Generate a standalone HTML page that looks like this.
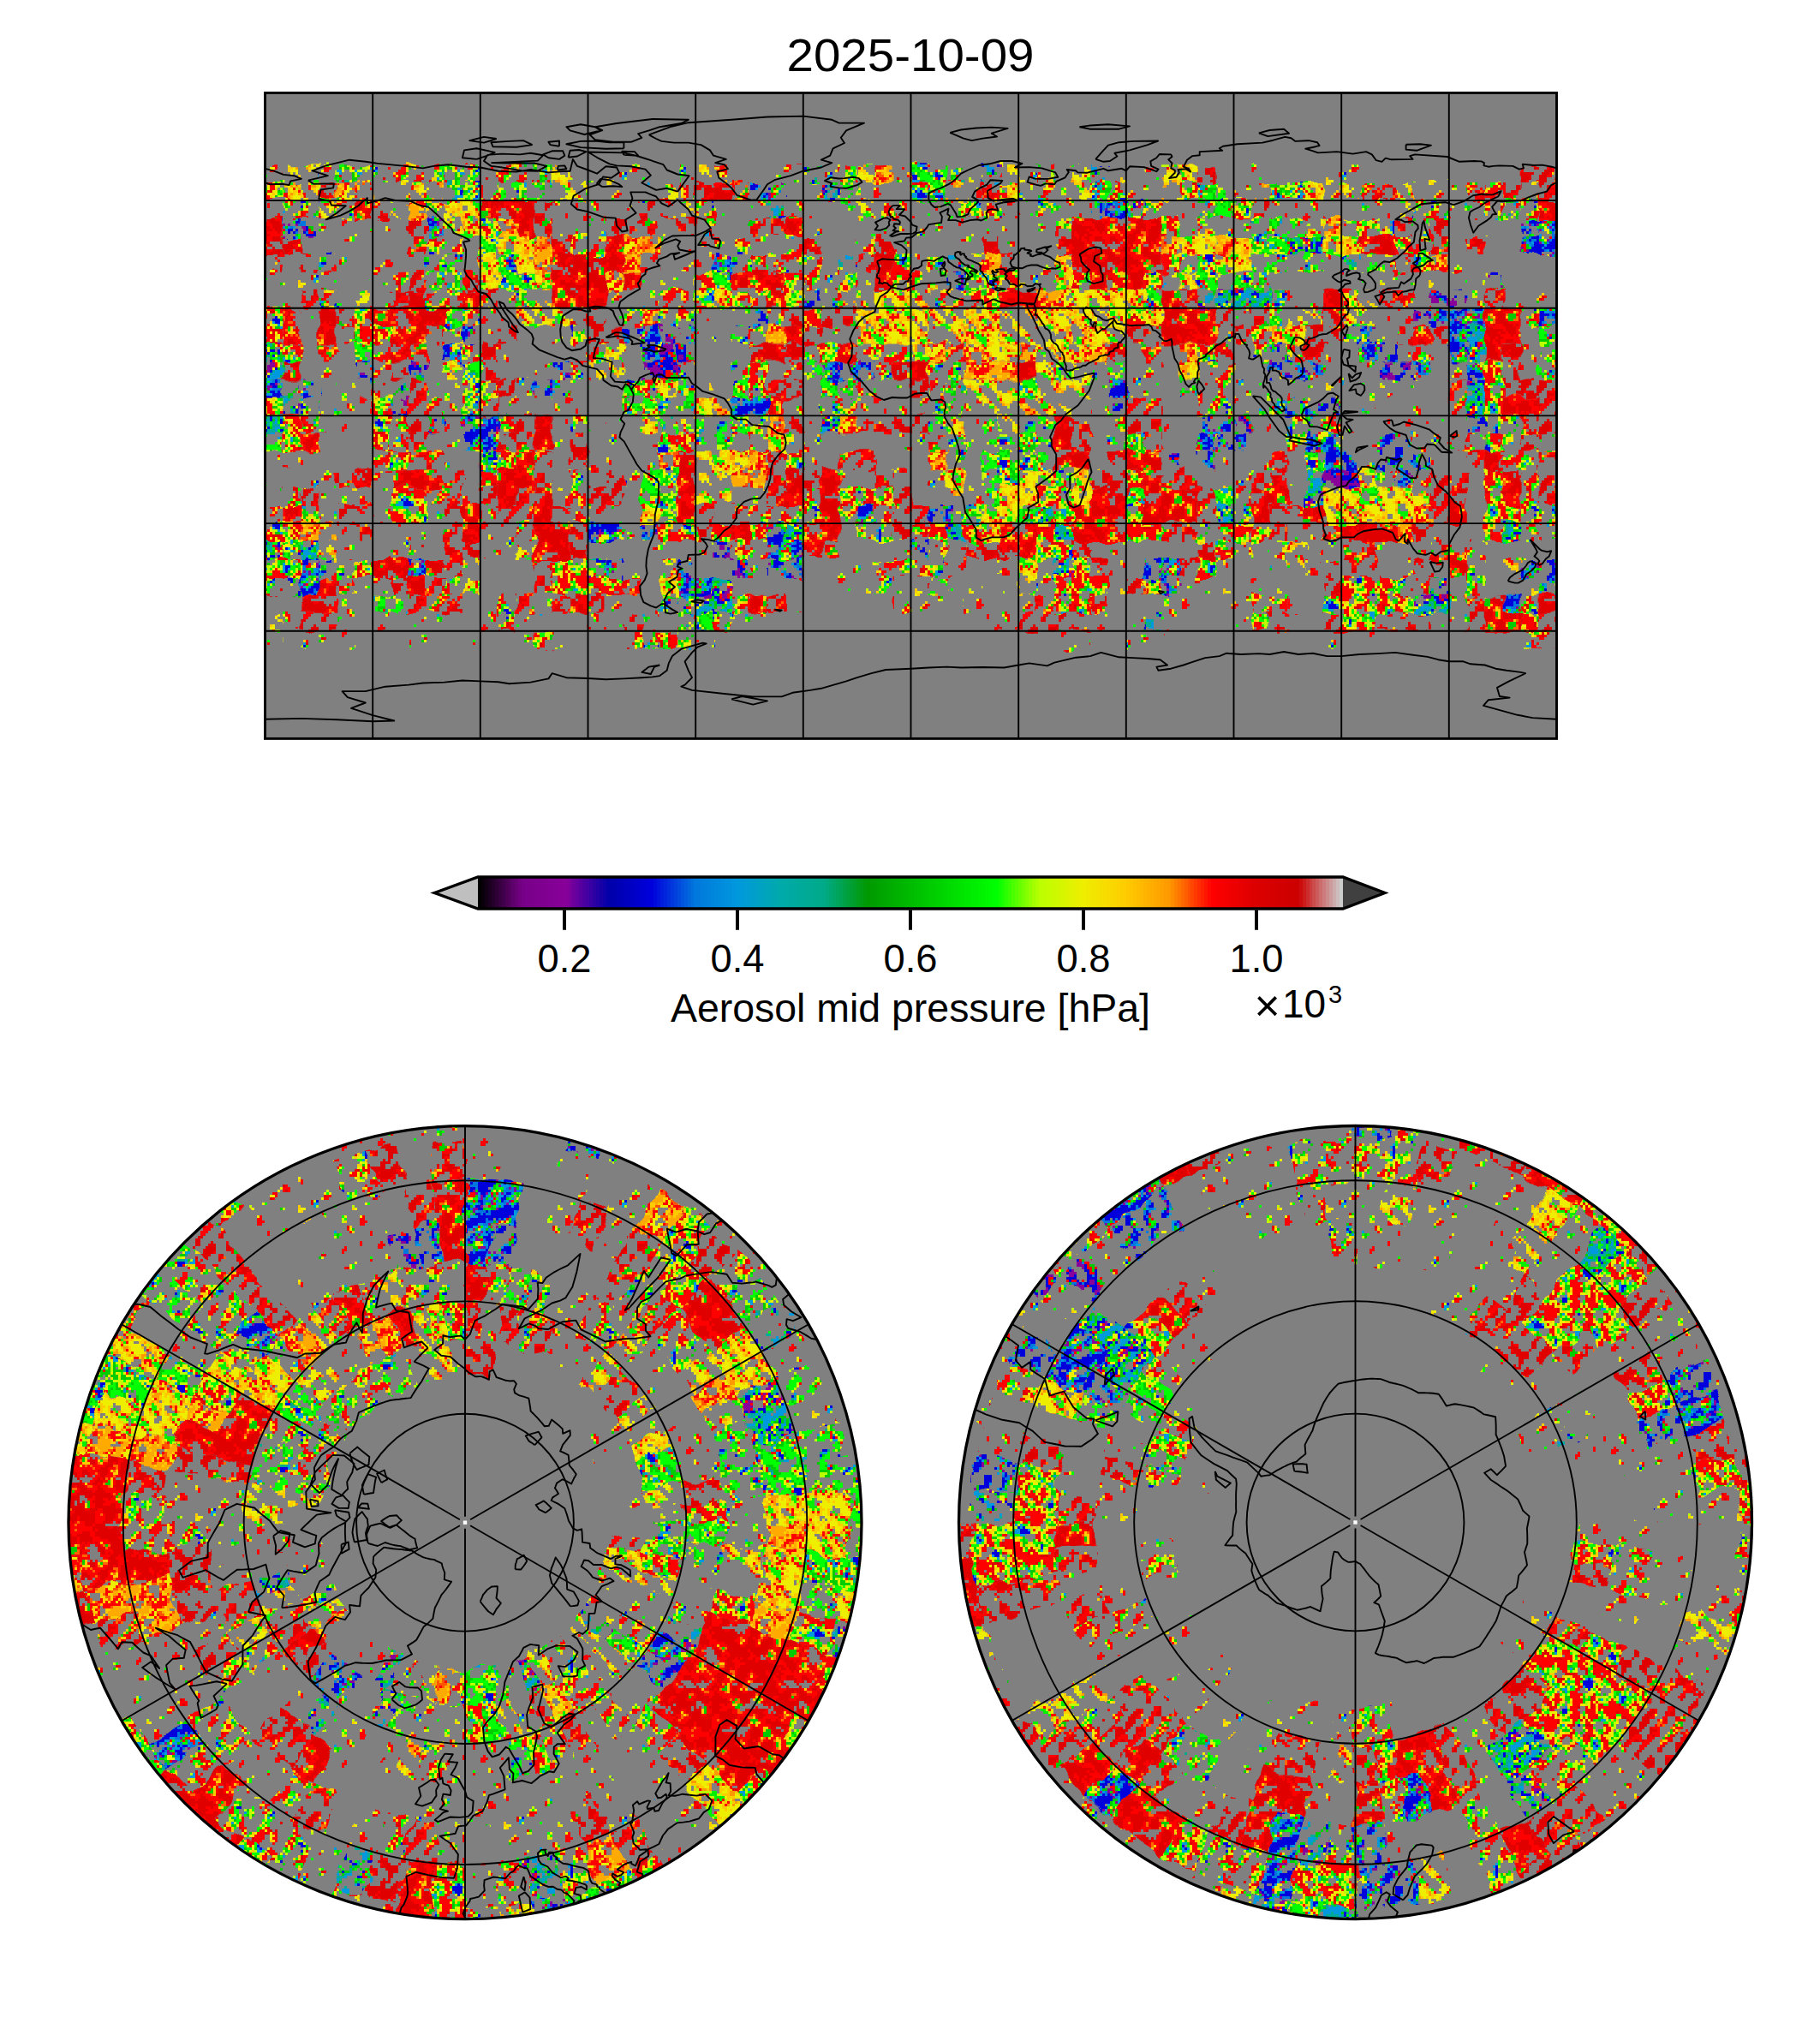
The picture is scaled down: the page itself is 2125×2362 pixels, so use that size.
<!DOCTYPE html><html><head><meta charset="utf-8"><style>html,body{margin:0;padding:0;background:#fff;width:2125px;height:2362px;overflow:hidden}svg{display:block}text{font-family:"Liberation Sans",sans-serif;fill:#000}</style></head><body>
<svg xmlns="http://www.w3.org/2000/svg" width="2125" height="2362" viewBox="0 0 2125 2362">
<defs><linearGradient id="cbg" x1="0" x2="1" y1="0" y2="0"><stop offset="0.0000" stop-color="#000000"/><stop offset="0.0039" stop-color="#000000"/><stop offset="0.0039" stop-color="#09000b"/><stop offset="0.0078" stop-color="#09000b"/><stop offset="0.0078" stop-color="#130015"/><stop offset="0.0117" stop-color="#130015"/><stop offset="0.0117" stop-color="#1c0020"/><stop offset="0.0156" stop-color="#1c0020"/><stop offset="0.0156" stop-color="#25002b"/><stop offset="0.0195" stop-color="#25002b"/><stop offset="0.0195" stop-color="#2f0035"/><stop offset="0.0234" stop-color="#2f0035"/><stop offset="0.0234" stop-color="#380040"/><stop offset="0.0273" stop-color="#380040"/><stop offset="0.0273" stop-color="#41004b"/><stop offset="0.0312" stop-color="#41004b"/><stop offset="0.0312" stop-color="#4b0055"/><stop offset="0.0352" stop-color="#4b0055"/><stop offset="0.0352" stop-color="#540060"/><stop offset="0.0391" stop-color="#540060"/><stop offset="0.0391" stop-color="#5d006b"/><stop offset="0.0430" stop-color="#5d006b"/><stop offset="0.0430" stop-color="#670075"/><stop offset="0.0469" stop-color="#670075"/><stop offset="0.0469" stop-color="#700080"/><stop offset="0.0508" stop-color="#700080"/><stop offset="0.0508" stop-color="#770088"/><stop offset="0.0547" stop-color="#770088"/><stop offset="0.0547" stop-color="#79008a"/><stop offset="0.0586" stop-color="#79008a"/><stop offset="0.0586" stop-color="#7a008b"/><stop offset="0.0625" stop-color="#7a008b"/><stop offset="0.0625" stop-color="#7b008c"/><stop offset="0.0664" stop-color="#7b008c"/><stop offset="0.0664" stop-color="#7d008e"/><stop offset="0.0703" stop-color="#7d008e"/><stop offset="0.0703" stop-color="#7e008f"/><stop offset="0.0742" stop-color="#7e008f"/><stop offset="0.0742" stop-color="#7f0090"/><stop offset="0.0781" stop-color="#7f0090"/><stop offset="0.0781" stop-color="#810092"/><stop offset="0.0820" stop-color="#810092"/><stop offset="0.0820" stop-color="#820093"/><stop offset="0.0859" stop-color="#820093"/><stop offset="0.0859" stop-color="#830094"/><stop offset="0.0898" stop-color="#830094"/><stop offset="0.0898" stop-color="#850096"/><stop offset="0.0938" stop-color="#850096"/><stop offset="0.0938" stop-color="#860097"/><stop offset="0.0977" stop-color="#860097"/><stop offset="0.0977" stop-color="#870098"/><stop offset="0.1016" stop-color="#870098"/><stop offset="0.1016" stop-color="#83009a"/><stop offset="0.1055" stop-color="#83009a"/><stop offset="0.1055" stop-color="#78009b"/><stop offset="0.1094" stop-color="#78009b"/><stop offset="0.1094" stop-color="#6d009c"/><stop offset="0.1133" stop-color="#6d009c"/><stop offset="0.1133" stop-color="#63009e"/><stop offset="0.1172" stop-color="#63009e"/><stop offset="0.1172" stop-color="#58009f"/><stop offset="0.1211" stop-color="#58009f"/><stop offset="0.1211" stop-color="#4d00a0"/><stop offset="0.1250" stop-color="#4d00a0"/><stop offset="0.1250" stop-color="#4300a2"/><stop offset="0.1289" stop-color="#4300a2"/><stop offset="0.1289" stop-color="#3800a3"/><stop offset="0.1328" stop-color="#3800a3"/><stop offset="0.1328" stop-color="#2d00a4"/><stop offset="0.1367" stop-color="#2d00a4"/><stop offset="0.1367" stop-color="#2300a6"/><stop offset="0.1406" stop-color="#2300a6"/><stop offset="0.1406" stop-color="#1800a7"/><stop offset="0.1445" stop-color="#1800a7"/><stop offset="0.1445" stop-color="#0d00a8"/><stop offset="0.1484" stop-color="#0d00a8"/><stop offset="0.1484" stop-color="#0300aa"/><stop offset="0.1523" stop-color="#0300aa"/><stop offset="0.1523" stop-color="#0000ad"/><stop offset="0.1562" stop-color="#0000ad"/><stop offset="0.1562" stop-color="#0000b1"/><stop offset="0.1602" stop-color="#0000b1"/><stop offset="0.1602" stop-color="#0000b5"/><stop offset="0.1641" stop-color="#0000b5"/><stop offset="0.1641" stop-color="#0000b9"/><stop offset="0.1680" stop-color="#0000b9"/><stop offset="0.1680" stop-color="#0000bd"/><stop offset="0.1719" stop-color="#0000bd"/><stop offset="0.1719" stop-color="#0000c1"/><stop offset="0.1758" stop-color="#0000c1"/><stop offset="0.1758" stop-color="#0000c5"/><stop offset="0.1797" stop-color="#0000c5"/><stop offset="0.1797" stop-color="#0000c9"/><stop offset="0.1836" stop-color="#0000c9"/><stop offset="0.1836" stop-color="#0000cd"/><stop offset="0.1875" stop-color="#0000cd"/><stop offset="0.1875" stop-color="#0000d1"/><stop offset="0.1914" stop-color="#0000d1"/><stop offset="0.1914" stop-color="#0000d5"/><stop offset="0.1953" stop-color="#0000d5"/><stop offset="0.1953" stop-color="#0000d9"/><stop offset="0.1992" stop-color="#0000d9"/><stop offset="0.1992" stop-color="#0000dd"/><stop offset="0.2031" stop-color="#0000dd"/><stop offset="0.2031" stop-color="#0009dd"/><stop offset="0.2070" stop-color="#0009dd"/><stop offset="0.2070" stop-color="#0013dd"/><stop offset="0.2109" stop-color="#0013dd"/><stop offset="0.2109" stop-color="#001cdd"/><stop offset="0.2148" stop-color="#001cdd"/><stop offset="0.2148" stop-color="#0025dd"/><stop offset="0.2188" stop-color="#0025dd"/><stop offset="0.2188" stop-color="#002fdd"/><stop offset="0.2227" stop-color="#002fdd"/><stop offset="0.2227" stop-color="#0038dd"/><stop offset="0.2266" stop-color="#0038dd"/><stop offset="0.2266" stop-color="#0041dd"/><stop offset="0.2305" stop-color="#0041dd"/><stop offset="0.2305" stop-color="#004bdd"/><stop offset="0.2344" stop-color="#004bdd"/><stop offset="0.2344" stop-color="#0054dd"/><stop offset="0.2383" stop-color="#0054dd"/><stop offset="0.2383" stop-color="#005ddd"/><stop offset="0.2422" stop-color="#005ddd"/><stop offset="0.2422" stop-color="#0067dd"/><stop offset="0.2461" stop-color="#0067dd"/><stop offset="0.2461" stop-color="#0070dd"/><stop offset="0.2500" stop-color="#0070dd"/><stop offset="0.2500" stop-color="#0078dd"/><stop offset="0.2539" stop-color="#0078dd"/><stop offset="0.2539" stop-color="#007add"/><stop offset="0.2578" stop-color="#007add"/><stop offset="0.2578" stop-color="#007ddd"/><stop offset="0.2617" stop-color="#007ddd"/><stop offset="0.2617" stop-color="#0080dd"/><stop offset="0.2656" stop-color="#0080dd"/><stop offset="0.2656" stop-color="#0082dd"/><stop offset="0.2695" stop-color="#0082dd"/><stop offset="0.2695" stop-color="#0085dd"/><stop offset="0.2734" stop-color="#0085dd"/><stop offset="0.2734" stop-color="#0088dd"/><stop offset="0.2773" stop-color="#0088dd"/><stop offset="0.2773" stop-color="#008add"/><stop offset="0.2812" stop-color="#008add"/><stop offset="0.2812" stop-color="#008ddd"/><stop offset="0.2852" stop-color="#008ddd"/><stop offset="0.2852" stop-color="#0090dd"/><stop offset="0.2891" stop-color="#0090dd"/><stop offset="0.2891" stop-color="#0092dd"/><stop offset="0.2930" stop-color="#0092dd"/><stop offset="0.2930" stop-color="#0095dd"/><stop offset="0.2969" stop-color="#0095dd"/><stop offset="0.2969" stop-color="#0098dd"/><stop offset="0.3008" stop-color="#0098dd"/><stop offset="0.3008" stop-color="#009adb"/><stop offset="0.3047" stop-color="#009adb"/><stop offset="0.3047" stop-color="#009bd7"/><stop offset="0.3086" stop-color="#009bd7"/><stop offset="0.3086" stop-color="#009cd3"/><stop offset="0.3125" stop-color="#009cd3"/><stop offset="0.3125" stop-color="#009ecf"/><stop offset="0.3164" stop-color="#009ecf"/><stop offset="0.3164" stop-color="#009fcb"/><stop offset="0.3203" stop-color="#009fcb"/><stop offset="0.3203" stop-color="#00a0c7"/><stop offset="0.3242" stop-color="#00a0c7"/><stop offset="0.3242" stop-color="#00a2c3"/><stop offset="0.3281" stop-color="#00a2c3"/><stop offset="0.3281" stop-color="#00a3bf"/><stop offset="0.3320" stop-color="#00a3bf"/><stop offset="0.3320" stop-color="#00a4bb"/><stop offset="0.3359" stop-color="#00a4bb"/><stop offset="0.3359" stop-color="#00a6b7"/><stop offset="0.3398" stop-color="#00a6b7"/><stop offset="0.3398" stop-color="#00a7b3"/><stop offset="0.3438" stop-color="#00a7b3"/><stop offset="0.3438" stop-color="#00a8af"/><stop offset="0.3477" stop-color="#00a8af"/><stop offset="0.3477" stop-color="#00aaab"/><stop offset="0.3516" stop-color="#00aaab"/><stop offset="0.3516" stop-color="#00aaa8"/><stop offset="0.3555" stop-color="#00aaa8"/><stop offset="0.3555" stop-color="#00aaa5"/><stop offset="0.3594" stop-color="#00aaa5"/><stop offset="0.3594" stop-color="#00aaa3"/><stop offset="0.3633" stop-color="#00aaa3"/><stop offset="0.3633" stop-color="#00aaa0"/><stop offset="0.3672" stop-color="#00aaa0"/><stop offset="0.3672" stop-color="#00aa9d"/><stop offset="0.3711" stop-color="#00aa9d"/><stop offset="0.3711" stop-color="#00aa9b"/><stop offset="0.3750" stop-color="#00aa9b"/><stop offset="0.3750" stop-color="#00aa98"/><stop offset="0.3789" stop-color="#00aa98"/><stop offset="0.3789" stop-color="#00aa95"/><stop offset="0.3828" stop-color="#00aa95"/><stop offset="0.3828" stop-color="#00aa93"/><stop offset="0.3867" stop-color="#00aa93"/><stop offset="0.3867" stop-color="#00aa90"/><stop offset="0.3906" stop-color="#00aa90"/><stop offset="0.3906" stop-color="#00aa8d"/><stop offset="0.3945" stop-color="#00aa8d"/><stop offset="0.3945" stop-color="#00aa8b"/><stop offset="0.3984" stop-color="#00aa8b"/><stop offset="0.3984" stop-color="#00aa88"/><stop offset="0.4023" stop-color="#00aa88"/><stop offset="0.4023" stop-color="#00a97d"/><stop offset="0.4062" stop-color="#00a97d"/><stop offset="0.4062" stop-color="#00a773"/><stop offset="0.4102" stop-color="#00a773"/><stop offset="0.4102" stop-color="#00a668"/><stop offset="0.4141" stop-color="#00a668"/><stop offset="0.4141" stop-color="#00a55d"/><stop offset="0.4180" stop-color="#00a55d"/><stop offset="0.4180" stop-color="#00a353"/><stop offset="0.4219" stop-color="#00a353"/><stop offset="0.4219" stop-color="#00a248"/><stop offset="0.4258" stop-color="#00a248"/><stop offset="0.4258" stop-color="#00a13d"/><stop offset="0.4297" stop-color="#00a13d"/><stop offset="0.4297" stop-color="#009f33"/><stop offset="0.4336" stop-color="#009f33"/><stop offset="0.4336" stop-color="#009e28"/><stop offset="0.4375" stop-color="#009e28"/><stop offset="0.4375" stop-color="#009d1d"/><stop offset="0.4414" stop-color="#009d1d"/><stop offset="0.4414" stop-color="#009b13"/><stop offset="0.4453" stop-color="#009b13"/><stop offset="0.4453" stop-color="#009a08"/><stop offset="0.4492" stop-color="#009a08"/><stop offset="0.4492" stop-color="#009a00"/><stop offset="0.4531" stop-color="#009a00"/><stop offset="0.4531" stop-color="#009c00"/><stop offset="0.4570" stop-color="#009c00"/><stop offset="0.4570" stop-color="#009f00"/><stop offset="0.4609" stop-color="#009f00"/><stop offset="0.4609" stop-color="#00a200"/><stop offset="0.4648" stop-color="#00a200"/><stop offset="0.4648" stop-color="#00a400"/><stop offset="0.4688" stop-color="#00a400"/><stop offset="0.4688" stop-color="#00a700"/><stop offset="0.4727" stop-color="#00a700"/><stop offset="0.4727" stop-color="#00aa00"/><stop offset="0.4766" stop-color="#00aa00"/><stop offset="0.4766" stop-color="#00ac00"/><stop offset="0.4805" stop-color="#00ac00"/><stop offset="0.4805" stop-color="#00af00"/><stop offset="0.4844" stop-color="#00af00"/><stop offset="0.4844" stop-color="#00b200"/><stop offset="0.4883" stop-color="#00b200"/><stop offset="0.4883" stop-color="#00b400"/><stop offset="0.4922" stop-color="#00b400"/><stop offset="0.4922" stop-color="#00b700"/><stop offset="0.4961" stop-color="#00b700"/><stop offset="0.4961" stop-color="#00ba00"/><stop offset="0.5000" stop-color="#00ba00"/><stop offset="0.5000" stop-color="#00bc00"/><stop offset="0.5039" stop-color="#00bc00"/><stop offset="0.5039" stop-color="#00bf00"/><stop offset="0.5078" stop-color="#00bf00"/><stop offset="0.5078" stop-color="#00c200"/><stop offset="0.5117" stop-color="#00c200"/><stop offset="0.5117" stop-color="#00c400"/><stop offset="0.5156" stop-color="#00c400"/><stop offset="0.5156" stop-color="#00c700"/><stop offset="0.5195" stop-color="#00c700"/><stop offset="0.5195" stop-color="#00ca00"/><stop offset="0.5234" stop-color="#00ca00"/><stop offset="0.5234" stop-color="#00cc00"/><stop offset="0.5273" stop-color="#00cc00"/><stop offset="0.5273" stop-color="#00cf00"/><stop offset="0.5312" stop-color="#00cf00"/><stop offset="0.5312" stop-color="#00d200"/><stop offset="0.5352" stop-color="#00d200"/><stop offset="0.5352" stop-color="#00d400"/><stop offset="0.5391" stop-color="#00d400"/><stop offset="0.5391" stop-color="#00d700"/><stop offset="0.5430" stop-color="#00d700"/><stop offset="0.5430" stop-color="#00da00"/><stop offset="0.5469" stop-color="#00da00"/><stop offset="0.5469" stop-color="#00dc00"/><stop offset="0.5508" stop-color="#00dc00"/><stop offset="0.5508" stop-color="#00df00"/><stop offset="0.5547" stop-color="#00df00"/><stop offset="0.5547" stop-color="#00e200"/><stop offset="0.5586" stop-color="#00e200"/><stop offset="0.5586" stop-color="#00e400"/><stop offset="0.5625" stop-color="#00e400"/><stop offset="0.5625" stop-color="#00e700"/><stop offset="0.5664" stop-color="#00e700"/><stop offset="0.5664" stop-color="#00ea00"/><stop offset="0.5703" stop-color="#00ea00"/><stop offset="0.5703" stop-color="#00ec00"/><stop offset="0.5742" stop-color="#00ec00"/><stop offset="0.5742" stop-color="#00ef00"/><stop offset="0.5781" stop-color="#00ef00"/><stop offset="0.5781" stop-color="#00f200"/><stop offset="0.5820" stop-color="#00f200"/><stop offset="0.5820" stop-color="#00f400"/><stop offset="0.5859" stop-color="#00f400"/><stop offset="0.5859" stop-color="#00f700"/><stop offset="0.5898" stop-color="#00f700"/><stop offset="0.5898" stop-color="#00fa00"/><stop offset="0.5938" stop-color="#00fa00"/><stop offset="0.5938" stop-color="#00fc00"/><stop offset="0.5977" stop-color="#00fc00"/><stop offset="0.5977" stop-color="#00ff00"/><stop offset="0.6016" stop-color="#00ff00"/><stop offset="0.6016" stop-color="#0fff00"/><stop offset="0.6055" stop-color="#0fff00"/><stop offset="0.6055" stop-color="#1dff00"/><stop offset="0.6094" stop-color="#1dff00"/><stop offset="0.6094" stop-color="#2cff00"/><stop offset="0.6133" stop-color="#2cff00"/><stop offset="0.6133" stop-color="#3bff00"/><stop offset="0.6172" stop-color="#3bff00"/><stop offset="0.6172" stop-color="#49ff00"/><stop offset="0.6211" stop-color="#49ff00"/><stop offset="0.6211" stop-color="#58ff00"/><stop offset="0.6250" stop-color="#58ff00"/><stop offset="0.6250" stop-color="#67ff00"/><stop offset="0.6289" stop-color="#67ff00"/><stop offset="0.6289" stop-color="#75ff00"/><stop offset="0.6328" stop-color="#75ff00"/><stop offset="0.6328" stop-color="#84ff00"/><stop offset="0.6367" stop-color="#84ff00"/><stop offset="0.6367" stop-color="#93ff00"/><stop offset="0.6406" stop-color="#93ff00"/><stop offset="0.6406" stop-color="#a1ff00"/><stop offset="0.6445" stop-color="#a1ff00"/><stop offset="0.6445" stop-color="#b0ff00"/><stop offset="0.6484" stop-color="#b0ff00"/><stop offset="0.6484" stop-color="#bcff00"/><stop offset="0.6523" stop-color="#bcff00"/><stop offset="0.6523" stop-color="#c0fd00"/><stop offset="0.6562" stop-color="#c0fd00"/><stop offset="0.6562" stop-color="#c4fc00"/><stop offset="0.6602" stop-color="#c4fc00"/><stop offset="0.6602" stop-color="#c8fb00"/><stop offset="0.6641" stop-color="#c8fb00"/><stop offset="0.6641" stop-color="#ccf900"/><stop offset="0.6680" stop-color="#ccf900"/><stop offset="0.6680" stop-color="#d0f800"/><stop offset="0.6719" stop-color="#d0f800"/><stop offset="0.6719" stop-color="#d4f700"/><stop offset="0.6758" stop-color="#d4f700"/><stop offset="0.6758" stop-color="#d8f500"/><stop offset="0.6797" stop-color="#d8f500"/><stop offset="0.6797" stop-color="#dcf400"/><stop offset="0.6836" stop-color="#dcf400"/><stop offset="0.6836" stop-color="#e0f300"/><stop offset="0.6875" stop-color="#e0f300"/><stop offset="0.6875" stop-color="#e4f100"/><stop offset="0.6914" stop-color="#e4f100"/><stop offset="0.6914" stop-color="#e8f000"/><stop offset="0.6953" stop-color="#e8f000"/><stop offset="0.6953" stop-color="#ecef00"/><stop offset="0.6992" stop-color="#ecef00"/><stop offset="0.6992" stop-color="#efed00"/><stop offset="0.7031" stop-color="#efed00"/><stop offset="0.7031" stop-color="#f0ea00"/><stop offset="0.7070" stop-color="#f0ea00"/><stop offset="0.7070" stop-color="#f1e700"/><stop offset="0.7109" stop-color="#f1e700"/><stop offset="0.7109" stop-color="#f3e500"/><stop offset="0.7148" stop-color="#f3e500"/><stop offset="0.7148" stop-color="#f4e200"/><stop offset="0.7188" stop-color="#f4e200"/><stop offset="0.7188" stop-color="#f5df00"/><stop offset="0.7227" stop-color="#f5df00"/><stop offset="0.7227" stop-color="#f7dd00"/><stop offset="0.7266" stop-color="#f7dd00"/><stop offset="0.7266" stop-color="#f8da00"/><stop offset="0.7305" stop-color="#f8da00"/><stop offset="0.7305" stop-color="#f9d700"/><stop offset="0.7344" stop-color="#f9d700"/><stop offset="0.7344" stop-color="#fbd500"/><stop offset="0.7383" stop-color="#fbd500"/><stop offset="0.7383" stop-color="#fcd200"/><stop offset="0.7422" stop-color="#fcd200"/><stop offset="0.7422" stop-color="#fdcf00"/><stop offset="0.7461" stop-color="#fdcf00"/><stop offset="0.7461" stop-color="#ffcd00"/><stop offset="0.7500" stop-color="#ffcd00"/><stop offset="0.7500" stop-color="#ffc900"/><stop offset="0.7539" stop-color="#ffc900"/><stop offset="0.7539" stop-color="#ffc500"/><stop offset="0.7578" stop-color="#ffc500"/><stop offset="0.7578" stop-color="#ffc100"/><stop offset="0.7617" stop-color="#ffc100"/><stop offset="0.7617" stop-color="#ffbd00"/><stop offset="0.7656" stop-color="#ffbd00"/><stop offset="0.7656" stop-color="#ffb900"/><stop offset="0.7695" stop-color="#ffb900"/><stop offset="0.7695" stop-color="#ffb500"/><stop offset="0.7734" stop-color="#ffb500"/><stop offset="0.7734" stop-color="#ffb100"/><stop offset="0.7773" stop-color="#ffb100"/><stop offset="0.7773" stop-color="#ffad00"/><stop offset="0.7812" stop-color="#ffad00"/><stop offset="0.7812" stop-color="#ffa900"/><stop offset="0.7852" stop-color="#ffa900"/><stop offset="0.7852" stop-color="#ffa500"/><stop offset="0.7891" stop-color="#ffa500"/><stop offset="0.7891" stop-color="#ffa100"/><stop offset="0.7930" stop-color="#ffa100"/><stop offset="0.7930" stop-color="#ff9d00"/><stop offset="0.7969" stop-color="#ff9d00"/><stop offset="0.7969" stop-color="#ff9900"/><stop offset="0.8008" stop-color="#ff9900"/><stop offset="0.8008" stop-color="#ff8d00"/><stop offset="0.8047" stop-color="#ff8d00"/><stop offset="0.8047" stop-color="#ff8100"/><stop offset="0.8086" stop-color="#ff8100"/><stop offset="0.8086" stop-color="#ff7500"/><stop offset="0.8125" stop-color="#ff7500"/><stop offset="0.8125" stop-color="#ff6900"/><stop offset="0.8164" stop-color="#ff6900"/><stop offset="0.8164" stop-color="#ff5d00"/><stop offset="0.8203" stop-color="#ff5d00"/><stop offset="0.8203" stop-color="#ff5100"/><stop offset="0.8242" stop-color="#ff5100"/><stop offset="0.8242" stop-color="#ff4500"/><stop offset="0.8281" stop-color="#ff4500"/><stop offset="0.8281" stop-color="#ff3900"/><stop offset="0.8320" stop-color="#ff3900"/><stop offset="0.8320" stop-color="#ff2d00"/><stop offset="0.8359" stop-color="#ff2d00"/><stop offset="0.8359" stop-color="#ff2100"/><stop offset="0.8398" stop-color="#ff2100"/><stop offset="0.8398" stop-color="#ff1500"/><stop offset="0.8438" stop-color="#ff1500"/><stop offset="0.8438" stop-color="#ff0900"/><stop offset="0.8477" stop-color="#ff0900"/><stop offset="0.8477" stop-color="#fe0000"/><stop offset="0.8516" stop-color="#fe0000"/><stop offset="0.8516" stop-color="#fc0000"/><stop offset="0.8555" stop-color="#fc0000"/><stop offset="0.8555" stop-color="#f90000"/><stop offset="0.8594" stop-color="#f90000"/><stop offset="0.8594" stop-color="#f60000"/><stop offset="0.8633" stop-color="#f60000"/><stop offset="0.8633" stop-color="#f40000"/><stop offset="0.8672" stop-color="#f40000"/><stop offset="0.8672" stop-color="#f10000"/><stop offset="0.8711" stop-color="#f10000"/><stop offset="0.8711" stop-color="#ee0000"/><stop offset="0.8750" stop-color="#ee0000"/><stop offset="0.8750" stop-color="#ec0000"/><stop offset="0.8789" stop-color="#ec0000"/><stop offset="0.8789" stop-color="#e90000"/><stop offset="0.8828" stop-color="#e90000"/><stop offset="0.8828" stop-color="#e60000"/><stop offset="0.8867" stop-color="#e60000"/><stop offset="0.8867" stop-color="#e40000"/><stop offset="0.8906" stop-color="#e40000"/><stop offset="0.8906" stop-color="#e10000"/><stop offset="0.8945" stop-color="#e10000"/><stop offset="0.8945" stop-color="#de0000"/><stop offset="0.8984" stop-color="#de0000"/><stop offset="0.8984" stop-color="#dc0000"/><stop offset="0.9023" stop-color="#dc0000"/><stop offset="0.9023" stop-color="#db0000"/><stop offset="0.9062" stop-color="#db0000"/><stop offset="0.9062" stop-color="#da0000"/><stop offset="0.9102" stop-color="#da0000"/><stop offset="0.9102" stop-color="#d80000"/><stop offset="0.9141" stop-color="#d80000"/><stop offset="0.9141" stop-color="#d70000"/><stop offset="0.9180" stop-color="#d70000"/><stop offset="0.9180" stop-color="#d60000"/><stop offset="0.9219" stop-color="#d60000"/><stop offset="0.9219" stop-color="#d40000"/><stop offset="0.9258" stop-color="#d40000"/><stop offset="0.9258" stop-color="#d30000"/><stop offset="0.9297" stop-color="#d30000"/><stop offset="0.9297" stop-color="#d20000"/><stop offset="0.9336" stop-color="#d20000"/><stop offset="0.9336" stop-color="#d00000"/><stop offset="0.9375" stop-color="#d00000"/><stop offset="0.9375" stop-color="#cf0000"/><stop offset="0.9414" stop-color="#cf0000"/><stop offset="0.9414" stop-color="#ce0000"/><stop offset="0.9453" stop-color="#ce0000"/><stop offset="0.9453" stop-color="#cc0000"/><stop offset="0.9492" stop-color="#cc0000"/><stop offset="0.9492" stop-color="#cc0c0c"/><stop offset="0.9531" stop-color="#cc0c0c"/><stop offset="0.9531" stop-color="#cc1c1c"/><stop offset="0.9570" stop-color="#cc1c1c"/><stop offset="0.9570" stop-color="#cc2c2c"/><stop offset="0.9609" stop-color="#cc2c2c"/><stop offset="0.9609" stop-color="#cc3c3c"/><stop offset="0.9648" stop-color="#cc3c3c"/><stop offset="0.9648" stop-color="#cc4c4c"/><stop offset="0.9688" stop-color="#cc4c4c"/><stop offset="0.9688" stop-color="#cc5c5c"/><stop offset="0.9727" stop-color="#cc5c5c"/><stop offset="0.9727" stop-color="#cc6c6c"/><stop offset="0.9766" stop-color="#cc6c6c"/><stop offset="0.9766" stop-color="#cc7c7c"/><stop offset="0.9805" stop-color="#cc7c7c"/><stop offset="0.9805" stop-color="#cc8c8c"/><stop offset="0.9844" stop-color="#cc8c8c"/><stop offset="0.9844" stop-color="#cc9c9c"/><stop offset="0.9883" stop-color="#cc9c9c"/><stop offset="0.9883" stop-color="#ccacac"/><stop offset="0.9922" stop-color="#ccacac"/><stop offset="0.9922" stop-color="#ccbcbc"/><stop offset="0.9961" stop-color="#ccbcbc"/><stop offset="0.9961" stop-color="#cccccc"/><stop offset="1.0000" stop-color="#cccccc"/></linearGradient><filter id="wm" filterUnits="userSpaceOnUse" x="300" y="100" width="1530" height="775"><feTurbulence type="fractalNoise" baseFrequency="0.045" numOctaves="2" seed="7" result="t"/><feDisplacementMap in="SourceGraphic" in2="t" scale="14" xChannelSelector="R" yChannelSelector="G"/></filter><filter id="wn" filterUnits="userSpaceOnUse" x="70" y="1305" width="950" height="950"><feTurbulence type="fractalNoise" baseFrequency="0.035" numOctaves="2" seed="11" result="t"/><feDisplacementMap in="SourceGraphic" in2="t" scale="20" xChannelSelector="R" yChannelSelector="G"/></filter><filter id="ws" filterUnits="userSpaceOnUse" x="1110" y="1305" width="950" height="950"><feTurbulence type="fractalNoise" baseFrequency="0.035" numOctaves="2" seed="13" result="t"/><feDisplacementMap in="SourceGraphic" in2="t" scale="20" xChannelSelector="R" yChannelSelector="G"/></filter><clipPath id="cm"><rect x="309.5" y="108.4" width="1508" height="754"/></clipPath><clipPath id="cn"><circle cx="543" cy="1777.7" r="463"/></clipPath><clipPath id="cs"><circle cx="1582.5" cy="1777.5" r="463"/></clipPath><pattern id="p0" patternUnits="userSpaceOnUse" width="120" height="120"><path fill="#ff0000" d="M0 0h9v3h-9zM24 0h6v3h-6zM42 0h6v3h-6zM63 0h3v3h-3zM72 0h3v3h-3zM90 0h3v3h-3zM96 0h3v3h-3zM102 0h3v3h-3zM108 0h3v3h-3zM114 0h3v3h-3zM63 3h6v3h-6zM75 3h12v3h-12zM93 3h3v3h-3zM99 3h6v3h-6zM111 3h3v3h-3zM117 3h3v3h-3zM6 6h3v3h-3zM33 6h3v3h-3zM63 6h3v3h-3zM90 6h6v3h-6zM3 9h9v3h-9zM36 9h3v3h-3zM54 9h3v3h-3zM66 9h3v3h-3zM96 9h9v3h-9zM3 12h3v3h-3zM9 12h3v3h-3zM36 12h6v3h-6zM51 12h3v3h-3zM78 12h3v3h-3zM96 12h3v3h-3zM0 15h9v3h-9zM18 15h3v3h-3zM24 15h3v3h-3zM33 15h6v3h-6zM42 15h6v3h-6zM54 15h6v3h-6zM81 15h15v3h-15zM102 15h3v3h-3zM117 15h3v3h-3zM0 18h6v3h-6zM15 18h9v3h-9zM42 18h3v3h-3zM57 18h6v3h-6zM66 18h9v3h-9zM87 18h3v3h-3zM93 18h12v3h-12zM6 21h3v3h-3zM18 21h12v3h-12zM63 21h15v3h-15zM90 21h6v3h-6zM111 21h3v3h-3zM18 24h6v3h-6zM75 24h3v3h-3zM90 24h3v3h-3zM102 24h3v3h-3zM111 24h3v3h-3zM0 27h6v3h-6zM12 27h3v3h-3zM18 27h3v3h-3zM69 27h3v3h-3zM78 27h3v3h-3zM90 27h6v3h-6zM111 27h3v3h-3zM0 30h3v3h-3zM18 30h3v3h-3zM36 30h3v3h-3zM54 30h3v3h-3zM72 30h12v3h-12zM87 30h3v3h-3zM96 30h3v3h-3zM102 30h3v3h-3zM108 30h12v3h-12zM6 33h9v3h-9zM18 33h3v3h-3zM33 33h3v3h-3zM39 33h3v3h-3zM54 33h6v3h-6zM66 33h3v3h-3zM75 33h33v3h-33zM111 33h6v3h-6zM6 36h3v3h-3zM33 36h3v3h-3zM39 36h6v3h-6zM57 36h3v3h-3zM63 36h3v3h-3zM72 36h6v3h-6zM87 36h9v3h-9zM102 36h12v3h-12zM6 39h6v3h-6zM30 39h12v3h-12zM63 39h6v3h-6zM72 39h6v3h-6zM90 39h6v3h-6zM105 39h6v3h-6zM114 39h3v3h-3zM3 42h9v3h-9zM15 42h6v3h-6zM24 42h3v3h-3zM30 42h3v3h-3zM48 42h3v3h-3zM66 42h6v3h-6zM90 42h6v3h-6zM105 42h3v3h-3zM111 42h6v3h-6zM6 45h3v3h-3zM12 45h3v3h-3zM24 45h3v3h-3zM30 45h6v3h-6zM66 45h3v3h-3zM72 45h3v3h-3zM108 45h6v3h-6zM117 45h3v3h-3zM0 48h6v3h-6zM12 48h3v3h-3zM21 48h6v3h-6zM51 48h3v3h-3zM66 48h6v3h-6zM105 48h6v3h-6zM12 51h3v3h-3zM21 51h3v3h-3zM27 51h3v3h-3zM69 51h9v3h-9zM96 51h3v3h-3zM102 51h6v3h-6zM114 51h3v3h-3zM0 54h6v3h-6zM27 54h6v3h-6zM45 54h6v3h-6zM69 54h6v3h-6zM87 54h3v3h-3zM99 54h3v3h-3zM108 54h6v3h-6zM117 54h3v3h-3zM0 57h15v3h-15zM45 57h3v3h-3zM90 57h3v3h-3zM102 57h12v3h-12zM3 60h18v3h-18zM39 60h3v3h-3zM48 60h6v3h-6zM63 60h6v3h-6zM87 60h6v3h-6zM108 60h3v3h-3zM9 63h3v3h-3zM15 63h3v3h-3zM51 63h3v3h-3zM60 63h6v3h-6zM81 63h9v3h-9zM12 66h3v3h-3zM24 66h3v3h-3zM48 66h3v3h-3zM60 66h3v3h-3zM108 66h3v3h-3zM0 69h6v3h-6zM9 69h6v3h-6zM27 69h3v3h-3zM54 69h3v3h-3zM102 69h9v3h-9zM3 72h15v3h-15zM42 72h3v3h-3zM57 72h3v3h-3zM96 72h3v3h-3zM105 72h3v3h-3zM0 75h9v3h-9zM15 75h6v3h-6zM54 75h3v3h-3zM75 75h6v3h-6zM105 75h6v3h-6zM15 78h6v3h-6zM27 78h12v3h-12zM51 78h6v3h-6zM60 78h3v3h-3zM78 78h3v3h-3zM105 78h6v3h-6zM21 81h9v3h-9zM33 81h6v3h-6zM42 81h3v3h-3zM54 81h9v3h-9zM69 81h6v3h-6zM99 81h6v3h-6zM114 81h6v3h-6zM21 84h3v3h-3zM42 84h3v3h-3zM51 84h18v3h-18zM72 84h3v3h-3zM78 84h9v3h-9zM111 84h9v3h-9zM0 87h3v3h-3zM15 87h3v3h-3zM21 87h3v3h-3zM33 87h3v3h-3zM45 87h9v3h-9zM60 87h6v3h-6zM69 87h3v3h-3zM75 87h9v3h-9zM111 87h6v3h-6zM0 90h3v3h-3zM15 90h3v3h-3zM33 90h3v3h-3zM48 90h6v3h-6zM72 90h9v3h-9zM90 90h3v3h-3zM111 90h9v3h-9zM0 93h3v3h-3zM12 93h12v3h-12zM36 93h6v3h-6zM45 93h15v3h-15zM90 93h3v3h-3zM111 93h9v3h-9zM9 96h3v3h-3zM15 96h3v3h-3zM36 96h3v3h-3zM45 96h6v3h-6zM57 96h3v3h-3zM78 96h6v3h-6zM87 96h3v3h-3zM93 96h6v3h-6zM111 96h9v3h-9zM33 99h3v3h-3zM48 99h3v3h-3zM75 99h12v3h-12zM90 99h9v3h-9zM108 99h3v3h-3zM6 102h6v3h-6zM30 102h6v3h-6zM48 102h3v3h-3zM60 102h3v3h-3zM75 102h33v3h-33zM30 105h6v3h-6zM48 105h3v3h-3zM63 105h6v3h-6zM72 105h3v3h-3zM81 105h6v3h-6zM90 105h18v3h-18zM111 105h3v3h-3zM24 108h12v3h-12zM45 108h3v3h-3zM54 108h3v3h-3zM60 108h6v3h-6zM72 108h3v3h-3zM81 108h15v3h-15zM105 108h6v3h-6zM21 111h3v3h-3zM27 111h6v3h-6zM39 111h3v3h-3zM45 111h3v3h-3zM51 111h6v3h-6zM72 111h3v3h-3zM84 111h6v3h-6zM105 111h6v3h-6zM18 114h6v3h-6zM30 114h3v3h-3zM42 114h3v3h-3zM48 114h3v3h-3zM63 114h3v3h-3zM72 114h3v3h-3zM90 114h3v3h-3zM108 114h9v3h-9zM0 117h6v3h-6zM21 117h3v3h-3zM27 117h6v3h-6zM42 117h3v3h-3zM63 117h3v3h-3zM72 117h3v3h-3zM90 117h3v3h-3zM108 117h12v3h-12z"/><path fill="#e00000" d="M9 0h15v3h-15zM30 0h12v3h-12zM48 0h15v3h-15zM75 0h15v3h-15zM93 0h3v3h-3zM99 0h3v3h-3zM105 0h3v3h-3zM111 0h3v3h-3zM9 3h54v3h-54zM69 3h6v3h-6zM96 3h3v3h-3zM114 3h3v3h-3zM0 6h3v3h-3zM9 6h24v3h-24zM36 6h21v3h-21zM66 6h12v3h-12zM96 6h3v3h-3zM114 6h6v3h-6zM0 9h3v3h-3zM12 9h24v3h-24zM39 9h15v3h-15zM69 9h9v3h-9zM93 9h3v3h-3zM114 9h6v3h-6zM0 12h3v3h-3zM6 12h3v3h-3zM12 12h24v3h-24zM42 12h6v3h-6zM66 12h12v3h-12zM93 12h3v3h-3zM99 12h3v3h-3zM117 12h3v3h-3zM9 15h9v3h-9zM21 15h3v3h-3zM27 15h6v3h-6zM39 15h3v3h-3zM66 15h15v3h-15zM6 18h9v3h-9zM24 18h18v3h-18zM45 18h12v3h-12zM63 18h3v3h-3zM75 18h12v3h-12zM90 18h3v3h-3zM9 21h9v3h-9zM30 21h33v3h-33zM78 21h12v3h-12zM105 21h3v3h-3zM6 24h12v3h-12zM24 24h51v3h-51zM78 24h12v3h-12zM105 24h6v3h-6zM6 27h6v3h-6zM15 27h3v3h-3zM21 27h48v3h-48zM72 27h6v3h-6zM81 27h9v3h-9zM105 27h6v3h-6zM3 30h9v3h-9zM21 30h15v3h-15zM39 30h15v3h-15zM57 30h15v3h-15zM84 30h3v3h-3zM90 30h3v3h-3zM0 33h6v3h-6zM21 33h12v3h-12zM42 33h12v3h-12zM60 33h6v3h-6zM69 33h6v3h-6zM117 33h3v3h-3zM0 36h6v3h-6zM18 36h15v3h-15zM45 36h12v3h-12zM60 36h3v3h-3zM66 36h6v3h-6zM78 36h9v3h-9zM96 36h6v3h-6zM114 36h6v3h-6zM0 39h6v3h-6zM18 39h12v3h-12zM42 39h21v3h-21zM69 39h3v3h-3zM78 39h12v3h-12zM96 39h9v3h-9zM117 39h3v3h-3zM0 42h3v3h-3zM21 42h3v3h-3zM27 42h3v3h-3zM39 42h9v3h-9zM51 42h15v3h-15zM72 42h3v3h-3zM87 42h3v3h-3zM96 42h3v3h-3zM102 42h3v3h-3zM117 42h3v3h-3zM0 45h3v3h-3zM21 45h3v3h-3zM51 45h15v3h-15zM75 45h3v3h-3zM90 45h3v3h-3zM114 45h3v3h-3zM15 48h6v3h-6zM45 48h6v3h-6zM54 48h12v3h-12zM78 48h3v3h-3zM93 48h3v3h-3zM111 48h9v3h-9zM15 51h6v3h-6zM39 51h30v3h-30zM78 51h18v3h-18zM108 51h6v3h-6zM117 51h3v3h-3zM12 54h15v3h-15zM33 54h12v3h-12zM51 54h18v3h-18zM75 54h12v3h-12zM90 54h9v3h-9zM114 54h3v3h-3zM15 57h27v3h-27zM51 57h33v3h-33zM93 57h9v3h-9zM114 57h6v3h-6zM0 60h3v3h-3zM21 60h18v3h-18zM54 60h9v3h-9zM69 60h15v3h-15zM93 60h15v3h-15zM111 60h9v3h-9zM0 63h9v3h-9zM24 63h12v3h-12zM54 63h6v3h-6zM66 63h15v3h-15zM90 63h30v3h-30zM0 66h12v3h-12zM27 66h9v3h-9zM51 66h9v3h-9zM63 66h30v3h-30zM99 66h9v3h-9zM111 66h9v3h-9zM6 69h3v3h-3zM51 69h3v3h-3zM57 69h9v3h-9zM69 69h24v3h-24zM111 69h9v3h-9zM0 72h3v3h-3zM63 72h24v3h-24zM90 72h3v3h-3zM108 72h12v3h-12zM9 75h6v3h-6zM30 75h24v3h-24zM63 75h12v3h-12zM81 75h6v3h-6zM90 75h9v3h-9zM111 75h9v3h-9zM0 78h15v3h-15zM39 78h12v3h-12zM66 78h9v3h-9zM81 78h18v3h-18zM111 78h9v3h-9zM0 81h21v3h-21zM30 81h3v3h-3zM45 81h9v3h-9zM63 81h6v3h-6zM84 81h15v3h-15zM105 81h9v3h-9zM0 84h21v3h-21zM24 84h9v3h-9zM45 84h6v3h-6zM69 84h3v3h-3zM87 84h24v3h-24zM3 87h12v3h-12zM24 87h9v3h-9zM54 87h6v3h-6zM66 87h3v3h-3zM84 87h27v3h-27zM3 90h12v3h-12zM21 90h12v3h-12zM54 90h18v3h-18zM81 90h9v3h-9zM93 90h18v3h-18zM3 93h9v3h-9zM24 93h9v3h-9zM60 93h30v3h-30zM93 93h18v3h-18zM0 96h9v3h-9zM18 96h3v3h-3zM39 96h6v3h-6zM60 96h6v3h-6zM72 96h6v3h-6zM84 96h3v3h-3zM99 96h12v3h-12zM0 99h3v3h-3zM36 99h12v3h-12zM60 99h12v3h-12zM99 99h9v3h-9zM111 99h9v3h-9zM0 102h6v3h-6zM12 102h6v3h-6zM36 102h12v3h-12zM63 102h12v3h-12zM108 102h12v3h-12zM0 105h21v3h-21zM24 105h3v3h-3zM36 105h12v3h-12zM69 105h3v3h-3zM75 105h6v3h-6zM108 105h3v3h-3zM114 105h6v3h-6zM0 108h24v3h-24zM36 108h9v3h-9zM75 108h6v3h-6zM96 108h9v3h-9zM111 108h9v3h-9zM0 111h21v3h-21zM33 111h6v3h-6zM42 111h3v3h-3zM57 111h6v3h-6zM75 111h9v3h-9zM90 111h15v3h-15zM111 111h9v3h-9zM0 114h18v3h-18zM33 114h9v3h-9zM51 114h12v3h-12zM75 114h15v3h-15zM93 114h15v3h-15zM117 114h3v3h-3zM6 117h15v3h-15zM33 117h9v3h-9zM48 117h15v3h-15zM75 117h15v3h-15zM93 117h15v3h-15z"/><path fill="#ff6600" d="M66 0h3v3h-3zM0 3h3v3h-3zM6 3h3v3h-3zM90 3h3v3h-3zM3 6h3v3h-3zM57 6h3v3h-3zM78 6h3v3h-3zM99 6h3v3h-3zM60 9h3v3h-3zM90 9h3v3h-3zM54 12h3v3h-3zM63 12h3v3h-3zM87 12h6v3h-6zM63 15h3v3h-3zM96 15h6v3h-6zM117 21h3v3h-3zM0 24h6v3h-6zM93 24h3v3h-3zM114 27h3v3h-3zM12 30h6v3h-6zM99 30h3v3h-3zM105 30h3v3h-3zM15 33h3v3h-3zM36 33h3v3h-3zM108 33h3v3h-3zM12 36h3v3h-3zM111 39h3v3h-3zM12 42h3v3h-3zM36 42h3v3h-3zM3 45h3v3h-3zM27 45h3v3h-3zM69 45h3v3h-3zM27 48h6v3h-6zM0 51h3v3h-3zM6 54h3v3h-3zM102 54h6v3h-6zM42 57h3v3h-3zM48 57h3v3h-3zM84 57h6v3h-6zM12 63h3v3h-3zM21 63h3v3h-3zM18 66h6v3h-6zM21 75h3v3h-3zM21 78h6v3h-6zM39 81h3v3h-3zM75 81h3v3h-3zM81 81h3v3h-3zM33 84h6v3h-6zM75 84h3v3h-3zM18 87h3v3h-3zM72 87h3v3h-3zM117 87h3v3h-3zM18 90h3v3h-3zM33 93h3v3h-3zM90 96h3v3h-3zM87 99h3v3h-3zM87 105h3v3h-3zM51 108h3v3h-3zM69 108h3v3h-3zM24 111h3v3h-3zM48 111h3v3h-3zM63 111h3v3h-3zM24 114h3v3h-3zM45 114h3v3h-3z"/><path fill="#ffcc00" d="M69 0h3v3h-3zM117 0h3v3h-3zM87 3h3v3h-3zM60 6h3v3h-3zM63 9h3v3h-3zM78 9h3v3h-3zM60 15h3v3h-3zM0 21h6v3h-6zM99 21h3v3h-3zM99 24h3v3h-3zM114 24h3v3h-3zM96 27h9v3h-9zM117 27h3v3h-3zM93 30h3v3h-3zM9 36h3v3h-3zM15 36h3v3h-3zM36 36h3v3h-3zM12 39h6v3h-6zM33 42h3v3h-3zM9 45h3v3h-3zM9 48h3v3h-3zM9 51h3v3h-3zM24 51h3v3h-3zM30 51h3v3h-3zM99 51h3v3h-3zM9 54h3v3h-3zM42 60h3v3h-3zM39 63h3v3h-3zM48 63h3v3h-3zM45 66h3v3h-3zM15 69h6v3h-6zM99 75h3v3h-3zM75 78h3v3h-3zM99 78h3v3h-3zM78 81h3v3h-3zM39 84h3v3h-3zM36 90h3v3h-3zM42 90h6v3h-6zM42 93h3v3h-3zM51 96h6v3h-6zM51 99h3v3h-3zM60 105h3v3h-3zM48 108h3v3h-3zM57 108h3v3h-3zM66 108h3v3h-3zM66 111h6v3h-6zM27 114h3v3h-3zM69 114h3v3h-3zM24 117h3v3h-3zM45 117h3v3h-3zM69 117h3v3h-3z"/><path fill="#00cc00" d="M3 3h3v3h-3zM81 6h9v3h-9zM57 9h3v3h-3zM81 9h9v3h-9zM57 12h6v3h-6zM81 12h6v3h-6zM96 21h3v3h-3zM96 24h3v3h-3zM117 24h3v3h-3zM6 48h3v3h-3zM3 51h6v3h-6zM45 60h3v3h-3zM84 60h3v3h-3zM18 63h3v3h-3zM42 63h6v3h-6zM15 66h3v3h-3zM42 66h3v3h-3zM21 69h6v3h-6zM18 72h6v3h-6zM102 72h3v3h-3zM102 75h3v3h-3zM102 78h3v3h-3zM36 87h9v3h-9zM39 90h3v3h-3zM54 99h6v3h-6zM51 102h9v3h-9zM51 105h9v3h-9zM66 114h3v3h-3zM66 117h3v3h-3z"/></pattern><pattern id="p1" patternUnits="userSpaceOnUse" width="120" height="120"><path fill="#ff0000" d="M15 0h3v3h-3zM75 0h6v3h-6zM114 0h6v3h-6zM24 9h9v3h-9zM51 9h3v3h-3zM87 9h6v3h-6zM48 12h3v3h-3zM33 15h3v3h-3zM51 15h3v3h-3zM63 15h3v3h-3zM84 15h3v3h-3zM30 18h3v3h-3zM45 18h3v3h-3zM63 18h3v3h-3zM9 21h3v3h-3zM30 21h3v3h-3zM39 21h6v3h-6zM51 21h3v3h-3zM69 21h3v3h-3zM78 21h3v3h-3zM15 24h3v3h-3zM36 24h12v3h-12zM72 24h6v3h-6zM18 27h3v3h-3zM75 27h3v3h-3zM39 30h6v3h-6zM0 33h3v3h-3zM63 33h3v3h-3zM9 36h6v3h-6zM39 36h6v3h-6zM6 39h3v3h-3zM36 39h3v3h-3zM60 39h6v3h-6zM3 42h6v3h-6zM30 42h3v3h-3zM36 42h6v3h-6zM54 42h3v3h-3zM108 42h3v3h-3zM18 45h6v3h-6zM48 45h6v3h-6zM102 45h6v3h-6zM111 45h3v3h-3zM9 48h9v3h-9zM30 48h6v3h-6zM45 48h12v3h-12zM81 48h3v3h-3zM105 48h3v3h-3zM111 48h3v3h-3zM6 51h3v3h-3zM18 51h3v3h-3zM30 51h3v3h-3zM48 51h9v3h-9zM78 51h3v3h-3zM99 51h3v3h-3zM117 51h3v3h-3zM15 54h9v3h-9zM27 54h3v3h-3zM45 54h9v3h-9zM57 54h3v3h-3zM75 54h3v3h-3zM81 54h3v3h-3zM96 54h3v3h-3zM117 54h3v3h-3zM0 57h3v3h-3zM18 57h3v3h-3zM24 57h3v3h-3zM42 57h6v3h-6zM60 57h3v3h-3zM87 57h6v3h-6zM96 57h3v3h-3zM117 57h3v3h-3zM18 60h6v3h-6zM39 60h6v3h-6zM63 60h3v3h-3zM81 60h3v3h-3zM60 63h3v3h-3zM84 63h3v3h-3zM87 69h3v3h-3zM27 72h6v3h-6zM57 72h6v3h-6zM6 75h3v3h-3zM12 75h3v3h-3zM27 75h6v3h-6zM51 75h6v3h-6zM63 75h3v3h-3zM69 75h3v3h-3zM96 75h3v3h-3zM12 78h3v3h-3zM27 78h3v3h-3zM51 78h3v3h-3zM66 78h6v3h-6zM93 78h6v3h-6zM9 81h3v3h-3zM24 81h6v3h-6zM45 81h3v3h-3zM51 81h3v3h-3zM66 81h6v3h-6zM93 81h3v3h-3zM6 84h6v3h-6zM21 84h6v3h-6zM39 84h3v3h-3zM63 84h9v3h-9zM15 87h3v3h-3zM21 87h3v3h-3zM36 87h12v3h-12zM60 87h9v3h-9zM21 90h6v3h-6zM57 90h9v3h-9zM102 90h3v3h-3zM12 93h3v3h-3zM18 93h3v3h-3zM33 93h3v3h-3zM60 93h3v3h-3zM9 96h9v3h-9zM36 96h9v3h-9zM54 96h6v3h-6zM75 96h3v3h-3zM99 96h6v3h-6zM15 99h3v3h-3zM33 99h3v3h-3zM48 99h3v3h-3zM54 99h3v3h-3zM72 99h6v3h-6zM9 102h9v3h-9zM45 102h3v3h-3zM51 102h3v3h-3zM69 102h3v3h-3zM75 102h3v3h-3zM90 102h3v3h-3zM6 105h3v3h-3zM12 105h6v3h-6zM30 105h3v3h-3zM45 105h6v3h-6zM72 105h6v3h-6zM84 105h9v3h-9zM108 105h9v3h-9zM6 108h6v3h-6zM24 108h9v3h-9zM45 108h3v3h-3zM69 108h3v3h-3zM81 108h6v3h-6zM105 108h12v3h-12zM0 111h9v3h-9zM27 111h3v3h-3zM42 111h3v3h-3zM63 111h6v3h-6zM78 111h3v3h-3zM84 111h3v3h-3zM102 111h6v3h-6zM114 111h3v3h-3zM0 114h6v3h-6zM21 114h6v3h-6zM57 114h6v3h-6zM78 114h3v3h-3zM99 114h6v3h-6zM117 114h3v3h-3zM0 117h3v3h-3zM18 117h3v3h-3zM60 117h6v3h-6zM81 117h3v3h-3zM99 117h3v3h-3zM114 117h6v3h-6z"/><path fill="#e00000" d="M18 0h3v3h-3zM36 0h6v3h-6zM15 3h6v3h-6zM36 3h3v3h-3zM111 3h6v3h-6zM84 6h3v3h-3zM108 6h6v3h-6zM6 9h3v3h-3zM33 9h3v3h-3zM84 9h3v3h-3zM108 9h6v3h-6zM3 12h9v3h-9zM24 12h12v3h-12zM51 12h9v3h-9zM81 12h12v3h-12zM108 12h6v3h-6zM0 15h12v3h-12zM24 15h9v3h-9zM66 15h6v3h-6zM87 15h9v3h-9zM105 15h3v3h-3zM0 18h12v3h-12zM24 18h6v3h-6zM51 18h3v3h-3zM66 18h9v3h-9zM84 18h21v3h-21zM117 18h3v3h-3zM0 21h9v3h-9zM45 21h6v3h-6zM60 21h9v3h-9zM72 21h6v3h-6zM90 21h15v3h-15zM117 21h3v3h-3zM0 24h6v3h-6zM18 24h3v3h-3zM60 24h3v3h-3zM78 24h3v3h-3zM93 24h12v3h-12zM114 24h6v3h-6zM0 27h3v3h-3zM15 27h3v3h-3zM36 27h9v3h-9zM60 27h3v3h-3zM78 27h3v3h-3zM93 27h6v3h-6zM114 27h6v3h-6zM0 30h3v3h-3zM15 30h3v3h-3zM36 30h3v3h-3zM60 30h3v3h-3zM93 30h6v3h-6zM117 30h3v3h-3zM39 33h3v3h-3zM66 33h3v3h-3zM87 33h3v3h-3zM93 33h3v3h-3zM3 36h6v3h-6zM63 36h6v3h-6zM84 36h12v3h-12zM102 36h3v3h-3zM3 39h3v3h-3zM30 39h3v3h-3zM39 39h12v3h-12zM66 39h6v3h-6zM84 39h6v3h-6zM99 39h12v3h-12zM42 42h12v3h-12zM66 42h24v3h-24zM96 42h12v3h-12zM36 45h12v3h-12zM57 45h3v3h-3zM66 45h36v3h-36zM18 48h3v3h-3zM36 48h3v3h-3zM57 48h3v3h-3zM69 48h12v3h-12zM84 48h21v3h-21zM108 48h3v3h-3zM114 48h6v3h-6zM9 51h9v3h-9zM57 51h6v3h-6zM69 51h9v3h-9zM81 51h18v3h-18zM105 51h12v3h-12zM54 54h3v3h-3zM63 54h3v3h-3zM69 54h3v3h-3zM78 54h3v3h-3zM84 54h12v3h-12zM99 54h3v3h-3zM111 54h6v3h-6zM57 57h3v3h-3zM63 57h6v3h-6zM84 57h3v3h-3zM45 60h3v3h-3zM99 60h3v3h-3zM18 63h6v3h-6zM42 63h3v3h-3zM18 66h6v3h-6zM57 66h6v3h-6zM54 69h9v3h-9zM111 69h3v3h-3zM33 72h3v3h-3zM51 72h6v3h-6zM87 72h9v3h-9zM108 72h6v3h-6zM9 75h3v3h-3zM33 75h3v3h-3zM66 75h3v3h-3zM87 75h9v3h-9zM111 75h6v3h-6zM3 78h9v3h-9zM24 78h3v3h-3zM30 78h6v3h-6zM54 78h3v3h-3zM63 78h3v3h-3zM87 78h6v3h-6zM0 81h9v3h-9zM30 81h6v3h-6zM63 81h3v3h-3zM75 81h3v3h-3zM87 81h6v3h-6zM96 81h15v3h-15zM0 84h6v3h-6zM36 84h3v3h-3zM60 84h3v3h-3zM72 84h6v3h-6zM93 84h15v3h-15zM117 84h3v3h-3zM0 87h6v3h-6zM24 87h3v3h-3zM57 87h3v3h-3zM75 87h9v3h-9zM96 87h12v3h-12zM117 87h3v3h-3zM0 90h6v3h-6zM66 90h3v3h-3zM78 90h6v3h-6zM93 90h9v3h-9zM114 90h6v3h-6zM0 93h3v3h-3zM63 93h6v3h-6zM75 93h3v3h-3zM96 93h6v3h-6zM114 93h6v3h-6zM6 96h3v3h-3zM60 96h6v3h-6zM72 96h3v3h-3zM90 96h9v3h-9zM105 96h6v3h-6zM114 96h6v3h-6zM6 99h9v3h-9zM66 99h6v3h-6zM90 99h9v3h-9zM102 99h15v3h-15zM6 102h3v3h-3zM36 102h3v3h-3zM42 102h3v3h-3zM66 102h3v3h-3zM84 102h6v3h-6zM102 102h12v3h-12zM3 105h3v3h-3zM9 105h3v3h-3zM33 105h3v3h-3zM51 105h6v3h-6zM66 105h3v3h-3zM78 105h6v3h-6zM102 105h6v3h-6zM3 108h3v3h-3zM42 108h3v3h-3zM48 108h6v3h-6zM72 108h9v3h-9zM102 108h3v3h-3zM30 111h3v3h-3zM45 111h15v3h-15zM75 111h3v3h-3zM99 111h3v3h-3zM108 111h6v3h-6zM117 111h3v3h-3zM36 114h9v3h-9zM96 114h3v3h-3zM21 117h3v3h-3zM36 117h9v3h-9zM96 117h3v3h-3z"/><path fill="#ffcc00" d="M66 12h3v3h-3zM42 18h3v3h-3zM9 39h3v3h-3zM12 45h6v3h-6zM30 45h6v3h-6zM108 45h3v3h-3zM24 48h6v3h-6zM0 51h3v3h-3zM27 51h3v3h-3zM81 66h3v3h-3zM12 81h3v3h-3zM42 84h3v3h-3zM18 87h3v3h-3zM36 90h3v3h-3zM39 93h3v3h-3zM33 96h3v3h-3zM36 99h3v3h-3zM27 102h3v3h-3zM33 102h3v3h-3zM24 105h3v3h-3zM21 111h6v3h-6zM81 111h3v3h-3zM87 111h3v3h-3zM18 114h3v3h-3zM81 114h3v3h-3zM78 117h3v3h-3z"/><path fill="#00cc00" d="M36 15h3v3h-3zM33 18h9v3h-9zM33 21h6v3h-6zM12 39h3v3h-3zM9 42h9v3h-9zM111 42h3v3h-3zM6 45h6v3h-6zM21 51h6v3h-6zM0 54h3v3h-3zM24 54h3v3h-3zM72 78h3v3h-3zM45 84h3v3h-3zM39 90h6v3h-6zM36 93h3v3h-3zM42 93h3v3h-3zM30 99h3v3h-3zM30 102h3v3h-3zM27 105h3v3h-3zM21 108h3v3h-3zM87 108h3v3h-3z"/><path fill="#ff6600" d="M60 15h3v3h-3zM60 18h3v3h-3zM21 27h3v3h-3zM72 27h3v3h-3zM42 33h3v3h-3zM3 45h3v3h-3zM27 45h3v3h-3zM54 45h3v3h-3zM6 48h3v3h-3zM21 48h3v3h-3zM3 51h3v3h-3zM45 51h3v3h-3zM21 57h3v3h-3zM48 81h3v3h-3zM72 81h3v3h-3zM15 90h6v3h-6zM15 93h3v3h-3zM21 93h3v3h-3zM57 93h3v3h-3zM30 96h3v3h-3zM39 99h3v3h-3zM48 102h3v3h-3zM72 102h3v3h-3zM69 105h3v3h-3zM66 108h3v3h-3zM18 111h3v3h-3z"/></pattern><pattern id="p2" patternUnits="userSpaceOnUse" width="120" height="120"><path fill="#bbff00" d="M0 0h3v3h-3zM6 0h3v3h-3zM96 0h9v3h-9zM117 0h3v3h-3zM3 3h3v3h-3zM81 3h6v3h-6zM93 3h3v3h-3zM102 3h3v3h-3zM57 6h3v3h-3zM102 6h3v3h-3zM24 9h3v3h-3zM51 9h3v3h-3zM6 15h6v3h-6zM66 15h3v3h-3zM84 15h6v3h-6zM69 18h3v3h-3zM78 18h3v3h-3zM90 18h3v3h-3zM9 21h3v3h-3zM66 21h3v3h-3zM87 21h9v3h-9zM18 24h3v3h-3zM48 24h3v3h-3zM54 24h3v3h-3zM72 24h3v3h-3zM12 27h3v3h-3zM57 27h3v3h-3zM63 27h3v3h-3zM15 30h6v3h-6zM69 30h3v3h-3zM0 33h3v3h-3zM114 33h6v3h-6zM39 36h3v3h-3zM60 36h3v3h-3zM0 39h6v3h-6zM18 39h6v3h-6zM42 39h3v3h-3zM63 39h3v3h-3zM18 42h3v3h-3zM27 42h3v3h-3zM45 42h3v3h-3zM24 45h3v3h-3zM90 45h3v3h-3zM21 48h3v3h-3zM27 48h3v3h-3zM42 48h6v3h-6zM69 48h3v3h-3zM93 48h3v3h-3zM48 51h3v3h-3zM93 51h18v3h-18zM0 54h3v3h-3zM54 54h3v3h-3zM117 54h3v3h-3zM57 57h6v3h-6zM108 57h6v3h-6zM6 60h3v3h-3zM63 60h3v3h-3zM12 63h3v3h-3zM63 63h3v3h-3zM99 63h3v3h-3zM81 66h3v3h-3zM105 66h6v3h-6zM39 69h3v3h-3zM99 69h9v3h-9zM27 72h3v3h-3zM84 72h3v3h-3zM90 72h3v3h-3zM99 72h3v3h-3zM30 75h3v3h-3zM81 75h9v3h-9zM42 78h3v3h-3zM87 78h3v3h-3zM114 78h3v3h-3zM9 81h3v3h-3zM51 81h6v3h-6zM105 81h3v3h-3zM111 81h3v3h-3zM63 84h3v3h-3zM36 87h3v3h-3zM57 87h3v3h-3zM18 90h3v3h-3zM36 90h6v3h-6zM78 90h3v3h-3zM87 90h3v3h-3zM33 93h6v3h-6zM81 93h9v3h-9zM21 96h6v3h-6zM84 96h3v3h-3zM24 99h6v3h-6zM36 99h3v3h-3zM42 99h3v3h-3zM84 99h6v3h-6zM105 99h3v3h-3zM87 102h3v3h-3zM6 105h3v3h-3zM27 105h3v3h-3zM48 105h6v3h-6zM33 108h3v3h-3zM6 111h3v3h-3zM21 111h6v3h-6zM54 111h3v3h-3zM93 111h3v3h-3zM33 114h3v3h-3zM27 117h3v3h-3zM96 117h3v3h-3z"/><path fill="#00ee00" d="M3 0h3v3h-3zM75 0h9v3h-9zM0 3h3v3h-3zM21 3h3v3h-3zM78 3h3v3h-3zM96 3h6v3h-6zM3 6h6v3h-6zM24 6h3v3h-3zM96 6h6v3h-6zM3 9h6v3h-6zM105 9h3v3h-3zM3 12h9v3h-9zM66 12h6v3h-6zM69 15h3v3h-3zM9 18h3v3h-3zM87 18h3v3h-3zM12 24h6v3h-6zM51 24h3v3h-3zM57 24h3v3h-3zM93 24h3v3h-3zM21 30h3v3h-3zM57 30h9v3h-9zM15 33h9v3h-9zM60 33h12v3h-12zM0 36h3v3h-3zM18 36h9v3h-9zM42 36h3v3h-3zM63 36h9v3h-9zM114 36h6v3h-6zM45 39h3v3h-3zM66 39h6v3h-6zM117 39h3v3h-3zM21 42h3v3h-3zM42 42h3v3h-3zM69 42h3v3h-3zM45 45h3v3h-3zM111 51h6v3h-6zM108 54h9v3h-9zM0 57h6v3h-6zM114 57h6v3h-6zM0 60h3v3h-3zM114 60h3v3h-3zM84 66h6v3h-6zM33 69h3v3h-3zM84 69h6v3h-6zM108 69h3v3h-3zM30 72h9v3h-9zM87 72h3v3h-3zM102 72h9v3h-9zM39 75h3v3h-3zM102 75h9v3h-9zM36 78h6v3h-6zM57 78h3v3h-3zM105 78h9v3h-9zM36 81h6v3h-6zM57 81h6v3h-6zM108 81h3v3h-3zM114 81h3v3h-3zM12 84h3v3h-3zM57 84h6v3h-6zM15 87h3v3h-3zM39 87h3v3h-3zM33 90h3v3h-3zM60 90h3v3h-3zM81 90h6v3h-6zM18 93h9v3h-9zM30 93h3v3h-3zM39 93h6v3h-6zM27 96h3v3h-3zM33 96h12v3h-12zM81 96h3v3h-3zM33 99h3v3h-3zM39 99h3v3h-3zM45 99h6v3h-6zM42 102h12v3h-12zM90 102h3v3h-3zM9 108h3v3h-3zM51 108h3v3h-3zM72 108h3v3h-3zM9 111h3v3h-3zM27 111h3v3h-3zM15 114h3v3h-3zM30 114h3v3h-3zM72 114h3v3h-3zM96 114h3v3h-3zM0 117h6v3h-6zM72 117h12v3h-12zM99 117h3v3h-3z"/><path fill="#eeee00" d="M9 0h3v3h-3zM36 0h3v3h-3zM45 0h3v3h-3zM51 0h3v3h-3zM66 0h9v3h-9zM87 0h3v3h-3zM105 0h12v3h-12zM15 3h3v3h-3zM36 3h9v3h-9zM66 3h6v3h-6zM108 3h9v3h-9zM18 6h3v3h-3zM30 6h6v3h-6zM63 6h3v3h-3zM72 6h3v3h-3zM90 6h6v3h-6zM108 6h12v3h-12zM15 9h6v3h-6zM30 9h15v3h-15zM72 9h3v3h-3zM111 9h9v3h-9zM15 12h6v3h-6zM33 12h12v3h-12zM111 12h9v3h-9zM18 15h6v3h-6zM33 15h15v3h-15zM93 15h9v3h-9zM105 15h3v3h-3zM117 15h3v3h-3zM24 18h3v3h-3zM36 18h12v3h-12zM63 18h3v3h-3zM81 18h3v3h-3zM96 18h15v3h-15zM117 18h3v3h-3zM3 21h3v3h-3zM21 21h6v3h-6zM39 21h3v3h-3zM63 21h3v3h-3zM99 21h12v3h-12zM3 24h3v3h-3zM9 24h3v3h-3zM24 24h12v3h-12zM102 24h9v3h-9zM0 27h3v3h-3zM6 27h3v3h-3zM27 27h6v3h-6zM75 27h15v3h-15zM102 27h6v3h-6zM111 27h3v3h-3zM6 30h6v3h-6zM27 30h6v3h-6zM78 30h15v3h-15zM102 30h6v3h-6zM3 33h9v3h-9zM27 33h3v3h-3zM75 33h3v3h-3zM81 33h12v3h-12zM96 33h3v3h-3zM105 33h6v3h-6zM6 36h9v3h-9zM33 36h6v3h-6zM51 36h6v3h-6zM75 36h12v3h-12zM90 36h9v3h-9zM30 39h9v3h-9zM54 39h3v3h-3zM81 39h6v3h-6zM93 39h18v3h-18zM30 42h9v3h-9zM57 42h6v3h-6zM78 42h9v3h-9zM99 42h6v3h-6zM3 45h3v3h-3zM9 45h3v3h-3zM33 45h6v3h-6zM60 45h3v3h-3zM72 45h15v3h-15zM102 45h6v3h-6zM6 48h3v3h-3zM33 48h3v3h-3zM72 48h15v3h-15zM3 51h6v3h-6zM78 51h15v3h-15zM18 54h9v3h-9zM30 54h3v3h-3zM78 54h15v3h-15zM6 57h3v3h-3zM18 57h15v3h-15zM69 57h3v3h-3zM84 57h9v3h-9zM12 60h3v3h-3zM24 60h9v3h-9zM48 60h6v3h-6zM84 60h3v3h-3zM93 60h3v3h-3zM27 63h3v3h-3zM42 63h3v3h-3zM51 63h3v3h-3zM72 63h3v3h-3zM96 63h3v3h-3zM0 66h3v3h-3zM12 66h3v3h-3zM18 66h6v3h-6zM27 66h3v3h-3zM69 66h3v3h-3zM93 66h6v3h-6zM117 66h3v3h-3zM0 69h3v3h-3zM9 69h15v3h-15zM45 69h3v3h-3zM54 69h3v3h-3zM69 69h3v3h-3zM75 69h3v3h-3zM114 69h6v3h-6zM0 72h6v3h-6zM9 72h3v3h-3zM15 72h12v3h-12zM48 72h3v3h-3zM57 72h3v3h-3zM69 72h9v3h-9zM96 72h3v3h-3zM0 75h27v3h-27zM51 75h3v3h-3zM72 75h6v3h-6zM96 75h3v3h-3zM117 75h3v3h-3zM0 78h12v3h-12zM15 78h15v3h-15zM69 78h9v3h-9zM3 81h3v3h-3zM21 81h9v3h-9zM69 81h3v3h-3zM93 81h3v3h-3zM99 81h6v3h-6zM0 84h6v3h-6zM21 84h12v3h-12zM48 84h3v3h-3zM69 84h3v3h-3zM87 84h6v3h-6zM102 84h3v3h-3zM0 87h6v3h-6zM24 87h9v3h-9zM48 87h6v3h-6zM69 87h3v3h-3zM96 87h3v3h-3zM102 87h3v3h-3zM3 90h6v3h-6zM48 90h6v3h-6zM69 90h3v3h-3zM90 90h12v3h-12zM111 90h3v3h-3zM0 93h3v3h-3zM6 93h3v3h-3zM12 93h3v3h-3zM51 93h9v3h-9zM69 93h9v3h-9zM93 93h6v3h-6zM108 93h9v3h-9zM3 96h3v3h-3zM9 96h9v3h-9zM51 96h9v3h-9zM69 96h6v3h-6zM96 96h3v3h-3zM111 96h3v3h-3zM117 96h3v3h-3zM0 99h3v3h-3zM9 99h9v3h-9zM54 99h6v3h-6zM69 99h9v3h-9zM99 99h3v3h-3zM111 99h6v3h-6zM0 102h3v3h-3zM15 102h9v3h-9zM54 102h15v3h-15zM75 102h9v3h-9zM99 102h3v3h-3zM117 102h3v3h-3zM15 105h6v3h-6zM36 105h9v3h-9zM57 105h9v3h-9zM75 105h3v3h-3zM84 105h3v3h-3zM105 105h3v3h-3zM117 105h3v3h-3zM18 108h3v3h-3zM36 108h9v3h-9zM60 108h9v3h-9zM84 108h3v3h-3zM102 108h9v3h-9zM114 108h3v3h-3zM36 111h15v3h-15zM57 111h12v3h-12zM81 111h12v3h-12zM102 111h9v3h-9zM39 114h12v3h-12zM60 114h9v3h-9zM84 114h6v3h-6zM102 114h12v3h-12zM42 117h12v3h-12zM60 117h9v3h-9zM87 117h3v3h-3zM105 117h9v3h-9z"/><path fill="#ffcc00" d="M12 0h3v3h-3zM18 0h3v3h-3zM30 0h3v3h-3zM48 0h3v3h-3zM54 0h6v3h-6zM90 0h3v3h-3zM12 3h3v3h-3zM30 3h6v3h-6zM45 3h9v3h-9zM57 3h3v3h-3zM72 3h3v3h-3zM105 3h3v3h-3zM12 6h6v3h-6zM42 6h6v3h-6zM51 6h6v3h-6zM60 6h3v3h-3zM66 6h6v3h-6zM27 9h3v3h-3zM48 9h3v3h-3zM54 9h9v3h-9zM69 9h3v3h-3zM75 9h3v3h-3zM90 9h9v3h-9zM12 12h3v3h-3zM21 12h3v3h-3zM30 12h3v3h-3zM45 12h3v3h-3zM51 12h3v3h-3zM57 12h3v3h-3zM78 12h3v3h-3zM84 12h15v3h-15zM102 12h3v3h-3zM0 15h3v3h-3zM12 15h3v3h-3zM30 15h3v3h-3zM57 15h9v3h-9zM81 15h3v3h-3zM102 15h3v3h-3zM111 15h3v3h-3zM0 18h6v3h-6zM18 18h6v3h-6zM27 18h6v3h-6zM48 18h3v3h-3zM57 18h3v3h-3zM6 21h3v3h-3zM27 21h3v3h-3zM33 21h6v3h-6zM42 21h3v3h-3zM54 21h3v3h-3zM81 21h3v3h-3zM96 21h3v3h-3zM111 21h3v3h-3zM6 24h3v3h-3zM21 24h3v3h-3zM42 24h3v3h-3zM60 24h3v3h-3zM81 24h6v3h-6zM99 24h3v3h-3zM9 27h3v3h-3zM24 27h3v3h-3zM33 27h3v3h-3zM69 27h3v3h-3zM99 27h3v3h-3zM108 27h3v3h-3zM3 30h3v3h-3zM12 30h3v3h-3zM24 30h3v3h-3zM45 30h3v3h-3zM51 30h3v3h-3zM99 30h3v3h-3zM108 30h6v3h-6zM12 33h3v3h-3zM45 33h9v3h-9zM72 33h3v3h-3zM78 33h3v3h-3zM93 33h3v3h-3zM99 33h3v3h-3zM3 36h3v3h-3zM27 36h3v3h-3zM57 36h3v3h-3zM87 36h3v3h-3zM99 36h3v3h-3zM108 36h6v3h-6zM6 39h6v3h-6zM39 39h3v3h-3zM51 39h3v3h-3zM57 39h6v3h-6zM72 39h9v3h-9zM111 39h3v3h-3zM9 42h9v3h-9zM63 42h3v3h-3zM75 42h3v3h-3zM87 42h12v3h-12zM105 42h3v3h-3zM0 45h3v3h-3zM6 45h3v3h-3zM15 45h6v3h-6zM30 45h3v3h-3zM63 45h3v3h-3zM96 45h6v3h-6zM0 48h6v3h-6zM9 48h6v3h-6zM18 48h3v3h-3zM60 48h3v3h-3zM66 48h3v3h-3zM90 48h3v3h-3zM105 48h3v3h-3zM0 51h3v3h-3zM9 51h3v3h-3zM18 51h6v3h-6zM39 51h6v3h-6zM51 51h3v3h-3zM60 51h6v3h-6zM75 51h3v3h-3zM3 54h9v3h-9zM27 54h3v3h-3zM39 54h12v3h-12zM60 54h6v3h-6zM69 54h3v3h-3zM93 54h3v3h-3zM9 57h9v3h-9zM33 57h3v3h-3zM42 57h6v3h-6zM54 57h3v3h-3zM93 57h6v3h-6zM9 60h3v3h-3zM33 60h15v3h-15zM72 60h3v3h-3zM81 60h3v3h-3zM87 60h6v3h-6zM108 60h3v3h-3zM3 63h6v3h-6zM15 63h3v3h-3zM21 63h3v3h-3zM30 63h6v3h-6zM39 63h3v3h-3zM54 63h3v3h-3zM66 63h6v3h-6zM84 63h12v3h-12zM105 63h6v3h-6zM114 63h6v3h-6zM3 66h3v3h-3zM30 66h3v3h-3zM54 66h6v3h-6zM72 66h9v3h-9zM114 66h3v3h-3zM3 69h6v3h-6zM36 69h3v3h-3zM51 69h3v3h-3zM66 69h3v3h-3zM72 69h3v3h-3zM78 69h3v3h-3zM93 69h3v3h-3zM6 72h3v3h-3zM12 72h3v3h-3zM39 72h3v3h-3zM51 72h6v3h-6zM66 72h3v3h-3zM78 72h6v3h-6zM45 75h6v3h-6zM54 75h3v3h-3zM60 75h3v3h-3zM69 75h3v3h-3zM99 75h3v3h-3zM45 78h6v3h-6zM60 78h9v3h-9zM78 78h9v3h-9zM93 78h9v3h-9zM117 78h3v3h-3zM0 81h3v3h-3zM6 81h3v3h-3zM30 81h3v3h-3zM45 81h6v3h-6zM63 81h6v3h-6zM87 81h6v3h-6zM117 81h3v3h-3zM6 84h3v3h-3zM45 84h3v3h-3zM51 84h3v3h-3zM81 84h3v3h-3zM93 84h6v3h-6zM105 84h3v3h-3zM111 84h3v3h-3zM117 84h3v3h-3zM6 87h3v3h-3zM21 87h3v3h-3zM66 87h3v3h-3zM72 87h3v3h-3zM90 87h6v3h-6zM99 87h3v3h-3zM105 87h9v3h-9zM117 87h3v3h-3zM9 90h6v3h-6zM54 90h6v3h-6zM66 90h3v3h-3zM72 90h3v3h-3zM102 90h9v3h-9zM114 90h3v3h-3zM9 93h3v3h-3zM15 93h3v3h-3zM48 93h3v3h-3zM60 93h3v3h-3zM90 93h3v3h-3zM99 93h6v3h-6zM0 96h3v3h-3zM6 96h3v3h-3zM18 96h3v3h-3zM75 96h3v3h-3zM90 96h6v3h-6zM102 96h3v3h-3zM108 96h3v3h-3zM114 96h3v3h-3zM3 99h3v3h-3zM18 99h6v3h-6zM66 99h3v3h-3zM78 99h3v3h-3zM96 99h3v3h-3zM117 99h3v3h-3zM9 102h3v3h-3zM69 102h6v3h-6zM96 102h3v3h-3zM102 102h6v3h-6zM111 102h6v3h-6zM0 105h6v3h-6zM21 105h3v3h-3zM33 105h3v3h-3zM54 105h3v3h-3zM66 105h3v3h-3zM78 105h6v3h-6zM96 105h3v3h-3zM102 105h3v3h-3zM111 105h6v3h-6zM15 108h3v3h-3zM24 108h3v3h-3zM45 108h3v3h-3zM57 108h3v3h-3zM69 108h3v3h-3zM81 108h3v3h-3zM87 108h3v3h-3zM99 108h3v3h-3zM111 108h3v3h-3zM117 108h3v3h-3zM33 111h3v3h-3zM69 111h3v3h-3zM99 111h3v3h-3zM6 114h3v3h-3zM24 114h3v3h-3zM36 114h3v3h-3zM57 114h3v3h-3zM90 114h6v3h-6zM9 117h6v3h-6zM39 117h3v3h-3zM54 117h6v3h-6zM69 117h3v3h-3zM90 117h6v3h-6zM102 117h3v3h-3zM114 117h3v3h-3z"/><path fill="#ff0000" d="M15 0h3v3h-3zM27 0h3v3h-3zM33 0h3v3h-3zM84 0h3v3h-3zM93 0h3v3h-3zM6 3h3v3h-3zM18 3h3v3h-3zM75 3h3v3h-3zM0 6h3v3h-3zM9 6h3v3h-3zM27 6h3v3h-3zM81 6h3v3h-3zM87 6h3v3h-3zM0 9h3v3h-3zM21 9h3v3h-3zM63 9h6v3h-6zM78 9h12v3h-12zM99 9h3v3h-3zM108 9h3v3h-3zM63 12h3v3h-3zM81 12h3v3h-3zM108 12h3v3h-3zM3 15h3v3h-3zM27 15h3v3h-3zM51 15h3v3h-3zM6 18h3v3h-3zM33 18h3v3h-3zM66 18h3v3h-3zM75 18h3v3h-3zM84 18h3v3h-3zM93 18h3v3h-3zM12 21h3v3h-3zM69 21h9v3h-9zM84 21h3v3h-3zM36 24h6v3h-6zM66 24h6v3h-6zM78 24h3v3h-3zM87 24h6v3h-6zM114 24h3v3h-3zM15 27h6v3h-6zM48 27h9v3h-9zM60 27h3v3h-3zM90 27h9v3h-9zM0 30h3v3h-3zM48 30h3v3h-3zM54 30h3v3h-3zM66 30h3v3h-3zM72 30h3v3h-3zM42 33h3v3h-3zM54 33h3v3h-3zM111 33h3v3h-3zM45 36h3v3h-3zM72 36h3v3h-3zM114 39h3v3h-3zM3 42h3v3h-3zM24 42h3v3h-3zM66 42h3v3h-3zM117 42h3v3h-3zM12 45h3v3h-3zM21 45h3v3h-3zM27 45h3v3h-3zM42 45h3v3h-3zM69 45h3v3h-3zM15 48h3v3h-3zM30 48h3v3h-3zM48 48h3v3h-3zM63 48h3v3h-3zM96 48h3v3h-3zM24 51h3v3h-3zM45 51h3v3h-3zM54 51h6v3h-6zM66 51h9v3h-9zM51 54h3v3h-3zM57 54h3v3h-3zM66 54h3v3h-3zM72 54h3v3h-3zM96 54h6v3h-6zM105 54h3v3h-3zM36 57h3v3h-3zM51 57h3v3h-3zM78 57h3v3h-3zM3 60h3v3h-3zM54 60h6v3h-6zM66 60h6v3h-6zM75 60h3v3h-3zM111 60h3v3h-3zM117 60h3v3h-3zM0 63h3v3h-3zM9 63h3v3h-3zM57 63h6v3h-6zM78 63h3v3h-3zM111 63h3v3h-3zM6 66h3v3h-3zM24 66h3v3h-3zM39 66h3v3h-3zM99 66h6v3h-6zM27 69h6v3h-6zM90 69h3v3h-3zM96 69h3v3h-3zM42 72h3v3h-3zM60 72h3v3h-3zM42 75h3v3h-3zM90 75h3v3h-3zM114 75h3v3h-3zM30 78h3v3h-3zM90 78h3v3h-3zM33 81h3v3h-3zM78 81h3v3h-3zM84 81h3v3h-3zM36 84h6v3h-6zM54 84h3v3h-3zM84 84h3v3h-3zM108 84h3v3h-3zM114 84h3v3h-3zM9 87h3v3h-3zM60 87h6v3h-6zM84 87h3v3h-3zM15 90h3v3h-3zM21 90h6v3h-6zM63 90h3v3h-3zM27 93h3v3h-3zM105 93h3v3h-3zM45 96h3v3h-3zM87 96h3v3h-3zM6 99h3v3h-3zM51 99h3v3h-3zM81 99h3v3h-3zM102 99h3v3h-3zM6 102h3v3h-3zM27 102h3v3h-3zM33 102h6v3h-6zM84 102h3v3h-3zM108 102h3v3h-3zM9 105h3v3h-3zM24 105h3v3h-3zM45 105h3v3h-3zM72 105h3v3h-3zM87 105h9v3h-9zM0 108h3v3h-3zM6 108h3v3h-3zM27 108h6v3h-6zM48 108h3v3h-3zM54 108h3v3h-3zM90 108h6v3h-6zM0 111h3v3h-3zM12 111h9v3h-9zM30 111h3v3h-3zM3 114h3v3h-3zM9 114h3v3h-3zM27 114h3v3h-3zM51 114h3v3h-3zM15 117h3v3h-3zM24 117h3v3h-3z"/><path fill="#ff9900" d="M21 0h3v3h-3zM39 0h6v3h-6zM9 3h3v3h-3zM24 3h6v3h-6zM54 3h3v3h-3zM117 3h3v3h-3zM21 6h3v3h-3zM48 6h3v3h-3zM75 6h6v3h-6zM84 6h3v3h-3zM105 6h3v3h-3zM12 9h3v3h-3zM0 12h3v3h-3zM24 12h6v3h-6zM54 12h3v3h-3zM60 12h3v3h-3zM75 12h3v3h-3zM99 12h3v3h-3zM15 15h3v3h-3zM24 15h3v3h-3zM54 15h3v3h-3zM78 15h3v3h-3zM90 15h3v3h-3zM12 18h6v3h-6zM60 18h3v3h-3zM30 21h3v3h-3zM45 21h6v3h-6zM60 21h3v3h-3zM78 21h3v3h-3zM45 24h3v3h-3zM63 24h3v3h-3zM75 24h3v3h-3zM96 24h3v3h-3zM111 24h3v3h-3zM21 27h3v3h-3zM45 27h3v3h-3zM66 27h3v3h-3zM72 27h3v3h-3zM114 27h6v3h-6zM75 30h3v3h-3zM93 30h6v3h-6zM114 30h6v3h-6zM24 33h3v3h-3zM57 33h3v3h-3zM15 36h3v3h-3zM48 36h3v3h-3zM12 39h6v3h-6zM48 39h3v3h-3zM87 39h6v3h-6zM0 42h3v3h-3zM6 42h3v3h-3zM39 42h3v3h-3zM72 42h3v3h-3zM108 42h3v3h-3zM39 45h3v3h-3zM66 45h3v3h-3zM93 45h3v3h-3zM108 45h3v3h-3zM24 48h3v3h-3zM36 48h6v3h-6zM51 48h3v3h-3zM99 48h6v3h-6zM108 48h3v3h-3zM12 51h6v3h-6zM27 51h6v3h-6zM12 54h6v3h-6zM33 54h3v3h-3zM75 54h3v3h-3zM102 54h3v3h-3zM39 57h3v3h-3zM48 57h3v3h-3zM63 57h6v3h-6zM72 57h3v3h-3zM15 60h3v3h-3zM60 60h3v3h-3zM96 60h3v3h-3zM18 63h3v3h-3zM36 63h3v3h-3zM75 63h3v3h-3zM102 63h3v3h-3zM9 66h3v3h-3zM15 66h3v3h-3zM33 66h6v3h-6zM42 66h3v3h-3zM60 66h9v3h-9zM90 66h3v3h-3zM111 66h3v3h-3zM24 69h3v3h-3zM42 69h3v3h-3zM57 69h9v3h-9zM81 69h3v3h-3zM45 72h3v3h-3zM63 72h3v3h-3zM93 72h3v3h-3zM27 75h3v3h-3zM57 75h3v3h-3zM63 75h3v3h-3zM78 75h3v3h-3zM93 75h3v3h-3zM51 78h6v3h-6zM102 78h3v3h-3zM42 81h3v3h-3zM81 81h3v3h-3zM33 84h3v3h-3zM42 84h3v3h-3zM66 84h3v3h-3zM12 87h3v3h-3zM18 87h3v3h-3zM33 87h3v3h-3zM42 87h3v3h-3zM54 87h3v3h-3zM87 87h3v3h-3zM114 87h3v3h-3zM27 90h6v3h-6zM42 90h3v3h-3zM75 90h3v3h-3zM45 93h3v3h-3zM78 93h3v3h-3zM48 96h3v3h-3zM78 96h3v3h-3zM99 96h3v3h-3zM105 96h3v3h-3zM108 99h3v3h-3zM3 102h3v3h-3zM12 102h3v3h-3zM24 102h3v3h-3zM39 102h3v3h-3zM30 105h3v3h-3zM69 105h3v3h-3zM99 105h3v3h-3zM108 105h3v3h-3zM3 108h3v3h-3zM21 108h3v3h-3zM96 108h3v3h-3zM3 111h3v3h-3zM96 111h3v3h-3zM117 111h3v3h-3zM0 114h3v3h-3zM12 114h3v3h-3zM69 114h3v3h-3zM99 114h3v3h-3zM6 117h3v3h-3zM30 117h9v3h-9zM84 117h3v3h-3z"/></pattern><pattern id="p3" patternUnits="userSpaceOnUse" width="120" height="120"><path fill="#ff9900" d="M0 0h6v3h-6zM117 0h3v3h-3zM0 3h3v3h-3zM6 3h3v3h-3zM0 6h3v3h-3zM3 9h3v3h-3zM30 9h3v3h-3zM18 15h3v3h-3zM42 18h3v3h-3zM45 21h3v3h-3zM108 21h3v3h-3zM30 24h3v3h-3zM66 24h3v3h-3zM72 24h3v3h-3zM33 27h3v3h-3zM39 27h3v3h-3zM66 27h9v3h-9zM87 27h6v3h-6zM36 30h3v3h-3zM66 30h3v3h-3zM63 33h3v3h-3zM69 33h3v3h-3zM72 36h3v3h-3zM42 39h6v3h-6zM27 42h3v3h-3zM102 42h6v3h-6zM15 45h3v3h-3zM24 45h9v3h-9zM33 48h3v3h-3zM108 48h3v3h-3zM108 51h3v3h-3zM96 54h3v3h-3zM63 57h3v3h-3zM87 57h6v3h-6zM24 63h3v3h-3zM45 66h6v3h-6zM45 69h3v3h-3zM117 69h3v3h-3zM0 72h3v3h-3zM48 72h3v3h-3zM105 75h3v3h-3zM117 75h3v3h-3zM72 78h3v3h-3zM81 81h3v3h-3zM27 84h3v3h-3zM33 84h3v3h-3zM36 87h3v3h-3zM48 90h6v3h-6zM75 90h3v3h-3zM12 93h3v3h-3zM33 93h6v3h-6zM102 93h3v3h-3zM3 96h6v3h-6zM33 96h3v3h-3zM39 96h3v3h-3zM96 96h6v3h-6zM87 102h3v3h-3zM87 108h3v3h-3zM24 111h3v3h-3zM36 111h3v3h-3zM90 111h3v3h-3zM111 111h3v3h-3zM0 114h3v3h-3zM81 114h3v3h-3zM3 117h6v3h-6zM114 117h3v3h-3z"/><path fill="#ff0000" d="M6 0h3v3h-3zM30 0h3v3h-3zM3 3h3v3h-3zM51 3h6v3h-6zM6 6h6v3h-6zM93 6h3v3h-3zM9 9h3v3h-3zM33 9h3v3h-3zM12 12h3v3h-3zM33 12h3v3h-3zM57 12h3v3h-3zM15 15h3v3h-3zM54 15h3v3h-3zM78 15h3v3h-3zM45 18h3v3h-3zM108 18h3v3h-3zM9 21h3v3h-3zM66 21h3v3h-3zM78 21h3v3h-3zM39 24h3v3h-3zM63 24h3v3h-3zM81 24h3v3h-3zM78 27h3v3h-3zM0 30h3v3h-3zM42 30h3v3h-3zM90 30h6v3h-6zM99 30h3v3h-3zM117 30h3v3h-3zM36 33h3v3h-3zM66 33h3v3h-3zM3 36h3v3h-3zM39 36h3v3h-3zM63 36h3v3h-3zM63 39h3v3h-3zM96 39h3v3h-3zM105 39h3v3h-3zM30 42h3v3h-3zM12 45h3v3h-3zM33 45h3v3h-3zM51 45h3v3h-3zM9 48h3v3h-3zM72 48h3v3h-3zM78 48h3v3h-3zM114 48h3v3h-3zM78 51h6v3h-6zM81 54h6v3h-6zM84 57h3v3h-3zM6 63h3v3h-3zM27 63h3v3h-3zM36 63h6v3h-6zM6 66h3v3h-3zM111 69h3v3h-3zM18 72h3v3h-3zM24 75h3v3h-3zM42 75h3v3h-3zM75 78h3v3h-3zM27 81h6v3h-6zM75 81h3v3h-3zM87 81h3v3h-3zM66 84h3v3h-3zM75 84h3v3h-3zM81 84h3v3h-3zM87 84h3v3h-3zM33 87h3v3h-3zM33 90h3v3h-3zM30 93h3v3h-3zM63 93h3v3h-3zM0 96h3v3h-3zM63 96h3v3h-3zM105 96h3v3h-3zM0 99h3v3h-3zM15 105h3v3h-3zM87 105h3v3h-3zM111 105h6v3h-6zM15 108h3v3h-3zM75 108h3v3h-3zM108 108h9v3h-9zM24 114h3v3h-3zM0 117h3v3h-3zM18 117h6v3h-6zM117 117h3v3h-3z"/><path fill="#ffcc00" d="M9 0h3v3h-3zM21 0h3v3h-3zM51 0h3v3h-3zM9 3h3v3h-3zM27 3h3v3h-3zM87 3h3v3h-3zM117 3h3v3h-3zM3 6h3v3h-3zM12 6h3v3h-3zM90 6h3v3h-3zM96 6h3v3h-3zM12 9h3v3h-3zM36 9h3v3h-3zM75 9h3v3h-3zM93 9h3v3h-3zM99 9h3v3h-3zM15 12h3v3h-3zM36 12h9v3h-9zM60 12h3v3h-3zM9 15h3v3h-3zM42 15h3v3h-3zM57 15h6v3h-6zM105 15h3v3h-3zM39 18h3v3h-3zM63 18h6v3h-6zM78 18h3v3h-3zM30 21h3v3h-3zM42 21h3v3h-3zM63 21h3v3h-3zM69 21h3v3h-3zM102 21h6v3h-6zM111 21h3v3h-3zM42 24h6v3h-6zM69 24h3v3h-3zM105 24h6v3h-6zM63 27h3v3h-3zM75 27h3v3h-3zM114 27h6v3h-6zM45 30h3v3h-3zM69 30h9v3h-9zM87 30h3v3h-3zM114 30h3v3h-3zM39 33h6v3h-6zM72 33h9v3h-9zM87 33h6v3h-6zM42 36h3v3h-3zM66 36h6v3h-6zM48 39h3v3h-3zM66 39h3v3h-3zM90 39h3v3h-3zM102 39h3v3h-3zM9 42h3v3h-3zM60 42h6v3h-6zM93 42h3v3h-3zM105 45h3v3h-3zM30 48h3v3h-3zM54 48h3v3h-3zM105 48h3v3h-3zM30 51h3v3h-3zM54 51h3v3h-3zM93 51h6v3h-6zM111 51h6v3h-6zM0 54h3v3h-3zM75 54h6v3h-6zM99 54h3v3h-3zM105 54h3v3h-3zM111 54h3v3h-3zM0 57h3v3h-3zM42 57h3v3h-3zM60 57h3v3h-3zM78 57h6v3h-6zM42 60h6v3h-6zM84 60h3v3h-3zM90 60h3v3h-3zM9 63h3v3h-3zM33 63h3v3h-3zM45 63h3v3h-3zM84 63h9v3h-9zM111 63h3v3h-3zM30 66h6v3h-6zM51 66h6v3h-6zM90 66h3v3h-3zM111 66h6v3h-6zM6 69h6v3h-6zM30 69h3v3h-3zM15 72h3v3h-3zM21 72h6v3h-6zM33 72h3v3h-3zM99 72h6v3h-6zM0 75h3v3h-3zM45 75h3v3h-3zM96 75h6v3h-6zM0 78h3v3h-3zM42 78h9v3h-9zM96 78h3v3h-3zM48 81h3v3h-3zM69 81h3v3h-3zM84 81h3v3h-3zM108 84h3v3h-3zM27 87h3v3h-3zM51 87h3v3h-3zM63 87h3v3h-3zM78 87h6v3h-6zM30 90h3v3h-3zM36 90h3v3h-3zM54 90h3v3h-3zM60 90h3v3h-3zM0 93h3v3h-3zM39 93h6v3h-6zM54 93h9v3h-9zM9 96h3v3h-3zM36 96h3v3h-3zM84 96h3v3h-3zM3 99h6v3h-6zM66 99h3v3h-3zM84 99h6v3h-6zM99 99h3v3h-3zM6 102h3v3h-3zM66 102h6v3h-6zM9 105h3v3h-3zM72 105h3v3h-3zM102 105h3v3h-3zM12 108h3v3h-3zM72 108h3v3h-3zM90 108h3v3h-3zM99 108h3v3h-3zM93 111h6v3h-6zM117 111h3v3h-3zM27 114h3v3h-3zM42 114h3v3h-3zM57 114h3v3h-3zM111 114h9v3h-9zM24 117h9v3h-9zM81 117h3v3h-3z"/><path fill="#eeee00" d="M24 0h6v3h-6zM45 0h6v3h-6zM81 0h3v3h-3zM12 3h3v3h-3zM24 3h3v3h-3zM45 3h6v3h-6zM84 3h3v3h-3zM15 6h3v3h-3zM24 6h3v3h-3zM45 6h3v3h-3zM15 9h6v3h-6zM78 9h3v3h-3zM18 12h6v3h-6zM63 12h3v3h-3zM75 12h6v3h-6zM102 12h3v3h-3zM33 15h9v3h-9zM63 15h6v3h-6zM102 15h3v3h-3zM30 18h9v3h-9zM57 18h6v3h-6zM102 18h3v3h-3zM33 21h9v3h-9zM60 21h3v3h-3zM33 24h6v3h-6zM111 24h6v3h-6zM36 27h3v3h-3zM45 27h3v3h-3zM108 27h6v3h-6zM78 30h3v3h-3zM111 30h3v3h-3zM45 33h6v3h-6zM81 33h6v3h-6zM24 36h3v3h-3zM45 36h6v3h-6zM81 36h3v3h-3zM87 36h6v3h-6zM3 39h6v3h-6zM21 39h9v3h-9zM69 39h3v3h-3zM87 39h3v3h-3zM93 39h3v3h-3zM3 42h6v3h-6zM12 42h3v3h-3zM21 42h6v3h-6zM66 42h3v3h-3zM90 42h3v3h-3zM96 42h6v3h-6zM0 45h12v3h-12zM93 45h12v3h-12zM3 48h6v3h-6zM57 48h3v3h-3zM93 48h12v3h-12zM0 51h6v3h-6zM57 51h3v3h-3zM99 51h9v3h-9zM117 51h3v3h-3zM54 54h9v3h-9zM102 54h3v3h-3zM108 54h3v3h-3zM114 54h6v3h-6zM39 57h3v3h-3zM57 57h3v3h-3zM108 57h3v3h-3zM117 57h3v3h-3zM18 60h3v3h-3zM36 60h6v3h-6zM48 60h3v3h-3zM81 60h3v3h-3zM87 60h3v3h-3zM108 60h6v3h-6zM12 63h12v3h-12zM48 63h6v3h-6zM9 66h12v3h-12zM24 66h3v3h-3zM12 69h12v3h-12zM27 69h3v3h-3zM3 72h3v3h-3zM9 72h6v3h-6zM96 72h3v3h-3zM3 75h6v3h-6zM27 75h3v3h-3zM66 75h3v3h-3zM102 75h3v3h-3zM27 78h3v3h-3zM66 78h6v3h-6zM99 78h9v3h-9zM42 81h6v3h-6zM51 81h3v3h-3zM63 81h6v3h-6zM99 81h3v3h-3zM105 81h3v3h-3zM39 84h21v3h-21zM63 84h3v3h-3zM39 87h12v3h-12zM54 87h9v3h-9zM39 90h6v3h-6zM57 90h3v3h-3zM78 90h6v3h-6zM78 93h6v3h-6zM12 96h3v3h-3zM81 96h3v3h-3zM87 96h3v3h-3zM9 99h6v3h-6zM18 99h3v3h-3zM90 99h9v3h-9zM9 102h9v3h-9zM90 102h12v3h-12zM63 105h9v3h-9zM90 105h12v3h-12zM60 108h12v3h-12zM93 108h6v3h-6zM54 111h15v3h-15zM108 111h3v3h-3zM114 111h3v3h-3zM39 114h3v3h-3zM42 117h9v3h-9zM84 117h3v3h-3z"/><path fill="#00ee00" d="M30 3h3v3h-3zM99 3h3v3h-3zM30 6h3v3h-3zM51 6h3v3h-3zM48 9h9v3h-9zM51 12h6v3h-6zM45 15h3v3h-3zM51 15h3v3h-3zM18 18h9v3h-9zM81 18h6v3h-6zM24 21h6v3h-6zM0 33h3v3h-3zM57 33h3v3h-3zM93 33h9v3h-9zM57 36h6v3h-6zM96 36h9v3h-9zM57 39h6v3h-6zM111 45h3v3h-3zM12 48h3v3h-3zM75 48h3v3h-3zM15 51h6v3h-6zM90 51h3v3h-3zM3 57h3v3h-3zM6 60h3v3h-3zM63 60h3v3h-3zM39 66h3v3h-3zM39 69h6v3h-6zM51 72h3v3h-3zM114 72h3v3h-3zM15 75h6v3h-6zM18 78h6v3h-6zM24 81h3v3h-3zM78 81h3v3h-3zM69 87h6v3h-6zM6 90h6v3h-6zM72 90h3v3h-3zM3 93h3v3h-3zM99 93h3v3h-3zM57 96h3v3h-3zM60 99h6v3h-6zM102 99h6v3h-6zM108 102h3v3h-3zM84 105h3v3h-3zM108 105h3v3h-3zM18 108h3v3h-3zM15 111h9v3h-9zM15 114h9v3h-9zM75 114h6v3h-6z"/><path fill="#bbff00" d="M93 3h3v3h-3zM33 6h3v3h-3zM48 6h3v3h-3zM54 6h3v3h-3zM57 9h3v3h-3zM45 12h3v3h-3zM12 15h3v3h-3zM21 15h3v3h-3zM81 15h6v3h-6zM12 18h6v3h-6zM27 18h3v3h-3zM105 18h3v3h-3zM84 21h6v3h-6zM27 24h3v3h-3zM75 24h3v3h-3zM93 27h3v3h-3zM39 30h3v3h-3zM96 30h3v3h-3zM60 33h3v3h-3zM117 33h3v3h-3zM0 36h3v3h-3zM93 36h3v3h-3zM54 39h3v3h-3zM99 39h3v3h-3zM51 42h3v3h-3zM54 45h3v3h-3zM108 45h3v3h-3zM27 48h3v3h-3zM51 48h3v3h-3zM111 48h3v3h-3zM75 51h3v3h-3zM18 54h3v3h-3zM60 60h3v3h-3zM42 63h3v3h-3zM36 66h3v3h-3zM42 66h3v3h-3zM3 69h3v3h-3zM33 69h6v3h-6zM48 69h12v3h-12zM114 69h3v3h-3zM36 72h9v3h-9zM117 72h3v3h-3zM21 75h3v3h-3zM24 78h3v3h-3zM78 78h6v3h-6zM72 81h3v3h-3zM30 84h3v3h-3zM69 84h6v3h-6zM78 84h3v3h-3zM30 87h3v3h-3zM66 87h3v3h-3zM75 87h3v3h-3zM6 93h6v3h-6zM60 96h3v3h-3zM102 96h3v3h-3zM108 99h3v3h-3zM60 102h6v3h-6zM84 102h3v3h-3zM102 102h6v3h-6zM111 102h3v3h-3zM105 105h3v3h-3zM75 111h6v3h-6zM96 114h3v3h-3z"/></pattern><pattern id="p4" patternUnits="userSpaceOnUse" width="120" height="120"><path fill="#ffaa00" d="M0 0h9v3h-9zM66 0h3v3h-3zM87 0h3v3h-3zM114 0h6v3h-6zM0 3h9v3h-9zM24 3h6v3h-6zM45 3h3v3h-3zM66 3h3v3h-3zM87 3h3v3h-3zM114 3h6v3h-6zM0 6h9v3h-9zM21 6h9v3h-9zM48 6h6v3h-6zM57 6h6v3h-6zM66 6h3v3h-3zM81 6h9v3h-9zM108 6h12v3h-12zM0 9h9v3h-9zM15 9h9v3h-9zM39 9h3v3h-3zM54 9h15v3h-15zM78 9h12v3h-12zM114 9h6v3h-6zM0 12h6v3h-6zM15 12h9v3h-9zM39 12h3v3h-3zM51 12h3v3h-3zM57 12h6v3h-6zM75 12h12v3h-12zM111 12h3v3h-3zM117 12h3v3h-3zM15 15h6v3h-6zM51 15h9v3h-9zM75 15h6v3h-6zM114 15h6v3h-6zM9 18h12v3h-12zM51 18h9v3h-9zM75 18h3v3h-3zM9 21h6v3h-6zM48 21h9v3h-9zM111 21h3v3h-3zM6 24h12v3h-12zM48 24h9v3h-9zM3 27h15v3h-15zM45 27h12v3h-12zM63 27h9v3h-9zM99 27h6v3h-6zM0 30h15v3h-15zM48 30h12v3h-12zM63 30h6v3h-6zM72 30h9v3h-9zM96 30h15v3h-15zM9 33h6v3h-6zM48 33h27v3h-27zM93 33h15v3h-15zM9 36h3v3h-3zM33 36h6v3h-6zM48 36h9v3h-9zM66 36h3v3h-3zM72 36h3v3h-3zM96 36h15v3h-15zM27 39h9v3h-9zM51 39h3v3h-3zM63 39h9v3h-9zM93 39h12v3h-12zM111 39h3v3h-3zM27 42h3v3h-3zM33 42h3v3h-3zM102 42h6v3h-6zM27 45h3v3h-3zM42 45h3v3h-3zM105 45h3v3h-3zM21 48h3v3h-3zM39 48h6v3h-6zM63 48h3v3h-3zM99 48h6v3h-6zM117 48h3v3h-3zM0 51h3v3h-3zM33 51h9v3h-9zM78 51h6v3h-6zM96 51h12v3h-12zM114 51h6v3h-6zM0 54h3v3h-3zM18 54h3v3h-3zM27 54h18v3h-18zM72 54h12v3h-12zM90 54h6v3h-6zM99 54h3v3h-3zM114 54h6v3h-6zM0 57h3v3h-3zM12 57h6v3h-6zM27 57h15v3h-15zM72 57h9v3h-9zM87 57h6v3h-6zM111 57h9v3h-9zM12 60h6v3h-6zM24 60h15v3h-15zM81 60h3v3h-3zM87 60h9v3h-9zM27 63h9v3h-9zM87 63h6v3h-6zM24 66h6v3h-6zM81 66h9v3h-9zM78 69h12v3h-12zM75 72h12v3h-12zM12 75h9v3h-9zM27 75h3v3h-3zM48 75h9v3h-9zM75 75h24v3h-24zM9 78h21v3h-21zM42 78h12v3h-12zM75 78h3v3h-3zM90 78h6v3h-6zM6 81h24v3h-24zM39 81h15v3h-15zM69 81h3v3h-3zM84 81h12v3h-12zM99 81h3v3h-3zM105 81h3v3h-3zM6 84h24v3h-24zM45 84h3v3h-3zM81 84h9v3h-9zM99 84h9v3h-9zM18 87h9v3h-9zM63 87h3v3h-3zM81 87h9v3h-9zM99 87h6v3h-6zM15 90h9v3h-9zM39 90h3v3h-3zM60 90h3v3h-3zM75 90h12v3h-12zM99 90h3v3h-3zM15 93h9v3h-9zM36 93h6v3h-6zM78 93h6v3h-6zM99 93h3v3h-3zM12 96h9v3h-9zM39 96h3v3h-3zM60 96h3v3h-3zM72 96h6v3h-6zM99 96h3v3h-3zM6 99h12v3h-12zM21 99h3v3h-3zM27 99h12v3h-12zM63 99h3v3h-3zM69 99h12v3h-12zM93 99h3v3h-3zM6 102h15v3h-15zM24 102h15v3h-15zM60 102h18v3h-18zM90 102h6v3h-6zM3 105h15v3h-15zM24 105h12v3h-12zM60 105h18v3h-18zM87 105h3v3h-3zM3 108h9v3h-9zM24 108h9v3h-9zM60 108h15v3h-15zM78 108h3v3h-3zM84 108h6v3h-6zM117 108h3v3h-3zM3 111h6v3h-6zM63 111h15v3h-15zM81 111h3v3h-3zM0 114h6v3h-6zM60 114h3v3h-3zM78 114h3v3h-3zM0 117h3v3h-3zM27 117h6v3h-6zM66 117h3v3h-3zM72 117h6v3h-6zM117 117h3v3h-3z"/><path fill="#ffcc00" d="M9 0h3v3h-3zM21 0h9v3h-9zM33 0h3v3h-3zM54 0h3v3h-3zM69 0h6v3h-6zM90 0h3v3h-3zM9 3h6v3h-6zM30 3h3v3h-3zM42 3h3v3h-3zM48 3h6v3h-6zM60 3h3v3h-3zM69 3h3v3h-3zM78 3h3v3h-3zM84 3h3v3h-3zM90 3h3v3h-3zM42 6h3v3h-3zM54 6h3v3h-3zM63 6h3v3h-3zM78 6h3v3h-3zM90 6h3v3h-3zM105 6h3v3h-3zM9 9h3v3h-3zM24 9h3v3h-3zM51 9h3v3h-3zM90 9h3v3h-3zM102 9h3v3h-3zM111 9h3v3h-3zM54 12h3v3h-3zM72 12h3v3h-3zM99 12h3v3h-3zM114 12h3v3h-3zM12 15h3v3h-3zM21 15h3v3h-3zM36 15h6v3h-6zM60 15h3v3h-3zM81 15h3v3h-3zM48 18h3v3h-3zM60 18h3v3h-3zM78 18h3v3h-3zM114 18h6v3h-6zM15 21h6v3h-6zM57 21h3v3h-3zM114 21h3v3h-3zM3 24h3v3h-3zM57 24h3v3h-3zM69 24h3v3h-3zM0 27h3v3h-3zM18 27h9v3h-9zM42 27h3v3h-3zM72 27h3v3h-3zM81 27h3v3h-3zM15 30h12v3h-12zM60 30h3v3h-3zM69 30h3v3h-3zM87 30h3v3h-3zM111 30h3v3h-3zM0 33h9v3h-9zM18 33h3v3h-3zM24 33h6v3h-6zM33 33h3v3h-3zM75 33h6v3h-6zM108 33h12v3h-12zM3 36h6v3h-6zM18 36h3v3h-3zM27 36h3v3h-3zM57 36h9v3h-9zM69 36h3v3h-3zM75 36h3v3h-3zM111 36h9v3h-9zM9 39h3v3h-3zM24 39h3v3h-3zM48 39h3v3h-3zM54 39h6v3h-6zM105 39h6v3h-6zM114 39h3v3h-3zM24 42h3v3h-3zM48 42h3v3h-3zM63 42h3v3h-3zM108 42h3v3h-3zM21 45h3v3h-3zM45 45h3v3h-3zM63 45h6v3h-6zM87 45h3v3h-3zM99 45h6v3h-6zM84 48h15v3h-15zM105 48h3v3h-3zM3 51h3v3h-3zM21 51h3v3h-3zM27 51h3v3h-3zM42 51h3v3h-3zM75 51h3v3h-3zM87 51h3v3h-3zM93 51h3v3h-3zM24 54h3v3h-3zM66 54h3v3h-3zM84 54h6v3h-6zM18 57h6v3h-6zM42 57h3v3h-3zM69 57h3v3h-3zM81 57h6v3h-6zM96 57h3v3h-3zM6 60h6v3h-6zM21 60h3v3h-3zM39 60h3v3h-3zM51 60h6v3h-6zM69 60h6v3h-6zM78 60h3v3h-3zM84 60h3v3h-3zM117 60h3v3h-3zM0 63h3v3h-3zM9 63h3v3h-3zM24 63h3v3h-3zM75 63h12v3h-12zM93 63h3v3h-3zM117 63h3v3h-3zM0 66h6v3h-6zM9 66h3v3h-3zM48 66h6v3h-6zM90 66h3v3h-3zM0 69h3v3h-3zM6 69h3v3h-3zM21 69h3v3h-3zM48 69h3v3h-3zM102 69h3v3h-3zM108 69h3v3h-3zM21 72h3v3h-3zM48 72h3v3h-3zM87 72h3v3h-3zM117 72h3v3h-3zM21 75h6v3h-6zM30 75h3v3h-3zM45 75h3v3h-3zM72 75h3v3h-3zM108 75h6v3h-6zM3 78h6v3h-6zM30 78h3v3h-3zM36 78h6v3h-6zM54 78h6v3h-6zM66 78h9v3h-9zM84 78h6v3h-6zM96 78h3v3h-3zM105 78h6v3h-6zM3 81h3v3h-3zM30 81h3v3h-3zM54 81h3v3h-3zM72 81h9v3h-9zM102 81h3v3h-3zM108 81h6v3h-6zM0 84h3v3h-3zM39 84h6v3h-6zM48 84h6v3h-6zM72 84h6v3h-6zM90 84h3v3h-3zM96 84h3v3h-3zM108 84h3v3h-3zM9 87h9v3h-9zM39 87h6v3h-6zM78 87h3v3h-3zM105 87h3v3h-3zM24 90h3v3h-3zM66 90h3v3h-3zM96 90h3v3h-3zM102 90h3v3h-3zM12 93h3v3h-3zM57 93h6v3h-6zM66 93h12v3h-12zM93 93h6v3h-6zM102 93h3v3h-3zM30 96h9v3h-9zM57 96h3v3h-3zM66 96h6v3h-6zM78 96h3v3h-3zM93 96h6v3h-6zM18 99h3v3h-3zM24 99h3v3h-3zM39 99h3v3h-3zM60 99h3v3h-3zM66 99h3v3h-3zM90 99h3v3h-3zM96 99h3v3h-3zM111 99h3v3h-3zM0 102h3v3h-3zM54 102h3v3h-3zM87 102h3v3h-3zM111 102h3v3h-3zM36 105h3v3h-3zM57 105h3v3h-3zM78 105h9v3h-9zM90 105h6v3h-6zM108 105h6v3h-6zM0 108h3v3h-3zM12 108h3v3h-3zM33 108h3v3h-3zM75 108h3v3h-3zM81 108h3v3h-3zM90 108h3v3h-3zM96 108h3v3h-3zM105 108h6v3h-6zM114 108h3v3h-3zM0 111h3v3h-3zM21 111h3v3h-3zM33 111h3v3h-3zM60 111h3v3h-3zM27 114h3v3h-3zM57 114h3v3h-3zM66 114h3v3h-3zM75 114h3v3h-3zM81 114h3v3h-3zM114 114h3v3h-3zM3 117h3v3h-3zM33 117h3v3h-3zM54 117h6v3h-6zM69 117h3v3h-3z"/><path fill="#ff0000" d="M12 0h3v3h-3zM36 0h12v3h-12zM51 0h3v3h-3zM57 0h6v3h-6zM75 0h6v3h-6zM93 0h3v3h-3zM105 0h3v3h-3zM18 3h3v3h-3zM39 3h3v3h-3zM57 3h3v3h-3zM75 3h3v3h-3zM93 3h3v3h-3zM99 3h3v3h-3zM105 3h3v3h-3zM30 6h9v3h-9zM93 6h12v3h-12zM27 9h6v3h-6zM69 9h3v3h-3zM93 9h3v3h-3zM105 9h3v3h-3zM12 12h3v3h-3zM33 12h3v3h-3zM90 12h9v3h-9zM102 12h6v3h-6zM3 15h3v3h-3zM9 15h3v3h-3zM45 15h3v3h-3zM63 15h3v3h-3zM69 15h3v3h-3zM84 15h18v3h-18zM111 15h3v3h-3zM6 18h3v3h-3zM21 18h3v3h-3zM30 18h9v3h-9zM42 18h6v3h-6zM63 18h3v3h-3zM81 18h3v3h-3zM96 18h3v3h-3zM108 18h3v3h-3zM24 21h3v3h-3zM33 21h6v3h-6zM42 21h3v3h-3zM60 21h3v3h-3zM66 21h6v3h-6zM81 21h9v3h-9zM93 21h6v3h-6zM0 24h3v3h-3zM24 24h12v3h-12zM39 24h6v3h-6zM60 24h3v3h-3zM66 24h3v3h-3zM75 24h3v3h-3zM84 24h9v3h-9zM96 24h6v3h-6zM117 24h3v3h-3zM27 27h6v3h-6zM84 27h3v3h-3zM90 27h6v3h-6zM27 30h3v3h-3zM81 30h6v3h-6zM90 30h3v3h-3zM117 30h3v3h-3zM21 33h3v3h-3zM30 33h3v3h-3zM81 33h12v3h-12zM0 36h3v3h-3zM21 36h3v3h-3zM84 36h6v3h-6zM0 39h9v3h-9zM12 39h3v3h-3zM18 39h6v3h-6zM117 39h3v3h-3zM0 42h3v3h-3zM9 42h6v3h-6zM21 42h3v3h-3zM39 42h3v3h-3zM51 42h3v3h-3zM57 42h6v3h-6zM69 42h6v3h-6zM87 42h3v3h-3zM117 42h3v3h-3zM48 45h3v3h-3zM57 45h6v3h-6zM81 45h6v3h-6zM90 45h9v3h-9zM111 45h9v3h-9zM6 48h3v3h-3zM18 48h3v3h-3zM27 48h3v3h-3zM33 48h3v3h-3zM45 48h6v3h-6zM72 48h3v3h-3zM78 48h6v3h-6zM108 48h6v3h-6zM15 51h3v3h-3zM51 51h3v3h-3zM69 51h6v3h-6zM108 51h6v3h-6zM3 54h3v3h-3zM45 54h3v3h-3zM69 54h3v3h-3zM108 54h3v3h-3zM3 57h6v3h-6zM45 57h6v3h-6zM102 57h9v3h-9zM3 60h3v3h-3zM18 60h3v3h-3zM45 60h3v3h-3zM66 60h3v3h-3zM96 60h6v3h-6zM15 63h6v3h-6zM36 63h3v3h-3zM42 63h9v3h-9zM54 63h6v3h-6zM66 63h9v3h-9zM96 63h3v3h-3zM102 63h3v3h-3zM12 66h6v3h-6zM21 66h3v3h-3zM36 66h3v3h-3zM45 66h3v3h-3zM54 66h3v3h-3zM60 66h3v3h-3zM66 66h3v3h-3zM72 66h3v3h-3zM78 66h3v3h-3zM93 66h3v3h-3zM102 66h3v3h-3zM117 66h3v3h-3zM3 69h3v3h-3zM9 69h6v3h-6zM18 69h3v3h-3zM24 69h3v3h-3zM51 69h3v3h-3zM57 69h3v3h-3zM63 69h12v3h-12zM90 69h6v3h-6zM114 69h6v3h-6zM0 72h21v3h-21zM30 72h3v3h-3zM57 72h18v3h-18zM99 72h3v3h-3zM105 72h9v3h-9zM0 75h9v3h-9zM57 75h12v3h-12zM102 75h6v3h-6zM114 75h3v3h-3zM60 78h3v3h-3zM111 78h3v3h-3zM36 81h3v3h-3zM57 81h3v3h-3zM114 81h3v3h-3zM36 84h3v3h-3zM54 84h6v3h-6zM63 84h3v3h-3zM78 84h3v3h-3zM93 84h3v3h-3zM114 84h3v3h-3zM3 87h3v3h-3zM27 87h6v3h-6zM36 87h3v3h-3zM60 87h3v3h-3zM66 87h9v3h-9zM90 87h3v3h-3zM108 87h6v3h-6zM0 90h6v3h-6zM12 90h3v3h-3zM27 90h3v3h-3zM36 90h3v3h-3zM69 90h3v3h-3zM90 90h6v3h-6zM117 90h3v3h-3zM0 93h3v3h-3zM9 93h3v3h-3zM24 93h3v3h-3zM33 93h3v3h-3zM42 93h6v3h-6zM63 93h3v3h-3zM90 93h3v3h-3zM105 93h3v3h-3zM117 93h3v3h-3zM24 96h3v3h-3zM42 96h3v3h-3zM54 96h3v3h-3zM81 96h3v3h-3zM90 96h3v3h-3zM102 96h3v3h-3zM111 96h6v3h-6zM0 99h3v3h-3zM42 99h3v3h-3zM81 99h6v3h-6zM99 99h9v3h-9zM117 99h3v3h-3zM57 102h3v3h-3zM81 102h6v3h-6zM99 102h3v3h-3zM114 102h6v3h-6zM39 105h3v3h-3zM15 108h6v3h-6zM36 108h3v3h-3zM54 108h3v3h-3zM99 108h3v3h-3zM9 111h9v3h-9zM30 111h3v3h-3zM39 111h3v3h-3zM84 111h6v3h-6zM93 111h3v3h-3zM102 111h3v3h-3zM108 111h6v3h-6zM6 114h9v3h-9zM21 114h6v3h-6zM30 114h12v3h-12zM48 114h6v3h-6zM84 114h15v3h-15zM108 114h6v3h-6zM9 117h12v3h-12zM24 117h3v3h-3zM39 117h3v3h-3zM45 117h3v3h-3zM78 117h9v3h-9zM96 117h3v3h-3z"/><path fill="#eeee00" d="M15 0h6v3h-6zM96 0h9v3h-9zM36 3h3v3h-3zM96 3h3v3h-3zM102 3h3v3h-3zM33 9h3v3h-3zM27 12h6v3h-6zM6 15h3v3h-3zM24 15h9v3h-9zM102 15h9v3h-9zM0 18h6v3h-6zM24 18h6v3h-6zM66 18h3v3h-3zM84 18h9v3h-9zM21 21h3v3h-3zM27 21h3v3h-3zM39 21h3v3h-3zM63 21h3v3h-3zM78 21h3v3h-3zM21 24h3v3h-3zM78 24h6v3h-6zM30 30h3v3h-3zM81 36h3v3h-3zM75 39h12v3h-12zM15 42h6v3h-6zM54 42h3v3h-3zM75 42h12v3h-12zM9 45h12v3h-12zM51 45h6v3h-6zM72 45h9v3h-9zM9 48h9v3h-9zM51 48h6v3h-6zM75 48h3v3h-3zM6 51h9v3h-9zM48 51h3v3h-3zM6 54h6v3h-6zM48 54h3v3h-3zM102 60h3v3h-3zM39 63h3v3h-3zM99 63h3v3h-3zM18 66h3v3h-3zM39 66h3v3h-3zM57 66h3v3h-3zM63 66h3v3h-3zM69 66h3v3h-3zM96 66h6v3h-6zM15 69h3v3h-3zM33 69h6v3h-6zM60 69h3v3h-3zM96 69h6v3h-6zM63 78h3v3h-3zM60 81h3v3h-3zM60 84h3v3h-3zM51 87h9v3h-9zM114 87h6v3h-6zM6 90h3v3h-3zM30 90h6v3h-6zM45 90h3v3h-3zM108 90h9v3h-9zM3 93h6v3h-6zM27 93h6v3h-6zM87 93h3v3h-3zM108 93h9v3h-9zM0 96h9v3h-9zM27 96h3v3h-3zM45 96h3v3h-3zM84 96h6v3h-6zM105 96h6v3h-6zM117 96h3v3h-3zM3 99h3v3h-3zM45 99h6v3h-6zM42 102h6v3h-6zM42 105h3v3h-3zM39 108h6v3h-6zM48 108h6v3h-6zM42 111h9v3h-9zM15 114h6v3h-6zM42 114h6v3h-6zM99 114h6v3h-6zM42 117h3v3h-3zM93 117h3v3h-3zM99 117h3v3h-3z"/><path fill="#ff5500" d="M30 0h3v3h-3zM48 0h3v3h-3zM63 0h3v3h-3zM81 0h6v3h-6zM21 3h3v3h-3zM33 3h3v3h-3zM54 3h3v3h-3zM63 3h3v3h-3zM72 3h3v3h-3zM81 3h3v3h-3zM39 6h3v3h-3zM69 6h9v3h-9zM12 9h3v3h-3zM36 9h3v3h-3zM72 9h6v3h-6zM96 9h6v3h-6zM108 9h3v3h-3zM6 12h6v3h-6zM24 12h3v3h-3zM36 12h3v3h-3zM87 12h3v3h-3zM108 12h3v3h-3zM0 15h3v3h-3zM33 15h3v3h-3zM42 15h3v3h-3zM48 15h3v3h-3zM72 15h3v3h-3zM39 18h3v3h-3zM69 18h6v3h-6zM93 18h3v3h-3zM111 18h3v3h-3zM3 21h6v3h-6zM30 21h3v3h-3zM45 21h3v3h-3zM72 21h6v3h-6zM90 21h3v3h-3zM117 21h3v3h-3zM18 24h3v3h-3zM45 24h3v3h-3zM63 24h3v3h-3zM72 24h3v3h-3zM93 24h3v3h-3zM57 27h6v3h-6zM75 27h6v3h-6zM87 27h3v3h-3zM96 27h3v3h-3zM111 27h9v3h-9zM93 30h3v3h-3zM114 30h3v3h-3zM15 33h3v3h-3zM12 36h6v3h-6zM24 36h3v3h-3zM30 36h3v3h-3zM39 36h3v3h-3zM78 36h3v3h-3zM15 39h3v3h-3zM36 39h3v3h-3zM60 39h3v3h-3zM72 39h3v3h-3zM30 42h3v3h-3zM36 42h3v3h-3zM66 42h3v3h-3zM111 42h6v3h-6zM24 45h3v3h-3zM30 45h12v3h-12zM69 45h3v3h-3zM108 45h3v3h-3zM24 48h3v3h-3zM30 48h3v3h-3zM36 48h3v3h-3zM57 48h6v3h-6zM66 48h6v3h-6zM114 48h3v3h-3zM18 51h3v3h-3zM24 51h3v3h-3zM30 51h3v3h-3zM45 51h3v3h-3zM66 51h3v3h-3zM84 51h3v3h-3zM90 51h3v3h-3zM12 54h6v3h-6zM21 54h3v3h-3zM51 54h3v3h-3zM102 54h6v3h-6zM111 54h3v3h-3zM9 57h3v3h-3zM24 57h3v3h-3zM51 57h3v3h-3zM66 57h3v3h-3zM0 60h3v3h-3zM42 60h3v3h-3zM48 60h3v3h-3zM57 60h3v3h-3zM75 60h3v3h-3zM3 63h6v3h-6zM12 63h3v3h-3zM21 63h3v3h-3zM51 63h3v3h-3zM6 66h3v3h-3zM33 66h3v3h-3zM42 66h3v3h-3zM75 66h3v3h-3zM105 66h3v3h-3zM54 69h3v3h-3zM75 69h3v3h-3zM105 69h3v3h-3zM111 69h3v3h-3zM24 72h6v3h-6zM33 72h3v3h-3zM39 72h3v3h-3zM45 72h3v3h-3zM51 72h6v3h-6zM90 72h9v3h-9zM102 72h3v3h-3zM114 72h3v3h-3zM9 75h3v3h-3zM33 75h6v3h-6zM69 75h3v3h-3zM99 75h3v3h-3zM33 78h3v3h-3zM99 78h6v3h-6zM114 78h3v3h-3zM33 81h3v3h-3zM63 81h6v3h-6zM81 81h3v3h-3zM96 81h3v3h-3zM30 84h3v3h-3zM66 84h6v3h-6zM111 84h3v3h-3zM0 87h3v3h-3zM6 87h3v3h-3zM45 87h6v3h-6zM75 87h3v3h-3zM93 87h6v3h-6zM9 90h3v3h-3zM42 90h3v3h-3zM63 90h3v3h-3zM72 90h3v3h-3zM87 90h3v3h-3zM105 90h3v3h-3zM84 93h3v3h-3zM9 96h3v3h-3zM21 96h3v3h-3zM63 96h3v3h-3zM51 99h9v3h-9zM87 99h3v3h-3zM108 99h3v3h-3zM21 102h3v3h-3zM39 102h3v3h-3zM78 102h3v3h-3zM96 102h3v3h-3zM18 105h3v3h-3zM96 105h3v3h-3zM21 108h3v3h-3zM57 108h3v3h-3zM93 108h3v3h-3zM111 108h3v3h-3zM18 111h3v3h-3zM24 111h6v3h-6zM78 111h3v3h-3zM90 111h3v3h-3zM96 111h6v3h-6zM105 111h3v3h-3zM114 111h6v3h-6zM63 114h3v3h-3zM69 114h6v3h-6zM117 114h3v3h-3zM6 117h3v3h-3zM21 117h3v3h-3zM36 117h3v3h-3zM48 117h6v3h-6zM60 117h6v3h-6zM87 117h6v3h-6zM114 117h3v3h-3z"/></pattern><pattern id="p5" patternUnits="userSpaceOnUse" width="120" height="120"><path fill="#ffcc00" d="M0 0h3v3h-3zM30 0h3v3h-3zM36 0h6v3h-6zM45 0h3v3h-3zM84 0h3v3h-3zM0 3h3v3h-3zM24 3h3v3h-3zM30 3h6v3h-6zM81 3h3v3h-3zM93 3h3v3h-3zM108 3h3v3h-3zM18 6h3v3h-3zM48 6h3v3h-3zM63 6h3v3h-3zM90 6h3v3h-3zM114 6h3v3h-3zM27 9h6v3h-6zM78 9h3v3h-3zM87 9h3v3h-3zM114 9h3v3h-3zM69 12h3v3h-3zM9 15h3v3h-3zM66 15h6v3h-6zM69 18h3v3h-3zM0 21h3v3h-3zM51 24h3v3h-3zM99 24h3v3h-3zM0 27h9v3h-9zM30 27h3v3h-3zM93 27h3v3h-3zM99 27h3v3h-3zM117 27h3v3h-3zM6 30h3v3h-3zM75 30h3v3h-3zM78 33h3v3h-3zM36 36h3v3h-3zM105 36h6v3h-6zM36 39h3v3h-3zM45 39h9v3h-9zM78 39h6v3h-6zM33 42h3v3h-3zM12 45h6v3h-6zM36 45h3v3h-3zM99 48h3v3h-3zM111 51h3v3h-3zM3 54h3v3h-3zM12 54h3v3h-3zM63 54h3v3h-3zM102 54h9v3h-9zM6 57h3v3h-3zM63 57h3v3h-3zM87 57h6v3h-6zM108 57h3v3h-3zM36 60h3v3h-3zM63 60h3v3h-3zM87 60h3v3h-3zM111 60h3v3h-3zM0 63h3v3h-3zM42 63h3v3h-3zM114 63h6v3h-6zM0 66h3v3h-3zM24 66h3v3h-3zM81 66h6v3h-6zM39 69h3v3h-3zM48 69h3v3h-3zM84 69h3v3h-3zM114 69h3v3h-3zM42 72h3v3h-3zM87 72h3v3h-3zM114 75h6v3h-6zM36 84h6v3h-6zM66 84h3v3h-3zM93 84h3v3h-3zM99 84h3v3h-3zM30 87h6v3h-6zM63 90h3v3h-3zM51 93h3v3h-3zM18 96h3v3h-3zM51 96h3v3h-3zM57 96h3v3h-3zM57 99h3v3h-3zM105 99h3v3h-3zM12 102h6v3h-6zM75 102h3v3h-3zM84 102h3v3h-3zM102 102h3v3h-3zM81 105h3v3h-3zM102 105h3v3h-3zM33 108h3v3h-3zM39 108h3v3h-3zM84 108h3v3h-3zM102 108h3v3h-3zM6 111h3v3h-3zM36 111h3v3h-3zM66 111h3v3h-3zM75 111h3v3h-3zM105 111h6v3h-6zM6 114h3v3h-3zM15 114h3v3h-3zM30 114h3v3h-3zM42 114h3v3h-3zM60 114h3v3h-3zM81 114h3v3h-3zM87 114h3v3h-3zM30 117h3v3h-3zM36 117h3v3h-3zM42 117h6v3h-6zM60 117h3v3h-3zM87 117h3v3h-3z"/><path fill="#ffaa00" d="M18 0h3v3h-3zM33 0h3v3h-3zM48 0h3v3h-3zM87 0h3v3h-3zM18 3h6v3h-6zM48 3h6v3h-6zM57 3h3v3h-3zM87 3h6v3h-6zM105 3h3v3h-3zM24 6h3v3h-3zM57 6h3v3h-3zM96 6h3v3h-3zM105 6h9v3h-9zM54 9h3v3h-3zM81 9h3v3h-3zM102 9h3v3h-3zM108 9h3v3h-3zM117 9h3v3h-3zM72 12h12v3h-12zM99 12h6v3h-6zM108 12h3v3h-3zM72 15h6v3h-6zM0 18h12v3h-12zM45 18h3v3h-3zM3 21h6v3h-6zM42 21h9v3h-9zM0 24h12v3h-12zM27 24h6v3h-6zM48 24h3v3h-3zM9 27h3v3h-3zM27 27h3v3h-3zM96 27h3v3h-3zM24 30h9v3h-9zM72 30h3v3h-3zM0 33h3v3h-3zM27 33h3v3h-3zM75 33h3v3h-3zM72 36h9v3h-9zM39 39h6v3h-6zM72 39h6v3h-6zM111 39h6v3h-6zM36 42h12v3h-12zM69 42h6v3h-6zM18 45h3v3h-3zM39 45h6v3h-6zM12 48h9v3h-9zM39 48h6v3h-6zM6 51h18v3h-18zM96 51h9v3h-9zM0 54h3v3h-3zM6 54h3v3h-3zM15 54h9v3h-9zM93 54h9v3h-9zM111 54h6v3h-6zM0 57h3v3h-3zM66 57h3v3h-3zM111 57h9v3h-9zM42 60h3v3h-3zM66 60h3v3h-3zM84 60h3v3h-3zM114 60h6v3h-6zM36 63h6v3h-6zM45 63h3v3h-3zM63 63h3v3h-3zM87 63h3v3h-3zM21 66h3v3h-3zM36 66h15v3h-15zM15 69h9v3h-9zM42 69h6v3h-6zM117 69h3v3h-3zM15 72h9v3h-9zM90 72h3v3h-3zM93 75h9v3h-9zM66 78h3v3h-3zM96 78h9v3h-9zM66 81h3v3h-3zM93 81h15v3h-15zM30 84h3v3h-3zM63 84h3v3h-3zM69 84h3v3h-3zM96 84h3v3h-3zM102 84h3v3h-3zM36 87h3v3h-3zM6 90h3v3h-3zM33 90h3v3h-3zM57 90h3v3h-3zM6 93h3v3h-3zM12 93h3v3h-3zM18 93h3v3h-3zM54 93h3v3h-3zM6 96h12v3h-12zM9 99h3v3h-3zM102 99h3v3h-3zM108 99h3v3h-3zM105 102h6v3h-6zM75 105h6v3h-6zM105 105h6v3h-6zM36 108h3v3h-3zM75 108h9v3h-9zM105 108h6v3h-6zM33 111h3v3h-3zM39 111h3v3h-3zM60 111h3v3h-3zM78 111h9v3h-9zM33 114h9v3h-9zM3 117h3v3h-3zM9 117h9v3h-9zM33 117h3v3h-3zM39 117h3v3h-3zM57 117h3v3h-3zM84 117h3v3h-3z"/><path fill="#ff5500" d="M21 0h3v3h-3zM27 0h3v3h-3zM42 0h3v3h-3zM57 0h6v3h-6zM27 3h3v3h-3zM36 3h3v3h-3zM45 3h3v3h-3zM84 3h3v3h-3zM111 3h3v3h-3zM21 6h3v3h-3zM27 6h9v3h-9zM54 6h3v3h-3zM81 6h6v3h-6zM60 9h3v3h-3zM72 9h6v3h-6zM93 9h3v3h-3zM111 9h3v3h-3zM24 12h3v3h-3zM63 12h6v3h-6zM93 12h6v3h-6zM6 15h3v3h-3zM63 15h3v3h-3zM99 15h3v3h-3zM42 18h3v3h-3zM66 18h3v3h-3zM12 21h3v3h-3zM96 21h3v3h-3zM33 24h3v3h-3zM45 24h3v3h-3zM0 30h3v3h-3zM9 30h3v3h-3zM33 30h3v3h-3zM30 33h9v3h-9zM81 33h3v3h-3zM51 36h3v3h-3zM57 39h3v3h-3zM105 39h3v3h-3zM15 42h3v3h-3zM75 42h3v3h-3zM69 45h3v3h-3zM96 45h6v3h-6zM36 48h3v3h-3zM102 48h3v3h-3zM105 51h3v3h-3zM9 54h3v3h-3zM66 54h3v3h-3zM84 54h6v3h-6zM9 57h6v3h-6zM18 57h3v3h-3zM60 57h3v3h-3zM84 57h3v3h-3zM105 57h3v3h-3zM39 60h3v3h-3zM60 60h3v3h-3zM90 60h3v3h-3zM108 60h3v3h-3zM21 63h3v3h-3zM27 63h3v3h-3zM48 63h3v3h-3zM81 63h6v3h-6zM90 63h3v3h-3zM108 63h6v3h-6zM18 66h3v3h-3zM114 66h6v3h-6zM0 69h3v3h-3zM51 69h3v3h-3zM66 69h3v3h-3zM87 69h3v3h-3zM93 72h6v3h-6zM6 75h3v3h-3zM42 75h3v3h-3zM63 75h6v3h-6zM69 78h3v3h-3zM30 81h3v3h-3zM69 81h3v3h-3zM117 81h3v3h-3zM33 84h3v3h-3zM72 84h3v3h-3zM24 87h3v3h-3zM93 87h3v3h-3zM102 87h3v3h-3zM66 90h3v3h-3zM21 93h3v3h-3zM63 93h3v3h-3zM45 96h3v3h-3zM54 96h3v3h-3zM6 102h6v3h-6zM81 102h3v3h-3zM9 105h3v3h-3zM84 105h6v3h-6zM12 111h3v3h-3zM18 111h3v3h-3zM0 114h6v3h-6zM9 114h6v3h-6zM84 114h3v3h-3zM90 114h3v3h-3zM108 114h3v3h-3zM0 117h3v3h-3z"/><path fill="#ff0000" d="M24 0h3v3h-3zM63 0h3v3h-3zM108 0h6v3h-6zM117 0h3v3h-3zM42 3h3v3h-3zM60 3h3v3h-3zM114 3h6v3h-6zM39 6h9v3h-9zM78 6h3v3h-3zM87 6h3v3h-3zM15 9h12v3h-12zM63 9h9v3h-9zM84 9h3v3h-3zM90 9h3v3h-3zM9 12h3v3h-3zM60 12h3v3h-3zM90 12h3v3h-3zM12 15h6v3h-6zM60 15h3v3h-3zM96 15h3v3h-3zM102 15h3v3h-3zM63 18h3v3h-3zM90 18h9v3h-9zM102 18h3v3h-3zM39 21h3v3h-3zM69 21h3v3h-3zM90 21h6v3h-6zM99 21h6v3h-6zM42 24h3v3h-3zM90 24h9v3h-9zM117 24h3v3h-3zM33 27h3v3h-3zM90 27h3v3h-3zM3 30h3v3h-3zM51 30h3v3h-3zM78 30h3v3h-3zM3 33h9v3h-9zM51 33h3v3h-3zM57 33h3v3h-3zM48 36h3v3h-3zM54 36h3v3h-3zM81 36h3v3h-3zM54 39h3v3h-3zM102 39h3v3h-3zM108 39h3v3h-3zM78 42h6v3h-6zM102 42h3v3h-3zM108 42h6v3h-6zM72 45h3v3h-3zM102 45h6v3h-6zM111 45h3v3h-3zM81 48h3v3h-3zM105 48h6v3h-6zM27 51h3v3h-3zM33 51h6v3h-6zM60 51h12v3h-12zM75 51h3v3h-3zM81 51h3v3h-3zM108 51h3v3h-3zM24 54h3v3h-3zM57 54h6v3h-6zM69 54h3v3h-3zM15 57h3v3h-3zM27 57h3v3h-3zM33 57h3v3h-3zM51 57h9v3h-9zM9 60h3v3h-3zM18 60h6v3h-6zM30 60h3v3h-3zM51 60h9v3h-9zM93 60h3v3h-3zM12 63h6v3h-6zM24 63h3v3h-3zM51 63h6v3h-6zM60 63h3v3h-3zM15 66h3v3h-3zM51 66h3v3h-3zM87 66h9v3h-9zM111 66h3v3h-3zM69 69h3v3h-3zM81 69h3v3h-3zM90 69h6v3h-6zM0 72h9v3h-9zM45 72h6v3h-6zM66 72h3v3h-3zM114 72h6v3h-6zM0 75h6v3h-6zM45 75h6v3h-6zM69 75h3v3h-3zM0 78h9v3h-9zM42 78h3v3h-3zM72 78h3v3h-3zM117 78h3v3h-3zM6 81h3v3h-3zM33 81h9v3h-9zM72 81h3v3h-3zM3 84h3v3h-3zM27 84h3v3h-3zM21 87h3v3h-3zM27 87h3v3h-3zM99 87h3v3h-3zM15 90h3v3h-3zM21 90h12v3h-12zM24 93h6v3h-6zM72 93h3v3h-3zM48 96h3v3h-3zM75 96h6v3h-6zM42 99h3v3h-3zM51 99h6v3h-6zM72 99h9v3h-9zM99 99h3v3h-3zM54 102h3v3h-3zM78 102h3v3h-3zM99 102h3v3h-3zM6 105h3v3h-3zM15 105h3v3h-3zM36 105h3v3h-3zM99 105h3v3h-3zM6 108h9v3h-9zM18 108h3v3h-3zM42 108h3v3h-3zM87 108h3v3h-3zM3 111h3v3h-3zM9 111h3v3h-3zM15 111h3v3h-3zM42 111h3v3h-3zM63 111h3v3h-3zM87 111h6v3h-6zM63 114h6v3h-6zM114 114h6v3h-6zM21 117h3v3h-3zM90 117h3v3h-3zM108 117h3v3h-3zM117 117h3v3h-3z"/><path fill="#eeee00" d="M66 0h3v3h-3zM114 0h3v3h-3zM63 3h6v3h-6zM66 6h9v3h-9zM12 12h12v3h-12zM18 15h3v3h-3zM93 15h3v3h-3zM99 18h3v3h-3zM66 21h3v3h-3zM39 24h3v3h-3zM12 33h3v3h-3zM54 33h3v3h-3zM6 36h6v3h-6zM9 39h6v3h-6zM105 42h3v3h-3zM75 45h6v3h-6zM108 45h3v3h-3zM66 48h15v3h-15zM30 51h3v3h-3zM72 51h3v3h-3zM27 54h6v3h-6zM12 60h6v3h-6zM18 63h3v3h-3zM57 63h3v3h-3zM93 63h3v3h-3zM72 69h3v3h-3zM78 69h3v3h-3zM69 72h15v3h-15zM72 75h9v3h-9zM36 78h6v3h-6zM45 78h3v3h-3zM75 78h3v3h-3zM0 81h6v3h-6zM0 84h3v3h-3zM6 84h3v3h-3zM96 87h3v3h-3zM69 90h3v3h-3zM96 90h3v3h-3zM99 93h3v3h-3zM99 96h3v3h-3zM45 99h6v3h-6zM42 102h12v3h-12zM96 102h3v3h-3zM12 105h3v3h-3zM39 105h9v3h-9zM51 105h3v3h-3zM15 108h3v3h-3zM111 114h3v3h-3zM63 117h9v3h-9zM111 117h6v3h-6z"/></pattern><pattern id="p6" patternUnits="userSpaceOnUse" width="120" height="120"><path fill="#ffcc00" d="M0 0h6v3h-6zM54 0h3v3h-3zM69 0h3v3h-3zM111 0h3v3h-3zM24 3h3v3h-3zM81 3h3v3h-3zM117 3h3v3h-3zM9 6h3v3h-3zM33 6h3v3h-3zM63 6h3v3h-3zM81 6h6v3h-6zM114 6h3v3h-3zM21 9h3v3h-3zM42 9h3v3h-3zM90 9h6v3h-6zM57 12h3v3h-3zM63 12h3v3h-3zM96 12h6v3h-6zM42 15h3v3h-3zM60 15h6v3h-6zM75 15h3v3h-3zM102 15h3v3h-3zM30 18h3v3h-3zM36 18h6v3h-6zM51 18h3v3h-3zM96 18h6v3h-6zM48 21h3v3h-3zM54 21h3v3h-3zM78 21h3v3h-3zM99 21h3v3h-3zM15 24h3v3h-3zM51 24h3v3h-3zM90 24h3v3h-3zM105 27h3v3h-3zM111 27h3v3h-3zM15 30h3v3h-3zM30 30h3v3h-3zM57 30h3v3h-3zM81 30h3v3h-3zM9 33h6v3h-6zM96 33h3v3h-3zM12 36h3v3h-3zM24 36h3v3h-3zM33 36h3v3h-3zM96 36h3v3h-3zM108 36h3v3h-3zM33 39h3v3h-3zM66 39h3v3h-3zM105 39h3v3h-3zM63 42h9v3h-9zM27 45h3v3h-3zM45 45h3v3h-3zM96 45h3v3h-3zM114 45h3v3h-3zM96 48h3v3h-3zM15 51h6v3h-6zM117 51h3v3h-3zM21 54h3v3h-3zM54 54h3v3h-3zM81 54h3v3h-3zM93 54h3v3h-3zM99 54h3v3h-3zM111 54h3v3h-3zM54 57h6v3h-6zM9 60h3v3h-3zM51 60h3v3h-3zM63 60h6v3h-6zM24 63h3v3h-3zM84 63h3v3h-3zM111 63h3v3h-3zM21 66h3v3h-3zM33 66h3v3h-3zM66 66h3v3h-3zM75 66h3v3h-3zM105 66h3v3h-3zM111 66h3v3h-3zM0 69h3v3h-3zM30 69h3v3h-3zM102 69h3v3h-3zM0 72h3v3h-3zM6 72h3v3h-3zM30 72h3v3h-3zM63 72h3v3h-3zM108 75h3v3h-3zM63 78h3v3h-3zM108 78h6v3h-6zM3 81h3v3h-3zM30 81h3v3h-3zM45 81h3v3h-3zM108 81h3v3h-3zM18 84h3v3h-3zM27 84h3v3h-3zM75 84h3v3h-3zM21 87h3v3h-3zM81 87h3v3h-3zM87 87h3v3h-3zM114 87h3v3h-3zM24 90h3v3h-3zM45 90h3v3h-3zM78 90h3v3h-3zM18 93h3v3h-3zM78 93h3v3h-3zM102 93h3v3h-3zM0 99h3v3h-3zM21 99h3v3h-3zM60 99h3v3h-3zM81 99h3v3h-3zM93 99h3v3h-3zM102 99h3v3h-3zM3 102h3v3h-3zM9 102h3v3h-3zM27 102h6v3h-6zM93 102h3v3h-3zM21 105h3v3h-3zM42 105h3v3h-3zM66 105h3v3h-3zM78 105h3v3h-3zM99 105h3v3h-3zM18 108h3v3h-3zM36 108h3v3h-3zM45 108h3v3h-3zM66 108h3v3h-3zM75 108h3v3h-3zM36 111h3v3h-3zM21 114h3v3h-3zM105 114h3v3h-3zM111 114h3v3h-3zM15 117h3v3h-3zM78 117h3v3h-3zM87 117h3v3h-3zM108 117h3v3h-3z"/><path fill="#00ff00" d="M6 0h6v3h-6zM30 0h3v3h-3zM36 0h3v3h-3zM66 0h3v3h-3zM81 0h6v3h-6zM21 3h3v3h-3zM30 3h6v3h-6zM39 3h6v3h-6zM54 3h9v3h-9zM84 3h3v3h-3zM78 6h3v3h-3zM33 9h3v3h-3zM57 9h3v3h-3zM87 9h3v3h-3zM117 9h3v3h-3zM39 15h3v3h-3zM96 15h3v3h-3zM36 21h6v3h-6zM90 21h6v3h-6zM36 24h6v3h-6zM114 24h3v3h-3zM6 27h3v3h-3zM12 27h3v3h-3zM18 27h3v3h-3zM30 27h3v3h-3zM54 27h6v3h-6zM96 27h3v3h-3zM114 27h3v3h-3zM6 30h3v3h-3zM33 30h3v3h-3zM105 30h3v3h-3zM111 30h3v3h-3zM54 33h6v3h-6zM93 33h3v3h-3zM9 36h3v3h-3zM51 36h3v3h-3zM57 36h6v3h-6zM93 36h3v3h-3zM99 36h3v3h-3zM105 36h3v3h-3zM3 39h3v3h-3zM12 39h3v3h-3zM72 39h3v3h-3zM108 39h3v3h-3zM33 42h6v3h-6zM45 42h3v3h-3zM72 42h3v3h-3zM96 42h3v3h-3zM15 45h3v3h-3zM63 45h3v3h-3zM69 45h3v3h-3zM75 45h6v3h-6zM93 45h3v3h-3zM18 48h3v3h-3zM36 48h3v3h-3zM3 51h3v3h-3zM33 51h6v3h-6zM60 51h3v3h-3zM6 54h9v3h-9zM30 54h3v3h-3zM63 54h3v3h-3zM84 54h3v3h-3zM96 54h3v3h-3zM0 57h3v3h-3zM9 57h3v3h-3zM21 57h3v3h-3zM27 57h3v3h-3zM48 57h3v3h-3zM63 57h3v3h-3zM84 57h3v3h-3zM96 57h3v3h-3zM108 57h3v3h-3zM54 60h3v3h-3zM78 60h3v3h-3zM99 60h6v3h-6zM108 60h3v3h-3zM114 60h3v3h-3zM51 63h3v3h-3zM75 63h3v3h-3zM99 63h6v3h-6zM114 63h3v3h-3zM30 66h3v3h-3zM87 66h3v3h-3zM102 66h3v3h-3zM18 69h3v3h-3zM24 69h3v3h-3zM72 69h6v3h-6zM93 69h3v3h-3zM0 75h3v3h-3zM30 75h3v3h-3zM105 75h3v3h-3zM3 78h6v3h-6zM48 78h3v3h-3zM69 78h3v3h-3zM48 81h3v3h-3zM69 81h3v3h-3zM87 81h6v3h-6zM105 81h3v3h-3zM114 81h3v3h-3zM114 84h3v3h-3zM24 87h3v3h-3zM30 87h3v3h-3zM42 87h3v3h-3zM63 87h3v3h-3zM78 87h3v3h-3zM84 87h3v3h-3zM39 90h6v3h-6zM72 90h6v3h-6zM81 90h3v3h-3zM0 96h3v3h-3zM21 96h3v3h-3zM27 96h3v3h-3zM60 96h3v3h-3zM108 96h3v3h-3zM90 99h3v3h-3zM114 99h6v3h-6zM39 102h3v3h-3zM66 102h3v3h-3zM87 102h3v3h-3zM15 105h3v3h-3zM39 105h3v3h-3zM84 105h3v3h-3zM102 105h3v3h-3zM57 108h3v3h-3zM96 108h3v3h-3zM18 111h3v3h-3zM45 111h3v3h-3zM57 111h3v3h-3zM84 111h3v3h-3zM99 111h12v3h-12zM18 114h3v3h-3zM24 114h3v3h-3zM45 114h3v3h-3zM57 114h3v3h-3zM66 114h3v3h-3zM102 114h3v3h-3zM27 117h3v3h-3zM33 117h3v3h-3zM48 117h6v3h-6zM84 117h3v3h-3zM111 117h3v3h-3zM117 117h3v3h-3z"/><path fill="#00cc00" d="M12 0h6v3h-6zM24 0h3v3h-3zM33 0h3v3h-3zM39 0h3v3h-3zM48 0h3v3h-3zM114 0h6v3h-6zM9 3h3v3h-3zM18 3h3v3h-3zM114 3h3v3h-3zM57 6h3v3h-3zM117 6h3v3h-3zM12 9h3v3h-3zM60 9h3v3h-3zM39 12h3v3h-3zM60 12h3v3h-3zM87 12h3v3h-3zM57 18h3v3h-3zM81 21h6v3h-6zM12 24h3v3h-3zM30 24h6v3h-6zM57 24h3v3h-3zM93 24h3v3h-3zM36 27h3v3h-3zM117 27h3v3h-3zM0 30h3v3h-3zM54 30h3v3h-3zM102 30h3v3h-3zM3 33h6v3h-6zM102 33h9v3h-9zM3 36h3v3h-3zM48 36h3v3h-3zM54 36h3v3h-3zM30 39h3v3h-3zM111 39h3v3h-3zM6 42h3v3h-3zM27 42h3v3h-3zM75 42h3v3h-3zM12 45h3v3h-3zM18 45h3v3h-3zM30 45h3v3h-3zM27 48h3v3h-3zM12 51h3v3h-3zM21 51h3v3h-3zM99 51h3v3h-3zM0 54h3v3h-3zM24 54h3v3h-3zM87 54h6v3h-6zM66 57h3v3h-3zM72 57h3v3h-3zM87 57h3v3h-3zM6 60h3v3h-3zM27 60h6v3h-6zM48 60h3v3h-3zM84 60h3v3h-3zM105 60h3v3h-3zM27 63h6v3h-6zM48 63h3v3h-3zM54 63h3v3h-3zM66 63h3v3h-3zM108 63h3v3h-3zM48 66h3v3h-3zM96 66h3v3h-3zM96 69h6v3h-6zM117 69h3v3h-3zM6 75h3v3h-3zM21 78h3v3h-3zM66 78h3v3h-3zM24 81h3v3h-3zM30 84h3v3h-3zM66 84h6v3h-6zM27 87h3v3h-3zM60 87h3v3h-3zM66 87h3v3h-3zM21 93h3v3h-3zM48 93h3v3h-3zM81 93h3v3h-3zM105 96h3v3h-3zM24 99h9v3h-9zM48 99h3v3h-3zM66 99h6v3h-6zM45 102h3v3h-3zM69 102h3v3h-3zM84 102h3v3h-3zM87 105h3v3h-3zM42 108h3v3h-3zM63 108h3v3h-3zM81 108h3v3h-3zM99 108h3v3h-3zM66 111h3v3h-3zM87 111h3v3h-3zM78 114h6v3h-6zM114 114h3v3h-3zM6 117h3v3h-3zM21 117h3v3h-3zM45 117h3v3h-3zM57 117h3v3h-3zM114 117h3v3h-3z"/><path fill="#bbff00" d="M18 0h6v3h-6zM45 0h3v3h-3zM57 0h3v3h-3zM0 3h3v3h-3zM6 3h3v3h-3zM12 3h3v3h-3zM36 3h3v3h-3zM12 6h3v3h-3zM18 6h6v3h-6zM36 6h6v3h-6zM18 9h3v3h-3zM36 9h6v3h-6zM84 9h3v3h-3zM87 15h3v3h-3zM78 18h6v3h-6zM87 18h6v3h-6zM33 21h3v3h-3zM54 24h3v3h-3zM15 27h3v3h-3zM93 27h3v3h-3zM3 30h3v3h-3zM9 30h6v3h-6zM36 30h3v3h-3zM96 30h3v3h-3zM114 30h3v3h-3zM0 36h3v3h-3zM6 36h3v3h-3zM102 36h3v3h-3zM6 39h6v3h-6zM48 39h3v3h-3zM9 42h3v3h-3zM9 45h3v3h-3zM33 45h6v3h-6zM60 45h3v3h-3zM72 45h3v3h-3zM9 48h6v3h-6zM30 48h3v3h-3zM60 48h3v3h-3zM75 48h3v3h-3zM30 51h3v3h-3zM51 51h3v3h-3zM57 51h3v3h-3zM3 54h3v3h-3zM3 57h6v3h-6zM24 57h3v3h-3zM30 57h3v3h-3zM51 57h3v3h-3zM93 57h3v3h-3zM99 57h3v3h-3zM105 57h3v3h-3zM69 60h9v3h-9zM87 60h3v3h-3zM111 60h3v3h-3zM72 63h3v3h-3zM87 63h3v3h-3zM105 63h3v3h-3zM51 66h3v3h-3zM69 66h6v3h-6zM21 69h3v3h-3zM51 69h3v3h-3zM3 75h3v3h-3zM30 78h3v3h-3zM21 81h3v3h-3zM27 81h3v3h-3zM111 81h3v3h-3zM24 84h3v3h-3zM72 84h3v3h-3zM75 87h3v3h-3zM60 90h3v3h-3zM84 90h3v3h-3zM84 93h3v3h-3zM24 96h3v3h-3zM48 96h3v3h-3zM84 96h3v3h-3zM87 99h3v3h-3zM108 99h3v3h-3zM0 102h3v3h-3zM90 102h3v3h-3zM102 102h6v3h-6zM117 102h3v3h-3zM3 105h3v3h-3zM90 105h3v3h-3zM96 105h3v3h-3zM3 108h3v3h-3zM39 108h3v3h-3zM84 108h12v3h-12zM39 111h6v3h-6zM78 111h6v3h-6zM84 114h3v3h-3zM9 117h3v3h-3zM24 117h3v3h-3zM36 117h3v3h-3zM81 117h3v3h-3z"/><path fill="#eeee00" d="M27 0h3v3h-3zM51 0h3v3h-3zM3 3h3v3h-3zM27 3h3v3h-3zM63 3h6v3h-6zM72 3h3v3h-3zM111 3h3v3h-3zM0 6h3v3h-3zM6 6h3v3h-3zM51 6h6v3h-6zM60 6h3v3h-3zM87 6h6v3h-6zM9 9h3v3h-3zM54 9h3v3h-3zM63 9h3v3h-3zM96 9h6v3h-6zM114 9h3v3h-3zM3 12h3v3h-3zM12 12h12v3h-12zM36 12h3v3h-3zM36 15h3v3h-3zM57 15h3v3h-3zM54 18h3v3h-3zM75 18h3v3h-3zM105 18h3v3h-3zM15 21h3v3h-3zM30 21h3v3h-3zM57 21h3v3h-3zM72 21h3v3h-3zM96 21h3v3h-3zM108 21h6v3h-6zM96 24h3v3h-3zM102 24h3v3h-3zM3 27h3v3h-3zM9 27h3v3h-3zM39 27h3v3h-3zM75 27h3v3h-3zM81 27h3v3h-3zM99 27h3v3h-3zM39 30h3v3h-3zM84 30h3v3h-3zM93 30h3v3h-3zM108 30h3v3h-3zM81 33h6v3h-6zM90 33h3v3h-3zM27 36h6v3h-6zM45 36h3v3h-3zM75 36h3v3h-3zM81 36h3v3h-3zM15 39h3v3h-3zM27 39h3v3h-3zM36 39h3v3h-3zM60 39h6v3h-6zM84 39h3v3h-3zM96 39h3v3h-3zM15 42h3v3h-3zM24 42h3v3h-3zM93 42h3v3h-3zM99 42h3v3h-3zM3 45h3v3h-3zM21 45h3v3h-3zM66 45h3v3h-3zM90 45h3v3h-3zM111 45h3v3h-3zM0 48h9v3h-9zM21 48h6v3h-6zM39 48h3v3h-3zM66 48h6v3h-6zM78 48h3v3h-3zM90 48h3v3h-3zM117 48h3v3h-3zM6 51h6v3h-6zM63 51h3v3h-3zM81 51h3v3h-3zM102 51h3v3h-3zM114 51h3v3h-3zM15 54h3v3h-3zM57 54h6v3h-6zM66 54h3v3h-3zM114 54h3v3h-3zM12 57h3v3h-3zM78 57h6v3h-6zM114 57h3v3h-3zM0 60h3v3h-3zM12 60h3v3h-3zM21 60h6v3h-6zM45 60h3v3h-3zM81 60h3v3h-3zM9 63h3v3h-3zM33 63h3v3h-3zM63 63h3v3h-3zM78 63h3v3h-3zM12 66h3v3h-3zM24 66h3v3h-3zM54 66h3v3h-3zM60 66h3v3h-3zM99 66h3v3h-3zM114 66h6v3h-6zM12 69h3v3h-3zM33 69h3v3h-3zM45 69h6v3h-6zM54 69h3v3h-3zM63 69h3v3h-3zM114 69h3v3h-3zM3 72h3v3h-3zM18 72h3v3h-3zM54 72h3v3h-3zM99 72h3v3h-3zM105 72h6v3h-6zM63 75h3v3h-3zM69 75h3v3h-3zM102 75h3v3h-3zM0 78h3v3h-3zM9 78h9v3h-9zM33 78h3v3h-3zM102 78h6v3h-6zM9 81h3v3h-3zM15 81h3v3h-3zM51 81h3v3h-3zM66 81h3v3h-3zM72 81h3v3h-3zM117 81h3v3h-3zM15 84h3v3h-3zM21 84h3v3h-3zM45 84h3v3h-3zM51 84h3v3h-3zM87 84h6v3h-6zM33 87h3v3h-3zM48 87h3v3h-3zM54 87h3v3h-3zM111 87h3v3h-3zM21 90h3v3h-3zM27 90h9v3h-9zM48 90h3v3h-3zM57 90h3v3h-3zM87 90h3v3h-3zM99 90h3v3h-3zM27 93h3v3h-3zM99 93h3v3h-3zM30 96h3v3h-3zM72 96h3v3h-3zM81 96h3v3h-3zM111 96h3v3h-3zM33 99h3v3h-3zM51 99h3v3h-3zM72 99h3v3h-3zM96 99h3v3h-3zM6 102h3v3h-3zM12 102h3v3h-3zM21 102h6v3h-6zM60 102h6v3h-6zM78 102h6v3h-6zM96 102h6v3h-6zM9 105h6v3h-6zM18 105h3v3h-3zM36 105h3v3h-3zM63 105h3v3h-3zM72 105h6v3h-6zM81 105h3v3h-3zM6 108h6v3h-6zM15 108h3v3h-3zM60 108h3v3h-3zM78 108h3v3h-3zM15 111h3v3h-3zM21 111h3v3h-3zM15 114h3v3h-3zM48 114h3v3h-3zM54 114h3v3h-3zM69 114h3v3h-3zM87 114h6v3h-6zM99 114h3v3h-3zM108 114h3v3h-3zM18 117h3v3h-3zM54 117h3v3h-3zM69 117h3v3h-3zM105 117h3v3h-3z"/><path fill="#0099dd" d="M42 0h3v3h-3zM60 0h6v3h-6zM15 9h3v3h-3zM78 15h3v3h-3zM84 18h3v3h-3zM87 21h3v3h-3zM33 27h3v3h-3zM99 30h3v3h-3zM117 30h3v3h-3zM0 33h3v3h-3zM99 33h3v3h-3zM51 39h3v3h-3zM57 39h3v3h-3zM12 42h3v3h-3zM30 42h3v3h-3zM15 48h3v3h-3zM33 48h3v3h-3zM48 48h3v3h-3zM24 51h6v3h-6zM27 54h3v3h-3zM90 57h3v3h-3zM102 57h3v3h-3zM90 60h3v3h-3zM69 63h3v3h-3zM90 63h3v3h-3zM96 63h3v3h-3zM90 66h3v3h-3zM27 72h3v3h-3zM69 87h6v3h-6zM24 93h3v3h-3zM105 99h3v3h-3zM111 99h3v3h-3zM111 102h3v3h-3zM0 105h3v3h-3zM93 105h3v3h-3zM105 105h6v3h-6zM102 108h9v3h-9zM60 111h6v3h-6zM111 111h6v3h-6zM39 114h6v3h-6zM39 117h6v3h-6zM60 117h3v3h-3zM66 117h3v3h-3z"/><path fill="#ff0000" d="M72 0h9v3h-9zM87 0h3v3h-3zM93 0h18v3h-18zM48 3h3v3h-3zM87 3h3v3h-3zM93 3h18v3h-18zM24 6h6v3h-6zM42 6h9v3h-9zM66 6h6v3h-6zM96 6h15v3h-15zM24 9h9v3h-9zM45 9h3v3h-3zM66 9h6v3h-6zM102 9h9v3h-9zM6 12h6v3h-6zM27 12h9v3h-9zM42 12h6v3h-6zM51 12h6v3h-6zM93 12h3v3h-3zM102 12h18v3h-18zM0 15h15v3h-15zM24 15h12v3h-12zM45 15h12v3h-12zM105 15h15v3h-15zM0 18h30v3h-30zM45 18h6v3h-6zM72 18h3v3h-3zM111 18h9v3h-9zM0 21h15v3h-15zM18 21h12v3h-12zM42 21h6v3h-6zM60 21h12v3h-12zM75 21h3v3h-3zM102 21h3v3h-3zM114 21h6v3h-6zM0 24h9v3h-9zM21 24h9v3h-9zM42 24h9v3h-9zM63 24h15v3h-15zM87 24h3v3h-3zM105 24h6v3h-6zM21 27h9v3h-9zM45 27h6v3h-6zM60 27h15v3h-15zM84 27h6v3h-6zM108 27h3v3h-3zM24 30h6v3h-6zM60 30h18v3h-18zM87 30h6v3h-6zM39 33h3v3h-3zM63 33h6v3h-6zM72 33h9v3h-9zM87 33h3v3h-3zM15 36h3v3h-3zM36 36h9v3h-9zM63 36h12v3h-12zM0 39h3v3h-3zM39 39h6v3h-6zM75 39h3v3h-3zM81 39h3v3h-3zM99 39h3v3h-3zM117 39h3v3h-3zM0 42h3v3h-3zM18 42h6v3h-6zM39 42h6v3h-6zM78 42h9v3h-9zM102 42h6v3h-6zM114 42h3v3h-3zM0 45h3v3h-3zM39 45h6v3h-6zM81 45h6v3h-6zM99 45h12v3h-12zM117 45h3v3h-3zM42 48h3v3h-3zM81 48h9v3h-9zM105 48h9v3h-9zM39 51h6v3h-6zM87 51h6v3h-6zM108 51h3v3h-3zM33 54h9v3h-9zM108 54h3v3h-3zM15 57h6v3h-6zM33 57h15v3h-15zM15 60h6v3h-6zM33 60h12v3h-12zM60 60h3v3h-3zM117 60h3v3h-3zM0 63h9v3h-9zM12 63h12v3h-12zM36 63h12v3h-12zM60 63h3v3h-3zM81 63h3v3h-3zM117 63h3v3h-3zM3 66h6v3h-6zM15 66h6v3h-6zM36 66h12v3h-12zM57 66h3v3h-3zM63 66h3v3h-3zM81 66h6v3h-6zM9 69h3v3h-3zM36 69h9v3h-9zM60 69h3v3h-3zM66 69h3v3h-3zM78 69h12v3h-12zM105 69h3v3h-3zM12 72h6v3h-6zM33 72h9v3h-9zM51 72h3v3h-3zM60 72h3v3h-3zM66 72h30v3h-30zM111 72h3v3h-3zM12 75h3v3h-3zM33 75h9v3h-9zM51 75h12v3h-12zM72 75h30v3h-30zM114 75h3v3h-3zM36 78h9v3h-9zM51 78h12v3h-12zM72 78h15v3h-15zM90 78h12v3h-12zM0 81h3v3h-3zM12 81h3v3h-3zM33 81h12v3h-12zM54 81h12v3h-12zM75 81h12v3h-12zM93 81h12v3h-12zM0 84h12v3h-12zM33 84h9v3h-9zM54 84h9v3h-9zM78 84h6v3h-6zM99 84h12v3h-12zM117 84h3v3h-3zM0 87h18v3h-18zM36 87h6v3h-6zM102 87h9v3h-9zM117 87h3v3h-3zM3 90h15v3h-15zM36 90h3v3h-3zM51 90h6v3h-6zM102 90h15v3h-15zM3 93h15v3h-15zM30 93h6v3h-6zM105 93h3v3h-3zM111 93h3v3h-3zM117 93h3v3h-3zM3 96h15v3h-15zM33 96h3v3h-3zM51 96h9v3h-9zM75 96h6v3h-6zM96 96h9v3h-9zM114 96h6v3h-6zM6 99h9v3h-9zM36 99h3v3h-3zM54 99h6v3h-6zM75 99h6v3h-6zM51 102h9v3h-9zM72 102h3v3h-3zM6 105h3v3h-3zM24 105h12v3h-12zM51 105h3v3h-3zM57 105h3v3h-3zM12 108h3v3h-3zM27 108h3v3h-3zM33 108h3v3h-3zM48 108h6v3h-6zM69 108h6v3h-6zM9 111h6v3h-6zM33 111h3v3h-3zM48 111h9v3h-9zM72 111h6v3h-6zM90 111h6v3h-6zM9 114h6v3h-6zM51 114h3v3h-3zM72 114h6v3h-6zM30 117h3v3h-3zM72 117h6v3h-6zM93 117h12v3h-12z"/><path fill="#dd0000" d="M90 0h3v3h-3zM45 3h3v3h-3zM51 3h3v3h-3zM69 3h3v3h-3zM75 3h6v3h-6zM90 3h3v3h-3zM3 6h3v3h-3zM30 6h3v3h-3zM93 6h3v3h-3zM111 6h3v3h-3zM0 9h9v3h-9zM111 9h3v3h-3zM0 12h3v3h-3zM90 12h3v3h-3zM15 15h9v3h-9zM99 15h3v3h-3zM33 18h3v3h-3zM42 18h3v3h-3zM60 18h3v3h-3zM102 18h3v3h-3zM108 18h3v3h-3zM51 21h3v3h-3zM105 21h3v3h-3zM9 24h3v3h-3zM18 24h3v3h-3zM60 24h3v3h-3zM78 24h9v3h-9zM99 24h3v3h-3zM111 24h3v3h-3zM117 24h3v3h-3zM0 27h3v3h-3zM51 27h3v3h-3zM78 27h3v3h-3zM90 27h3v3h-3zM102 27h3v3h-3zM51 30h3v3h-3zM78 30h3v3h-3zM27 33h12v3h-12zM51 33h3v3h-3zM60 33h3v3h-3zM78 36h3v3h-3zM18 39h9v3h-9zM45 39h3v3h-3zM69 39h3v3h-3zM78 39h3v3h-3zM93 39h3v3h-3zM102 39h3v3h-3zM3 42h3v3h-3zM108 42h6v3h-6zM117 42h3v3h-3zM6 45h3v3h-3zM24 45h3v3h-3zM87 45h3v3h-3zM45 48h3v3h-3zM63 48h3v3h-3zM93 48h3v3h-3zM114 48h3v3h-3zM0 51h3v3h-3zM66 51h3v3h-3zM84 51h3v3h-3zM93 51h3v3h-3zM105 51h3v3h-3zM111 51h3v3h-3zM117 54h3v3h-3zM60 57h3v3h-3zM111 57h3v3h-3zM117 57h3v3h-3zM3 60h3v3h-3zM57 60h3v3h-3zM57 63h3v3h-3zM0 66h3v3h-3zM9 66h3v3h-3zM78 66h3v3h-3zM108 66h3v3h-3zM6 69h3v3h-3zM15 69h3v3h-3zM57 69h3v3h-3zM69 69h3v3h-3zM90 69h3v3h-3zM108 69h6v3h-6zM9 72h3v3h-3zM42 72h3v3h-3zM57 72h3v3h-3zM102 72h3v3h-3zM114 72h3v3h-3zM9 75h3v3h-3zM66 75h3v3h-3zM111 75h3v3h-3zM117 75h3v3h-3zM87 78h3v3h-3zM114 78h6v3h-6zM6 81h3v3h-3zM18 81h3v3h-3zM12 84h3v3h-3zM42 84h3v3h-3zM48 84h3v3h-3zM63 84h3v3h-3zM84 84h3v3h-3zM93 84h6v3h-6zM111 84h3v3h-3zM18 87h3v3h-3zM45 87h3v3h-3zM51 87h3v3h-3zM57 87h3v3h-3zM99 87h3v3h-3zM18 90h3v3h-3zM0 93h3v3h-3zM36 93h3v3h-3zM51 93h9v3h-9zM72 93h6v3h-6zM108 93h3v3h-3zM114 93h3v3h-3zM3 99h3v3h-3zM99 99h3v3h-3zM33 102h6v3h-6zM75 102h3v3h-3zM48 105h3v3h-3zM54 105h3v3h-3zM60 105h3v3h-3zM69 105h3v3h-3zM21 108h6v3h-6zM54 108h3v3h-3zM69 111h3v3h-3zM12 117h3v3h-3z"/><path fill="#0000dd" d="M15 3h3v3h-3zM15 6h3v3h-3zM81 9h3v3h-3zM78 12h9v3h-9zM81 15h6v3h-6zM54 39h3v3h-3zM48 42h12v3h-12zM48 45h12v3h-12zM51 48h9v3h-9zM54 51h3v3h-3zM93 60h6v3h-6zM93 63h3v3h-3zM93 66h3v3h-3zM24 75h6v3h-6zM24 78h6v3h-6zM42 93h3v3h-3zM108 102h3v3h-3zM114 102h3v3h-3zM111 105h9v3h-9zM0 108h3v3h-3zM111 108h9v3h-9zM60 114h3v3h-3zM63 117h3v3h-3z"/></pattern><pattern id="p7" patternUnits="userSpaceOnUse" width="120" height="120"><path fill="#bbff00" d="M12 0h3v3h-3zM21 0h3v3h-3zM90 0h3v3h-3zM114 0h3v3h-3zM93 3h3v3h-3zM51 6h6v3h-6zM81 9h3v3h-3zM81 12h6v3h-6zM48 15h3v3h-3zM36 18h6v3h-6zM69 18h3v3h-3zM36 21h6v3h-6zM60 27h3v3h-3zM69 27h3v3h-3zM51 30h3v3h-3zM60 30h6v3h-6zM69 30h3v3h-3zM102 30h3v3h-3zM63 36h3v3h-3zM78 36h3v3h-3zM99 36h3v3h-3zM105 36h3v3h-3zM21 48h6v3h-6zM24 51h3v3h-3zM63 57h3v3h-3zM99 57h3v3h-3zM102 60h3v3h-3zM12 63h3v3h-3zM36 66h3v3h-3zM45 72h3v3h-3zM51 75h3v3h-3zM72 75h6v3h-6zM33 78h3v3h-3zM39 78h3v3h-3zM51 78h3v3h-3zM27 81h3v3h-3zM51 81h3v3h-3zM75 81h3v3h-3zM27 84h6v3h-6zM69 84h3v3h-3zM33 87h3v3h-3zM111 87h3v3h-3zM3 99h3v3h-3zM108 108h6v3h-6zM114 111h3v3h-3zM114 117h3v3h-3z"/><path fill="#00cc00" d="M15 0h3v3h-3zM24 0h3v3h-3zM93 0h3v3h-3zM27 3h3v3h-3zM48 3h6v3h-6zM111 3h3v3h-3zM9 6h3v3h-3zM84 6h3v3h-3zM6 9h3v3h-3zM84 9h6v3h-6zM90 15h3v3h-3zM111 18h3v3h-3zM42 21h3v3h-3zM87 21h3v3h-3zM42 24h3v3h-3zM81 24h3v3h-3zM72 27h3v3h-3zM78 27h3v3h-3zM21 30h6v3h-6zM75 30h3v3h-3zM63 39h3v3h-3zM0 42h3v3h-3zM36 45h3v3h-3zM117 45h3v3h-3zM21 51h3v3h-3zM27 51h3v3h-3zM102 51h3v3h-3zM15 60h3v3h-3zM96 60h3v3h-3zM15 63h6v3h-6zM33 63h3v3h-3zM39 63h3v3h-3zM96 63h3v3h-3zM39 66h3v3h-3zM93 66h3v3h-3zM9 69h3v3h-3zM12 72h3v3h-3zM48 72h3v3h-3zM117 75h3v3h-3zM36 78h3v3h-3zM48 78h3v3h-3zM54 78h3v3h-3zM72 78h3v3h-3zM30 81h3v3h-3zM78 81h3v3h-3zM114 81h3v3h-3zM33 84h3v3h-3zM69 87h3v3h-3zM30 90h6v3h-6zM51 99h3v3h-3zM12 108h3v3h-3zM105 108h3v3h-3zM33 111h3v3h-3zM105 111h3v3h-3zM15 114h3v3h-3zM117 114h3v3h-3zM18 117h6v3h-6zM93 117h3v3h-3zM117 117h3v3h-3z"/><path fill="#0099dd" d="M18 0h3v3h-3zM90 6h3v3h-3zM51 9h3v3h-3zM6 12h3v3h-3zM66 15h3v3h-3zM63 18h3v3h-3zM63 24h3v3h-3zM63 27h3v3h-3zM105 30h3v3h-3zM63 33h3v3h-3zM102 33h6v3h-6zM84 36h3v3h-3zM102 57h3v3h-3zM99 60h3v3h-3zM12 66h3v3h-3zM12 69h6v3h-6zM45 75h3v3h-3zM78 78h3v3h-3zM33 81h3v3h-3zM72 81h3v3h-3zM30 87h3v3h-3zM111 105h3v3h-3zM12 111h6v3h-6zM12 117h3v3h-3z"/><path fill="#eeee00" d="M27 0h3v3h-3zM33 0h3v3h-3zM51 0h3v3h-3zM57 0h3v3h-3zM15 3h3v3h-3zM30 3h3v3h-3zM87 3h3v3h-3zM114 3h6v3h-6zM15 6h3v3h-3zM69 6h3v3h-3zM78 6h3v3h-3zM69 9h6v3h-6zM39 15h3v3h-3zM3 18h3v3h-3zM27 18h3v3h-3zM117 18h3v3h-3zM48 21h3v3h-3zM108 21h3v3h-3zM24 24h3v3h-3zM30 24h3v3h-3zM48 24h3v3h-3zM21 27h6v3h-6zM30 27h3v3h-3zM27 30h3v3h-3zM57 30h3v3h-3zM78 30h9v3h-9zM21 33h3v3h-3zM27 33h3v3h-3zM69 33h6v3h-6zM78 33h3v3h-3zM84 33h3v3h-3zM60 36h3v3h-3zM66 36h3v3h-3zM72 36h3v3h-3zM18 39h3v3h-3zM66 39h3v3h-3zM102 39h3v3h-3zM24 42h3v3h-3zM36 42h3v3h-3zM57 42h6v3h-6zM66 42h3v3h-3zM18 45h3v3h-3zM33 45h3v3h-3zM30 48h3v3h-3zM48 48h3v3h-3zM57 48h3v3h-3zM66 48h3v3h-3zM30 51h3v3h-3zM57 51h3v3h-3zM63 51h6v3h-6zM54 54h3v3h-3zM75 54h3v3h-3zM81 54h3v3h-3zM105 54h3v3h-3zM57 57h6v3h-6zM96 57h3v3h-3zM105 57h3v3h-3zM0 60h6v3h-6zM9 60h3v3h-3zM36 60h3v3h-3zM93 60h3v3h-3zM108 60h3v3h-3zM3 63h3v3h-3zM9 63h3v3h-3zM93 63h3v3h-3zM0 66h3v3h-3zM33 66h3v3h-3zM66 66h3v3h-3zM96 66h3v3h-3zM0 72h6v3h-6zM51 72h3v3h-3zM69 72h3v3h-3zM54 75h3v3h-3zM69 78h3v3h-3zM69 81h3v3h-3zM12 84h3v3h-3zM102 84h3v3h-3zM114 84h3v3h-3zM66 87h3v3h-3zM36 90h3v3h-3zM69 90h3v3h-3zM21 93h3v3h-3zM66 93h3v3h-3zM3 96h3v3h-3zM21 96h3v3h-3zM45 96h3v3h-3zM69 96h3v3h-3zM102 96h3v3h-3zM21 99h6v3h-6zM42 99h3v3h-3zM57 99h3v3h-3zM75 99h3v3h-3zM45 102h3v3h-3zM51 102h6v3h-6zM75 102h3v3h-3zM75 105h3v3h-3zM36 111h3v3h-3zM93 111h3v3h-3zM102 111h3v3h-3zM96 114h3v3h-3zM0 117h3v3h-3zM27 117h3v3h-3zM72 117h3v3h-3zM96 117h3v3h-3z"/><path fill="#dd0000" d="M30 0h3v3h-3zM72 0h3v3h-3zM117 0h3v3h-3zM54 3h3v3h-3zM72 6h3v3h-3zM111 6h3v3h-3zM75 9h6v3h-6zM111 9h3v3h-3zM12 12h3v3h-3zM105 12h6v3h-6zM3 15h3v3h-3zM114 15h3v3h-3zM0 18h3v3h-3zM6 18h3v3h-3zM45 18h3v3h-3zM0 21h3v3h-3zM36 24h3v3h-3zM54 27h3v3h-3zM108 27h3v3h-3zM30 30h3v3h-3zM30 33h3v3h-3zM12 36h3v3h-3zM69 36h3v3h-3zM24 39h6v3h-6zM111 39h3v3h-3zM18 42h3v3h-3zM63 42h3v3h-3zM114 42h3v3h-3zM27 45h3v3h-3zM57 45h3v3h-3zM66 45h3v3h-3zM60 48h3v3h-3zM60 51h3v3h-3zM75 57h3v3h-3zM0 63h3v3h-3zM114 63h3v3h-3zM114 66h6v3h-6zM6 69h3v3h-3zM72 72h3v3h-3zM114 72h3v3h-3zM42 81h3v3h-3zM111 81h3v3h-3zM12 87h3v3h-3zM39 87h3v3h-3zM87 87h3v3h-3zM105 87h3v3h-3zM9 90h3v3h-3zM21 90h3v3h-3zM102 90h6v3h-6zM39 93h3v3h-3zM72 93h3v3h-3zM42 96h3v3h-3zM75 96h3v3h-3zM81 96h3v3h-3zM69 99h3v3h-3zM102 99h3v3h-3zM18 102h3v3h-3zM54 105h3v3h-3zM99 105h6v3h-6zM15 108h3v3h-3zM102 108h3v3h-3zM99 114h3v3h-3z"/><path fill="#ff0000" d="M48 0h3v3h-3zM75 0h6v3h-6zM57 3h3v3h-3zM72 3h12v3h-12zM75 6h3v3h-3zM114 6h6v3h-6zM12 9h6v3h-6zM114 9h3v3h-3zM111 12h9v3h-9zM0 15h3v3h-3zM27 15h3v3h-3zM102 15h3v3h-3zM117 15h3v3h-3zM21 18h6v3h-6zM3 21h3v3h-3zM21 21h9v3h-9zM114 21h6v3h-6zM0 24h3v3h-3zM21 24h3v3h-3zM33 24h3v3h-3zM117 24h3v3h-3zM33 27h3v3h-3zM18 30h3v3h-3zM33 30h3v3h-3zM108 30h3v3h-3zM114 30h3v3h-3zM33 33h3v3h-3zM108 33h6v3h-6zM27 36h3v3h-3zM108 36h12v3h-12zM21 39h3v3h-3zM36 39h3v3h-3zM69 39h6v3h-6zM99 39h3v3h-3zM114 39h6v3h-6zM27 42h9v3h-9zM69 42h3v3h-3zM30 45h3v3h-3zM54 45h3v3h-3zM63 45h3v3h-3zM69 45h3v3h-3zM93 45h6v3h-6zM51 48h6v3h-6zM69 48h3v3h-3zM93 48h6v3h-6zM48 51h9v3h-9zM90 51h9v3h-9zM84 54h12v3h-12zM108 54h3v3h-3zM72 57h3v3h-3zM78 57h18v3h-18zM72 60h15v3h-15zM90 60h3v3h-3zM117 60h3v3h-3zM66 63h3v3h-3zM78 63h3v3h-3zM117 63h3v3h-3zM3 66h3v3h-3zM69 66h6v3h-6zM3 69h3v3h-3zM30 69h3v3h-3zM63 69h3v3h-3zM69 69h3v3h-3zM6 72h3v3h-3zM27 72h6v3h-6zM111 72h3v3h-3zM27 75h6v3h-6zM66 75h6v3h-6zM93 75h3v3h-3zM108 75h6v3h-6zM105 78h9v3h-9zM12 81h3v3h-3zM102 81h9v3h-9zM6 84h6v3h-6zM42 84h3v3h-3zM99 84h3v3h-3zM105 84h3v3h-3zM6 87h6v3h-6zM42 87h3v3h-3zM102 87h3v3h-3zM3 90h6v3h-6zM39 90h6v3h-6zM3 93h6v3h-6zM24 93h6v3h-6zM42 93h6v3h-6zM69 93h3v3h-3zM105 93h3v3h-3zM24 96h6v3h-6zM63 96h6v3h-6zM72 96h3v3h-3zM105 96h3v3h-3zM45 99h3v3h-3zM60 99h9v3h-9zM72 99h3v3h-3zM78 99h6v3h-6zM105 99h3v3h-3zM21 102h6v3h-6zM57 102h12v3h-12zM81 102h3v3h-3zM105 102h6v3h-6zM18 105h6v3h-6zM57 105h12v3h-12zM78 105h6v3h-6zM18 108h3v3h-3zM42 108h3v3h-3zM54 108h12v3h-12zM81 108h3v3h-3zM96 108h3v3h-3zM21 111h3v3h-3zM39 111h6v3h-6zM60 111h3v3h-3zM78 111h3v3h-3zM96 111h6v3h-6zM39 114h6v3h-6zM57 114h3v3h-3zM93 114h3v3h-3zM33 117h6v3h-6zM54 117h6v3h-6zM75 117h3v3h-3zM99 117h3v3h-3z"/><path fill="#ffcc00" d="M54 0h3v3h-3zM18 3h3v3h-3zM12 6h3v3h-3zM81 6h3v3h-3zM108 6h3v3h-3zM54 9h3v3h-3zM102 9h3v3h-3zM108 9h3v3h-3zM9 12h3v3h-3zM72 12h3v3h-3zM30 15h3v3h-3zM45 15h3v3h-3zM42 18h3v3h-3zM108 18h3v3h-3zM111 21h3v3h-3zM27 24h3v3h-3zM39 24h3v3h-3zM45 24h3v3h-3zM57 24h3v3h-3zM57 27h3v3h-3zM75 27h3v3h-3zM84 27h3v3h-3zM54 30h3v3h-3zM66 33h3v3h-3zM81 33h3v3h-3zM21 36h3v3h-3zM102 36h3v3h-3zM57 39h6v3h-6zM105 39h3v3h-3zM3 42h3v3h-3zM21 42h3v3h-3zM117 42h3v3h-3zM21 45h6v3h-6zM114 45h3v3h-3zM84 51h3v3h-3zM30 54h3v3h-3zM57 54h3v3h-3zM66 54h3v3h-3zM12 60h3v3h-3zM39 60h3v3h-3zM6 63h3v3h-3zM90 63h3v3h-3zM9 66h3v3h-3zM63 66h3v3h-3zM99 66h3v3h-3zM0 69h3v3h-3zM114 69h6v3h-6zM117 72h3v3h-3zM3 75h3v3h-3zM114 75h3v3h-3zM30 78h3v3h-3zM114 78h3v3h-3zM39 81h3v3h-3zM99 81h3v3h-3zM24 87h6v3h-6zM24 90h6v3h-6zM63 90h3v3h-3zM30 93h3v3h-3zM30 96h3v3h-3zM18 99h3v3h-3zM27 99h3v3h-3zM54 99h3v3h-3zM78 102h3v3h-3zM102 102h3v3h-3zM39 108h3v3h-3zM75 108h6v3h-6zM99 108h3v3h-3zM18 114h6v3h-6zM33 114h6v3h-6zM24 117h3v3h-3zM30 117h3v3h-3z"/><path fill="#00ff00" d="M96 0h3v3h-3zM27 6h3v3h-3zM48 6h3v3h-3zM87 6h3v3h-3zM9 9h3v3h-3zM105 9h3v3h-3zM48 12h3v3h-3zM69 12h3v3h-3zM6 15h6v3h-6zM69 15h3v3h-3zM105 15h9v3h-9zM30 18h6v3h-6zM105 18h3v3h-3zM114 18h3v3h-3zM30 21h6v3h-6zM45 21h3v3h-3zM27 27h3v3h-3zM48 27h3v3h-3zM81 27h3v3h-3zM72 30h3v3h-3zM24 33h3v3h-3zM57 33h6v3h-6zM75 33h3v3h-3zM75 36h3v3h-3zM108 39h3v3h-3zM39 42h3v3h-3zM0 45h3v3h-3zM60 45h3v3h-3zM27 48h3v3h-3zM36 48h3v3h-3zM63 48h3v3h-3zM81 51h3v3h-3zM99 51h3v3h-3zM60 54h3v3h-3zM78 54h3v3h-3zM96 54h9v3h-9zM6 60h3v3h-3zM18 60h3v3h-3zM105 60h3v3h-3zM36 63h3v3h-3zM99 63h3v3h-3zM6 66h3v3h-3zM33 69h3v3h-3zM54 69h3v3h-3zM33 72h6v3h-6zM54 72h3v3h-3zM75 72h3v3h-3zM33 75h6v3h-6zM48 75h3v3h-3zM27 78h3v3h-3zM45 78h3v3h-3zM36 81h3v3h-3zM36 84h6v3h-6zM66 84h3v3h-3zM72 84h6v3h-6zM108 84h6v3h-6zM36 87h3v3h-3zM72 87h3v3h-3zM108 87h3v3h-3zM66 90h3v3h-3zM72 90h3v3h-3zM108 90h3v3h-3zM18 93h3v3h-3zM33 93h3v3h-3zM60 93h6v3h-6zM60 96h3v3h-3zM48 102h3v3h-3zM99 102h3v3h-3zM96 105h3v3h-3zM105 105h6v3h-6zM36 108h3v3h-3zM18 111h3v3h-3zM102 114h3v3h-3zM90 117h3v3h-3z"/><path fill="#0000dd" d="M111 0h3v3h-3zM48 9h3v3h-3zM87 12h3v3h-3zM66 18h3v3h-3zM66 21h3v3h-3zM66 24h3v3h-3zM66 27h3v3h-3zM66 30h3v3h-3zM21 54h6v3h-6zM15 66h6v3h-6zM36 69h6v3h-6zM78 75h3v3h-3zM75 78h3v3h-3zM108 111h6v3h-6zM12 114h3v3h-3zM111 114h6v3h-6zM15 117h3v3h-3z"/></pattern><pattern id="p8" patternUnits="userSpaceOnUse" width="120" height="120"><path fill="#eeee00" d="M15 0h3v3h-3zM93 0h3v3h-3zM90 24h3v3h-3zM15 27h3v3h-3zM90 27h3v3h-3zM54 33h3v3h-3zM48 36h3v3h-3zM48 39h3v3h-3zM84 54h3v3h-3zM108 54h3v3h-3zM87 66h3v3h-3zM84 69h3v3h-3zM18 72h3v3h-3zM24 72h3v3h-3zM75 75h6v3h-6zM15 78h3v3h-3zM66 84h3v3h-3zM54 90h3v3h-3zM111 90h6v3h-6zM108 93h3v3h-3zM15 99h3v3h-3zM42 99h3v3h-3zM60 99h3v3h-3zM48 114h3v3h-3zM90 117h3v3h-3z"/><path fill="#00ff00" d="M30 0h3v3h-3zM36 0h3v3h-3zM93 3h3v3h-3zM3 9h3v3h-3zM15 21h3v3h-3zM72 27h3v3h-3zM117 33h3v3h-3zM51 36h3v3h-3zM51 39h3v3h-3zM39 66h3v3h-3zM21 72h3v3h-3zM69 84h3v3h-3zM30 87h3v3h-3zM39 99h3v3h-3zM42 102h3v3h-3zM90 114h3v3h-3z"/><path fill="#00cc00" d="M33 0h3v3h-3zM33 3h3v3h-3zM12 27h3v3h-3zM96 42h3v3h-3zM42 63h3v3h-3zM87 90h3v3h-3zM18 96h3v3h-3zM114 111h3v3h-3zM51 114h3v3h-3z"/><path fill="#ff0000" d="M72 0h3v3h-3zM96 0h3v3h-3zM12 3h3v3h-3zM96 3h3v3h-3zM60 9h3v3h-3zM84 9h3v3h-3zM60 12h3v3h-3zM81 12h6v3h-6zM105 12h3v3h-3zM42 15h3v3h-3zM81 15h6v3h-6zM39 18h6v3h-6zM39 21h3v3h-3zM18 24h3v3h-3zM93 27h3v3h-3zM117 27h3v3h-3zM72 30h3v3h-3zM42 39h3v3h-3zM102 42h3v3h-3zM102 45h3v3h-3zM84 51h3v3h-3zM111 57h3v3h-3zM111 60h3v3h-3zM36 63h3v3h-3zM93 63h3v3h-3zM90 66h9v3h-9zM90 69h3v3h-3zM96 69h3v3h-3zM78 72h6v3h-6zM21 75h6v3h-6zM81 75h3v3h-3zM18 78h6v3h-6zM78 78h3v3h-3zM63 99h3v3h-3zM60 102h6v3h-6zM3 105h3v3h-3zM60 105h9v3h-9zM0 108h3v3h-3zM60 108h6v3h-6zM45 114h3v3h-3zM93 114h3v3h-3zM48 117h3v3h-3zM72 117h3v3h-3zM93 117h6v3h-6z"/><path fill="#bbff00" d="M30 3h3v3h-3zM12 21h3v3h-3zM111 33h3v3h-3zM114 36h3v3h-3zM39 60h3v3h-3zM21 69h3v3h-3zM6 81h3v3h-3zM9 87h3v3h-3zM51 87h3v3h-3zM90 90h3v3h-3zM18 99h3v3h-3zM39 102h3v3h-3zM39 105h3v3h-3z"/><path fill="#dd0000" d="M87 12h3v3h-3zM15 24h3v3h-3zM117 30h3v3h-3zM45 39h3v3h-3zM99 42h3v3h-3zM90 63h3v3h-3zM36 66h3v3h-3zM93 69h3v3h-3zM18 75h3v3h-3zM75 78h3v3h-3zM3 81h3v3h-3zM3 84h3v3h-3zM15 96h3v3h-3zM0 105h3v3h-3zM117 108h3v3h-3zM45 111h3v3h-3z"/><path fill="#ffcc00" d="M114 27h3v3h-3zM99 45h3v3h-3zM108 57h3v3h-3zM39 63h3v3h-3zM108 87h3v3h-3zM51 90h3v3h-3zM108 90h3v3h-3zM111 93h3v3h-3zM0 102h3v3h-3zM42 105h3v3h-3zM117 105h3v3h-3zM114 108h3v3h-3zM48 111h3v3h-3zM51 117h3v3h-3z"/><path fill="#0099dd" d="M114 30h3v3h-3zM42 60h3v3h-3zM6 84h6v3h-6zM6 87h3v3h-3zM30 117h3v3h-3z"/><path fill="#0000dd" d="M114 33h3v3h-3zM9 81h3v3h-3z"/></pattern><pattern id="p9" patternUnits="userSpaceOnUse" width="120" height="120"><path fill="#00aa88" d="M0 0h3v3h-3zM33 0h6v3h-6zM0 3h3v3h-3zM60 6h3v3h-3zM90 9h3v3h-3zM63 12h3v3h-3zM96 12h3v3h-3zM27 15h3v3h-3zM96 15h3v3h-3zM66 18h3v3h-3zM96 18h3v3h-3zM9 21h6v3h-6zM18 21h3v3h-3zM33 21h3v3h-3zM69 21h3v3h-3zM36 24h3v3h-3zM69 24h6v3h-6zM102 24h3v3h-3zM39 27h3v3h-3zM27 33h6v3h-6zM57 33h3v3h-3zM24 36h3v3h-3zM57 36h6v3h-6zM24 39h3v3h-3zM30 39h3v3h-3zM36 42h3v3h-3zM102 42h3v3h-3zM36 45h3v3h-3zM81 48h3v3h-3zM48 54h3v3h-3zM114 54h3v3h-3zM54 57h6v3h-6zM24 60h3v3h-3zM117 60h3v3h-3zM87 63h3v3h-3zM0 66h3v3h-3zM117 66h3v3h-3zM111 69h3v3h-3zM69 75h3v3h-3zM93 75h3v3h-3zM99 78h3v3h-3zM9 81h3v3h-3zM15 81h3v3h-3zM72 81h3v3h-3zM99 81h3v3h-3zM105 81h3v3h-3zM78 93h3v3h-3zM84 93h3v3h-3zM75 96h3v3h-3zM81 96h3v3h-3zM69 99h3v3h-3zM84 99h3v3h-3zM12 102h3v3h-3zM75 102h6v3h-6zM21 108h3v3h-3zM48 108h3v3h-3zM21 111h3v3h-3zM51 111h6v3h-6zM78 111h3v3h-3zM72 114h6v3h-6zM24 117h3v3h-3z"/><path fill="#ff0000" d="M3 0h3v3h-3zM30 0h3v3h-3zM42 0h3v3h-3zM72 0h3v3h-3zM117 0h3v3h-3zM3 3h3v3h-3zM21 3h3v3h-3zM36 3h3v3h-3zM84 3h6v3h-6zM114 3h3v3h-3zM39 9h3v3h-3zM87 9h3v3h-3zM66 12h6v3h-6zM30 15h3v3h-3zM60 15h6v3h-6zM12 18h9v3h-9zM42 18h3v3h-3zM63 21h3v3h-3zM102 21h3v3h-3zM9 24h3v3h-3zM18 24h3v3h-3zM45 24h3v3h-3zM102 27h3v3h-3zM111 27h3v3h-3zM27 30h3v3h-3zM39 30h3v3h-3zM102 30h6v3h-6zM3 33h3v3h-3zM21 33h3v3h-3zM48 33h3v3h-3zM54 33h3v3h-3zM21 36h3v3h-3zM30 36h3v3h-3zM54 36h3v3h-3zM87 36h3v3h-3zM114 36h3v3h-3zM0 39h3v3h-3zM102 39h3v3h-3zM27 42h3v3h-3zM33 42h3v3h-3zM63 42h3v3h-3zM108 42h3v3h-3zM51 48h3v3h-3zM78 48h3v3h-3zM21 57h3v3h-3zM96 57h3v3h-3zM27 60h3v3h-3zM57 60h6v3h-6zM84 60h3v3h-3zM114 60h3v3h-3zM3 63h3v3h-3zM96 63h3v3h-3zM108 63h3v3h-3zM111 66h3v3h-3zM90 69h3v3h-3zM108 69h3v3h-3zM3 72h3v3h-3zM36 72h3v3h-3zM84 72h3v3h-3zM93 72h3v3h-3zM36 75h3v3h-3zM96 75h3v3h-3zM12 78h3v3h-3zM39 78h3v3h-3zM63 84h3v3h-3zM102 84h3v3h-3zM12 87h3v3h-3zM60 87h6v3h-6zM81 87h6v3h-6zM99 87h3v3h-3zM21 90h6v3h-6zM72 90h3v3h-3zM84 90h3v3h-3zM24 93h3v3h-3zM72 93h3v3h-3zM81 93h3v3h-3zM87 93h3v3h-3zM0 96h6v3h-6zM27 96h3v3h-3zM48 99h3v3h-3zM75 99h3v3h-3zM87 99h3v3h-3zM9 102h3v3h-3zM15 102h3v3h-3zM48 102h3v3h-3zM72 102h3v3h-3zM81 102h3v3h-3zM39 105h6v3h-6zM48 105h3v3h-3zM57 108h3v3h-3zM81 108h3v3h-3zM108 108h3v3h-3zM18 111h3v3h-3zM21 114h3v3h-3zM27 114h3v3h-3zM51 114h3v3h-3zM27 117h6v3h-6zM45 117h3v3h-3zM78 117h3v3h-3z"/><path fill="#00cc00" d="M6 0h3v3h-3zM54 0h12v3h-12zM78 0h3v3h-3zM84 0h3v3h-3zM108 0h3v3h-3zM114 0h3v3h-3zM9 3h6v3h-6zM27 3h3v3h-3zM66 3h3v3h-3zM72 3h3v3h-3zM78 3h6v3h-6zM96 3h3v3h-3zM117 3h3v3h-3zM0 6h9v3h-9zM15 6h6v3h-6zM24 6h3v3h-3zM36 6h6v3h-6zM66 6h9v3h-9zM96 6h3v3h-3zM117 6h3v3h-3zM42 9h3v3h-3zM66 9h3v3h-3zM99 9h3v3h-3zM6 12h3v3h-3zM42 12h9v3h-9zM84 12h3v3h-3zM102 12h3v3h-3zM15 15h3v3h-3zM57 15h3v3h-3zM75 15h3v3h-3zM24 18h3v3h-3zM48 18h3v3h-3zM75 18h3v3h-3zM48 21h3v3h-3zM78 21h3v3h-3zM93 21h3v3h-3zM3 24h3v3h-3zM30 24h3v3h-3zM66 24h3v3h-3zM93 24h9v3h-9zM111 24h3v3h-3zM3 27h3v3h-3zM21 27h3v3h-3zM30 27h3v3h-3zM93 27h6v3h-6zM3 30h3v3h-3zM12 30h3v3h-3zM36 30h3v3h-3zM42 30h3v3h-3zM54 30h9v3h-9zM87 30h6v3h-6zM114 30h6v3h-6zM12 33h3v3h-3zM39 33h9v3h-9zM60 33h6v3h-6zM90 33h3v3h-3zM99 33h3v3h-3zM105 33h3v3h-3zM117 33h3v3h-3zM6 36h3v3h-3zM12 36h3v3h-3zM39 36h3v3h-3zM45 36h6v3h-6zM63 36h6v3h-6zM102 36h3v3h-3zM108 36h6v3h-6zM3 39h6v3h-6zM12 39h12v3h-12zM63 39h9v3h-9zM84 39h3v3h-3zM108 39h3v3h-3zM114 39h6v3h-6zM0 42h9v3h-9zM12 42h3v3h-3zM30 42h3v3h-3zM48 42h3v3h-3zM60 42h3v3h-3zM66 42h3v3h-3zM111 42h3v3h-3zM117 42h3v3h-3zM3 45h3v3h-3zM9 45h9v3h-9zM21 45h6v3h-6zM48 45h3v3h-3zM63 45h6v3h-6zM75 45h3v3h-3zM90 45h3v3h-3zM96 45h3v3h-3zM114 45h6v3h-6zM12 48h6v3h-6zM21 48h12v3h-12zM36 48h6v3h-6zM45 48h3v3h-3zM84 48h3v3h-3zM96 48h3v3h-3zM3 51h9v3h-9zM54 51h6v3h-6zM87 51h3v3h-3zM93 51h3v3h-3zM9 54h3v3h-3zM15 54h3v3h-3zM33 54h3v3h-3zM87 54h3v3h-3zM15 57h3v3h-3zM27 57h3v3h-3zM45 57h3v3h-3zM63 57h3v3h-3zM81 57h3v3h-3zM99 57h3v3h-3zM105 57h6v3h-6zM9 60h3v3h-3zM15 60h6v3h-6zM48 60h3v3h-3zM99 60h3v3h-3zM6 63h3v3h-3zM21 63h3v3h-3zM27 63h3v3h-3zM33 63h3v3h-3zM84 63h3v3h-3zM6 66h3v3h-3zM24 66h3v3h-3zM51 66h3v3h-3zM66 66h3v3h-3zM99 66h3v3h-3zM105 66h3v3h-3zM6 69h3v3h-3zM24 69h3v3h-3zM39 69h3v3h-3zM51 69h3v3h-3zM66 69h3v3h-3zM99 69h6v3h-6zM24 72h3v3h-3zM39 72h3v3h-3zM48 72h3v3h-3zM69 72h6v3h-6zM81 72h3v3h-3zM102 72h3v3h-3zM27 75h3v3h-3zM39 75h3v3h-3zM57 75h3v3h-3zM75 75h3v3h-3zM81 75h6v3h-6zM99 75h9v3h-9zM111 75h3v3h-3zM57 78h3v3h-3zM75 78h3v3h-3zM87 78h3v3h-3zM102 78h3v3h-3zM114 78h3v3h-3zM3 81h3v3h-3zM36 81h3v3h-3zM54 81h6v3h-6zM111 81h3v3h-3zM6 84h3v3h-3zM39 84h3v3h-3zM51 84h3v3h-3zM78 84h3v3h-3zM84 84h6v3h-6zM96 84h3v3h-3zM111 84h3v3h-3zM24 87h3v3h-3zM9 90h3v3h-3zM15 90h3v3h-3zM30 90h3v3h-3zM45 90h3v3h-3zM99 90h3v3h-3zM114 90h6v3h-6zM6 93h3v3h-3zM15 93h3v3h-3zM30 93h3v3h-3zM48 93h3v3h-3zM102 93h3v3h-3zM18 96h3v3h-3zM24 96h3v3h-3zM39 96h15v3h-15zM60 96h3v3h-3zM87 96h3v3h-3zM0 99h3v3h-3zM12 99h3v3h-3zM54 99h6v3h-6zM66 99h3v3h-3zM90 99h12v3h-12zM3 102h6v3h-6zM24 102h3v3h-3zM51 102h6v3h-6zM60 102h6v3h-6zM84 102h12v3h-12zM102 102h3v3h-3zM117 102h3v3h-3zM21 105h6v3h-6zM54 105h3v3h-3zM60 105h3v3h-3zM69 105h3v3h-3zM96 105h3v3h-3zM105 105h3v3h-3zM111 105h3v3h-3zM6 108h6v3h-6zM96 108h3v3h-3zM45 111h3v3h-3zM63 111h3v3h-3zM96 111h3v3h-3zM0 114h6v3h-6zM12 114h3v3h-3zM33 114h3v3h-3zM42 114h3v3h-3zM48 114h3v3h-3zM96 114h3v3h-3zM108 114h3v3h-3zM114 114h6v3h-6zM18 117h3v3h-3zM48 117h3v3h-3zM54 117h3v3h-3zM96 117h3v3h-3zM105 117h3v3h-3zM114 117h3v3h-3z"/><path fill="#00ff00" d="M9 0h9v3h-9zM48 0h6v3h-6zM96 0h12v3h-12zM111 0h3v3h-3zM15 3h6v3h-6zM48 3h3v3h-3zM75 3h3v3h-3zM99 3h15v3h-15zM45 6h3v3h-3zM75 6h6v3h-6zM99 6h18v3h-18zM45 9h3v3h-3zM69 9h15v3h-15zM102 9h15v3h-15zM51 12h3v3h-3zM72 12h12v3h-12zM105 12h12v3h-12zM48 15h9v3h-9zM78 15h12v3h-12zM108 15h9v3h-9zM0 18h3v3h-3zM21 18h3v3h-3zM27 18h3v3h-3zM51 18h12v3h-12zM78 18h15v3h-15zM108 18h12v3h-12zM0 21h6v3h-6zM21 21h12v3h-12zM51 21h12v3h-12zM81 21h6v3h-6zM90 21h3v3h-3zM111 21h9v3h-9zM0 24h3v3h-3zM24 24h6v3h-6zM51 24h15v3h-15zM90 24h3v3h-3zM114 24h6v3h-6zM0 27h3v3h-3zM24 27h6v3h-6zM51 27h21v3h-21zM90 27h3v3h-3zM99 27h3v3h-3zM117 27h3v3h-3zM21 30h3v3h-3zM63 30h6v3h-6zM93 30h9v3h-9zM15 33h3v3h-3zM66 33h3v3h-3zM108 33h3v3h-3zM42 36h3v3h-3zM81 36h3v3h-3zM105 36h3v3h-3zM39 39h18v3h-18zM72 39h12v3h-12zM111 39h3v3h-3zM21 42h3v3h-3zM51 42h9v3h-9zM69 42h21v3h-21zM51 45h12v3h-12zM84 45h6v3h-6zM93 45h3v3h-3zM57 48h18v3h-18zM87 48h9v3h-9zM24 51h3v3h-3zM33 51h9v3h-9zM60 51h6v3h-6zM72 51h3v3h-3zM90 51h3v3h-3zM96 51h3v3h-3zM12 54h3v3h-3zM30 54h3v3h-3zM36 54h9v3h-9zM60 54h6v3h-6zM72 54h6v3h-6zM6 57h9v3h-9zM30 57h15v3h-15zM66 57h3v3h-3zM75 57h6v3h-6zM6 60h3v3h-3zM12 60h3v3h-3zM33 60h15v3h-15zM66 60h3v3h-3zM72 60h12v3h-12zM102 60h3v3h-3zM108 60h3v3h-3zM9 63h12v3h-12zM39 63h15v3h-15zM69 63h15v3h-15zM99 63h6v3h-6zM9 66h15v3h-15zM39 66h12v3h-12zM69 66h12v3h-12zM96 66h3v3h-3zM102 66h3v3h-3zM9 69h6v3h-6zM18 69h6v3h-6zM42 69h9v3h-9zM69 69h12v3h-12zM42 72h6v3h-6zM51 72h3v3h-3zM75 72h6v3h-6zM99 72h3v3h-3zM105 72h6v3h-6zM24 75h3v3h-3zM30 75h3v3h-3zM45 75h9v3h-9zM60 75h3v3h-3zM78 75h3v3h-3zM108 75h3v3h-3zM18 78h18v3h-18zM51 78h6v3h-6zM78 78h9v3h-9zM105 78h9v3h-9zM117 78h3v3h-3zM0 81h3v3h-3zM21 81h15v3h-15zM51 81h3v3h-3zM60 81h3v3h-3zM81 81h9v3h-9zM114 81h6v3h-6zM0 84h6v3h-6zM21 84h18v3h-18zM57 84h3v3h-3zM81 84h3v3h-3zM93 84h3v3h-3zM114 84h6v3h-6zM0 87h9v3h-9zM27 87h18v3h-18zM87 87h12v3h-12zM114 87h6v3h-6zM0 90h9v3h-9zM12 90h3v3h-3zM33 90h12v3h-12zM90 90h9v3h-9zM9 93h6v3h-6zM18 93h3v3h-3zM36 93h12v3h-12zM69 93h3v3h-3zM90 93h12v3h-12zM9 96h9v3h-9zM93 96h18v3h-18zM15 99h15v3h-15zM102 99h9v3h-9zM114 99h3v3h-3zM0 102h3v3h-3zM21 102h3v3h-3zM27 102h6v3h-6zM57 102h3v3h-3zM96 102h6v3h-6zM105 102h3v3h-3zM111 102h6v3h-6zM0 105h6v3h-6zM27 105h12v3h-12zM63 105h3v3h-3zM90 105h6v3h-6zM114 105h6v3h-6zM27 108h15v3h-15zM66 108h3v3h-3zM84 108h12v3h-12zM99 108h3v3h-3zM114 108h3v3h-3zM9 111h3v3h-3zM33 111h12v3h-12zM66 111h3v3h-3zM87 111h9v3h-9zM99 111h3v3h-3zM6 114h6v3h-6zM15 114h3v3h-3zM36 114h6v3h-6zM90 114h6v3h-6zM102 114h3v3h-3zM111 114h3v3h-3zM3 117h15v3h-15zM57 117h3v3h-3zM93 117h3v3h-3zM99 117h6v3h-6zM108 117h6v3h-6z"/><path fill="#eeee00" d="M18 0h3v3h-3zM45 0h3v3h-3zM75 0h3v3h-3zM81 0h3v3h-3zM87 0h9v3h-9zM6 3h3v3h-3zM24 3h3v3h-3zM39 3h3v3h-3zM63 3h3v3h-3zM69 3h3v3h-3zM9 6h3v3h-3zM90 6h3v3h-3zM12 9h3v3h-3zM30 9h9v3h-9zM96 9h3v3h-3zM9 12h3v3h-3zM30 12h3v3h-3zM90 12h3v3h-3zM9 15h3v3h-3zM18 15h3v3h-3zM24 15h3v3h-3zM33 15h3v3h-3zM93 15h3v3h-3zM3 18h3v3h-3zM15 21h3v3h-3zM66 21h3v3h-3zM6 24h3v3h-3zM33 24h3v3h-3zM9 27h3v3h-3zM18 27h3v3h-3zM33 27h6v3h-6zM108 27h3v3h-3zM9 30h3v3h-3zM18 30h3v3h-3zM33 30h3v3h-3zM33 33h3v3h-3zM51 33h3v3h-3zM93 33h6v3h-6zM33 36h3v3h-3zM90 36h9v3h-9zM90 39h3v3h-3zM99 39h3v3h-3zM105 39h3v3h-3zM9 42h3v3h-3zM15 42h3v3h-3zM24 42h3v3h-3zM114 42h3v3h-3zM6 45h3v3h-3zM18 45h3v3h-3zM27 45h3v3h-3zM33 45h3v3h-3zM39 45h3v3h-3zM99 45h3v3h-3zM9 48h3v3h-3zM33 48h3v3h-3zM54 48h3v3h-3zM75 48h3v3h-3zM0 51h3v3h-3zM27 51h3v3h-3zM48 51h6v3h-6zM75 51h3v3h-3zM81 51h6v3h-6zM18 54h3v3h-3zM24 54h3v3h-3zM45 54h3v3h-3zM51 54h6v3h-6zM3 57h3v3h-3zM18 57h3v3h-3zM48 57h3v3h-3zM84 57h3v3h-3zM0 60h6v3h-6zM30 60h3v3h-3zM96 60h3v3h-3zM54 63h6v3h-6zM63 63h3v3h-3zM54 66h3v3h-3zM63 66h3v3h-3zM87 66h3v3h-3zM93 66h3v3h-3zM108 66h3v3h-3zM54 69h3v3h-3zM81 69h3v3h-3zM93 69h6v3h-6zM27 72h3v3h-3zM33 72h3v3h-3zM54 72h3v3h-3zM90 72h3v3h-3zM96 72h3v3h-3zM33 75h3v3h-3zM42 75h3v3h-3zM63 75h3v3h-3zM87 75h6v3h-6zM114 75h3v3h-3zM15 78h3v3h-3zM36 78h3v3h-3zM42 78h3v3h-3zM60 78h3v3h-3zM66 78h3v3h-3zM72 78h3v3h-3zM42 81h3v3h-3zM69 81h3v3h-3zM75 81h6v3h-6zM90 81h9v3h-9zM54 84h3v3h-3zM102 87h3v3h-3zM111 87h3v3h-3zM27 90h3v3h-3zM0 93h3v3h-3zM21 93h3v3h-3zM27 93h3v3h-3zM105 93h3v3h-3zM114 93h3v3h-3zM90 96h3v3h-3zM114 96h3v3h-3zM63 99h3v3h-3zM72 99h3v3h-3zM78 99h3v3h-3zM42 102h3v3h-3zM6 105h3v3h-3zM75 105h3v3h-3zM72 108h3v3h-3zM12 111h3v3h-3zM102 111h3v3h-3zM30 114h3v3h-3zM33 117h6v3h-6zM63 117h3v3h-3zM90 117h3v3h-3z"/><path fill="#0099dd" d="M21 0h3v3h-3zM27 0h3v3h-3zM69 0h3v3h-3zM63 6h3v3h-3zM87 6h3v3h-3zM93 6h3v3h-3zM3 9h3v3h-3zM24 9h3v3h-3zM60 9h3v3h-3zM84 9h3v3h-3zM24 12h3v3h-3zM33 12h3v3h-3zM60 12h3v3h-3zM12 15h3v3h-3zM42 15h3v3h-3zM66 15h3v3h-3zM102 15h3v3h-3zM6 18h3v3h-3zM33 18h3v3h-3zM45 18h3v3h-3zM99 18h6v3h-6zM6 21h3v3h-3zM45 21h3v3h-3zM99 21h3v3h-3zM12 24h3v3h-3zM75 24h6v3h-6zM12 27h6v3h-6zM42 27h3v3h-3zM105 27h3v3h-3zM6 30h3v3h-3zM30 30h3v3h-3zM84 30h3v3h-3zM108 30h3v3h-3zM6 33h3v3h-3zM0 36h3v3h-3zM33 39h3v3h-3zM60 39h3v3h-3zM96 39h3v3h-3zM99 42h3v3h-3zM42 45h6v3h-6zM42 48h3v3h-3zM48 48h3v3h-3zM84 54h3v3h-3zM0 57h3v3h-3zM114 57h3v3h-3zM63 60h3v3h-3zM111 60h3v3h-3zM24 63h3v3h-3zM60 63h3v3h-3zM3 66h3v3h-3zM84 66h3v3h-3zM90 66h3v3h-3zM60 72h3v3h-3zM87 72h3v3h-3zM111 72h9v3h-9zM66 75h3v3h-3zM72 75h3v3h-3zM63 78h3v3h-3zM69 78h3v3h-3zM45 81h3v3h-3zM66 81h3v3h-3zM102 81h3v3h-3zM9 84h3v3h-3zM48 84h3v3h-3zM72 84h3v3h-3zM81 90h3v3h-3zM105 90h9v3h-9zM108 93h6v3h-6zM117 93h3v3h-3zM84 96h3v3h-3zM117 96h3v3h-3zM3 99h3v3h-3zM81 99h3v3h-3zM45 102h3v3h-3zM66 102h3v3h-3zM9 105h12v3h-12zM45 105h3v3h-3zM78 105h6v3h-6zM102 105h3v3h-3zM54 108h3v3h-3zM78 108h3v3h-3zM15 111h3v3h-3zM48 111h3v3h-3zM57 111h3v3h-3zM72 111h6v3h-6zM18 114h3v3h-3zM78 114h3v3h-3zM81 117h3v3h-3z"/><path fill="#bbff00" d="M24 0h3v3h-3zM39 0h3v3h-3zM66 0h3v3h-3zM30 3h6v3h-6zM42 3h6v3h-6zM60 3h3v3h-3zM90 3h6v3h-6zM12 6h3v3h-3zM21 6h3v3h-3zM27 6h9v3h-9zM42 6h3v3h-3zM81 6h6v3h-6zM0 9h3v3h-3zM6 9h6v3h-6zM21 9h3v3h-3zM27 9h3v3h-3zM63 9h3v3h-3zM3 12h3v3h-3zM27 12h3v3h-3zM36 12h6v3h-6zM87 12h3v3h-3zM99 12h3v3h-3zM0 15h3v3h-3zM6 15h3v3h-3zM39 15h3v3h-3zM45 15h3v3h-3zM72 15h3v3h-3zM90 15h3v3h-3zM105 15h3v3h-3zM9 18h3v3h-3zM30 18h3v3h-3zM63 18h3v3h-3zM93 18h3v3h-3zM105 18h3v3h-3zM75 21h3v3h-3zM96 21h3v3h-3zM108 21h3v3h-3zM21 24h3v3h-3zM48 24h3v3h-3zM6 27h3v3h-3zM48 27h3v3h-3zM114 27h3v3h-3zM0 30h3v3h-3zM15 30h3v3h-3zM24 30h3v3h-3zM51 30h3v3h-3zM111 30h3v3h-3zM0 33h3v3h-3zM9 33h3v3h-3zM18 33h3v3h-3zM24 33h3v3h-3zM36 33h3v3h-3zM84 33h6v3h-6zM102 33h3v3h-3zM111 33h6v3h-6zM3 36h3v3h-3zM9 36h3v3h-3zM18 36h3v3h-3zM36 36h3v3h-3zM51 36h3v3h-3zM84 36h3v3h-3zM99 36h3v3h-3zM117 36h3v3h-3zM9 39h3v3h-3zM57 39h3v3h-3zM87 39h3v3h-3zM18 42h3v3h-3zM42 42h6v3h-6zM90 42h9v3h-9zM105 42h3v3h-3zM30 45h3v3h-3zM69 45h6v3h-6zM78 45h6v3h-6zM3 48h3v3h-3zM18 48h3v3h-3zM114 48h3v3h-3zM12 51h12v3h-12zM30 51h3v3h-3zM42 51h6v3h-6zM78 51h3v3h-3zM117 51h3v3h-3zM3 54h6v3h-6zM21 54h3v3h-3zM27 54h3v3h-3zM57 54h3v3h-3zM78 54h6v3h-6zM90 54h9v3h-9zM24 57h3v3h-3zM60 57h3v3h-3zM111 57h3v3h-3zM21 60h3v3h-3zM51 60h6v3h-6zM105 60h3v3h-3zM0 63h3v3h-3zM66 63h3v3h-3zM105 63h3v3h-3zM27 66h3v3h-3zM81 66h3v3h-3zM3 69h3v3h-3zM27 69h3v3h-3zM84 69h6v3h-6zM105 69h3v3h-3zM30 72h3v3h-3zM57 72h3v3h-3zM63 72h6v3h-6zM54 75h3v3h-3zM0 78h3v3h-3zM48 78h3v3h-3zM90 78h3v3h-3zM6 81h3v3h-3zM18 81h3v3h-3zM39 81h3v3h-3zM48 81h3v3h-3zM63 81h3v3h-3zM108 81h3v3h-3zM45 84h3v3h-3zM60 84h3v3h-3zM66 84h6v3h-6zM75 84h3v3h-3zM99 84h3v3h-3zM9 87h3v3h-3zM18 87h6v3h-6zM45 87h3v3h-3zM69 87h6v3h-6zM18 90h3v3h-3zM48 90h3v3h-3zM69 90h3v3h-3zM87 90h3v3h-3zM102 90h3v3h-3zM3 93h3v3h-3zM63 93h3v3h-3zM75 93h3v3h-3zM6 96h3v3h-3zM21 96h3v3h-3zM54 96h6v3h-6zM63 96h12v3h-12zM111 96h3v3h-3zM6 99h6v3h-6zM39 99h9v3h-9zM51 99h3v3h-3zM60 99h3v3h-3zM111 99h3v3h-3zM117 99h3v3h-3zM18 102h3v3h-3zM39 102h3v3h-3zM69 102h3v3h-3zM108 102h3v3h-3zM57 105h3v3h-3zM66 105h3v3h-3zM72 105h3v3h-3zM84 105h6v3h-6zM99 105h3v3h-3zM108 105h3v3h-3zM24 108h3v3h-3zM42 108h6v3h-6zM60 108h6v3h-6zM69 108h3v3h-3zM102 108h3v3h-3zM111 108h3v3h-3zM27 111h6v3h-6zM60 111h3v3h-3zM69 111h3v3h-3zM81 111h3v3h-3zM108 111h6v3h-6zM45 114h3v3h-3zM54 114h9v3h-9zM66 114h6v3h-6zM99 114h3v3h-3zM105 114h3v3h-3zM0 117h3v3h-3zM39 117h6v3h-6zM51 117h3v3h-3zM60 117h3v3h-3zM72 117h3v3h-3zM117 117h3v3h-3z"/><path fill="#0000dd" d="M93 9h3v3h-3zM93 12h3v3h-3zM36 15h3v3h-3zM69 15h3v3h-3zM99 15h3v3h-3zM36 18h6v3h-6zM69 18h6v3h-6zM36 21h9v3h-9zM72 21h3v3h-3zM15 24h3v3h-3zM39 24h6v3h-6zM108 24h3v3h-3zM27 36h3v3h-3zM27 39h3v3h-3zM93 39h3v3h-3zM108 45h6v3h-6zM0 54h3v3h-3zM117 54h3v3h-3zM51 57h3v3h-3zM87 57h9v3h-9zM117 57h3v3h-3zM87 60h9v3h-9zM90 63h6v3h-6zM111 63h9v3h-9zM57 66h6v3h-6zM114 66h3v3h-3zM0 69h3v3h-3zM30 69h3v3h-3zM114 69h6v3h-6zM0 75h3v3h-3zM117 75h3v3h-3zM45 78h3v3h-3zM93 78h6v3h-6zM12 81h3v3h-3zM12 84h9v3h-9zM42 84h3v3h-3zM105 84h6v3h-6zM15 87h3v3h-3zM75 87h6v3h-6zM105 87h6v3h-6zM75 90h6v3h-6zM78 96h3v3h-3zM51 105h3v3h-3zM12 108h9v3h-9zM51 108h3v3h-3zM75 108h3v3h-3zM24 111h3v3h-3zM105 111h3v3h-3zM24 114h3v3h-3zM21 117h3v3h-3z"/></pattern><pattern id="p10" patternUnits="userSpaceOnUse" width="120" height="120"><path fill="#00ff00" d="M0 0h3v3h-3zM54 0h3v3h-3zM114 0h6v3h-6zM15 3h3v3h-3zM51 3h3v3h-3zM12 6h9v3h-9zM90 6h3v3h-3zM15 9h6v3h-6zM51 9h3v3h-3zM75 9h3v3h-3zM93 9h3v3h-3zM12 12h3v3h-3zM30 12h3v3h-3zM42 12h3v3h-3zM51 12h6v3h-6zM93 12h9v3h-9zM6 15h3v3h-3zM27 15h3v3h-3zM42 15h6v3h-6zM93 15h9v3h-9zM3 18h6v3h-6zM24 18h6v3h-6zM45 18h6v3h-6zM66 18h6v3h-6zM90 18h3v3h-3zM0 21h9v3h-9zM45 21h6v3h-6zM69 21h3v3h-3zM0 24h3v3h-3zM48 24h3v3h-3zM69 24h3v3h-3zM117 24h3v3h-3zM0 27h6v3h-6zM117 27h3v3h-3zM0 30h3v3h-3zM15 30h3v3h-3zM63 30h3v3h-3zM84 30h3v3h-3zM117 30h3v3h-3zM0 33h6v3h-6zM15 33h9v3h-9zM57 33h6v3h-6zM75 33h9v3h-9zM99 33h3v3h-3zM117 33h3v3h-3zM36 36h3v3h-3zM42 36h3v3h-3zM54 36h9v3h-9zM78 36h3v3h-3zM99 36h6v3h-6zM9 39h3v3h-3zM33 39h3v3h-3zM51 39h3v3h-3zM51 42h6v3h-6zM51 45h3v3h-3zM90 45h3v3h-3zM12 48h6v3h-6zM87 48h9v3h-9zM15 51h9v3h-9zM81 51h15v3h-15zM15 54h9v3h-9zM63 54h3v3h-3zM81 54h9v3h-9zM6 57h3v3h-3zM18 57h3v3h-3zM63 57h3v3h-3zM78 57h12v3h-12zM105 57h3v3h-3zM6 60h3v3h-3zM81 60h6v3h-6zM105 60h6v3h-6zM51 63h6v3h-6zM102 63h9v3h-9zM39 66h3v3h-3zM45 66h6v3h-6zM114 66h3v3h-3zM39 69h6v3h-6zM93 69h6v3h-6zM111 69h9v3h-9zM36 72h6v3h-6zM63 72h3v3h-3zM96 72h3v3h-3zM111 72h9v3h-9zM0 75h3v3h-3zM21 75h3v3h-3zM81 75h3v3h-3zM87 75h3v3h-3zM114 75h3v3h-3zM18 78h3v3h-3zM81 78h6v3h-6zM108 78h3v3h-3zM6 81h9v3h-9zM75 81h12v3h-12zM6 84h6v3h-6zM78 84h3v3h-3zM6 87h3v3h-3zM33 87h3v3h-3zM78 87h3v3h-3zM3 90h6v3h-6zM54 90h3v3h-3zM72 90h9v3h-9zM96 90h3v3h-3zM0 93h9v3h-9zM54 93h3v3h-3zM60 93h3v3h-3zM75 93h3v3h-3zM96 93h6v3h-6zM117 93h3v3h-3zM0 96h6v3h-6zM24 96h9v3h-9zM60 96h3v3h-3zM117 96h3v3h-3zM84 99h6v3h-6zM51 102h3v3h-3zM84 102h6v3h-6zM105 102h6v3h-6zM51 105h3v3h-3zM81 105h9v3h-9zM102 105h6v3h-6zM12 108h3v3h-3zM30 108h3v3h-3zM78 108h3v3h-3zM102 108h9v3h-9zM18 111h9v3h-9zM78 111h3v3h-3zM84 111h3v3h-3zM96 111h12v3h-12zM0 114h9v3h-9zM21 114h3v3h-3zM42 114h3v3h-3zM99 114h6v3h-6zM0 117h9v3h-9zM21 117h6v3h-6zM117 117h3v3h-3z"/><path fill="#bbff00" d="M9 0h3v3h-3zM18 0h6v3h-6zM42 0h3v3h-3zM111 0h3v3h-3zM39 3h6v3h-6zM45 6h3v3h-3zM99 9h3v3h-3zM15 12h3v3h-3zM48 12h3v3h-3zM75 12h3v3h-3zM84 12h3v3h-3zM66 15h6v3h-6zM75 15h3v3h-3zM72 18h3v3h-3zM42 24h3v3h-3zM42 27h3v3h-3zM87 27h6v3h-6zM45 30h3v3h-3zM24 33h3v3h-3zM21 36h3v3h-3zM33 36h3v3h-3zM0 39h6v3h-6zM30 39h3v3h-3zM81 39h3v3h-3zM117 39h3v3h-3zM0 42h3v3h-3zM48 42h3v3h-3zM57 42h3v3h-3zM87 42h3v3h-3zM117 42h3v3h-3zM48 48h3v3h-3zM84 48h3v3h-3zM114 48h3v3h-3zM12 51h3v3h-3zM36 51h3v3h-3zM111 51h6v3h-6zM48 54h3v3h-3zM60 54h3v3h-3zM90 54h3v3h-3zM108 54h3v3h-3zM3 57h3v3h-3zM9 57h3v3h-3zM36 57h6v3h-6zM87 60h3v3h-3zM108 66h3v3h-3zM66 69h3v3h-3zM3 72h3v3h-3zM24 72h3v3h-3zM45 72h6v3h-6zM66 72h3v3h-3zM108 72h3v3h-3zM18 75h3v3h-3zM39 75h3v3h-3zM48 75h3v3h-3zM63 75h6v3h-6zM90 75h3v3h-3zM105 75h3v3h-3zM15 78h3v3h-3zM30 78h3v3h-3zM57 78h3v3h-3zM66 78h3v3h-3zM78 78h3v3h-3zM105 78h3v3h-3zM30 81h6v3h-6zM54 81h3v3h-3zM102 81h3v3h-3zM3 84h3v3h-3zM54 84h3v3h-3zM96 87h3v3h-3zM9 93h3v3h-3zM33 93h3v3h-3zM69 93h3v3h-3zM78 93h6v3h-6zM6 96h3v3h-3zM45 96h3v3h-3zM51 96h6v3h-6zM90 96h6v3h-6zM0 99h3v3h-3zM9 99h3v3h-3zM81 99h3v3h-3zM105 99h3v3h-3zM6 102h3v3h-3zM54 102h3v3h-3zM54 105h3v3h-3zM6 108h3v3h-3zM12 111h3v3h-3zM27 111h3v3h-3zM57 111h3v3h-3zM93 111h3v3h-3zM75 114h3v3h-3zM96 114h3v3h-3zM117 114h3v3h-3zM18 117h3v3h-3zM75 117h3v3h-3z"/><path fill="#0099dd" d="M12 0h6v3h-6zM0 15h6v3h-6zM54 18h3v3h-3zM96 21h6v3h-6zM6 30h3v3h-3zM36 30h3v3h-3zM96 30h3v3h-3zM33 33h3v3h-3zM51 33h3v3h-3zM96 33h3v3h-3zM24 36h3v3h-3zM30 36h3v3h-3zM63 48h3v3h-3zM48 51h3v3h-3zM60 51h3v3h-3zM57 54h3v3h-3zM60 57h3v3h-3zM54 60h3v3h-3zM18 66h3v3h-3zM87 66h3v3h-3zM21 69h3v3h-3zM108 69h3v3h-3zM15 72h3v3h-3zM87 72h3v3h-3zM12 75h3v3h-3zM72 75h3v3h-3zM6 78h3v3h-3zM33 78h6v3h-6zM54 78h3v3h-3zM36 81h3v3h-3zM57 81h6v3h-6zM81 90h3v3h-3zM12 93h3v3h-3zM42 93h3v3h-3zM12 96h3v3h-3zM75 96h3v3h-3zM54 99h3v3h-3zM51 108h12v3h-12zM51 111h3v3h-3zM54 114h3v3h-3zM90 114h3v3h-3zM114 114h3v3h-3zM48 117h3v3h-3zM87 117h3v3h-3z"/><path fill="#eeee00" d="M45 0h3v3h-3zM45 3h3v3h-3zM84 6h3v3h-3zM21 9h3v3h-3zM42 9h3v3h-3zM87 9h3v3h-3zM24 12h6v3h-6zM21 15h3v3h-3zM51 15h3v3h-3zM78 15h3v3h-3zM96 18h3v3h-3zM93 21h3v3h-3zM93 27h3v3h-3zM9 36h6v3h-6zM45 36h6v3h-6zM72 36h3v3h-3zM84 36h3v3h-3zM96 36h3v3h-3zM27 39h3v3h-3zM60 42h3v3h-3zM39 51h3v3h-3zM63 51h3v3h-3zM6 54h3v3h-3zM36 54h3v3h-3zM117 54h3v3h-3zM90 57h3v3h-3zM12 60h3v3h-3zM60 60h3v3h-3zM12 63h3v3h-3zM84 63h3v3h-3zM15 66h3v3h-3zM18 69h3v3h-3zM90 69h3v3h-3zM69 72h3v3h-3zM90 72h3v3h-3zM69 75h3v3h-3zM96 75h6v3h-6zM3 78h3v3h-3zM39 78h3v3h-3zM48 78h6v3h-6zM60 78h3v3h-3zM102 78h3v3h-3zM3 81h3v3h-3zM99 84h3v3h-3zM48 90h3v3h-3zM24 93h3v3h-3zM48 93h3v3h-3zM9 96h3v3h-3zM78 96h6v3h-6zM99 96h3v3h-3zM6 99h3v3h-3zM12 99h3v3h-3zM78 99h3v3h-3zM102 99h3v3h-3zM102 102h3v3h-3zM6 105h3v3h-3zM54 111h3v3h-3zM117 111h3v3h-3zM15 114h3v3h-3zM69 114h3v3h-3zM93 114h3v3h-3zM45 117h3v3h-3zM54 117h3v3h-3zM96 117h3v3h-3z"/><path fill="#ff0000" d="M48 0h3v3h-3zM90 0h3v3h-3zM21 3h3v3h-3zM42 6h3v3h-3zM21 12h3v3h-3zM69 12h3v3h-3zM75 18h3v3h-3zM75 21h3v3h-3zM39 27h3v3h-3zM45 27h3v3h-3zM9 30h3v3h-3zM6 33h3v3h-3zM84 33h3v3h-3zM93 36h3v3h-3zM39 45h3v3h-3zM45 48h3v3h-3zM57 51h3v3h-3zM9 54h3v3h-3zM93 54h3v3h-3zM114 54h3v3h-3zM111 57h3v3h-3zM15 60h3v3h-3zM51 60h3v3h-3zM57 60h3v3h-3zM12 66h3v3h-3zM15 69h3v3h-3zM72 72h3v3h-3zM6 75h3v3h-3zM15 75h3v3h-3zM51 75h3v3h-3zM93 75h3v3h-3zM12 78h3v3h-3zM36 84h3v3h-3zM27 90h3v3h-3zM39 90h3v3h-3zM84 93h9v3h-9zM72 96h3v3h-3zM60 99h3v3h-3zM0 111h3v3h-3zM9 111h3v3h-3zM87 111h3v3h-3zM9 114h3v3h-3zM30 114h3v3h-3zM45 114h3v3h-3zM9 117h3v3h-3zM15 117h3v3h-3zM90 117h6v3h-6z"/><path fill="#00cc00" d="M51 0h3v3h-3zM18 3h3v3h-3zM39 6h3v3h-3zM39 9h3v3h-3zM45 9h6v3h-6zM90 9h3v3h-3zM18 12h3v3h-3zM45 12h3v3h-3zM72 12h3v3h-3zM78 12h3v3h-3zM90 12h3v3h-3zM24 15h3v3h-3zM48 15h3v3h-3zM72 15h3v3h-3zM90 15h3v3h-3zM0 18h3v3h-3zM42 18h3v3h-3zM51 18h3v3h-3zM93 18h3v3h-3zM99 18h3v3h-3zM42 21h3v3h-3zM51 21h3v3h-3zM72 21h3v3h-3zM45 24h3v3h-3zM90 24h6v3h-6zM114 27h3v3h-3zM3 30h3v3h-3zM12 30h3v3h-3zM39 30h6v3h-6zM99 30h3v3h-3zM12 33h3v3h-3zM36 33h3v3h-3zM0 36h9v3h-9zM75 36h3v3h-3zM81 36h3v3h-3zM117 36h3v3h-3zM6 39h3v3h-3zM48 39h3v3h-3zM54 39h6v3h-6zM3 42h6v3h-6zM36 45h3v3h-3zM48 45h3v3h-3zM57 45h3v3h-3zM87 45h3v3h-3zM18 48h3v3h-3zM36 48h3v3h-3zM111 48h3v3h-3zM66 51h3v3h-3zM117 51h3v3h-3zM12 54h3v3h-3zM39 54h9v3h-9zM66 54h3v3h-3zM111 54h3v3h-3zM12 57h6v3h-6zM108 57h3v3h-3zM9 60h3v3h-3zM78 60h3v3h-3zM111 60h3v3h-3zM57 63h3v3h-3zM45 69h3v3h-3zM18 72h6v3h-6zM42 72h3v3h-3zM93 72h3v3h-3zM3 75h3v3h-3zM24 75h3v3h-3zM36 75h3v3h-3zM42 75h6v3h-6zM60 75h3v3h-3zM84 75h3v3h-3zM102 75h3v3h-3zM117 75h3v3h-3zM0 78h3v3h-3zM9 78h3v3h-3zM87 78h3v3h-3zM51 81h3v3h-3zM30 84h6v3h-6zM51 84h3v3h-3zM57 84h3v3h-3zM3 87h3v3h-3zM30 87h3v3h-3zM36 87h3v3h-3zM51 87h6v3h-6zM99 87h3v3h-3zM0 90h3v3h-3zM30 90h6v3h-6zM51 90h3v3h-3zM93 90h3v3h-3zM99 90h3v3h-3zM21 93h3v3h-3zM27 93h3v3h-3zM51 93h3v3h-3zM72 93h3v3h-3zM93 93h3v3h-3zM33 96h3v3h-3zM42 96h3v3h-3zM48 96h3v3h-3zM57 96h3v3h-3zM63 96h6v3h-6zM84 96h6v3h-6zM96 96h3v3h-3zM3 99h3v3h-3zM30 99h6v3h-6zM48 99h6v3h-6zM9 102h6v3h-6zM81 102h3v3h-3zM9 105h3v3h-3zM33 105h3v3h-3zM108 105h3v3h-3zM9 108h3v3h-3zM81 108h9v3h-9zM3 111h6v3h-6zM15 111h3v3h-3zM81 111h3v3h-3zM18 114h3v3h-3zM24 114h6v3h-6zM57 114h3v3h-3zM72 114h3v3h-3zM78 114h9v3h-9zM27 117h3v3h-3zM42 117h3v3h-3zM72 117h3v3h-3zM99 117h3v3h-3zM114 117h3v3h-3z"/><path fill="#00aa88" d="M63 6h3v3h-3zM81 9h3v3h-3zM6 12h3v3h-3zM54 15h3v3h-3zM117 15h3v3h-3zM21 18h3v3h-3zM78 18h3v3h-3zM117 21h3v3h-3zM96 24h3v3h-3zM87 30h9v3h-9zM27 33h3v3h-3zM51 36h3v3h-3zM45 45h3v3h-3zM60 48h3v3h-3zM42 51h6v3h-6zM54 57h3v3h-3zM69 69h3v3h-3zM87 69h3v3h-3zM12 72h3v3h-3zM84 72h3v3h-3zM9 75h3v3h-3zM42 90h6v3h-6zM45 93h3v3h-3zM57 99h3v3h-3zM75 99h3v3h-3zM3 108h3v3h-3zM48 111h3v3h-3zM90 111h3v3h-3zM12 114h3v3h-3zM87 114h3v3h-3zM51 117h3v3h-3z"/><path fill="#0000dd" d="M0 12h6v3h-6zM18 18h3v3h-3zM117 18h3v3h-3zM9 33h3v3h-3zM30 33h3v3h-3zM48 33h3v3h-3zM87 33h9v3h-9zM27 36h3v3h-3zM87 36h6v3h-6zM24 39h3v3h-3zM42 45h3v3h-3zM39 48h6v3h-6zM51 54h6v3h-6zM51 57h3v3h-3zM57 57h3v3h-3zM84 69h3v3h-3zM9 72h3v3h-3zM87 90h3v3h-3zM3 102h3v3h-3zM57 102h6v3h-6zM57 105h3v3h-3zM48 114h6v3h-6zM12 117h3v3h-3z"/></pattern><pattern id="p11" patternUnits="userSpaceOnUse" width="120" height="120"><path fill="#00ff00" d="M0 0h3v3h-3zM12 0h3v3h-3zM108 0h12v3h-12zM81 3h3v3h-3zM108 3h6v3h-6zM42 6h3v3h-3zM60 6h3v3h-3zM30 9h3v3h-3zM33 12h3v3h-3zM54 12h3v3h-3zM72 12h3v3h-3zM27 15h3v3h-3zM57 18h3v3h-3zM3 21h3v3h-3zM105 21h3v3h-3zM117 21h3v3h-3zM114 24h3v3h-3zM27 27h6v3h-6zM78 30h3v3h-3zM24 33h3v3h-3zM75 33h3v3h-3zM105 33h3v3h-3zM60 36h3v3h-3zM72 36h3v3h-3zM78 36h3v3h-3zM0 39h3v3h-3zM75 39h3v3h-3zM27 45h3v3h-3zM72 45h3v3h-3zM24 48h3v3h-3zM72 48h3v3h-3zM105 48h3v3h-3zM69 51h3v3h-3zM27 54h3v3h-3zM69 54h9v3h-9zM81 54h3v3h-3zM24 57h6v3h-6zM21 60h3v3h-3zM30 60h3v3h-3zM48 60h3v3h-3zM0 63h3v3h-3zM99 63h3v3h-3zM42 66h3v3h-3zM99 66h9v3h-9zM21 69h3v3h-3zM27 69h3v3h-3zM93 69h3v3h-3zM0 72h3v3h-3zM6 72h3v3h-3zM90 75h3v3h-3zM117 75h3v3h-3zM72 78h6v3h-6zM99 78h3v3h-3zM114 78h3v3h-3zM0 81h3v3h-3zM51 81h3v3h-3zM66 81h3v3h-3zM96 81h3v3h-3zM102 81h3v3h-3zM48 84h3v3h-3zM72 84h3v3h-3zM87 84h3v3h-3zM117 84h3v3h-3zM96 87h3v3h-3zM18 90h3v3h-3zM27 90h3v3h-3zM36 90h3v3h-3zM87 90h6v3h-6zM21 93h6v3h-6zM66 93h3v3h-3zM15 96h3v3h-3zM36 96h3v3h-3zM54 96h3v3h-3zM60 96h9v3h-9zM30 99h3v3h-3zM45 102h3v3h-3zM114 102h3v3h-3zM33 105h3v3h-3zM45 105h3v3h-3zM111 108h3v3h-3zM81 111h3v3h-3zM114 111h3v3h-3zM93 114h6v3h-6zM3 117h3v3h-3zM12 117h3v3h-3zM114 117h3v3h-3z"/><path fill="#00cc00" d="M3 0h3v3h-3zM75 0h3v3h-3zM51 3h3v3h-3zM78 3h3v3h-3zM39 6h3v3h-3zM48 6h3v3h-3zM102 6h3v3h-3zM36 9h3v3h-3zM48 9h3v3h-3zM57 9h3v3h-3zM72 9h3v3h-3zM81 9h3v3h-3zM102 9h3v3h-3zM27 12h3v3h-3zM39 12h6v3h-6zM66 12h6v3h-6zM30 15h3v3h-3zM72 15h6v3h-6zM6 18h6v3h-6zM75 18h3v3h-3zM48 21h3v3h-3zM0 24h3v3h-3zM27 24h3v3h-3zM117 24h3v3h-3zM24 27h3v3h-3zM111 27h3v3h-3zM9 30h3v3h-3zM24 30h3v3h-3zM96 30h3v3h-3zM105 30h3v3h-3zM96 33h3v3h-3zM102 33h3v3h-3zM24 36h9v3h-9zM102 36h3v3h-3zM81 39h3v3h-3zM99 39h3v3h-3zM117 39h3v3h-3zM3 42h3v3h-3zM69 42h3v3h-3zM81 42h3v3h-3zM69 45h3v3h-3zM102 45h3v3h-3zM27 48h3v3h-3zM51 48h3v3h-3zM87 48h6v3h-6zM102 48h3v3h-3zM30 51h3v3h-3zM45 51h3v3h-3zM51 51h3v3h-3zM81 51h3v3h-3zM96 51h3v3h-3zM15 57h3v3h-3zM30 57h3v3h-3zM18 60h3v3h-3zM24 60h6v3h-6zM99 60h6v3h-6zM3 63h3v3h-3zM24 63h3v3h-3zM96 63h3v3h-3zM117 63h3v3h-3zM3 66h3v3h-3zM36 66h3v3h-3zM51 66h3v3h-3zM96 66h3v3h-3zM30 69h3v3h-3zM39 69h3v3h-3zM45 69h3v3h-3zM51 69h3v3h-3zM75 69h3v3h-3zM99 69h3v3h-3zM105 69h3v3h-3zM3 72h3v3h-3zM27 72h3v3h-3zM48 72h3v3h-3zM96 72h3v3h-3zM3 75h3v3h-3zM75 75h3v3h-3zM96 75h3v3h-3zM9 78h3v3h-3zM87 78h3v3h-3zM111 78h3v3h-3zM3 81h3v3h-3zM54 81h3v3h-3zM69 81h3v3h-3zM75 81h3v3h-3zM51 84h3v3h-3zM90 84h3v3h-3zM33 87h3v3h-3zM51 87h3v3h-3zM69 87h3v3h-3zM93 87h3v3h-3zM102 87h3v3h-3zM15 90h3v3h-3zM21 90h6v3h-6zM30 90h3v3h-3zM39 90h9v3h-9zM84 90h3v3h-3zM93 90h6v3h-6zM18 93h3v3h-3zM39 93h3v3h-3zM63 93h3v3h-3zM69 93h3v3h-3zM24 96h3v3h-3zM57 96h3v3h-3zM72 96h3v3h-3zM6 99h6v3h-6zM15 99h3v3h-3zM45 99h3v3h-3zM66 99h3v3h-3zM24 102h3v3h-3zM33 102h3v3h-3zM54 102h3v3h-3zM96 105h3v3h-3zM114 105h3v3h-3zM93 108h3v3h-3zM105 108h3v3h-3zM90 111h3v3h-3zM96 111h3v3h-3zM6 114h3v3h-3zM18 114h3v3h-3zM75 114h3v3h-3zM87 114h3v3h-3zM114 114h3v3h-3zM15 117h3v3h-3zM57 117h3v3h-3zM117 117h3v3h-3z"/><path fill="#0099dd" d="M6 0h3v3h-3zM15 0h6v3h-6zM51 0h3v3h-3zM81 0h9v3h-9zM3 3h6v3h-6zM15 3h3v3h-3zM42 3h9v3h-9zM66 3h3v3h-3zM102 3h6v3h-6zM27 6h3v3h-3zM57 6h3v3h-3zM72 6h3v3h-3zM105 6h6v3h-6zM9 9h3v3h-3zM18 9h3v3h-3zM51 9h6v3h-6zM63 9h3v3h-3zM93 9h3v3h-3zM45 12h3v3h-3zM51 12h3v3h-3zM63 12h3v3h-3zM84 12h6v3h-6zM93 12h3v3h-3zM3 15h3v3h-3zM78 18h3v3h-3zM105 18h3v3h-3zM9 21h3v3h-3zM6 24h3v3h-3zM12 24h3v3h-3zM21 24h3v3h-3zM30 24h3v3h-3zM51 24h6v3h-6zM111 24h3v3h-3zM0 27h3v3h-3zM15 27h3v3h-3zM39 27h3v3h-3zM51 27h3v3h-3zM78 27h3v3h-3zM93 27h3v3h-3zM36 30h3v3h-3zM93 30h3v3h-3zM21 33h3v3h-3zM33 33h3v3h-3zM54 33h3v3h-3zM72 33h3v3h-3zM84 33h3v3h-3zM117 33h3v3h-3zM21 36h3v3h-3zM51 36h3v3h-3zM81 36h3v3h-3zM48 39h3v3h-3zM72 39h3v3h-3zM84 39h3v3h-3zM96 39h3v3h-3zM0 42h3v3h-3zM45 42h3v3h-3zM102 42h3v3h-3zM108 42h3v3h-3zM3 45h3v3h-3zM63 45h6v3h-6zM84 45h3v3h-3zM105 45h3v3h-3zM54 48h6v3h-6zM69 48h3v3h-3zM84 48h3v3h-3zM6 51h3v3h-3zM21 51h3v3h-3zM48 51h3v3h-3zM87 51h3v3h-3zM33 54h3v3h-3zM45 54h9v3h-9zM84 54h3v3h-3zM99 54h3v3h-3zM45 57h6v3h-6zM78 57h3v3h-3zM105 57h3v3h-3zM15 60h3v3h-3zM42 60h3v3h-3zM105 60h3v3h-3zM111 60h3v3h-3zM6 63h3v3h-3zM54 63h3v3h-3zM105 63h9v3h-9zM6 66h6v3h-6zM33 66h3v3h-3zM93 66h3v3h-3zM108 66h3v3h-3zM12 69h3v3h-3zM42 69h3v3h-3zM33 72h3v3h-3zM66 72h3v3h-3zM78 72h3v3h-3zM90 72h3v3h-3zM102 72h3v3h-3zM117 72h3v3h-3zM12 75h3v3h-3zM60 75h3v3h-3zM78 75h3v3h-3zM87 75h3v3h-3zM102 75h6v3h-6zM114 75h3v3h-3zM6 78h3v3h-3zM90 78h6v3h-6zM102 78h3v3h-3zM117 78h3v3h-3zM48 81h3v3h-3zM111 81h3v3h-3zM69 84h3v3h-3zM75 84h3v3h-3zM99 84h9v3h-9zM114 84h3v3h-3zM21 87h3v3h-3zM36 87h3v3h-3zM45 87h6v3h-6zM54 87h3v3h-3zM72 87h3v3h-3zM99 87h3v3h-3zM105 87h3v3h-3zM117 87h3v3h-3zM9 90h3v3h-3zM51 90h3v3h-3zM63 90h3v3h-3zM0 93h3v3h-3zM42 93h3v3h-3zM51 93h3v3h-3zM75 93h3v3h-3zM0 96h12v3h-12zM18 96h3v3h-3zM39 96h6v3h-6zM48 96h3v3h-3zM0 99h3v3h-3zM21 99h6v3h-6zM39 99h6v3h-6zM48 99h3v3h-3zM69 99h9v3h-9zM117 99h3v3h-3zM9 102h3v3h-3zM108 102h3v3h-3zM18 105h3v3h-3zM39 105h3v3h-3zM48 105h6v3h-6zM12 108h3v3h-3zM27 108h9v3h-9zM39 108h3v3h-3zM45 108h6v3h-6zM78 108h6v3h-6zM114 108h6v3h-6zM6 111h3v3h-3zM27 111h3v3h-3zM72 111h6v3h-6zM84 111h6v3h-6zM99 111h3v3h-3zM108 111h6v3h-6zM3 114h3v3h-3zM15 114h3v3h-3zM69 114h3v3h-3zM81 114h6v3h-6zM108 114h3v3h-3zM0 117h3v3h-3zM54 117h3v3h-3zM75 117h6v3h-6zM84 117h3v3h-3zM99 117h3v3h-3zM108 117h3v3h-3z"/><path fill="#ff0000" d="M9 0h3v3h-3zM105 0h3v3h-3zM54 3h3v3h-3zM33 6h6v3h-6zM81 6h3v3h-3zM39 9h3v3h-3zM57 12h6v3h-6zM78 15h3v3h-3zM3 18h3v3h-3zM54 18h3v3h-3zM6 21h3v3h-3zM99 24h3v3h-3zM33 27h3v3h-3zM27 30h3v3h-3zM99 33h3v3h-3zM9 36h3v3h-3zM57 36h3v3h-3zM78 39h3v3h-3zM72 42h9v3h-9zM45 45h3v3h-3zM81 45h3v3h-3zM96 45h6v3h-6zM99 48h3v3h-3zM24 51h3v3h-3zM99 51h3v3h-3zM21 54h6v3h-6zM78 54h3v3h-3zM0 57h3v3h-3zM51 57h3v3h-3zM0 60h3v3h-3zM54 60h3v3h-3zM117 60h3v3h-3zM27 63h3v3h-3zM21 66h6v3h-6zM45 66h3v3h-3zM24 69h3v3h-3zM48 69h3v3h-3zM69 72h6v3h-6zM93 72h3v3h-3zM99 72h3v3h-3zM66 75h9v3h-9zM96 78h3v3h-3zM72 81h3v3h-3zM117 81h3v3h-3zM96 84h3v3h-3zM90 87h3v3h-3zM30 93h3v3h-3zM21 96h3v3h-3zM27 96h3v3h-3zM33 96h3v3h-3zM51 102h3v3h-3zM111 102h3v3h-3zM102 105h3v3h-3zM108 105h3v3h-3zM96 108h6v3h-6zM78 111h3v3h-3zM93 111h3v3h-3zM102 111h6v3h-6zM105 114h3v3h-3zM111 114h3v3h-3zM111 117h3v3h-3z"/><path fill="#0000dd" d="M21 0h12v3h-12zM42 0h9v3h-9zM72 0h3v3h-3zM90 0h3v3h-3zM0 3h3v3h-3zM18 3h9v3h-9zM69 3h3v3h-3zM84 3h9v3h-9zM114 3h6v3h-6zM0 6h9v3h-9zM12 6h6v3h-6zM21 6h3v3h-3zM66 6h3v3h-3zM87 6h9v3h-9zM111 6h9v3h-9zM0 9h3v3h-3zM15 9h3v3h-3zM69 9h3v3h-3zM90 9h3v3h-3zM96 9h3v3h-3zM108 9h12v3h-12zM0 12h3v3h-3zM90 12h3v3h-3zM96 12h3v3h-3zM102 12h18v3h-18zM18 15h6v3h-6zM45 15h6v3h-6zM90 15h30v3h-30zM15 18h6v3h-6zM24 18h6v3h-6zM42 18h9v3h-9zM87 18h12v3h-12zM102 18h3v3h-3zM108 18h12v3h-12zM12 21h15v3h-15zM42 21h6v3h-6zM69 21h3v3h-3zM75 21h18v3h-18zM96 21h3v3h-3zM111 21h3v3h-3zM15 24h6v3h-6zM39 24h9v3h-9zM63 24h27v3h-27zM12 27h3v3h-3zM18 27h3v3h-3zM45 27h3v3h-3zM54 27h24v3h-24zM81 27h9v3h-9zM39 30h6v3h-6zM51 30h24v3h-24zM81 30h6v3h-6zM90 30h3v3h-3zM111 30h6v3h-6zM15 33h3v3h-3zM39 33h12v3h-12zM57 33h3v3h-3zM63 33h9v3h-9zM90 33h6v3h-6zM108 33h9v3h-9zM15 36h3v3h-3zM33 36h18v3h-18zM69 36h3v3h-3zM84 36h9v3h-9zM96 36h3v3h-3zM108 36h9v3h-9zM12 39h12v3h-12zM36 39h3v3h-3zM45 39h3v3h-3zM90 39h6v3h-6zM105 39h3v3h-3zM114 39h3v3h-3zM9 42h15v3h-15zM27 42h3v3h-3zM36 42h9v3h-9zM84 42h9v3h-9zM96 42h3v3h-3zM111 42h6v3h-6zM0 45h3v3h-3zM6 45h18v3h-18zM30 45h3v3h-3zM36 45h9v3h-9zM87 45h3v3h-3zM111 45h9v3h-9zM3 48h21v3h-21zM33 48h3v3h-3zM39 48h6v3h-6zM60 48h9v3h-9zM108 48h12v3h-12zM0 51h3v3h-3zM9 51h3v3h-3zM36 51h3v3h-3zM42 51h3v3h-3zM54 51h15v3h-15zM105 51h15v3h-15zM36 54h9v3h-9zM66 54h3v3h-3zM87 54h3v3h-3zM93 54h3v3h-3zM102 54h3v3h-3zM108 54h12v3h-12zM36 57h3v3h-3zM81 57h18v3h-18zM108 57h12v3h-12zM12 60h3v3h-3zM69 60h3v3h-3zM78 60h21v3h-21zM108 60h3v3h-3zM15 63h6v3h-6zM57 63h6v3h-6zM66 63h3v3h-3zM78 63h18v3h-18zM12 66h6v3h-6zM57 66h18v3h-18zM78 66h12v3h-12zM9 69h3v3h-3zM15 69h3v3h-3zM54 69h18v3h-18zM78 69h15v3h-15zM18 72h3v3h-3zM36 72h6v3h-6zM51 72h15v3h-15zM81 72h6v3h-6zM111 72h6v3h-6zM15 75h3v3h-3zM21 75h9v3h-9zM33 75h27v3h-27zM84 75h3v3h-3zM108 75h3v3h-3zM12 78h24v3h-24zM42 78h9v3h-9zM105 78h6v3h-6zM6 81h33v3h-33zM78 81h6v3h-6zM105 81h3v3h-3zM3 84h24v3h-24zM36 84h6v3h-6zM63 84h3v3h-3zM81 84h3v3h-3zM0 87h6v3h-6zM9 87h9v3h-9zM39 87h3v3h-3zM60 87h9v3h-9zM75 87h6v3h-6zM108 87h9v3h-9zM0 90h6v3h-6zM12 90h3v3h-3zM57 90h3v3h-3zM66 90h3v3h-3zM78 90h6v3h-6zM102 90h18v3h-18zM6 93h3v3h-3zM54 93h9v3h-9zM87 93h3v3h-3zM93 93h27v3h-27zM75 96h6v3h-6zM84 96h3v3h-3zM93 96h27v3h-27zM78 99h36v3h-36zM12 102h3v3h-3zM18 102h3v3h-3zM69 102h18v3h-18zM90 102h6v3h-6zM99 102h3v3h-3zM105 102h3v3h-3zM0 105h3v3h-3zM9 105h3v3h-3zM21 105h3v3h-3zM27 105h3v3h-3zM57 105h30v3h-30zM0 108h3v3h-3zM6 108h3v3h-3zM51 108h27v3h-27zM0 111h6v3h-6zM30 111h3v3h-3zM36 111h3v3h-3zM42 111h30v3h-30zM117 111h3v3h-3zM21 114h39v3h-39zM63 114h3v3h-3zM18 117h21v3h-21zM42 117h12v3h-12zM63 117h3v3h-3zM87 117h3v3h-3zM93 117h6v3h-6z"/><path fill="#0077dd" d="M33 0h3v3h-3zM39 0h3v3h-3zM69 0h3v3h-3zM93 0h3v3h-3zM102 0h3v3h-3zM9 3h6v3h-6zM27 3h3v3h-3zM72 3h3v3h-3zM9 6h3v3h-3zM18 6h3v3h-3zM24 6h3v3h-3zM63 6h3v3h-3zM69 6h3v3h-3zM84 6h3v3h-3zM96 6h6v3h-6zM6 9h3v3h-3zM12 9h3v3h-3zM84 9h6v3h-6zM105 9h3v3h-3zM15 12h3v3h-3zM24 12h3v3h-3zM48 12h3v3h-3zM99 12h3v3h-3zM0 15h3v3h-3zM12 15h6v3h-6zM39 15h6v3h-6zM87 15h3v3h-3zM12 18h3v3h-3zM21 18h3v3h-3zM51 18h3v3h-3zM72 18h3v3h-3zM81 18h6v3h-6zM27 21h3v3h-3zM39 21h3v3h-3zM72 21h3v3h-3zM108 21h3v3h-3zM24 24h3v3h-3zM48 24h3v3h-3zM9 27h3v3h-3zM21 27h3v3h-3zM36 27h3v3h-3zM42 27h3v3h-3zM48 27h3v3h-3zM114 27h3v3h-3zM12 30h3v3h-3zM45 30h6v3h-6zM75 30h3v3h-3zM87 30h3v3h-3zM108 30h3v3h-3zM12 33h3v3h-3zM36 33h3v3h-3zM51 33h3v3h-3zM60 33h3v3h-3zM87 33h3v3h-3zM12 36h3v3h-3zM18 36h3v3h-3zM93 36h3v3h-3zM99 36h3v3h-3zM105 36h3v3h-3zM117 36h3v3h-3zM9 39h3v3h-3zM24 39h6v3h-6zM69 39h3v3h-3zM87 39h3v3h-3zM102 39h3v3h-3zM108 39h6v3h-6zM6 42h3v3h-3zM24 42h3v3h-3zM66 42h3v3h-3zM105 42h3v3h-3zM33 45h3v3h-3zM60 45h3v3h-3zM108 45h3v3h-3zM0 48h3v3h-3zM36 48h3v3h-3zM3 51h3v3h-3zM12 51h3v3h-3zM39 51h3v3h-3zM90 51h3v3h-3zM15 54h3v3h-3zM57 54h9v3h-9zM90 54h3v3h-3zM105 54h3v3h-3zM12 57h3v3h-3zM18 57h3v3h-3zM33 57h3v3h-3zM54 57h6v3h-6zM69 57h3v3h-3zM75 57h3v3h-3zM102 57h3v3h-3zM57 60h3v3h-3zM72 60h6v3h-6zM114 60h3v3h-3zM9 63h6v3h-6zM69 63h9v3h-9zM114 63h3v3h-3zM75 66h3v3h-3zM111 66h3v3h-3zM117 66h3v3h-3zM3 69h6v3h-6zM33 69h6v3h-6zM108 69h12v3h-12zM12 72h3v3h-3zM24 72h3v3h-3zM30 72h3v3h-3zM42 72h6v3h-6zM108 72h3v3h-3zM18 75h3v3h-3zM30 75h3v3h-3zM111 75h3v3h-3zM51 78h3v3h-3zM78 78h3v3h-3zM84 78h3v3h-3zM45 81h3v3h-3zM84 81h9v3h-9zM99 81h3v3h-3zM108 81h3v3h-3zM0 84h3v3h-3zM42 84h3v3h-3zM54 84h9v3h-9zM66 84h3v3h-3zM78 84h3v3h-3zM84 84h3v3h-3zM108 84h3v3h-3zM6 87h3v3h-3zM18 87h3v3h-3zM57 87h3v3h-3zM6 90h3v3h-3zM48 90h3v3h-3zM54 90h3v3h-3zM60 90h3v3h-3zM69 90h3v3h-3zM3 93h3v3h-3zM45 93h6v3h-6zM78 93h9v3h-9zM90 93h3v3h-3zM12 96h3v3h-3zM45 96h3v3h-3zM51 96h3v3h-3zM81 96h3v3h-3zM87 96h6v3h-6zM3 99h3v3h-3zM12 99h3v3h-3zM18 99h3v3h-3zM33 99h3v3h-3zM0 102h9v3h-9zM15 102h3v3h-3zM21 102h3v3h-3zM30 102h3v3h-3zM39 102h6v3h-6zM66 102h3v3h-3zM87 102h3v3h-3zM102 102h3v3h-3zM117 102h3v3h-3zM3 105h6v3h-6zM12 105h6v3h-6zM30 105h3v3h-3zM42 105h3v3h-3zM87 105h9v3h-9zM99 105h3v3h-3zM117 105h3v3h-3zM3 108h3v3h-3zM9 108h3v3h-3zM15 108h6v3h-6zM36 108h3v3h-3zM42 108h3v3h-3zM84 108h6v3h-6zM21 111h3v3h-3zM33 111h3v3h-3zM39 111h3v3h-3zM60 114h3v3h-3zM66 114h3v3h-3zM90 114h3v3h-3zM99 114h6v3h-6zM117 114h3v3h-3zM90 117h3v3h-3zM102 117h6v3h-6z"/><path fill="#880099" d="M78 0h3v3h-3zM99 0h3v3h-3zM30 3h3v3h-3zM75 3h3v3h-3zM30 6h3v3h-3zM45 6h3v3h-3zM75 6h6v3h-6zM27 9h3v3h-3zM42 9h6v3h-6zM60 9h3v3h-3zM66 9h3v3h-3zM99 9h3v3h-3zM18 12h3v3h-3zM24 15h3v3h-3zM33 15h6v3h-6zM51 15h12v3h-12zM81 15h6v3h-6zM0 18h3v3h-3zM30 18h3v3h-3zM99 18h3v3h-3zM30 21h3v3h-3zM51 21h3v3h-3zM99 21h6v3h-6zM114 21h3v3h-3zM9 24h3v3h-3zM96 27h3v3h-3zM117 27h3v3h-3zM33 30h3v3h-3zM27 33h6v3h-6zM78 33h6v3h-6zM54 36h3v3h-3zM75 36h3v3h-3zM6 39h3v3h-3zM99 42h3v3h-3zM117 42h3v3h-3zM24 45h3v3h-3zM57 45h3v3h-3zM30 48h3v3h-3zM45 48h3v3h-3zM93 48h6v3h-6zM33 51h3v3h-3zM84 51h3v3h-3zM93 51h3v3h-3zM102 51h3v3h-3zM12 54h3v3h-3zM30 54h3v3h-3zM54 54h3v3h-3zM96 54h3v3h-3zM9 57h3v3h-3zM72 57h3v3h-3zM99 57h3v3h-3zM9 60h3v3h-3zM45 60h3v3h-3zM21 63h3v3h-3zM42 63h3v3h-3zM102 63h3v3h-3zM0 66h3v3h-3zM18 66h3v3h-3zM30 66h3v3h-3zM39 66h3v3h-3zM54 66h3v3h-3zM114 66h3v3h-3zM0 69h3v3h-3zM18 69h3v3h-3zM72 69h3v3h-3zM21 72h3v3h-3zM75 72h3v3h-3zM87 72h3v3h-3zM105 72h3v3h-3zM9 75h3v3h-3zM81 75h3v3h-3zM93 75h3v3h-3zM54 78h3v3h-3zM81 78h3v3h-3zM93 81h3v3h-3zM114 81h3v3h-3zM45 84h3v3h-3zM93 84h3v3h-3zM111 84h3v3h-3zM42 87h3v3h-3zM81 87h3v3h-3zM33 90h3v3h-3zM72 90h6v3h-6zM99 90h3v3h-3zM12 93h3v3h-3zM33 93h6v3h-6zM72 93h3v3h-3zM27 99h3v3h-3zM51 99h3v3h-3zM114 99h3v3h-3zM27 102h3v3h-3zM36 105h3v3h-3zM54 105h3v3h-3zM90 108h3v3h-3zM0 114h3v3h-3zM72 114h3v3h-3zM81 117h3v3h-3z"/><path fill="#eeee00" d="M57 3h3v3h-3zM51 6h6v3h-6zM33 9h3v3h-3zM75 9h6v3h-6zM30 12h3v3h-3zM36 12h3v3h-3zM75 12h9v3h-9zM0 21h3v3h-3zM3 24h3v3h-3zM102 24h9v3h-9zM3 27h6v3h-6zM99 27h12v3h-12zM6 30h3v3h-3zM30 30h3v3h-3zM99 30h6v3h-6zM0 36h3v3h-3zM3 39h3v3h-3zM51 39h6v3h-6zM48 42h6v3h-6zM48 45h9v3h-9zM75 45h6v3h-6zM48 48h3v3h-3zM75 48h3v3h-3zM81 48h3v3h-3zM27 51h3v3h-3zM72 51h9v3h-9zM6 57h3v3h-3zM21 57h3v3h-3zM3 60h6v3h-6zM51 60h3v3h-3zM45 63h9v3h-9zM27 66h3v3h-3zM48 66h3v3h-3zM96 69h3v3h-3zM102 69h3v3h-3zM6 75h3v3h-3zM3 78h3v3h-3zM66 78h6v3h-6zM27 93h3v3h-3zM30 96h3v3h-3zM54 99h3v3h-3zM48 102h3v3h-3zM105 105h3v3h-3zM111 105h3v3h-3zM102 108h3v3h-3zM108 108h3v3h-3zM78 114h3v3h-3zM6 117h6v3h-6z"/></pattern><pattern id="p12" patternUnits="userSpaceOnUse" width="120" height="120"><path fill="#0000dd" d="M0 0h3v3h-3zM6 0h6v3h-6zM24 0h3v3h-3zM63 0h6v3h-6zM84 0h3v3h-3zM0 3h9v3h-9zM24 3h3v3h-3zM48 3h3v3h-3zM63 3h6v3h-6zM84 3h3v3h-3zM3 6h6v3h-6zM48 6h6v3h-6zM60 6h12v3h-12zM84 6h3v3h-3zM90 6h3v3h-3zM0 9h3v3h-3zM48 9h6v3h-6zM90 9h3v3h-3zM27 12h3v3h-3zM45 12h12v3h-12zM63 12h3v3h-3zM30 15h3v3h-3zM54 15h3v3h-3zM87 15h3v3h-3zM108 15h9v3h-9zM45 18h3v3h-3zM66 18h6v3h-6zM84 18h3v3h-3zM105 18h12v3h-12zM15 21h3v3h-3zM33 21h3v3h-3zM60 21h3v3h-3zM66 21h6v3h-6zM111 21h6v3h-6zM6 24h9v3h-9zM24 24h9v3h-9zM63 24h3v3h-3zM3 27h12v3h-12zM24 27h3v3h-3zM57 27h9v3h-9zM96 27h6v3h-6zM105 27h3v3h-3zM0 30h6v3h-6zM12 30h3v3h-3zM57 30h9v3h-9zM96 30h3v3h-3zM102 30h3v3h-3zM3 33h3v3h-3zM12 33h3v3h-3zM54 33h9v3h-9zM81 33h3v3h-3zM36 36h3v3h-3zM57 36h6v3h-6zM102 36h3v3h-3zM39 39h3v3h-3zM54 39h3v3h-3zM93 39h3v3h-3zM117 39h3v3h-3zM36 42h6v3h-6zM69 42h9v3h-9zM93 42h3v3h-3zM114 42h6v3h-6zM0 45h3v3h-3zM30 45h6v3h-6zM51 45h3v3h-3zM69 45h9v3h-9zM90 45h3v3h-3zM9 48h3v3h-3zM30 48h6v3h-6zM51 48h3v3h-3zM69 48h9v3h-9zM90 48h6v3h-6zM6 51h9v3h-9zM27 51h9v3h-9zM69 51h6v3h-6zM90 51h3v3h-3zM6 54h9v3h-9zM30 54h6v3h-6zM63 54h12v3h-12zM90 54h3v3h-3zM108 54h6v3h-6zM9 57h6v3h-6zM63 57h12v3h-12zM87 57h3v3h-3zM108 57h3v3h-3zM12 60h3v3h-3zM18 60h3v3h-3zM63 60h6v3h-6zM12 63h6v3h-6zM21 63h3v3h-3zM45 63h6v3h-6zM54 63h3v3h-3zM93 63h3v3h-3zM12 66h12v3h-12zM45 66h3v3h-3zM51 66h6v3h-6zM96 66h3v3h-3zM9 69h15v3h-15zM36 69h3v3h-3zM54 69h3v3h-3zM81 69h3v3h-3zM96 69h3v3h-3zM6 72h6v3h-6zM18 72h3v3h-3zM39 72h3v3h-3zM78 72h6v3h-6zM96 72h3v3h-3zM6 75h3v3h-3zM12 75h3v3h-3zM18 75h3v3h-3zM36 75h3v3h-3zM60 78h9v3h-9zM78 78h6v3h-6zM42 81h3v3h-3zM72 81h6v3h-6zM84 81h3v3h-3zM24 84h3v3h-3zM42 84h3v3h-3zM81 84h3v3h-3zM3 87h3v3h-3zM21 87h6v3h-6zM81 87h3v3h-3zM99 87h6v3h-6zM42 90h3v3h-3zM78 90h6v3h-6zM105 90h3v3h-3zM18 93h3v3h-3zM39 93h3v3h-3zM81 93h3v3h-3zM18 96h3v3h-3zM36 96h9v3h-9zM15 99h3v3h-3zM36 99h6v3h-6zM57 99h3v3h-3zM114 99h6v3h-6zM0 102h3v3h-3zM15 102h6v3h-6zM114 102h6v3h-6zM18 105h3v3h-3zM54 105h3v3h-3zM114 105h6v3h-6zM18 108h3v3h-3zM30 108h3v3h-3zM51 108h3v3h-3zM78 108h3v3h-3zM114 108h6v3h-6zM30 111h3v3h-3zM105 111h6v3h-6zM3 114h3v3h-3zM12 114h3v3h-3zM24 114h6v3h-6zM102 114h9v3h-9zM3 117h6v3h-6zM24 117h3v3h-3zM60 117h3v3h-3zM84 117h3v3h-3zM99 117h9v3h-9z"/><path fill="#0077dd" d="M3 0h3v3h-3zM60 0h3v3h-3zM87 0h3v3h-3zM21 3h3v3h-3zM27 3h3v3h-3zM45 3h3v3h-3zM69 3h3v3h-3zM87 3h3v3h-3zM93 3h3v3h-3zM72 6h3v3h-3zM3 9h6v3h-6zM27 9h3v3h-3zM66 9h6v3h-6zM0 12h6v3h-6zM57 12h3v3h-3zM84 12h3v3h-3zM27 15h3v3h-3zM84 15h3v3h-3zM18 21h3v3h-3zM30 21h3v3h-3zM39 21h3v3h-3zM87 21h3v3h-3zM108 21h3v3h-3zM33 24h3v3h-3zM39 24h3v3h-3zM60 24h3v3h-3zM99 24h3v3h-3zM36 27h3v3h-3zM6 30h6v3h-6zM36 30h3v3h-3zM54 30h3v3h-3zM105 30h3v3h-3zM9 33h3v3h-3zM63 33h3v3h-3zM54 36h3v3h-3zM12 39h3v3h-3zM33 39h3v3h-3zM51 39h3v3h-3zM102 39h3v3h-3zM111 39h3v3h-3zM6 42h3v3h-3zM30 42h3v3h-3zM90 42h3v3h-3zM96 42h3v3h-3zM9 45h3v3h-3zM93 45h6v3h-6zM36 48h3v3h-3zM45 48h3v3h-3zM18 57h3v3h-3zM90 57h3v3h-3zM15 60h3v3h-3zM21 60h3v3h-3zM60 60h3v3h-3zM69 60h3v3h-3zM90 60h6v3h-6zM18 63h3v3h-3zM39 66h6v3h-6zM48 66h3v3h-3zM75 66h3v3h-3zM99 66h3v3h-3zM39 69h6v3h-6zM75 69h6v3h-6zM93 69h3v3h-3zM12 72h6v3h-6zM33 72h3v3h-3zM99 72h3v3h-3zM9 75h3v3h-3zM15 75h3v3h-3zM39 75h3v3h-3zM96 75h9v3h-9zM36 78h6v3h-6zM0 81h3v3h-3zM21 81h3v3h-3zM21 84h3v3h-3zM45 84h3v3h-3zM72 84h9v3h-9zM18 87h3v3h-3zM45 87h6v3h-6zM78 87h3v3h-3zM21 90h6v3h-6zM102 90h3v3h-3zM15 93h3v3h-3zM78 93h3v3h-3zM15 96h3v3h-3zM78 96h3v3h-3zM117 96h3v3h-3zM18 99h3v3h-3zM90 99h3v3h-3zM111 99h3v3h-3zM69 102h3v3h-3zM51 105h3v3h-3zM54 108h3v3h-3zM57 114h6v3h-6zM99 114h3v3h-3zM18 117h3v3h-3zM87 117h3v3h-3z"/><path fill="#0099dd" d="M27 0h3v3h-3zM45 0h3v3h-3zM69 0h3v3h-3zM81 0h3v3h-3zM90 0h3v3h-3zM42 3h3v3h-3zM0 6h3v3h-3zM21 6h3v3h-3zM60 9h3v3h-3zM6 12h6v3h-6zM24 12h3v3h-3zM108 12h6v3h-6zM60 15h3v3h-3zM105 15h3v3h-3zM39 18h6v3h-6zM60 18h3v3h-3zM87 18h3v3h-3zM63 21h3v3h-3zM66 24h3v3h-3zM87 24h6v3h-6zM96 24h3v3h-3zM102 24h3v3h-3zM27 27h9v3h-9zM93 27h3v3h-3zM84 33h3v3h-3zM9 36h6v3h-6zM51 36h3v3h-3zM105 36h3v3h-3zM36 39h3v3h-3zM42 39h3v3h-3zM84 39h3v3h-3zM90 39h3v3h-3zM42 42h3v3h-3zM36 45h3v3h-3zM0 48h3v3h-3zM6 48h3v3h-3zM39 48h3v3h-3zM3 51h3v3h-3zM15 51h3v3h-3zM75 51h3v3h-3zM93 51h3v3h-3zM36 54h3v3h-3zM33 57h3v3h-3zM84 57h3v3h-3zM111 57h3v3h-3zM87 60h3v3h-3zM105 60h9v3h-9zM39 63h3v3h-3zM90 63h3v3h-3zM105 63h3v3h-3zM72 66h3v3h-3zM102 66h3v3h-3zM108 66h3v3h-3zM51 69h3v3h-3zM99 69h3v3h-3zM108 69h3v3h-3zM36 72h3v3h-3zM75 72h3v3h-3zM57 75h3v3h-3zM78 75h6v3h-6zM105 75h3v3h-3zM9 78h3v3h-3zM15 78h3v3h-3zM75 78h3v3h-3zM84 78h3v3h-3zM114 78h3v3h-3zM3 81h3v3h-3zM18 81h3v3h-3zM78 81h3v3h-3zM111 81h3v3h-3zM3 84h3v3h-3zM18 84h3v3h-3zM51 87h3v3h-3zM72 87h3v3h-3zM18 90h3v3h-3zM27 90h3v3h-3zM45 90h3v3h-3zM75 90h3v3h-3zM117 90h3v3h-3zM21 93h3v3h-3zM36 93h3v3h-3zM102 93h3v3h-3zM45 96h3v3h-3zM81 96h3v3h-3zM114 96h3v3h-3zM42 99h3v3h-3zM81 99h3v3h-3zM3 102h3v3h-3zM48 105h3v3h-3zM48 108h3v3h-3zM27 111h3v3h-3zM48 111h3v3h-3zM54 111h3v3h-3zM60 111h3v3h-3zM81 111h3v3h-3zM6 114h6v3h-6zM48 114h3v3h-3zM81 114h3v3h-3zM51 117h3v3h-3z"/><path fill="#00cc00" d="M30 0h3v3h-3zM42 0h3v3h-3zM117 0h3v3h-3zM72 3h3v3h-3zM96 3h3v3h-3zM30 6h3v3h-3zM117 6h3v3h-3zM54 9h3v3h-3zM114 9h6v3h-6zM60 12h3v3h-3zM114 12h3v3h-3zM63 15h3v3h-3zM69 24h3v3h-3zM93 24h3v3h-3zM69 27h3v3h-3zM33 30h3v3h-3zM33 33h3v3h-3zM105 33h3v3h-3zM6 36h3v3h-3zM48 36h3v3h-3zM6 39h3v3h-3zM45 42h3v3h-3zM45 45h3v3h-3zM102 45h3v3h-3zM3 48h3v3h-3zM42 48h3v3h-3zM96 48h3v3h-3zM36 51h3v3h-3zM96 51h3v3h-3zM15 54h3v3h-3zM60 54h3v3h-3zM36 57h3v3h-3zM60 57h3v3h-3zM93 57h3v3h-3zM36 60h6v3h-6zM66 63h3v3h-3zM102 63h3v3h-3zM114 63h3v3h-3zM111 66h3v3h-3zM33 69h3v3h-3zM102 69h3v3h-3zM105 72h6v3h-6zM12 78h3v3h-3zM87 78h3v3h-3zM87 81h3v3h-3zM0 84h3v3h-3zM114 84h6v3h-6zM0 87h3v3h-3zM15 90h3v3h-3zM39 90h3v3h-3zM48 90h6v3h-6zM75 93h3v3h-3zM63 96h3v3h-3zM87 96h3v3h-3zM21 102h3v3h-3zM60 102h3v3h-3zM90 102h3v3h-3zM21 105h3v3h-3zM66 105h3v3h-3zM81 105h3v3h-3zM0 108h3v3h-3zM27 108h3v3h-3zM3 111h3v3h-3zM21 111h6v3h-6zM51 111h3v3h-3zM102 111h3v3h-3zM51 114h3v3h-3zM84 114h3v3h-3zM81 117h3v3h-3z"/><path fill="#00ff00" d="M78 0h3v3h-3zM93 0h3v3h-3zM30 3h3v3h-3zM24 9h3v3h-3zM30 9h3v3h-3zM57 15h3v3h-3zM102 18h3v3h-3zM84 21h3v3h-3zM51 30h3v3h-3zM90 30h3v3h-3zM108 33h3v3h-3zM87 36h3v3h-3zM108 36h3v3h-3zM48 45h3v3h-3zM93 54h3v3h-3zM39 57h3v3h-3zM33 60h3v3h-3zM75 63h3v3h-3zM111 63h3v3h-3zM117 63h3v3h-3zM36 66h3v3h-3zM105 66h3v3h-3zM117 81h3v3h-3zM48 84h3v3h-3zM117 87h3v3h-3zM72 90h3v3h-3zM105 93h3v3h-3zM72 96h3v3h-3zM84 96h3v3h-3zM60 99h3v3h-3zM66 99h6v3h-6zM84 102h3v3h-3zM0 105h3v3h-3zM24 105h6v3h-6zM6 108h3v3h-3zM24 108h3v3h-3zM63 108h3v3h-3zM78 111h3v3h-3zM54 114h3v3h-3zM78 114h3v3h-3zM78 117h3v3h-3z"/><path fill="#880099" d="M90 3h3v3h-3zM24 6h6v3h-6zM30 12h3v3h-3zM117 12h3v3h-3zM3 15h3v3h-3zM63 18h3v3h-3zM42 21h6v3h-6zM90 21h3v3h-3zM96 21h3v3h-3zM105 21h3v3h-3zM72 24h3v3h-3zM66 27h3v3h-3zM27 30h3v3h-3zM66 30h3v3h-3zM6 33h3v3h-3zM51 33h3v3h-3zM90 36h3v3h-3zM111 36h3v3h-3zM9 39h3v3h-3zM48 42h6v3h-6zM99 42h3v3h-3zM39 45h6v3h-6zM15 57h3v3h-3zM57 57h3v3h-3zM42 60h3v3h-3zM114 60h3v3h-3zM42 63h3v3h-3zM96 63h3v3h-3zM108 63h3v3h-3zM33 66h3v3h-3zM114 66h3v3h-3zM84 72h3v3h-3zM102 72h3v3h-3zM33 75h3v3h-3zM60 75h6v3h-6zM87 75h3v3h-3zM18 78h3v3h-3zM39 81h3v3h-3zM57 81h3v3h-3zM114 81h3v3h-3zM42 87h3v3h-3zM75 87h3v3h-3zM99 90h3v3h-3zM42 93h3v3h-3zM72 93h3v3h-3zM99 93h3v3h-3zM114 93h3v3h-3zM21 96h3v3h-3zM57 105h3v3h-3zM57 108h3v3h-3zM0 111h3v3h-3zM57 111h3v3h-3zM99 111h3v3h-3zM30 114h3v3h-3zM57 117h3v3h-3z"/><path fill="#ff0000" d="M117 3h3v3h-3zM93 6h3v3h-3zM114 6h3v3h-3zM72 27h3v3h-3zM90 27h3v3h-3zM87 30h3v3h-3zM87 33h3v3h-3zM45 39h3v3h-3zM108 39h3v3h-3zM99 45h3v3h-3zM39 51h3v3h-3zM114 57h6v3h-6zM117 60h3v3h-3zM36 63h3v3h-3zM72 69h3v3h-3zM105 69h3v3h-3zM54 75h3v3h-3zM93 75h3v3h-3zM96 78h3v3h-3zM90 81h3v3h-3zM51 84h3v3h-3zM66 96h3v3h-3zM108 96h3v3h-3zM21 99h3v3h-3zM63 99h3v3h-3zM24 102h3v3h-3zM60 105h6v3h-6zM3 108h3v3h-3zM21 108h3v3h-3zM60 108h3v3h-3zM81 108h6v3h-6z"/><path fill="#eeee00" d="M30 30h3v3h-3zM27 33h6v3h-6zM30 36h6v3h-6zM48 39h3v3h-3zM99 48h3v3h-3zM99 51h3v3h-3zM39 54h3v3h-3zM54 78h3v3h-3zM90 78h3v3h-3zM15 81h3v3h-3zM54 81h3v3h-3zM93 84h3v3h-3zM114 87h3v3h-3zM105 96h3v3h-3zM111 96h3v3h-3zM84 99h6v3h-6zM63 102h6v3h-6zM87 102h3v3h-3zM3 105h3v3h-3zM87 105h3v3h-3zM84 111h3v3h-3zM36 117h6v3h-6z"/></pattern><pattern id="p13" patternUnits="userSpaceOnUse" width="120" height="120"><path fill="#00cc00" d="M0 0h9v3h-9zM21 0h3v3h-3zM51 0h3v3h-3zM93 0h3v3h-3zM108 0h6v3h-6zM117 0h3v3h-3zM24 3h6v3h-6zM63 3h3v3h-3zM81 3h3v3h-3zM90 3h3v3h-3zM0 6h3v3h-3zM18 6h3v3h-3zM24 6h3v3h-3zM42 6h3v3h-3zM54 6h3v3h-3zM60 6h3v3h-3zM69 6h3v3h-3zM84 6h3v3h-3zM33 9h6v3h-6zM51 9h3v3h-3zM66 9h3v3h-3zM78 9h3v3h-3zM84 9h3v3h-3zM90 9h3v3h-3zM99 9h3v3h-3zM15 12h6v3h-6zM33 12h3v3h-3zM51 12h9v3h-9zM9 15h3v3h-3zM18 15h3v3h-3zM96 15h3v3h-3zM27 18h3v3h-3zM48 18h3v3h-3zM75 18h3v3h-3zM87 18h6v3h-6zM117 18h3v3h-3zM21 21h3v3h-3zM42 21h3v3h-3zM99 21h6v3h-6zM117 21h3v3h-3zM42 24h3v3h-3zM48 24h6v3h-6zM75 24h6v3h-6zM84 24h3v3h-3zM96 24h9v3h-9zM18 27h3v3h-3zM30 27h3v3h-3zM54 27h6v3h-6zM63 27h3v3h-3zM72 27h3v3h-3zM84 27h3v3h-3zM114 27h6v3h-6zM102 30h3v3h-3zM111 30h3v3h-3zM51 33h3v3h-3zM66 33h3v3h-3zM72 33h3v3h-3zM51 36h3v3h-3zM66 36h3v3h-3zM87 36h6v3h-6zM96 36h6v3h-6zM105 36h6v3h-6zM6 39h3v3h-3zM27 39h6v3h-6zM54 39h9v3h-9zM66 39h3v3h-3zM90 39h3v3h-3zM96 39h3v3h-3zM108 39h3v3h-3zM6 42h3v3h-3zM54 42h3v3h-3zM78 42h3v3h-3zM108 42h3v3h-3zM12 45h3v3h-3zM36 45h3v3h-3zM51 45h3v3h-3zM57 45h6v3h-6zM69 45h3v3h-3zM75 45h6v3h-6zM108 45h6v3h-6zM30 48h3v3h-3zM45 48h3v3h-3zM57 48h3v3h-3zM105 48h3v3h-3zM3 51h3v3h-3zM9 51h3v3h-3zM57 51h6v3h-6zM66 51h3v3h-3zM78 51h6v3h-6zM87 51h9v3h-9zM15 54h3v3h-3zM69 54h3v3h-3zM75 54h3v3h-3zM84 54h6v3h-6zM3 57h3v3h-3zM12 57h3v3h-3zM63 57h3v3h-3zM75 57h3v3h-3zM87 57h3v3h-3zM42 60h3v3h-3zM63 60h3v3h-3zM87 60h3v3h-3zM93 60h3v3h-3zM102 60h3v3h-3zM108 60h3v3h-3zM15 63h3v3h-3zM21 63h3v3h-3zM102 63h3v3h-3zM117 63h3v3h-3zM60 66h3v3h-3zM90 66h3v3h-3zM99 66h3v3h-3zM105 66h3v3h-3zM36 69h3v3h-3zM84 69h3v3h-3zM6 72h3v3h-3zM24 72h6v3h-6zM60 72h3v3h-3zM21 75h3v3h-3zM21 78h3v3h-3zM87 78h3v3h-3zM114 78h6v3h-6zM21 81h3v3h-3zM54 81h6v3h-6zM69 81h3v3h-3zM60 84h3v3h-3zM111 84h3v3h-3zM117 84h3v3h-3zM42 87h3v3h-3zM90 87h3v3h-3zM102 87h6v3h-6zM102 90h3v3h-3zM15 93h3v3h-3zM69 93h9v3h-9zM96 93h3v3h-3zM39 96h3v3h-3zM72 96h3v3h-3zM78 96h3v3h-3zM87 96h6v3h-6zM111 96h3v3h-3zM27 99h3v3h-3zM45 99h6v3h-6zM63 99h6v3h-6zM72 99h3v3h-3zM78 99h3v3h-3zM108 99h6v3h-6zM57 102h3v3h-3zM69 102h3v3h-3zM78 102h3v3h-3zM114 102h3v3h-3zM3 105h3v3h-3zM21 105h3v3h-3zM69 105h3v3h-3zM75 105h3v3h-3zM108 105h3v3h-3zM114 105h3v3h-3zM36 108h6v3h-6zM66 108h3v3h-3zM114 108h3v3h-3zM9 111h3v3h-3zM21 111h6v3h-6zM36 111h3v3h-3zM57 111h3v3h-3zM72 111h3v3h-3zM90 111h3v3h-3zM18 114h3v3h-3zM30 114h6v3h-6zM60 114h3v3h-3zM66 114h3v3h-3zM99 114h3v3h-3zM18 117h3v3h-3zM33 117h3v3h-3zM51 117h3v3h-3zM69 117h3v3h-3zM114 117h3v3h-3z"/><path fill="#00aa99" d="M9 0h3v3h-3zM27 0h6v3h-6zM45 0h3v3h-3zM60 0h3v3h-3zM66 0h3v3h-3zM72 0h3v3h-3zM81 0h3v3h-3zM90 0h3v3h-3zM114 0h3v3h-3zM21 3h3v3h-3zM45 3h3v3h-3zM69 3h3v3h-3zM117 3h3v3h-3zM12 6h6v3h-6zM72 6h3v3h-3zM78 6h6v3h-6zM90 6h3v3h-3zM114 6h3v3h-3zM15 9h3v3h-3zM42 9h3v3h-3zM57 9h3v3h-3zM72 9h3v3h-3zM111 9h3v3h-3zM12 12h3v3h-3zM21 12h3v3h-3zM36 12h3v3h-3zM45 12h3v3h-3zM60 12h3v3h-3zM72 12h3v3h-3zM78 12h3v3h-3zM99 12h3v3h-3zM105 12h3v3h-3zM30 15h3v3h-3zM36 15h9v3h-9zM54 15h3v3h-3zM63 15h3v3h-3zM69 15h6v3h-6zM78 15h9v3h-9zM6 18h6v3h-6zM21 18h6v3h-6zM30 18h3v3h-3zM36 18h12v3h-12zM66 18h3v3h-3zM78 18h3v3h-3zM102 18h3v3h-3zM27 21h3v3h-3zM36 21h6v3h-6zM51 21h6v3h-6zM66 21h3v3h-3zM72 21h9v3h-9zM3 24h3v3h-3zM21 24h6v3h-6zM30 24h3v3h-3zM36 24h3v3h-3zM57 24h18v3h-18zM81 24h3v3h-3zM87 24h3v3h-3zM0 27h3v3h-3zM24 27h3v3h-3zM39 27h3v3h-3zM51 27h3v3h-3zM60 27h3v3h-3zM75 27h3v3h-3zM15 30h3v3h-3zM27 30h6v3h-6zM36 30h3v3h-3zM42 30h3v3h-3zM48 30h3v3h-3zM57 30h6v3h-6zM69 30h6v3h-6zM108 30h3v3h-3zM114 30h3v3h-3zM9 33h6v3h-6zM21 33h3v3h-3zM27 33h3v3h-3zM45 33h3v3h-3zM75 33h3v3h-3zM96 33h3v3h-3zM108 33h3v3h-3zM6 36h6v3h-6zM21 36h3v3h-3zM45 36h3v3h-3zM54 36h3v3h-3zM69 36h9v3h-9zM93 36h3v3h-3zM111 36h3v3h-3zM3 39h3v3h-3zM72 39h6v3h-6zM111 39h3v3h-3zM117 39h3v3h-3zM0 42h3v3h-3zM9 42h3v3h-3zM18 42h3v3h-3zM39 42h3v3h-3zM51 42h3v3h-3zM75 42h3v3h-3zM27 45h3v3h-3zM33 45h3v3h-3zM63 45h3v3h-3zM3 48h9v3h-9zM18 48h9v3h-9zM36 48h3v3h-3zM48 48h3v3h-3zM54 48h3v3h-3zM93 48h3v3h-3zM99 48h6v3h-6zM108 48h3v3h-3zM114 48h3v3h-3zM0 51h3v3h-3zM6 51h3v3h-3zM45 51h3v3h-3zM54 51h3v3h-3zM99 51h9v3h-9zM114 51h3v3h-3zM3 54h3v3h-3zM12 54h3v3h-3zM30 54h3v3h-3zM72 54h3v3h-3zM105 54h3v3h-3zM6 57h3v3h-3zM15 57h6v3h-6zM66 57h3v3h-3zM84 57h3v3h-3zM93 57h3v3h-3zM0 60h3v3h-3zM18 60h3v3h-3zM39 60h3v3h-3zM45 60h3v3h-3zM69 60h3v3h-3zM90 60h3v3h-3zM0 63h3v3h-3zM33 63h3v3h-3zM63 63h6v3h-6zM105 63h6v3h-6zM114 63h3v3h-3zM9 66h6v3h-6zM33 66h6v3h-6zM63 66h3v3h-3zM87 66h3v3h-3zM93 66h3v3h-3zM108 66h3v3h-3zM9 69h3v3h-3zM27 69h3v3h-3zM90 69h3v3h-3zM102 69h3v3h-3zM12 72h3v3h-3zM78 72h3v3h-3zM114 72h3v3h-3zM0 75h3v3h-3zM6 75h3v3h-3zM75 75h3v3h-3zM108 75h12v3h-12zM0 78h9v3h-9zM90 78h6v3h-6zM111 78h3v3h-3zM66 81h3v3h-3zM90 81h3v3h-3zM117 81h3v3h-3zM39 84h3v3h-3zM66 84h3v3h-3zM54 87h9v3h-9zM87 87h3v3h-3zM99 87h3v3h-3zM33 90h9v3h-9zM45 90h3v3h-3zM51 90h3v3h-3zM87 90h6v3h-6zM96 90h3v3h-3zM36 93h3v3h-3zM48 93h3v3h-3zM63 93h3v3h-3zM93 93h3v3h-3zM114 93h3v3h-3zM15 96h9v3h-9zM48 96h3v3h-3zM60 96h3v3h-3zM75 96h3v3h-3zM81 96h6v3h-6zM12 99h3v3h-3zM21 99h3v3h-3zM39 99h6v3h-6zM75 99h3v3h-3zM81 99h3v3h-3zM90 99h3v3h-3zM18 102h3v3h-3zM30 102h3v3h-3zM48 102h3v3h-3zM60 102h3v3h-3zM108 102h6v3h-6zM0 105h3v3h-3zM36 105h9v3h-9zM48 105h3v3h-3zM102 105h6v3h-6zM111 105h3v3h-3zM117 105h3v3h-3zM6 108h3v3h-3zM12 108h3v3h-3zM18 108h9v3h-9zM30 108h6v3h-6zM42 108h3v3h-3zM51 108h3v3h-3zM96 108h3v3h-3zM111 108h3v3h-3zM0 111h3v3h-3zM27 111h6v3h-6zM42 111h3v3h-3zM66 111h6v3h-6zM102 111h3v3h-3zM108 111h3v3h-3zM3 114h6v3h-6zM12 114h3v3h-3zM21 114h3v3h-3zM51 114h3v3h-3zM69 114h3v3h-3zM87 114h3v3h-3zM96 114h3v3h-3zM105 114h3v3h-3zM111 114h3v3h-3zM117 114h3v3h-3zM0 117h3v3h-3zM6 117h6v3h-6zM27 117h6v3h-6zM45 117h3v3h-3zM81 117h3v3h-3zM96 117h3v3h-3zM108 117h3v3h-3z"/><path fill="#eeee00" d="M12 0h6v3h-6zM54 0h3v3h-3zM78 0h3v3h-3zM99 0h6v3h-6zM0 3h3v3h-3zM6 3h9v3h-9zM54 3h3v3h-3zM60 3h3v3h-3zM93 3h6v3h-6zM9 6h3v3h-3zM30 6h3v3h-3zM6 9h3v3h-3zM45 15h6v3h-6zM87 15h6v3h-6zM108 15h3v3h-3zM18 18h3v3h-3zM69 18h3v3h-3zM105 18h3v3h-3zM12 21h3v3h-3zM18 21h3v3h-3zM111 21h3v3h-3zM12 24h6v3h-6zM108 24h6v3h-6zM3 27h3v3h-3zM9 27h3v3h-3zM87 27h3v3h-3zM108 27h3v3h-3zM81 30h3v3h-3zM96 30h6v3h-6zM6 33h3v3h-3zM63 33h3v3h-3zM87 33h3v3h-3zM105 39h3v3h-3zM81 42h3v3h-3zM87 42h3v3h-3zM105 42h3v3h-3zM24 45h3v3h-3zM39 45h6v3h-6zM72 45h3v3h-3zM63 48h3v3h-3zM72 48h3v3h-3zM87 48h3v3h-3zM12 51h3v3h-3zM36 51h3v3h-3zM81 54h3v3h-3zM96 57h9v3h-9zM36 60h3v3h-3zM60 60h3v3h-3zM81 60h3v3h-3zM48 63h12v3h-12zM84 63h3v3h-3zM93 63h6v3h-6zM84 66h3v3h-3zM39 69h3v3h-3zM45 69h3v3h-3zM54 69h3v3h-3zM63 69h6v3h-6zM78 69h3v3h-3zM36 72h6v3h-6zM51 75h3v3h-3zM72 75h3v3h-3zM15 78h3v3h-3zM24 78h3v3h-3zM54 78h3v3h-3zM69 78h3v3h-3zM9 81h9v3h-9zM18 84h3v3h-3zM24 84h3v3h-3zM0 90h3v3h-3zM12 90h3v3h-3zM108 90h3v3h-3zM105 99h3v3h-3zM6 102h3v3h-3zM63 102h6v3h-6zM24 105h3v3h-3zM63 105h3v3h-3zM84 105h3v3h-3zM96 105h3v3h-3zM60 108h3v3h-3zM90 108h6v3h-6zM63 111h3v3h-3zM42 114h3v3h-3zM54 114h3v3h-3zM108 114h3v3h-3zM114 114h3v3h-3zM36 117h3v3h-3zM42 117h3v3h-3zM99 117h6v3h-6zM111 117h3v3h-3z"/><path fill="#00ff00" d="M18 0h3v3h-3zM96 0h3v3h-3zM18 3h3v3h-3zM42 3h3v3h-3zM51 3h3v3h-3zM57 3h3v3h-3zM72 3h9v3h-9zM102 3h3v3h-3zM57 6h3v3h-3zM99 6h3v3h-3zM3 9h3v3h-3zM9 9h3v3h-3zM21 9h3v3h-3zM30 9h3v3h-3zM96 9h3v3h-3zM114 9h6v3h-6zM66 12h6v3h-6zM75 12h3v3h-3zM84 12h3v3h-3zM93 12h3v3h-3zM66 15h3v3h-3zM75 15h3v3h-3zM15 18h3v3h-3zM93 18h6v3h-6zM48 21h3v3h-3zM84 21h3v3h-3zM96 21h3v3h-3zM6 24h3v3h-3zM18 24h3v3h-3zM27 24h3v3h-3zM33 24h3v3h-3zM93 24h3v3h-3zM105 24h3v3h-3zM114 24h3v3h-3zM69 27h3v3h-3zM93 27h12v3h-12zM24 30h3v3h-3zM33 30h3v3h-3zM63 30h3v3h-3zM75 30h6v3h-6zM24 33h3v3h-3zM30 33h3v3h-3zM78 33h6v3h-6zM102 33h3v3h-3zM111 33h3v3h-3zM48 36h3v3h-3zM51 39h3v3h-3zM63 39h3v3h-3zM69 39h3v3h-3zM78 39h3v3h-3zM99 39h3v3h-3zM114 39h3v3h-3zM3 42h3v3h-3zM72 42h3v3h-3zM9 45h3v3h-3zM48 45h3v3h-3zM93 45h3v3h-3zM0 48h3v3h-3zM33 48h3v3h-3zM42 48h3v3h-3zM60 48h3v3h-3zM15 51h3v3h-3zM75 51h3v3h-3zM0 54h3v3h-3zM18 54h3v3h-3zM42 54h3v3h-3zM108 54h3v3h-3zM78 57h6v3h-6zM84 60h3v3h-3zM117 60h3v3h-3zM42 63h3v3h-3zM60 63h3v3h-3zM90 63h3v3h-3zM42 66h3v3h-3zM102 66h3v3h-3zM12 69h3v3h-3zM93 69h3v3h-3zM21 72h3v3h-3zM57 72h3v3h-3zM12 75h3v3h-3zM18 75h3v3h-3zM27 75h3v3h-3zM57 75h3v3h-3zM90 75h3v3h-3zM9 78h3v3h-3zM60 78h6v3h-6zM108 81h9v3h-9zM54 84h6v3h-6zM90 84h3v3h-3zM105 84h3v3h-3zM48 87h3v3h-3zM108 87h3v3h-3zM24 90h3v3h-3zM30 90h3v3h-3zM114 90h3v3h-3zM42 93h3v3h-3zM81 93h6v3h-6zM117 93h3v3h-3zM12 96h3v3h-3zM27 96h3v3h-3zM45 96h3v3h-3zM66 96h3v3h-3zM93 96h3v3h-3zM60 99h3v3h-3zM84 99h3v3h-3zM42 102h3v3h-3zM6 105h3v3h-3zM78 105h3v3h-3zM3 108h3v3h-3zM45 108h6v3h-6zM63 108h3v3h-3zM12 111h3v3h-3zM33 111h3v3h-3zM45 111h3v3h-3zM51 111h3v3h-3zM84 111h3v3h-3zM9 114h3v3h-3zM81 114h6v3h-6zM15 117h3v3h-3zM54 117h3v3h-3zM60 117h6v3h-6zM72 117h3v3h-3zM78 117h3v3h-3z"/><path fill="#0099dd" d="M24 0h3v3h-3zM48 0h3v3h-3zM63 0h3v3h-3zM69 0h3v3h-3zM84 0h6v3h-6zM48 3h3v3h-3zM66 3h3v3h-3zM84 3h6v3h-6zM108 3h9v3h-9zM45 6h6v3h-6zM87 6h3v3h-3zM108 6h6v3h-6zM39 9h3v3h-3zM45 9h6v3h-6zM69 9h3v3h-3zM81 9h3v3h-3zM102 9h9v3h-9zM39 12h6v3h-6zM63 12h3v3h-3zM81 12h3v3h-3zM96 12h3v3h-3zM102 12h3v3h-3zM33 15h3v3h-3zM57 15h6v3h-6zM99 15h6v3h-6zM0 18h6v3h-6zM33 18h3v3h-3zM54 18h12v3h-12zM81 18h6v3h-6zM99 18h3v3h-3zM0 21h6v3h-6zM24 21h3v3h-3zM57 21h9v3h-9zM81 21h3v3h-3zM0 24h3v3h-3zM39 24h3v3h-3zM45 24h3v3h-3zM54 24h3v3h-3zM117 24h3v3h-3zM21 27h3v3h-3zM27 27h3v3h-3zM42 27h9v3h-9zM18 30h6v3h-6zM45 30h3v3h-3zM51 30h6v3h-6zM15 33h6v3h-6zM33 33h12v3h-12zM48 33h3v3h-3zM54 33h3v3h-3zM93 33h3v3h-3zM12 36h9v3h-9zM30 36h15v3h-15zM9 39h12v3h-12zM33 39h9v3h-9zM93 39h3v3h-3zM12 42h3v3h-3zM30 42h9v3h-9zM57 42h3v3h-3zM93 42h3v3h-3zM114 42h6v3h-6zM0 45h9v3h-9zM30 45h3v3h-3zM54 45h3v3h-3zM114 45h6v3h-6zM27 48h3v3h-3zM51 48h3v3h-3zM111 48h3v3h-3zM117 48h3v3h-3zM21 51h12v3h-12zM48 51h6v3h-6zM108 51h6v3h-6zM6 54h6v3h-6zM21 54h9v3h-9zM45 54h3v3h-3zM102 54h3v3h-3zM21 57h9v3h-9zM42 57h6v3h-6zM69 57h3v3h-3zM90 57h3v3h-3zM105 57h3v3h-3zM3 60h15v3h-15zM21 60h6v3h-6zM66 60h3v3h-3zM3 63h12v3h-12zM18 63h3v3h-3zM36 63h6v3h-6zM45 63h3v3h-3zM0 66h9v3h-9zM30 66h3v3h-3zM111 66h9v3h-9zM0 69h9v3h-9zM87 69h3v3h-3zM105 69h15v3h-15zM0 72h6v3h-6zM81 72h12v3h-12zM105 72h9v3h-9zM117 72h3v3h-3zM3 75h3v3h-3zM15 75h3v3h-3zM78 75h12v3h-12zM105 75h3v3h-3zM75 78h12v3h-12zM96 78h6v3h-6zM0 81h3v3h-3zM72 81h12v3h-12zM93 81h9v3h-9zM69 84h9v3h-9zM93 84h12v3h-12zM45 87h3v3h-3zM66 87h12v3h-12zM93 87h6v3h-6zM42 90h3v3h-3zM48 90h3v3h-3zM54 90h6v3h-6zM63 90h12v3h-12zM93 90h3v3h-3zM99 90h3v3h-3zM33 93h3v3h-3zM39 93h3v3h-3zM51 93h12v3h-12zM66 93h3v3h-3zM87 93h6v3h-6zM51 96h9v3h-9zM63 96h3v3h-3zM15 99h6v3h-6zM51 99h9v3h-9zM114 99h3v3h-3zM9 102h9v3h-9zM33 102h9v3h-9zM51 102h6v3h-6zM72 102h6v3h-6zM9 105h12v3h-12zM30 105h6v3h-6zM51 105h6v3h-6zM72 105h3v3h-3zM9 108h3v3h-3zM27 108h3v3h-3zM99 108h12v3h-12zM3 111h6v3h-6zM93 111h9v3h-9zM105 111h3v3h-3zM0 114h3v3h-3zM24 114h6v3h-6zM45 114h6v3h-6zM90 114h6v3h-6zM3 117h3v3h-3zM21 117h6v3h-6zM48 117h3v3h-3zM66 117h3v3h-3zM84 117h12v3h-12z"/><path fill="#0000dd" d="M33 0h3v3h-3zM42 0h3v3h-3zM57 0h3v3h-3zM105 0h3v3h-3zM3 3h3v3h-3zM15 3h3v3h-3zM39 3h3v3h-3zM6 6h3v3h-3zM21 6h3v3h-3zM33 6h9v3h-9zM51 6h3v3h-3zM75 6h3v3h-3zM93 6h6v3h-6zM102 6h3v3h-3zM117 6h3v3h-3zM12 9h3v3h-3zM18 9h3v3h-3zM27 9h3v3h-3zM54 9h3v3h-3zM75 9h3v3h-3zM87 9h3v3h-3zM93 9h3v3h-3zM3 12h6v3h-6zM27 12h6v3h-6zM87 12h3v3h-3zM108 12h9v3h-9zM0 15h9v3h-9zM12 15h6v3h-6zM21 15h6v3h-6zM93 15h3v3h-3zM105 15h3v3h-3zM117 15h3v3h-3zM72 18h3v3h-3zM6 21h3v3h-3zM15 21h3v3h-3zM30 21h6v3h-6zM45 21h3v3h-3zM69 21h3v3h-3zM87 21h9v3h-9zM12 27h6v3h-6zM33 27h6v3h-6zM66 27h3v3h-3zM78 27h6v3h-6zM111 27h3v3h-3zM6 30h9v3h-9zM66 30h3v3h-3zM87 30h6v3h-6zM105 30h3v3h-3zM69 33h3v3h-3zM84 33h3v3h-3zM90 33h3v3h-3zM99 33h3v3h-3zM105 33h3v3h-3zM3 36h3v3h-3zM27 36h3v3h-3zM84 36h3v3h-3zM102 36h3v3h-3zM0 39h3v3h-3zM21 39h3v3h-3zM42 39h3v3h-3zM102 39h3v3h-3zM27 42h3v3h-3zM42 42h3v3h-3zM60 42h3v3h-3zM66 42h6v3h-6zM90 42h3v3h-3zM96 42h9v3h-9zM111 42h3v3h-3zM21 45h3v3h-3zM66 45h3v3h-3zM90 45h3v3h-3zM96 45h6v3h-6zM69 48h3v3h-3zM75 48h6v3h-6zM84 48h3v3h-3zM90 48h3v3h-3zM96 48h3v3h-3zM18 51h3v3h-3zM33 51h3v3h-3zM42 51h3v3h-3zM72 51h3v3h-3zM84 51h3v3h-3zM96 51h3v3h-3zM117 51h3v3h-3zM57 54h3v3h-3zM66 54h3v3h-3zM78 54h3v3h-3zM90 54h12v3h-12zM36 57h6v3h-6zM75 60h3v3h-3zM96 60h6v3h-6zM105 60h3v3h-3zM39 66h3v3h-3zM45 66h3v3h-3zM57 66h3v3h-3zM66 66h3v3h-3zM30 69h6v3h-6zM57 69h6v3h-6zM81 69h3v3h-3zM9 72h3v3h-3zM30 72h6v3h-6zM54 72h3v3h-3zM63 72h3v3h-3zM75 72h3v3h-3zM9 75h3v3h-3zM24 75h3v3h-3zM63 75h3v3h-3zM12 78h3v3h-3zM18 78h3v3h-3zM57 78h3v3h-3zM72 78h3v3h-3zM45 84h9v3h-9zM108 84h3v3h-3zM27 87h6v3h-6zM36 87h6v3h-6zM51 87h3v3h-3zM114 87h6v3h-6zM3 90h3v3h-3zM15 90h3v3h-3zM111 90h3v3h-3zM117 90h3v3h-3zM18 93h3v3h-3zM24 93h6v3h-6zM45 93h3v3h-3zM99 93h3v3h-3zM111 93h3v3h-3zM24 96h3v3h-3zM42 96h3v3h-3zM69 96h3v3h-3zM114 96h6v3h-6zM6 99h6v3h-6zM24 99h3v3h-3zM69 99h3v3h-3zM87 99h3v3h-3zM117 99h3v3h-3zM0 102h6v3h-6zM21 102h9v3h-9zM45 102h3v3h-3zM81 102h9v3h-9zM102 102h6v3h-6zM117 102h3v3h-3zM27 105h3v3h-3zM45 105h3v3h-3zM57 105h3v3h-3zM66 105h3v3h-3zM81 105h3v3h-3zM93 105h3v3h-3zM54 108h6v3h-6zM69 108h6v3h-6zM78 108h6v3h-6zM18 111h3v3h-3zM39 111h3v3h-3zM48 111h3v3h-3zM60 111h3v3h-3zM81 111h3v3h-3zM111 111h3v3h-3zM36 114h3v3h-3zM57 114h3v3h-3zM63 114h3v3h-3zM72 114h3v3h-3zM102 114h3v3h-3zM57 117h3v3h-3zM75 117h3v3h-3zM105 117h3v3h-3zM117 117h3v3h-3z"/><path fill="#ff0000" d="M36 0h6v3h-6zM75 0h3v3h-3zM30 3h9v3h-9zM99 3h3v3h-3zM3 6h3v3h-3zM27 6h3v3h-3zM24 9h3v3h-3zM0 12h3v3h-3zM24 12h3v3h-3zM48 12h3v3h-3zM90 12h3v3h-3zM27 15h3v3h-3zM51 15h3v3h-3zM111 15h3v3h-3zM12 18h3v3h-3zM51 18h3v3h-3zM108 18h3v3h-3zM9 21h3v3h-3zM105 21h3v3h-3zM114 21h3v3h-3zM90 24h3v3h-3zM6 27h3v3h-3zM90 27h3v3h-3zM105 27h3v3h-3zM3 30h3v3h-3zM84 30h3v3h-3zM93 30h3v3h-3zM3 33h3v3h-3zM24 36h3v3h-3zM78 36h3v3h-3zM24 39h3v3h-3zM45 39h6v3h-6zM81 39h3v3h-3zM87 39h3v3h-3zM24 42h3v3h-3zM45 42h3v3h-3zM63 42h3v3h-3zM84 42h3v3h-3zM18 45h3v3h-3zM87 45h3v3h-3zM102 45h6v3h-6zM39 48h3v3h-3zM66 48h3v3h-3zM39 51h3v3h-3zM63 51h3v3h-3zM69 51h3v3h-3zM36 54h6v3h-6zM60 54h6v3h-6zM0 57h3v3h-3zM78 60h3v3h-3zM81 63h3v3h-3zM99 63h3v3h-3zM48 66h3v3h-3zM54 66h3v3h-3zM81 66h3v3h-3zM96 66h3v3h-3zM42 69h3v3h-3zM51 69h3v3h-3zM42 72h6v3h-6zM51 72h3v3h-3zM69 72h3v3h-3zM30 75h3v3h-3zM54 75h3v3h-3zM60 75h3v3h-3zM66 75h3v3h-3zM36 78h3v3h-3zM51 78h3v3h-3zM66 78h3v3h-3zM18 81h3v3h-3zM9 84h3v3h-3zM36 84h3v3h-3zM114 84h3v3h-3zM12 87h3v3h-3zM18 90h3v3h-3zM27 90h3v3h-3zM0 93h3v3h-3zM9 93h6v3h-6zM21 93h3v3h-3zM0 96h3v3h-3zM9 96h3v3h-3zM3 99h3v3h-3zM60 105h3v3h-3zM87 105h3v3h-3zM87 111h3v3h-3zM15 114h3v3h-3zM39 114h3v3h-3zM75 114h6v3h-6zM12 117h3v3h-3zM39 117h3v3h-3z"/><path fill="#880099" d="M0 9h3v3h-3zM117 12h3v3h-3zM114 15h3v3h-3zM111 18h6v3h-6zM108 21h3v3h-3zM9 24h3v3h-3zM81 36h3v3h-3zM84 39h3v3h-3zM48 42h3v3h-3zM45 45h3v3h-3zM57 57h6v3h-6zM54 60h6v3h-6zM75 63h6v3h-6zM51 66h3v3h-3zM72 66h9v3h-9zM48 69h3v3h-3zM72 69h6v3h-6zM48 72h3v3h-3zM66 72h3v3h-3zM72 72h3v3h-3zM33 75h6v3h-6zM69 75h3v3h-3zM27 78h9v3h-9zM24 81h15v3h-15zM51 81h3v3h-3zM12 84h6v3h-6zM21 84h3v3h-3zM27 84h9v3h-9zM9 87h3v3h-3zM15 87h6v3h-6zM33 87h3v3h-3zM111 87h3v3h-3zM6 90h6v3h-6zM105 90h3v3h-3zM3 93h6v3h-6zM102 93h9v3h-9zM3 96h6v3h-6zM102 96h9v3h-9zM0 99h3v3h-3zM90 102h3v3h-3zM90 105h3v3h-3zM84 108h6v3h-6z"/></pattern><pattern id="p14" patternUnits="userSpaceOnUse" width="120" height="120"><path fill="#00ff00" d="M0 0h3v3h-3zM75 0h3v3h-3zM117 3h3v3h-3zM45 9h3v3h-3zM108 9h3v3h-3zM0 12h3v3h-3zM54 12h3v3h-3zM60 15h3v3h-3zM75 15h3v3h-3zM36 18h3v3h-3zM84 18h3v3h-3zM99 18h3v3h-3zM0 21h3v3h-3zM39 21h3v3h-3zM54 21h3v3h-3zM66 21h3v3h-3zM15 24h3v3h-3zM21 24h3v3h-3zM69 24h3v3h-3zM93 24h6v3h-6zM12 27h3v3h-3zM60 27h3v3h-3zM66 27h3v3h-3zM84 30h6v3h-6zM54 33h3v3h-3zM60 33h3v3h-3zM105 33h3v3h-3zM114 33h3v3h-3zM24 36h3v3h-3zM63 36h3v3h-3zM102 39h3v3h-3zM0 42h3v3h-3zM6 42h3v3h-3zM90 42h3v3h-3zM117 42h3v3h-3zM72 45h3v3h-3zM27 51h3v3h-3zM75 51h3v3h-3zM84 51h3v3h-3zM99 51h3v3h-3zM27 54h3v3h-3zM6 57h3v3h-3zM12 57h3v3h-3zM84 57h3v3h-3zM102 60h3v3h-3zM9 63h3v3h-3zM90 63h6v3h-6zM114 63h3v3h-3zM66 66h3v3h-3zM84 66h3v3h-3zM93 66h3v3h-3zM114 66h3v3h-3zM15 69h3v3h-3zM69 69h3v3h-3zM15 72h3v3h-3zM12 87h3v3h-3zM18 90h3v3h-3zM60 90h3v3h-3zM12 93h3v3h-3zM114 93h3v3h-3zM0 108h3v3h-3zM33 114h6v3h-6zM57 114h3v3h-3zM75 114h3v3h-3zM102 117h3v3h-3z"/><path fill="#0000dd" d="M3 0h3v3h-3zM90 0h3v3h-3zM105 0h6v3h-6zM42 3h3v3h-3zM111 3h3v3h-3zM42 6h3v3h-3zM111 6h6v3h-6zM15 9h3v3h-3zM42 9h3v3h-3zM15 12h3v3h-3zM48 12h3v3h-3zM69 12h9v3h-9zM3 15h3v3h-3zM51 15h6v3h-6zM0 18h3v3h-3zM12 18h3v3h-3zM3 21h6v3h-6zM0 24h6v3h-6zM24 24h3v3h-3zM39 24h3v3h-3zM63 24h3v3h-3zM90 24h3v3h-3zM117 24h3v3h-3zM84 27h6v3h-6zM27 30h3v3h-3zM57 30h6v3h-6zM114 30h6v3h-6zM24 33h3v3h-3zM99 33h3v3h-3zM9 36h3v3h-3zM96 36h12v3h-12zM0 39h3v3h-3zM6 39h6v3h-6zM57 39h3v3h-3zM78 39h9v3h-9zM3 42h3v3h-3zM27 42h3v3h-3zM63 45h3v3h-3zM84 45h3v3h-3zM0 48h3v3h-3zM66 48h3v3h-3zM84 48h3v3h-3zM0 51h3v3h-3zM72 51h3v3h-3zM78 51h3v3h-3zM96 51h3v3h-3zM114 51h3v3h-3zM0 54h3v3h-3zM75 54h3v3h-3zM81 54h6v3h-6zM96 54h12v3h-12zM0 57h3v3h-3zM9 57h3v3h-3zM51 57h3v3h-3zM6 60h3v3h-3zM81 60h6v3h-6zM84 63h3v3h-3zM108 66h6v3h-6zM39 69h3v3h-3zM63 69h6v3h-6zM117 69h3v3h-3zM66 72h3v3h-3zM84 72h3v3h-3zM93 72h3v3h-3zM6 75h3v3h-3zM51 75h3v3h-3zM96 75h6v3h-6zM78 78h3v3h-3zM99 78h3v3h-3zM3 81h3v3h-3zM78 81h3v3h-3zM0 84h3v3h-3zM33 87h3v3h-3zM63 87h3v3h-3zM9 90h3v3h-3zM63 90h3v3h-3zM108 90h3v3h-3zM9 93h3v3h-3zM108 93h3v3h-3zM3 96h3v3h-3zM0 99h3v3h-3zM18 99h3v3h-3zM3 102h3v3h-3zM18 102h3v3h-3zM24 102h3v3h-3zM0 105h3v3h-3zM18 105h3v3h-3zM9 111h6v3h-6zM111 111h9v3h-9zM30 114h3v3h-3zM78 114h6v3h-6zM102 114h3v3h-3zM3 117h3v3h-3zM33 117h3v3h-3zM105 117h6v3h-6z"/><path fill="#880099" d="M6 0h3v3h-3zM81 0h6v3h-6zM81 3h3v3h-3zM12 12h3v3h-3zM96 12h6v3h-6zM6 15h6v3h-6zM96 15h6v3h-6zM3 18h9v3h-9zM90 21h3v3h-3zM21 27h3v3h-3zM108 27h3v3h-3zM114 27h3v3h-3zM18 30h6v3h-6zM111 30h3v3h-3zM18 33h3v3h-3zM12 36h3v3h-3zM114 42h3v3h-3zM108 45h3v3h-3zM111 48h9v3h-9zM24 51h3v3h-3zM111 51h3v3h-3zM75 57h3v3h-3zM0 60h3v3h-3zM75 60h3v3h-3zM87 72h3v3h-3zM6 81h3v3h-3zM24 99h3v3h-3zM0 102h3v3h-3zM114 102h3v3h-3zM114 105h6v3h-6zM111 108h6v3h-6zM108 111h3v3h-3zM9 114h3v3h-3zM108 114h3v3h-3zM9 117h3v3h-3zM81 117h6v3h-6z"/><path fill="#ff0000" d="M9 0h3v3h-3zM78 0h3v3h-3zM87 0h3v3h-3zM111 0h3v3h-3zM0 3h3v3h-3zM108 3h3v3h-3zM114 3h3v3h-3zM72 6h3v3h-3zM72 9h3v3h-3zM93 12h3v3h-3zM102 12h3v3h-3zM12 15h3v3h-3zM9 21h3v3h-3zM84 21h6v3h-6zM93 21h3v3h-3zM117 21h3v3h-3zM66 24h3v3h-3zM111 24h3v3h-3zM15 27h6v3h-6zM24 27h3v3h-3zM63 27h3v3h-3zM111 27h3v3h-3zM117 27h3v3h-3zM24 30h3v3h-3zM63 30h6v3h-6zM108 30h3v3h-3zM15 33h3v3h-3zM21 33h3v3h-3zM108 36h3v3h-3zM12 39h3v3h-3zM33 39h3v3h-3zM111 39h3v3h-3zM111 42h3v3h-3zM111 45h9v3h-9zM24 48h3v3h-3zM108 48h3v3h-3zM21 51h3v3h-3zM78 57h3v3h-3zM3 60h3v3h-3zM39 66h3v3h-3zM72 66h3v3h-3zM117 66h3v3h-3zM93 69h3v3h-3zM6 78h3v3h-3zM75 84h3v3h-3zM60 93h3v3h-3zM0 96h3v3h-3zM117 102h3v3h-3zM21 105h3v3h-3zM69 105h3v3h-3zM117 108h3v3h-3zM6 114h3v3h-3zM111 114h3v3h-3zM12 117h3v3h-3zM78 117h3v3h-3z"/><path fill="#00cc00" d="M15 0h3v3h-3zM15 3h3v3h-3zM72 3h3v3h-3zM90 3h3v3h-3zM15 6h3v3h-3zM96 6h3v3h-3zM108 6h3v3h-3zM0 9h3v3h-3zM12 9h3v3h-3zM39 9h3v3h-3zM69 9h3v3h-3zM93 9h3v3h-3zM114 9h3v3h-3zM63 12h3v3h-3zM90 12h3v3h-3zM15 15h3v3h-3zM30 15h3v3h-3zM102 15h3v3h-3zM15 18h3v3h-3zM48 18h3v3h-3zM54 18h6v3h-6zM102 18h3v3h-3zM12 21h3v3h-3zM21 21h6v3h-6zM51 21h3v3h-3zM60 21h3v3h-3zM69 21h3v3h-3zM81 21h3v3h-3zM18 24h3v3h-3zM27 24h3v3h-3zM36 24h3v3h-3zM42 24h6v3h-6zM0 27h3v3h-3zM39 27h3v3h-3zM90 27h3v3h-3zM0 30h3v3h-3zM69 30h3v3h-3zM9 33h3v3h-3zM27 33h3v3h-3zM57 33h3v3h-3zM6 36h3v3h-3zM27 36h3v3h-3zM36 36h3v3h-3zM54 36h3v3h-3zM60 36h3v3h-3zM78 36h3v3h-3zM3 39h3v3h-3zM18 39h3v3h-3zM99 39h3v3h-3zM117 39h3v3h-3zM9 42h6v3h-6zM66 42h9v3h-9zM84 42h6v3h-6zM102 42h3v3h-3zM24 45h3v3h-3zM15 51h3v3h-3zM45 51h3v3h-3zM66 51h6v3h-6zM81 51h3v3h-3zM87 51h3v3h-3zM51 54h3v3h-3zM3 57h3v3h-3zM81 57h3v3h-3zM105 57h3v3h-3zM99 60h3v3h-3zM15 63h3v3h-3zM81 63h3v3h-3zM87 63h3v3h-3zM108 63h3v3h-3zM42 66h3v3h-3zM63 66h3v3h-3zM60 69h3v3h-3zM108 69h6v3h-6zM18 72h3v3h-3zM114 72h3v3h-3zM102 75h3v3h-3zM54 78h3v3h-3zM102 78h3v3h-3zM0 81h3v3h-3zM30 81h6v3h-6zM54 81h3v3h-3zM72 81h6v3h-6zM81 81h3v3h-3zM111 90h3v3h-3zM15 93h3v3h-3zM105 93h3v3h-3zM102 96h3v3h-3zM108 96h3v3h-3zM96 99h6v3h-6zM96 102h3v3h-3zM78 111h6v3h-6zM3 114h3v3h-3zM99 114h3v3h-3z"/><path fill="#0099dd" d="M66 0h3v3h-3zM18 3h6v3h-6zM63 3h6v3h-6zM93 3h3v3h-3zM99 3h3v3h-3zM24 6h3v3h-3zM63 6h6v3h-6zM93 6h3v3h-3zM24 9h3v3h-3zM63 9h6v3h-6zM87 9h6v3h-6zM117 9h3v3h-3zM21 12h6v3h-6zM84 12h6v3h-6zM108 12h6v3h-6zM117 12h3v3h-3zM27 15h3v3h-3zM33 15h3v3h-3zM78 15h9v3h-9zM27 18h6v3h-6zM75 18h6v3h-6zM27 21h3v3h-3zM75 21h6v3h-6zM105 21h3v3h-3zM72 24h9v3h-9zM3 27h3v3h-3zM33 27h3v3h-3zM45 27h6v3h-6zM75 27h3v3h-3zM3 30h9v3h-9zM42 30h3v3h-3zM75 30h6v3h-6zM0 33h3v3h-3zM33 33h3v3h-3zM72 33h6v3h-6zM72 36h3v3h-3zM21 39h3v3h-3zM54 39h3v3h-3zM18 42h6v3h-6zM12 45h9v3h-9zM39 45h9v3h-9zM93 45h6v3h-6zM15 48h3v3h-3zM39 48h9v3h-9zM96 48h3v3h-3zM3 51h3v3h-3zM9 51h6v3h-6zM6 54h6v3h-6zM30 54h3v3h-3zM27 57h9v3h-9zM57 57h3v3h-3zM108 57h3v3h-3zM27 60h6v3h-6zM57 60h6v3h-6zM108 60h3v3h-3zM18 63h3v3h-3zM57 63h9v3h-9zM60 66h3v3h-3zM69 72h6v3h-6zM72 75h9v3h-9zM27 78h3v3h-3zM72 78h6v3h-6zM15 87h3v3h-3zM87 87h3v3h-3zM39 90h3v3h-3zM36 93h3v3h-3zM81 93h6v3h-6zM9 96h6v3h-6zM12 105h3v3h-3zM87 105h9v3h-9zM3 108h3v3h-3zM87 108h6v3h-6zM0 111h6v3h-6zM87 111h3v3h-3zM99 117h3v3h-3z"/><path fill="#00aa99" d="M72 0h3v3h-3zM99 0h6v3h-6zM24 3h3v3h-3zM60 3h3v3h-3zM69 3h3v3h-3zM96 3h3v3h-3zM12 6h3v3h-3zM18 6h6v3h-6zM69 6h3v3h-3zM87 6h6v3h-6zM99 6h3v3h-3zM117 6h3v3h-3zM18 9h6v3h-6zM111 9h3v3h-3zM57 12h3v3h-3zM78 12h6v3h-6zM105 12h3v3h-3zM0 15h3v3h-3zM57 15h3v3h-3zM105 15h3v3h-3zM24 18h3v3h-3zM33 18h3v3h-3zM51 18h3v3h-3zM81 18h3v3h-3zM105 18h3v3h-3zM30 21h3v3h-3zM48 21h3v3h-3zM72 21h3v3h-3zM99 21h3v3h-3zM6 24h3v3h-3zM12 24h3v3h-3zM30 24h6v3h-6zM48 24h3v3h-3zM42 27h3v3h-3zM69 27h6v3h-6zM93 27h3v3h-3zM33 30h9v3h-9zM72 30h3v3h-3zM3 33h6v3h-6zM30 33h3v3h-3zM36 33h3v3h-3zM78 33h6v3h-6zM3 36h3v3h-3zM30 36h6v3h-6zM57 36h3v3h-3zM75 36h3v3h-3zM81 36h6v3h-6zM15 39h3v3h-3zM24 39h6v3h-6zM96 39h3v3h-3zM15 42h3v3h-3zM24 42h3v3h-3zM42 42h3v3h-3zM63 42h3v3h-3zM93 42h6v3h-6zM9 45h3v3h-3zM21 45h3v3h-3zM66 45h6v3h-6zM87 45h6v3h-6zM3 48h3v3h-3zM12 48h3v3h-3zM18 48h3v3h-3zM69 48h6v3h-6zM87 48h9v3h-9zM6 51h3v3h-3zM90 51h6v3h-6zM3 54h3v3h-3zM54 57h3v3h-3zM102 57h3v3h-3zM9 60h3v3h-3zM33 60h3v3h-3zM105 60h3v3h-3zM12 63h3v3h-3zM66 63h3v3h-3zM105 63h3v3h-3zM111 63h3v3h-3zM12 66h12v3h-12zM18 69h6v3h-6zM42 69h3v3h-3zM117 72h3v3h-3zM3 75h3v3h-3zM0 78h3v3h-3zM27 81h3v3h-3zM60 87h3v3h-3zM111 87h3v3h-3zM12 90h6v3h-6zM66 90h3v3h-3zM87 90h3v3h-3zM66 93h3v3h-3zM111 93h3v3h-3zM6 96h3v3h-3zM9 99h3v3h-3zM6 102h3v3h-3zM15 102h3v3h-3zM90 102h6v3h-6zM99 102h3v3h-3zM3 105h3v3h-3zM15 105h3v3h-3zM96 105h3v3h-3zM12 108h6v3h-6zM93 108h3v3h-3zM6 111h3v3h-3zM90 111h3v3h-3zM30 117h3v3h-3zM54 117h6v3h-6zM75 117h3v3h-3z"/><path fill="#eeee00" d="M114 0h6v3h-6zM87 3h3v3h-3zM105 3h3v3h-3zM96 9h3v3h-3zM3 12h9v3h-9zM84 24h6v3h-6zM114 24h3v3h-3zM12 30h6v3h-6zM105 30h3v3h-3zM12 33h3v3h-3zM102 33h3v3h-3zM108 33h6v3h-6zM15 36h3v3h-3zM30 39h3v3h-3zM105 39h6v3h-6zM108 42h3v3h-3zM0 45h6v3h-6zM21 48h3v3h-3zM108 51h3v3h-3zM117 51h3v3h-3zM72 54h3v3h-3zM78 54h3v3h-3zM108 54h3v3h-3zM114 54h3v3h-3zM72 57h3v3h-3zM96 57h6v3h-6zM78 60h3v3h-3zM69 66h3v3h-3zM87 66h6v3h-6zM87 69h6v3h-6zM114 69h3v3h-3zM21 72h3v3h-3zM90 72h3v3h-3zM3 78h3v3h-3zM51 78h3v3h-3zM48 81h6v3h-6zM99 81h3v3h-3zM21 102h3v3h-3zM24 105h3v3h-3zM18 108h6v3h-6zM12 114h3v3h-3zM84 114h3v3h-3zM105 114h3v3h-3zM6 117h3v3h-3z"/></pattern><pattern id="p15" patternUnits="userSpaceOnUse" width="120" height="120"><path fill="#0000dd" d="M0 0h3v3h-3zM15 0h12v3h-12zM39 0h3v3h-3zM51 0h6v3h-6zM66 0h3v3h-3zM84 0h9v3h-9zM96 0h3v3h-3zM105 0h3v3h-3zM0 3h9v3h-9zM12 3h6v3h-6zM27 3h3v3h-3zM78 3h3v3h-3zM90 3h3v3h-3zM9 6h6v3h-6zM21 6h9v3h-9zM78 6h3v3h-3zM93 6h15v3h-15zM114 6h6v3h-6zM21 9h3v3h-3zM30 9h6v3h-6zM42 9h9v3h-9zM54 9h3v3h-3zM78 9h3v3h-3zM96 9h6v3h-6zM108 9h3v3h-3zM27 12h6v3h-6zM36 12h3v3h-3zM42 12h15v3h-15zM81 12h3v3h-3zM93 12h3v3h-3zM111 12h3v3h-3zM18 15h12v3h-12zM39 15h6v3h-6zM48 15h3v3h-3zM54 15h12v3h-12zM87 15h3v3h-3zM114 15h3v3h-3zM18 18h3v3h-3zM27 18h3v3h-3zM42 18h12v3h-12zM63 18h18v3h-18zM111 18h3v3h-3zM6 21h3v3h-3zM12 21h12v3h-12zM30 21h3v3h-3zM42 21h3v3h-3zM48 21h15v3h-15zM66 21h3v3h-3zM75 21h3v3h-3zM96 21h6v3h-6zM105 21h6v3h-6zM117 21h3v3h-3zM0 24h6v3h-6zM9 24h9v3h-9zM27 24h3v3h-3zM48 24h3v3h-3zM54 24h12v3h-12zM69 24h3v3h-3zM96 24h3v3h-3zM111 24h9v3h-9zM0 27h6v3h-6zM12 27h6v3h-6zM27 27h9v3h-9zM45 27h3v3h-3zM60 27h3v3h-3zM66 27h6v3h-6zM81 27h3v3h-3zM96 27h3v3h-3zM117 27h3v3h-3zM3 30h3v3h-3zM12 30h6v3h-6zM33 30h6v3h-6zM63 30h3v3h-3zM72 30h6v3h-6zM81 30h6v3h-6zM99 30h3v3h-3zM117 30h3v3h-3zM3 33h12v3h-12zM36 33h3v3h-3zM42 33h3v3h-3zM78 33h3v3h-3zM87 33h9v3h-9zM99 33h3v3h-3zM9 36h9v3h-9zM63 36h3v3h-3zM81 36h3v3h-3zM87 36h9v3h-9zM102 36h3v3h-3zM42 39h12v3h-12zM63 39h3v3h-3zM87 39h6v3h-6zM108 39h3v3h-3zM0 42h3v3h-3zM18 42h3v3h-3zM24 42h6v3h-6zM42 42h3v3h-3zM51 42h3v3h-3zM90 42h3v3h-3zM117 42h3v3h-3zM0 45h3v3h-3zM18 45h6v3h-6zM30 45h3v3h-3zM45 45h3v3h-3zM75 45h3v3h-3zM90 45h6v3h-6zM102 45h18v3h-18zM6 48h6v3h-6zM33 48h18v3h-18zM63 48h6v3h-6zM72 48h12v3h-12zM90 48h9v3h-9zM102 48h6v3h-6zM111 48h6v3h-6zM3 51h9v3h-9zM21 51h6v3h-6zM33 51h15v3h-15zM57 51h3v3h-3zM75 51h3v3h-3zM81 51h12v3h-12zM105 51h15v3h-15zM45 54h15v3h-15zM84 54h6v3h-6zM93 54h3v3h-3zM6 57h3v3h-3zM12 57h3v3h-3zM30 57h3v3h-3zM57 57h9v3h-9zM90 57h3v3h-3zM105 57h3v3h-3zM9 60h3v3h-3zM36 60h3v3h-3zM42 60h9v3h-9zM54 60h12v3h-12zM90 60h21v3h-21zM36 63h9v3h-9zM51 63h12v3h-12zM66 63h6v3h-6zM90 63h6v3h-6zM99 63h6v3h-6zM111 63h3v3h-3zM117 63h3v3h-3zM0 66h6v3h-6zM21 66h3v3h-3zM36 66h6v3h-6zM48 66h3v3h-3zM54 66h12v3h-12zM87 66h9v3h-9zM105 66h12v3h-12zM0 69h6v3h-6zM15 69h6v3h-6zM24 69h3v3h-3zM30 69h3v3h-3zM51 69h3v3h-3zM57 69h9v3h-9zM72 69h3v3h-3zM87 69h6v3h-6zM99 69h3v3h-3zM108 69h3v3h-3zM114 69h6v3h-6zM15 72h3v3h-3zM54 72h3v3h-3zM66 72h3v3h-3zM87 72h3v3h-3zM99 72h3v3h-3zM114 72h3v3h-3zM6 75h12v3h-12zM39 75h3v3h-3zM48 75h3v3h-3zM54 75h3v3h-3zM75 75h24v3h-24zM117 75h3v3h-3zM6 78h21v3h-21zM42 78h15v3h-15zM84 78h3v3h-3zM90 78h3v3h-3zM96 78h9v3h-9zM15 81h6v3h-6zM24 81h6v3h-6zM75 81h3v3h-3zM90 81h9v3h-9zM105 81h3v3h-3zM48 84h3v3h-3zM60 84h3v3h-3zM78 84h3v3h-3zM84 84h3v3h-3zM93 84h3v3h-3zM15 87h9v3h-9zM33 87h3v3h-3zM39 87h9v3h-9zM57 87h12v3h-12zM81 87h6v3h-6zM15 90h6v3h-6zM33 90h3v3h-3zM48 90h3v3h-3zM57 90h6v3h-6zM69 90h6v3h-6zM0 93h12v3h-12zM15 93h6v3h-6zM24 93h3v3h-3zM33 93h6v3h-6zM45 93h9v3h-9zM57 93h3v3h-3zM75 93h9v3h-9zM93 93h21v3h-21zM12 96h3v3h-3zM18 96h18v3h-18zM42 96h3v3h-3zM48 96h3v3h-3zM93 96h6v3h-6zM111 96h6v3h-6zM15 99h15v3h-15zM33 99h15v3h-15zM51 99h3v3h-3zM63 99h3v3h-3zM69 99h3v3h-3zM75 99h6v3h-6zM90 99h6v3h-6zM51 102h3v3h-3zM60 102h6v3h-6zM69 102h3v3h-3zM78 102h6v3h-6zM87 102h9v3h-9zM117 102h3v3h-3zM0 105h6v3h-6zM9 105h3v3h-3zM33 105h3v3h-3zM54 105h3v3h-3zM60 105h3v3h-3zM66 105h6v3h-6zM90 105h3v3h-3zM0 108h12v3h-12zM36 108h3v3h-3zM51 108h6v3h-6zM63 108h6v3h-6zM99 108h3v3h-3zM108 108h3v3h-3zM36 111h3v3h-3zM51 111h3v3h-3zM66 111h3v3h-3zM96 111h9v3h-9zM114 111h6v3h-6zM42 114h3v3h-3zM51 114h6v3h-6zM69 114h6v3h-6zM96 114h9v3h-9zM0 117h3v3h-3zM12 117h3v3h-3zM21 117h3v3h-3zM36 117h3v3h-3zM45 117h3v3h-3zM51 117h3v3h-3zM57 117h3v3h-3zM69 117h3v3h-3zM90 117h6v3h-6zM99 117h9v3h-9z"/><path fill="#880099" d="M3 0h12v3h-12zM42 0h9v3h-9zM93 0h3v3h-3zM99 0h6v3h-6zM9 3h3v3h-3zM18 3h3v3h-3zM42 3h12v3h-12zM81 3h9v3h-9zM93 3h12v3h-12zM0 6h9v3h-9zM15 6h6v3h-6zM42 6h12v3h-12zM81 6h12v3h-12zM108 6h6v3h-6zM0 9h21v3h-21zM24 9h6v3h-6zM51 9h3v3h-3zM81 9h15v3h-15zM111 9h9v3h-9zM0 12h27v3h-27zM33 12h3v3h-3zM84 12h9v3h-9zM114 12h6v3h-6zM0 15h3v3h-3zM9 15h9v3h-9zM30 15h9v3h-9zM51 15h3v3h-3zM90 15h3v3h-3zM111 15h3v3h-3zM117 15h3v3h-3zM0 18h18v3h-18zM30 18h12v3h-12zM54 18h9v3h-9zM114 18h6v3h-6zM0 21h6v3h-6zM9 21h3v3h-3zM33 21h9v3h-9zM45 21h3v3h-3zM63 21h3v3h-3zM69 21h6v3h-6zM111 21h6v3h-6zM18 24h3v3h-3zM24 24h3v3h-3zM30 24h18v3h-18zM66 24h3v3h-3zM72 24h6v3h-6zM99 24h12v3h-12zM18 27h9v3h-9zM39 27h6v3h-6zM72 27h9v3h-9zM99 27h12v3h-12zM114 27h3v3h-3zM0 30h3v3h-3zM18 30h9v3h-9zM30 30h3v3h-3zM78 30h3v3h-3zM102 30h12v3h-12zM0 33h3v3h-3zM15 33h9v3h-9zM81 33h6v3h-6zM102 33h18v3h-18zM0 36h9v3h-9zM18 36h12v3h-12zM105 36h15v3h-15zM0 39h30v3h-30zM111 39h9v3h-9zM3 42h15v3h-15zM30 42h3v3h-3zM45 42h6v3h-6zM54 42h12v3h-12zM69 42h3v3h-3zM111 42h6v3h-6zM3 45h15v3h-15zM42 45h3v3h-3zM48 45h18v3h-18zM99 45h3v3h-3zM12 48h9v3h-9zM51 48h12v3h-12zM99 48h3v3h-3zM108 48h3v3h-3zM12 51h9v3h-9zM48 51h9v3h-9zM78 51h3v3h-3zM93 51h12v3h-12zM0 54h27v3h-27zM90 54h3v3h-3zM96 54h12v3h-12zM0 57h6v3h-6zM9 57h3v3h-3zM15 57h3v3h-3zM24 57h6v3h-6zM84 57h6v3h-6zM93 57h12v3h-12zM0 60h9v3h-9zM12 60h6v3h-6zM24 60h9v3h-9zM87 60h3v3h-3zM117 60h3v3h-3zM0 63h21v3h-21zM24 63h12v3h-12zM63 63h3v3h-3zM6 66h15v3h-15zM24 66h12v3h-12zM42 66h6v3h-6zM66 66h6v3h-6zM6 69h9v3h-9zM27 69h3v3h-3zM36 69h15v3h-15zM66 69h6v3h-6zM105 69h3v3h-3zM111 69h3v3h-3zM9 72h6v3h-6zM39 72h15v3h-15zM69 72h9v3h-9zM102 72h12v3h-12zM0 75h6v3h-6zM42 75h6v3h-6zM51 75h3v3h-3zM99 75h18v3h-18zM0 78h6v3h-6zM75 78h9v3h-9zM87 78h3v3h-3zM93 78h3v3h-3zM105 78h15v3h-15zM0 81h15v3h-15zM21 81h3v3h-3zM30 81h3v3h-3zM81 81h9v3h-9zM114 81h6v3h-6zM0 84h33v3h-33zM36 84h3v3h-3zM81 84h3v3h-3zM87 84h3v3h-3zM117 84h3v3h-3zM0 87h15v3h-15zM24 87h9v3h-9zM36 87h3v3h-3zM0 90h15v3h-15zM21 90h12v3h-12zM36 90h12v3h-12zM63 90h6v3h-6zM12 93h3v3h-3zM21 93h3v3h-3zM27 93h6v3h-6zM39 93h6v3h-6zM60 93h12v3h-12zM9 96h3v3h-3zM36 96h6v3h-6zM45 96h3v3h-3zM63 96h12v3h-12zM99 96h12v3h-12zM30 99h3v3h-3zM48 99h3v3h-3zM66 99h3v3h-3zM72 99h3v3h-3zM96 99h21v3h-21zM15 102h21v3h-21zM96 102h21v3h-21zM15 105h18v3h-18zM96 105h24v3h-24zM12 108h24v3h-24zM57 108h6v3h-6zM102 108h6v3h-6zM111 108h9v3h-9zM0 111h27v3h-27zM30 111h6v3h-6zM54 111h12v3h-12zM0 114h27v3h-27zM33 114h9v3h-9zM57 114h12v3h-12zM3 117h9v3h-9zM15 117h6v3h-6zM39 117h6v3h-6zM48 117h3v3h-3zM54 117h3v3h-3zM60 117h9v3h-9zM96 117h3v3h-3z"/><path fill="#0077dd" d="M57 0h3v3h-3zM63 0h3v3h-3zM69 0h3v3h-3zM21 3h6v3h-6zM36 3h3v3h-3zM72 3h3v3h-3zM114 3h3v3h-3zM75 6h3v3h-3zM39 12h3v3h-3zM108 12h3v3h-3zM81 15h3v3h-3zM93 15h3v3h-3zM21 18h6v3h-6zM90 18h6v3h-6zM102 18h3v3h-3zM108 18h3v3h-3zM27 21h3v3h-3zM78 21h3v3h-3zM102 21h3v3h-3zM21 24h3v3h-3zM36 27h3v3h-3zM63 27h3v3h-3zM84 27h3v3h-3zM6 30h3v3h-3zM39 30h6v3h-6zM66 30h6v3h-6zM87 30h6v3h-6zM96 30h3v3h-3zM39 33h3v3h-3zM69 33h3v3h-3zM96 33h3v3h-3zM39 36h3v3h-3zM48 36h3v3h-3zM60 36h3v3h-3zM69 36h6v3h-6zM84 36h3v3h-3zM54 39h3v3h-3zM60 39h3v3h-3zM84 39h3v3h-3zM21 42h3v3h-3zM99 42h3v3h-3zM105 42h3v3h-3zM96 45h3v3h-3zM30 48h3v3h-3zM69 48h3v3h-3zM117 48h3v3h-3zM0 51h3v3h-3zM69 51h3v3h-3zM27 54h3v3h-3zM42 54h3v3h-3zM60 54h3v3h-3zM36 57h3v3h-3zM42 57h9v3h-9zM33 60h3v3h-3zM69 60h3v3h-3zM84 60h3v3h-3zM48 63h3v3h-3zM84 63h3v3h-3zM96 63h3v3h-3zM105 63h3v3h-3zM114 63h3v3h-3zM72 66h3v3h-3zM96 66h6v3h-6zM117 66h3v3h-3zM21 69h3v3h-3zM54 69h3v3h-3zM75 69h3v3h-3zM93 69h3v3h-3zM102 69h3v3h-3zM6 72h3v3h-3zM27 72h3v3h-3zM78 72h3v3h-3zM117 72h3v3h-3zM24 75h3v3h-3zM72 75h3v3h-3zM27 78h3v3h-3zM102 81h3v3h-3zM42 84h6v3h-6zM51 84h3v3h-3zM57 84h3v3h-3zM90 84h3v3h-3zM51 87h3v3h-3zM87 87h3v3h-3zM75 90h6v3h-6zM87 90h3v3h-3zM93 90h9v3h-9zM117 93h3v3h-3zM0 96h3v3h-3zM15 96h3v3h-3zM51 96h3v3h-3zM60 96h3v3h-3zM81 96h3v3h-3zM54 99h3v3h-3zM84 99h3v3h-3zM9 102h3v3h-3zM36 102h3v3h-3zM54 102h6v3h-6zM66 102h3v3h-3zM6 105h3v3h-3zM36 105h3v3h-3zM57 105h3v3h-3zM84 105h6v3h-6zM39 108h3v3h-3zM69 108h6v3h-6zM87 108h3v3h-3zM93 108h6v3h-6zM39 111h3v3h-3zM69 111h6v3h-6zM93 111h3v3h-3zM105 111h9v3h-9zM45 114h6v3h-6zM75 114h3v3h-3zM93 114h3v3h-3zM105 114h3v3h-3zM30 117h3v3h-3zM72 117h6v3h-6z"/><path fill="#ff0000" d="M60 0h3v3h-3zM72 0h3v3h-3zM117 0h3v3h-3zM54 3h6v3h-6zM66 3h3v3h-3zM117 3h3v3h-3zM54 6h6v3h-6zM57 9h3v3h-3zM105 9h3v3h-3zM57 12h3v3h-3zM78 12h3v3h-3zM96 12h9v3h-9zM45 15h3v3h-3zM66 15h3v3h-3zM78 15h3v3h-3zM84 15h3v3h-3zM96 15h3v3h-3zM105 15h6v3h-6zM81 18h3v3h-3zM96 18h3v3h-3zM105 18h3v3h-3zM24 21h3v3h-3zM93 21h3v3h-3zM6 24h3v3h-3zM51 24h3v3h-3zM90 24h6v3h-6zM6 27h6v3h-6zM48 27h9v3h-9zM87 27h9v3h-9zM9 30h3v3h-3zM45 30h3v3h-3zM93 30h3v3h-3zM45 33h3v3h-3zM60 33h9v3h-9zM72 33h6v3h-6zM42 36h3v3h-3zM66 36h3v3h-3zM78 36h3v3h-3zM96 36h6v3h-6zM57 39h3v3h-3zM72 39h3v3h-3zM93 39h6v3h-6zM102 39h6v3h-6zM75 42h3v3h-3zM84 42h6v3h-6zM93 42h6v3h-6zM102 42h3v3h-3zM108 42h3v3h-3zM27 45h3v3h-3zM78 45h3v3h-3zM21 48h3v3h-3zM27 48h3v3h-3zM84 48h6v3h-6zM60 51h6v3h-6zM72 51h3v3h-3zM30 54h3v3h-3zM39 54h3v3h-3zM63 54h6v3h-6zM54 57h3v3h-3zM39 60h3v3h-3zM51 60h3v3h-3zM66 60h3v3h-3zM81 60h3v3h-3zM45 63h3v3h-3zM75 63h3v3h-3zM87 63h3v3h-3zM108 63h3v3h-3zM51 66h3v3h-3zM102 66h3v3h-3zM78 69h3v3h-3zM84 69h3v3h-3zM0 72h6v3h-6zM18 72h6v3h-6zM57 72h6v3h-6zM81 72h6v3h-6zM18 75h6v3h-6zM27 75h3v3h-3zM57 75h9v3h-9zM69 75h3v3h-3zM57 78h6v3h-6zM72 78h3v3h-3zM45 81h15v3h-15zM99 81h3v3h-3zM54 84h3v3h-3zM63 84h3v3h-3zM96 84h6v3h-6zM48 87h3v3h-3zM72 87h3v3h-3zM90 87h6v3h-6zM51 90h6v3h-6zM81 90h6v3h-6zM90 90h3v3h-3zM102 90h3v3h-3zM54 93h3v3h-3zM84 93h3v3h-3zM90 93h3v3h-3zM3 96h6v3h-6zM54 96h6v3h-6zM75 96h6v3h-6zM84 96h9v3h-9zM117 96h3v3h-3zM0 99h3v3h-3zM6 99h3v3h-3zM57 99h6v3h-6zM81 99h3v3h-3zM87 99h3v3h-3zM117 99h3v3h-3zM0 102h6v3h-6zM39 102h3v3h-3zM48 102h3v3h-3zM72 102h6v3h-6zM84 102h3v3h-3zM48 105h6v3h-6zM63 105h3v3h-3zM72 105h3v3h-3zM78 105h3v3h-3zM75 108h3v3h-3zM84 108h3v3h-3zM90 108h3v3h-3zM42 111h3v3h-3zM48 111h3v3h-3zM90 111h3v3h-3zM111 114h3v3h-3zM87 117h3v3h-3z"/><path fill="#00cc00" d="M60 3h6v3h-6zM60 6h6v3h-6zM72 6h3v3h-3zM60 9h3v3h-3zM75 9h3v3h-3zM102 9h3v3h-3zM60 12h3v3h-3zM72 12h6v3h-6zM105 12h3v3h-3zM69 15h9v3h-9zM99 15h6v3h-6zM84 18h6v3h-6zM99 18h3v3h-3zM81 21h12v3h-12zM84 24h6v3h-6zM57 27h3v3h-3zM48 30h15v3h-15zM48 33h12v3h-12zM45 36h3v3h-3zM51 36h9v3h-9zM75 36h3v3h-3zM75 39h9v3h-9zM78 42h6v3h-6zM24 45h3v3h-3zM81 45h9v3h-9zM24 48h3v3h-3zM27 51h6v3h-6zM66 51h3v3h-3zM33 54h6v3h-6zM69 54h6v3h-6zM33 57h3v3h-3zM39 57h3v3h-3zM66 57h9v3h-9zM72 60h3v3h-3zM78 60h3v3h-3zM72 63h3v3h-3zM78 63h6v3h-6zM75 66h12v3h-12zM81 69h3v3h-3zM24 72h3v3h-3zM66 75h3v3h-3zM63 78h9v3h-9zM60 81h12v3h-12zM66 84h6v3h-6zM102 84h6v3h-6zM54 87h3v3h-3zM96 87h9v3h-9zM105 90h3v3h-3zM87 93h3v3h-3zM3 99h3v3h-3zM42 102h6v3h-6zM39 105h9v3h-9zM75 105h3v3h-3zM81 105h3v3h-3zM42 108h9v3h-9zM78 108h6v3h-6zM45 111h3v3h-3zM75 111h9v3h-9zM87 111h3v3h-3zM87 114h6v3h-6zM108 114h3v3h-3z"/></pattern><pattern id="p16" patternUnits="userSpaceOnUse" width="120" height="120"><path fill="#880099" d="M36 0h3v3h-3zM63 0h3v3h-3zM96 0h3v3h-3zM66 3h3v3h-3zM87 3h12v3h-12zM117 3h3v3h-3zM6 6h3v3h-3zM66 6h3v3h-3zM87 6h6v3h-6zM105 6h3v3h-3zM117 6h3v3h-3zM6 9h6v3h-6zM66 9h9v3h-9zM90 9h3v3h-3zM108 9h6v3h-6zM12 12h3v3h-3zM48 12h3v3h-3zM66 12h9v3h-9zM90 12h6v3h-6zM42 15h3v3h-3zM69 15h9v3h-9zM15 18h3v3h-3zM48 18h6v3h-6zM69 18h12v3h-12zM87 18h3v3h-3zM45 21h6v3h-6zM72 21h18v3h-18zM18 24h3v3h-3zM51 24h3v3h-3zM78 24h15v3h-15zM111 24h6v3h-6zM18 27h3v3h-3zM84 27h6v3h-6zM114 27h3v3h-3zM36 33h9v3h-9zM57 33h6v3h-6zM99 33h3v3h-3zM0 36h6v3h-6zM30 36h15v3h-15zM57 36h9v3h-9zM96 36h3v3h-3zM0 39h6v3h-6zM36 39h3v3h-3zM63 39h3v3h-3zM51 42h3v3h-3zM93 42h3v3h-3zM9 45h3v3h-3zM21 45h3v3h-3zM48 45h9v3h-9zM111 45h3v3h-3zM6 48h24v3h-24zM48 48h6v3h-6zM105 48h9v3h-9zM9 51h12v3h-12zM105 51h6v3h-6zM9 54h3v3h-3zM72 54h6v3h-6zM57 57h3v3h-3zM72 57h6v3h-6zM3 60h3v3h-3zM57 60h9v3h-9zM81 60h3v3h-3zM102 60h3v3h-3zM0 63h6v3h-6zM21 63h3v3h-3zM57 63h9v3h-9zM81 63h6v3h-6zM99 63h9v3h-9zM3 66h3v3h-3zM18 66h6v3h-6zM60 66h3v3h-3zM78 66h9v3h-9zM99 66h12v3h-12zM18 69h9v3h-9zM78 69h3v3h-3zM84 69h3v3h-3zM102 69h3v3h-3zM114 69h3v3h-3zM9 72h3v3h-3zM21 72h3v3h-3zM27 72h3v3h-3zM114 72h3v3h-3zM33 75h6v3h-6zM51 75h3v3h-3zM60 75h6v3h-6zM30 78h6v3h-6zM54 78h15v3h-15zM90 78h6v3h-6zM30 81h3v3h-3zM54 81h3v3h-3zM60 81h9v3h-9zM96 81h3v3h-3zM66 84h3v3h-3zM105 84h6v3h-6zM39 87h3v3h-3zM45 87h3v3h-3zM66 87h6v3h-6zM99 87h9v3h-9zM111 87h3v3h-3zM6 90h3v3h-3zM39 90h6v3h-6zM102 90h9v3h-9zM12 93h3v3h-3zM18 93h3v3h-3zM39 93h9v3h-9zM39 96h9v3h-9zM60 96h6v3h-6zM57 99h9v3h-9zM0 102h3v3h-3zM60 102h6v3h-6zM78 102h9v3h-9zM108 102h3v3h-3zM81 105h9v3h-9zM108 105h9v3h-9zM9 108h3v3h-3zM15 108h3v3h-3zM30 108h3v3h-3zM111 108h9v3h-9zM9 111h12v3h-12zM30 111h3v3h-3zM111 111h9v3h-9zM9 114h12v3h-12zM33 114h9v3h-9zM33 117h12v3h-12z"/><path fill="#0000dd" d="M42 0h3v3h-3zM66 0h3v3h-3zM87 0h9v3h-9zM99 0h3v3h-3zM114 0h3v3h-3zM42 3h6v3h-6zM69 3h3v3h-3zM105 3h3v3h-3zM111 3h6v3h-6zM9 6h3v3h-3zM42 6h6v3h-6zM69 6h3v3h-3zM93 6h3v3h-3zM102 6h3v3h-3zM108 6h9v3h-9zM12 9h3v3h-3zM27 9h3v3h-3zM45 9h3v3h-3zM93 9h6v3h-6zM114 9h3v3h-3zM15 12h3v3h-3zM39 12h9v3h-9zM15 15h3v3h-3zM39 15h3v3h-3zM45 15h6v3h-6zM66 15h3v3h-3zM81 15h3v3h-3zM87 15h3v3h-3zM108 15h3v3h-3zM42 18h6v3h-6zM81 18h6v3h-6zM15 21h6v3h-6zM90 21h3v3h-3zM21 24h3v3h-3zM93 24h3v3h-3zM117 24h3v3h-3zM21 27h6v3h-6zM90 27h9v3h-9zM117 27h3v3h-3zM6 30h3v3h-3zM21 30h6v3h-6zM33 30h6v3h-6zM57 30h3v3h-3zM87 30h15v3h-15zM114 30h3v3h-3zM0 33h9v3h-9zM30 33h6v3h-6zM93 33h6v3h-6zM117 33h3v3h-3zM66 36h3v3h-3zM90 36h6v3h-6zM99 36h3v3h-3zM9 39h3v3h-3zM39 39h3v3h-3zM45 39h3v3h-3zM66 39h3v3h-3zM93 39h6v3h-6zM48 42h3v3h-3zM66 42h6v3h-6zM78 42h3v3h-3zM96 42h3v3h-3zM6 45h3v3h-3zM12 45h6v3h-6zM45 45h3v3h-3zM69 45h3v3h-3zM78 45h3v3h-3zM105 45h6v3h-6zM114 45h3v3h-3zM3 48h3v3h-3zM54 48h3v3h-3zM69 48h6v3h-6zM78 48h3v3h-3zM114 48h6v3h-6zM6 51h3v3h-3zM21 51h3v3h-3zM30 51h3v3h-3zM45 51h12v3h-12zM69 51h12v3h-12zM0 54h9v3h-9zM21 54h3v3h-3zM48 54h3v3h-3zM57 54h3v3h-3zM69 54h3v3h-3zM78 54h3v3h-3zM3 57h6v3h-6zM21 57h3v3h-3zM30 57h3v3h-3zM60 57h3v3h-3zM66 57h6v3h-6zM78 57h3v3h-3zM0 60h3v3h-3zM21 60h6v3h-6zM54 60h3v3h-3zM66 60h3v3h-3zM72 60h9v3h-9zM24 63h6v3h-6zM75 63h6v3h-6zM87 63h3v3h-3zM0 66h3v3h-3zM6 66h3v3h-3zM15 66h3v3h-3zM24 66h3v3h-3zM57 66h3v3h-3zM75 66h3v3h-3zM117 66h3v3h-3zM0 69h12v3h-12zM15 69h3v3h-3zM27 69h3v3h-3zM57 69h6v3h-6zM81 69h3v3h-3zM99 69h3v3h-3zM117 69h3v3h-3zM51 72h3v3h-3zM60 72h3v3h-3zM117 72h3v3h-3zM27 75h6v3h-6zM54 75h6v3h-6zM75 75h6v3h-6zM93 75h6v3h-6zM117 75h3v3h-3zM36 78h3v3h-3zM51 78h3v3h-3zM69 78h9v3h-9zM87 78h3v3h-3zM96 78h3v3h-3zM33 81h6v3h-6zM69 81h6v3h-6zM90 81h6v3h-6zM102 81h3v3h-3zM3 84h3v3h-3zM36 84h6v3h-6zM69 84h6v3h-6zM96 84h9v3h-9zM111 84h3v3h-3zM6 87h6v3h-6zM42 87h3v3h-3zM72 87h3v3h-3zM108 87h3v3h-3zM9 90h9v3h-9zM45 90h6v3h-6zM111 90h3v3h-3zM15 93h3v3h-3zM48 93h3v3h-3zM105 93h3v3h-3zM18 96h9v3h-9zM57 96h3v3h-3zM105 96h3v3h-3zM87 99h3v3h-3zM117 99h3v3h-3zM36 102h3v3h-3zM87 102h6v3h-6zM114 102h3v3h-3zM0 105h9v3h-9zM18 105h3v3h-3zM30 105h3v3h-3zM63 105h3v3h-3zM117 105h3v3h-3zM6 108h3v3h-3zM33 108h3v3h-3zM90 108h3v3h-3zM33 111h6v3h-6zM42 111h3v3h-3zM93 111h3v3h-3zM42 114h9v3h-9zM72 114h3v3h-3zM93 114h3v3h-3zM12 117h6v3h-6zM54 117h3v3h-3zM60 117h6v3h-6zM72 117h3v3h-3zM87 117h9v3h-9z"/><path fill="#ff0000" d="M45 0h6v3h-6zM72 0h6v3h-6zM108 0h6v3h-6zM12 6h3v3h-3zM96 6h3v3h-3zM15 9h3v3h-3zM24 9h3v3h-3zM39 9h3v3h-3zM24 12h3v3h-3zM18 15h9v3h-9zM18 18h3v3h-3zM21 21h3v3h-3zM27 21h3v3h-3zM24 24h9v3h-9zM0 27h3v3h-3zM30 27h3v3h-3zM0 30h6v3h-6zM60 30h3v3h-3zM66 33h6v3h-6zM69 36h3v3h-3zM12 39h3v3h-3zM69 39h6v3h-6zM78 39h3v3h-3zM99 39h3v3h-3zM12 42h3v3h-3zM45 42h3v3h-3zM72 42h3v3h-3zM99 42h3v3h-3zM105 42h3v3h-3zM72 45h6v3h-6zM102 45h3v3h-3zM3 51h3v3h-3zM24 51h6v3h-6zM84 51h3v3h-3zM24 54h3v3h-3zM45 54h3v3h-3zM51 54h6v3h-6zM63 54h3v3h-3zM24 57h6v3h-6zM81 57h3v3h-3zM6 60h3v3h-3zM27 60h3v3h-3zM69 60h3v3h-3zM84 60h6v3h-6zM6 63h3v3h-3zM33 72h6v3h-6zM99 78h3v3h-3zM105 81h3v3h-3zM15 87h3v3h-3zM51 90h3v3h-3zM78 90h3v3h-3zM24 93h3v3h-3zM108 93h6v3h-6zM54 96h3v3h-3zM108 96h9v3h-9zM51 99h6v3h-6zM78 99h3v3h-3zM105 99h3v3h-3zM111 99h6v3h-6zM54 102h3v3h-3zM39 105h3v3h-3zM57 105h6v3h-6zM36 108h3v3h-3zM66 114h3v3h-3zM45 117h3v3h-3zM69 117h3v3h-3zM108 117h3v3h-3z"/><path fill="#0077dd" d="M69 0h3v3h-3zM108 3h3v3h-3zM39 6h3v3h-3zM36 9h3v3h-3zM42 9h3v3h-3zM18 12h3v3h-3zM36 12h3v3h-3zM24 18h3v3h-3zM111 18h6v3h-6zM111 21h6v3h-6zM27 27h3v3h-3zM30 30h3v3h-3zM117 30h3v3h-3zM27 33h3v3h-3zM63 33h3v3h-3zM90 33h3v3h-3zM48 39h3v3h-3zM9 42h3v3h-3zM15 42h3v3h-3zM99 45h3v3h-3zM75 48h3v3h-3zM117 51h3v3h-3zM30 54h3v3h-3zM0 57h3v3h-3zM51 57h6v3h-6zM63 57h3v3h-3zM30 69h3v3h-3zM54 69h3v3h-3zM30 72h3v3h-3zM54 72h6v3h-6zM78 72h3v3h-3zM99 72h3v3h-3zM3 75h3v3h-3zM9 75h3v3h-3zM12 78h3v3h-3zM39 78h3v3h-3zM3 81h3v3h-3zM99 81h3v3h-3zM33 84h3v3h-3zM12 87h3v3h-3zM48 87h3v3h-3zM18 90h3v3h-3zM81 90h3v3h-3zM21 93h3v3h-3zM57 93h3v3h-3zM78 93h3v3h-3zM15 96h3v3h-3zM48 96h6v3h-6zM81 99h6v3h-6zM108 99h3v3h-3zM57 102h3v3h-3zM111 102h3v3h-3zM117 102h3v3h-3zM33 105h3v3h-3zM90 105h3v3h-3zM3 108h3v3h-3zM93 108h3v3h-3zM6 111h3v3h-3zM39 111h3v3h-3zM90 111h3v3h-3zM96 111h3v3h-3zM69 114h3v3h-3zM90 114h3v3h-3zM66 117h3v3h-3z"/><path fill="#00cc00" d="M12 3h6v3h-6zM15 6h9v3h-9zM36 6h3v3h-3zM18 9h6v3h-6zM21 12h3v3h-3zM21 18h3v3h-3zM24 21h3v3h-3zM0 24h6v3h-6zM3 27h3v3h-3zM27 30h3v3h-3zM63 30h3v3h-3zM72 36h6v3h-6zM102 36h3v3h-3zM75 39h3v3h-3zM102 39h3v3h-3zM75 42h3v3h-3zM102 42h3v3h-3zM27 54h3v3h-3zM81 54h6v3h-6zM48 57h3v3h-3zM84 57h6v3h-6zM9 66h3v3h-3zM30 66h3v3h-3zM33 69h6v3h-6zM6 78h6v3h-6zM6 81h9v3h-9zM108 81h3v3h-3zM6 84h9v3h-9zM51 93h6v3h-6zM81 93h6v3h-6zM78 96h12v3h-12zM36 105h3v3h-3zM93 105h6v3h-6zM0 108h3v3h-3zM39 108h3v3h-3zM57 108h9v3h-9zM96 108h3v3h-3zM60 111h9v3h-9zM60 114h6v3h-6z"/></pattern><mask id="km8" maskUnits="userSpaceOnUse" x="300" y="100" width="1530" height="775"><g filter="url(#wm)"><path fill="#fff" d="M309.5 192.2H330.4V213.1H309.5zM372.3 192.2H393.3V213.1H372.3zM707.4 192.2H728.4V213.1H707.4zM728.4 192.2H749.3V213.1H728.4zM749.3 192.2H770.3V213.1H749.3zM895.9 192.2H916.9V213.1H895.9zM916.9 192.2H937.8V213.1H916.9zM958.8 192.2H979.7V213.1H958.8zM1126.3 192.2H1147.3V213.1H1126.3zM1189.2 192.2H1210.1V213.1H1189.2zM1293.9 192.2H1314.8V213.1H1293.9zM1335.8 192.2H1356.7V213.1H1335.8zM1461.4 192.2H1482.4V213.1H1461.4zM1545.2 192.2H1566.2V213.1H1545.2zM1566.2 192.2H1587.1V213.1H1566.2zM435.2 213.1H456.1V234.1H435.2zM456.1 213.1H477.1V234.1H456.1zM686.5 213.1H707.4V234.1H686.5zM707.4 213.1H728.4V234.1H707.4zM916.9 213.1H937.8V234.1H916.9zM937.8 213.1H958.8V234.1H937.8zM1000.7 213.1H1021.6V234.1H1000.7zM1021.6 213.1H1042.6V234.1H1021.6zM1042.6 213.1H1063.5V234.1H1042.6zM1126.3 213.1H1147.3V234.1H1126.3zM1231.1 213.1H1252V234.1H1231.1zM1314.8 213.1H1335.8V234.1H1314.8zM1335.8 213.1H1356.7V234.1H1335.8zM1440.5 213.1H1461.4V234.1H1440.5zM1545.2 213.1H1566.2V234.1H1545.2zM1649.9 213.1H1670.9V234.1H1649.9zM1670.9 213.1H1691.8V234.1H1670.9zM1691.8 213.1H1712.8V234.1H1691.8zM1775.6 213.1H1796.6V234.1H1775.6zM309.5 234.1H330.4V255H309.5zM644.6 234.1H665.6V255H644.6zM665.6 234.1H686.5V255H665.6zM686.5 234.1H707.4V255H686.5zM728.4 234.1H749.3V255H728.4zM833.1 234.1H854.1V255H833.1zM875 234.1H895.9V255H875zM916.9 234.1H937.8V255H916.9zM937.8 234.1H958.8V255H937.8zM979.7 234.1H1000.7V255H979.7zM1042.6 234.1H1063.5V255H1042.6zM1063.5 234.1H1084.4V255H1063.5zM1084.4 234.1H1105.4V255H1084.4zM1189.2 234.1H1210.1V255H1189.2zM1231.1 234.1H1252V255H1231.1zM1252 234.1H1272.9V255H1252zM1377.7 234.1H1398.6V255H1377.7zM1482.4 234.1H1503.3V255H1482.4zM1503.3 234.1H1524.3V255H1503.3zM1524.3 234.1H1545.2V255H1524.3zM1587.1 234.1H1608.1V255H1587.1zM1608.1 234.1H1629V255H1608.1zM1691.8 234.1H1712.8V255H1691.8zM1712.8 234.1H1733.7V255H1712.8zM372.3 255H393.3V276H372.3zM393.3 255H414.2V276H393.3zM414.2 255H435.2V276H414.2zM435.2 255H456.1V276H435.2zM644.6 255H665.6V276H644.6zM665.6 255H686.5V276H665.6zM770.3 255H791.2V276H770.3zM937.8 255H958.8V276H937.8zM1021.6 255H1042.6V276H1021.6zM1042.6 255H1063.5V276H1042.6zM1063.5 255H1084.4V276H1063.5zM1084.4 255H1105.4V276H1084.4zM1105.4 255H1126.3V276H1105.4zM1126.3 255H1147.3V276H1126.3zM1147.3 255H1168.2V276H1147.3zM1168.2 255H1189.2V276H1168.2zM1210.1 255H1231.1V276H1210.1zM1377.7 255H1398.6V276H1377.7zM1419.6 255H1440.5V276H1419.6zM1440.5 255H1461.4V276H1440.5zM372.3 276H393.3V296.9H372.3zM393.3 276H414.2V296.9H393.3zM539.9 276H560.8V296.9H539.9zM770.3 276H791.2V296.9H770.3zM791.2 276H812.2V296.9H791.2zM812.2 276H833.1V296.9H812.2zM875 276H895.9V296.9H875zM895.9 276H916.9V296.9H895.9zM979.7 276H1000.7V296.9H979.7zM1042.6 276H1063.5V296.9H1042.6zM1084.4 276H1105.4V296.9H1084.4zM1105.4 276H1126.3V296.9H1105.4zM1126.3 276H1147.3V296.9H1126.3zM1168.2 276H1189.2V296.9H1168.2zM1210.1 276H1231.1V296.9H1210.1zM1691.8 276H1712.8V296.9H1691.8zM1733.7 276H1754.7V296.9H1733.7zM393.3 296.9H414.2V317.8H393.3zM414.2 296.9H435.2V317.8H414.2zM435.2 296.9H456.1V317.8H435.2zM770.3 296.9H791.2V317.8H770.3zM791.2 296.9H812.2V317.8H791.2zM812.2 296.9H833.1V317.8H812.2zM958.8 296.9H979.7V317.8H958.8zM1063.5 296.9H1084.4V317.8H1063.5zM1210.1 296.9H1231.1V317.8H1210.1zM1503.3 296.9H1524.3V317.8H1503.3zM1545.2 296.9H1566.2V317.8H1545.2zM1691.8 296.9H1712.8V317.8H1691.8zM1733.7 296.9H1754.7V317.8H1733.7zM1796.6 296.9H1817.5V317.8H1796.6zM309.5 317.8H330.4V338.8H309.5zM330.4 317.8H351.4V338.8H330.4zM351.4 317.8H372.3V338.8H351.4zM372.3 317.8H393.3V338.8H372.3zM435.2 317.8H456.1V338.8H435.2zM749.3 317.8H770.3V338.8H749.3zM770.3 317.8H791.2V338.8H770.3zM958.8 317.8H979.7V338.8H958.8zM1000.7 317.8H1021.6V338.8H1000.7zM1189.2 317.8H1210.1V338.8H1189.2zM1210.1 317.8H1231.1V338.8H1210.1zM1587.1 317.8H1608.1V338.8H1587.1zM1608.1 317.8H1629V338.8H1608.1zM1629 317.8H1649.9V338.8H1629zM1649.9 317.8H1670.9V338.8H1649.9zM1712.8 317.8H1733.7V338.8H1712.8zM309.5 338.8H330.4V359.7H309.5zM330.4 338.8H351.4V359.7H330.4zM435.2 338.8H456.1V359.7H435.2zM581.8 338.8H602.7V359.7H581.8zM707.4 338.8H728.4V359.7H707.4zM749.3 338.8H770.3V359.7H749.3zM1000.7 338.8H1021.6V359.7H1000.7zM1503.3 338.8H1524.3V359.7H1503.3zM1524.3 338.8H1545.2V359.7H1524.3zM1712.8 338.8H1733.7V359.7H1712.8zM1754.7 338.8H1775.6V359.7H1754.7zM1775.6 338.8H1796.6V359.7H1775.6zM1796.6 338.8H1817.5V359.7H1796.6zM351.4 359.7H372.3V380.7H351.4zM560.8 359.7H581.8V380.7H560.8zM581.8 359.7H602.7V380.7H581.8zM707.4 359.7H728.4V380.7H707.4zM812.2 359.7H833.1V380.7H812.2zM854.1 359.7H875V380.7H854.1zM1440.5 359.7H1461.4V380.7H1440.5zM1608.1 359.7H1629V380.7H1608.1zM1629 359.7H1649.9V380.7H1629zM393.3 380.7H414.2V401.6H393.3zM560.8 380.7H581.8V401.6H560.8zM644.6 380.7H665.6V401.6H644.6zM812.2 380.7H833.1V401.6H812.2zM958.8 380.7H979.7V401.6H958.8zM979.7 380.7H1000.7V401.6H979.7zM1419.6 380.7H1440.5V401.6H1419.6zM1608.1 380.7H1629V401.6H1608.1zM581.8 401.6H602.7V422.6H581.8zM665.6 401.6H686.5V422.6H665.6zM728.4 401.6H749.3V422.6H728.4zM1314.8 401.6H1335.8V422.6H1314.8zM1545.2 401.6H1566.2V422.6H1545.2zM1566.2 401.6H1587.1V422.6H1566.2zM1629 401.6H1649.9V422.6H1629zM1670.9 401.6H1691.8V422.6H1670.9zM1775.6 401.6H1796.6V422.6H1775.6zM372.3 422.6H393.3V443.5H372.3zM435.2 422.6H456.1V443.5H435.2zM581.8 422.6H602.7V443.5H581.8zM623.7 422.6H644.6V443.5H623.7zM895.9 422.6H916.9V443.5H895.9zM916.9 422.6H937.8V443.5H916.9zM1314.8 422.6H1335.8V443.5H1314.8zM1335.8 422.6H1356.7V443.5H1335.8zM1545.2 422.6H1566.2V443.5H1545.2zM1587.1 422.6H1608.1V443.5H1587.1zM1691.8 422.6H1712.8V443.5H1691.8zM1775.6 422.6H1796.6V443.5H1775.6zM393.3 443.5H414.2V464.5H393.3zM498 443.5H518.9V464.5H498zM518.9 443.5H539.9V464.5H518.9zM602.7 443.5H623.7V464.5H602.7zM665.6 443.5H686.5V464.5H665.6zM812.2 443.5H833.1V464.5H812.2zM1042.6 443.5H1063.5V464.5H1042.6zM1272.9 443.5H1293.9V464.5H1272.9zM1314.8 443.5H1335.8V464.5H1314.8zM1335.8 443.5H1356.7V464.5H1335.8zM1440.5 443.5H1461.4V464.5H1440.5zM1461.4 443.5H1482.4V464.5H1461.4zM1503.3 443.5H1524.3V464.5H1503.3zM1524.3 443.5H1545.2V464.5H1524.3zM1545.2 443.5H1566.2V464.5H1545.2zM1587.1 443.5H1608.1V464.5H1587.1zM1608.1 443.5H1629V464.5H1608.1zM1629 443.5H1649.9V464.5H1629zM372.3 464.5H393.3V485.4H372.3zM393.3 464.5H414.2V485.4H393.3zM414.2 464.5H435.2V485.4H414.2zM518.9 464.5H539.9V485.4H518.9zM581.8 464.5H602.7V485.4H581.8zM602.7 464.5H623.7V485.4H602.7zM644.6 464.5H665.6V485.4H644.6zM665.6 464.5H686.5V485.4H665.6zM916.9 464.5H937.8V485.4H916.9zM1000.7 464.5H1021.6V485.4H1000.7zM1021.6 464.5H1042.6V485.4H1021.6zM1042.6 464.5H1063.5V485.4H1042.6zM1063.5 464.5H1084.4V485.4H1063.5zM1126.3 464.5H1147.3V485.4H1126.3zM1272.9 464.5H1293.9V485.4H1272.9zM1440.5 464.5H1461.4V485.4H1440.5zM1461.4 464.5H1482.4V485.4H1461.4zM1587.1 464.5H1608.1V485.4H1587.1zM1649.9 464.5H1670.9V485.4H1649.9zM372.3 485.4H393.3V506.3H372.3zM393.3 485.4H414.2V506.3H393.3zM518.9 485.4H539.9V506.3H518.9zM644.6 485.4H665.6V506.3H644.6zM707.4 485.4H728.4V506.3H707.4zM937.8 485.4H958.8V506.3H937.8zM1126.3 485.4H1147.3V506.3H1126.3zM1356.7 485.4H1377.7V506.3H1356.7zM1461.4 485.4H1482.4V506.3H1461.4zM1566.2 485.4H1587.1V506.3H1566.2zM1608.1 485.4H1629V506.3H1608.1zM1629 485.4H1649.9V506.3H1629zM1649.9 485.4H1670.9V506.3H1649.9zM1670.9 485.4H1691.8V506.3H1670.9zM498 506.3H518.9V527.3H498zM518.9 506.3H539.9V527.3H518.9zM644.6 506.3H665.6V527.3H644.6zM707.4 506.3H728.4V527.3H707.4zM749.3 506.3H770.3V527.3H749.3zM854.1 506.3H875V527.3H854.1zM937.8 506.3H958.8V527.3H937.8zM979.7 506.3H1000.7V527.3H979.7zM1042.6 506.3H1063.5V527.3H1042.6zM1063.5 506.3H1084.4V527.3H1063.5zM1126.3 506.3H1147.3V527.3H1126.3zM1587.1 506.3H1608.1V527.3H1587.1zM1649.9 506.3H1670.9V527.3H1649.9zM1670.9 506.3H1691.8V527.3H1670.9zM1796.6 506.3H1817.5V527.3H1796.6zM309.5 527.3H330.4V548.2H309.5zM330.4 527.3H351.4V548.2H330.4zM351.4 527.3H372.3V548.2H351.4zM372.3 527.3H393.3V548.2H372.3zM518.9 527.3H539.9V548.2H518.9zM539.9 527.3H560.8V548.2H539.9zM686.5 527.3H707.4V548.2H686.5zM707.4 527.3H728.4V548.2H707.4zM728.4 527.3H749.3V548.2H728.4zM749.3 527.3H770.3V548.2H749.3zM937.8 527.3H958.8V548.2H937.8zM1021.6 527.3H1042.6V548.2H1021.6zM1126.3 527.3H1147.3V548.2H1126.3zM1419.6 527.3H1440.5V548.2H1419.6zM1461.4 527.3H1482.4V548.2H1461.4zM1587.1 527.3H1608.1V548.2H1587.1zM1670.9 527.3H1691.8V548.2H1670.9zM351.4 548.2H372.3V569.2H351.4zM372.3 548.2H393.3V569.2H372.3zM435.2 548.2H456.1V569.2H435.2zM686.5 548.2H707.4V569.2H686.5zM728.4 548.2H749.3V569.2H728.4zM979.7 548.2H1000.7V569.2H979.7zM1042.6 548.2H1063.5V569.2H1042.6zM1084.4 548.2H1105.4V569.2H1084.4zM1126.3 548.2H1147.3V569.2H1126.3zM1419.6 548.2H1440.5V569.2H1419.6zM1440.5 548.2H1461.4V569.2H1440.5zM309.5 569.2H330.4V590.1H309.5zM372.3 569.2H393.3V590.1H372.3zM393.3 569.2H414.2V590.1H393.3zM414.2 569.2H435.2V590.1H414.2zM435.2 569.2H456.1V590.1H435.2zM539.9 569.2H560.8V590.1H539.9zM644.6 569.2H665.6V590.1H644.6zM875 569.2H895.9V590.1H875zM1126.3 569.2H1147.3V590.1H1126.3zM1503.3 569.2H1524.3V590.1H1503.3zM372.3 590.1H393.3V611.1H372.3zM435.2 590.1H456.1V611.1H435.2zM498 590.1H518.9V611.1H498zM560.8 590.1H581.8V611.1H560.8zM707.4 590.1H728.4V611.1H707.4zM393.3 611.1H414.2V632H393.3zM456.1 611.1H477.1V632H456.1zM477.1 611.1H498V632H477.1zM560.8 611.1H581.8V632H560.8zM581.8 611.1H602.7V632H581.8zM728.4 611.1H749.3V632H728.4zM1503.3 611.1H1524.3V632H1503.3zM1524.3 611.1H1545.2V632H1524.3zM1670.9 611.1H1691.8V632H1670.9zM1796.6 611.1H1817.5V632H1796.6zM393.3 632H414.2V653H393.3zM456.1 632H477.1V653H456.1zM498 632H518.9V653H498zM560.8 632H581.8V653H560.8zM581.8 632H602.7V653H581.8zM749.3 632H770.3V653H749.3zM770.3 632H791.2V653H770.3zM791.2 632H812.2V653H791.2zM812.2 632H833.1V653H812.2zM979.7 632H1000.7V653H979.7zM1042.6 632H1063.5V653H1042.6zM1105.4 632H1126.3V653H1105.4zM1272.9 632H1293.9V653H1272.9zM1293.9 632H1314.8V653H1293.9zM1335.8 632H1356.7V653H1335.8zM1377.7 632H1398.6V653H1377.7zM1461.4 632H1482.4V653H1461.4zM1545.2 632H1566.2V653H1545.2zM1608.1 632H1629V653H1608.1zM1629 632H1649.9V653H1629zM1649.9 632H1670.9V653H1649.9zM1733.7 632H1754.7V653H1733.7zM1754.7 632H1775.6V653H1754.7zM728.4 653H749.3V673.9H728.4zM833.1 653H854.1V673.9H833.1zM875 653H895.9V673.9H875zM958.8 653H979.7V673.9H958.8zM979.7 653H1000.7V673.9H979.7zM1000.7 653H1021.6V673.9H1000.7zM1126.3 653H1147.3V673.9H1126.3zM1147.3 653H1168.2V673.9H1147.3zM1168.2 653H1189.2V673.9H1168.2zM1210.1 653H1231.1V673.9H1210.1zM1293.9 653H1314.8V673.9H1293.9zM1314.8 653H1335.8V673.9H1314.8zM1419.6 653H1440.5V673.9H1419.6zM1482.4 653H1503.3V673.9H1482.4zM1524.3 653H1545.2V673.9H1524.3zM1608.1 653H1629V673.9H1608.1zM1629 653H1649.9V673.9H1629zM414.2 673.9H435.2V694.8H414.2zM435.2 673.9H456.1V694.8H435.2zM979.7 673.9H1000.7V694.8H979.7zM1000.7 673.9H1021.6V694.8H1000.7zM1042.6 673.9H1063.5V694.8H1042.6zM1063.5 673.9H1084.4V694.8H1063.5zM1105.4 673.9H1126.3V694.8H1105.4zM1126.3 673.9H1147.3V694.8H1126.3zM1168.2 673.9H1189.2V694.8H1168.2zM1210.1 673.9H1231.1V694.8H1210.1zM1293.9 673.9H1314.8V694.8H1293.9zM1377.7 673.9H1398.6V694.8H1377.7zM1398.6 673.9H1419.6V694.8H1398.6zM1419.6 673.9H1440.5V694.8H1419.6zM1461.4 673.9H1482.4V694.8H1461.4zM1482.4 673.9H1503.3V694.8H1482.4zM1775.6 673.9H1796.6V694.8H1775.6zM330.4 694.8H351.4V715.8H330.4zM393.3 694.8H414.2V715.8H393.3zM560.8 694.8H581.8V715.8H560.8zM623.7 694.8H644.6V715.8H623.7zM707.4 694.8H728.4V715.8H707.4zM916.9 694.8H937.8V715.8H916.9zM1063.5 694.8H1084.4V715.8H1063.5zM1084.4 694.8H1105.4V715.8H1084.4zM1126.3 694.8H1147.3V715.8H1126.3zM1168.2 694.8H1189.2V715.8H1168.2zM1189.2 694.8H1210.1V715.8H1189.2zM1356.7 694.8H1377.7V715.8H1356.7zM1377.7 694.8H1398.6V715.8H1377.7zM1440.5 694.8H1461.4V715.8H1440.5zM1503.3 694.8H1524.3V715.8H1503.3zM1691.8 694.8H1712.8V715.8H1691.8zM330.4 715.8H351.4V736.7H330.4zM393.3 715.8H414.2V736.7H393.3zM435.2 715.8H456.1V736.7H435.2zM477.1 715.8H498V736.7H477.1zM498 715.8H518.9V736.7H498zM560.8 715.8H581.8V736.7H560.8zM602.7 715.8H623.7V736.7H602.7zM686.5 715.8H707.4V736.7H686.5zM707.4 715.8H728.4V736.7H707.4zM749.3 715.8H770.3V736.7H749.3zM854.1 715.8H875V736.7H854.1zM875 715.8H895.9V736.7H875zM1147.3 715.8H1168.2V736.7H1147.3zM1168.2 715.8H1189.2V736.7H1168.2zM1272.9 715.8H1293.9V736.7H1272.9zM1314.8 715.8H1335.8V736.7H1314.8zM1356.7 715.8H1377.7V736.7H1356.7zM1440.5 715.8H1461.4V736.7H1440.5zM1670.9 715.8H1691.8V736.7H1670.9zM1691.8 715.8H1712.8V736.7H1691.8zM309.5 736.7H330.4V757.7H309.5zM351.4 736.7H372.3V757.7H351.4zM372.3 736.7H393.3V757.7H372.3zM393.3 736.7H414.2V757.7H393.3zM477.1 736.7H498V757.7H477.1zM539.9 736.7H560.8V757.7H539.9zM602.7 736.7H623.7V757.7H602.7zM644.6 736.7H665.6V757.7H644.6zM812.2 736.7H833.1V757.7H812.2zM1231.1 736.7H1252V757.7H1231.1zM1252 736.7H1272.9V757.7H1252zM1314.8 736.7H1335.8V757.7H1314.8zM1335.8 736.7H1356.7V757.7H1335.8zM1545.2 736.7H1566.2V757.7H1545.2zM1587.1 736.7H1608.1V757.7H1587.1zM728.4 757.7H749.3V778.6H728.4z"/></g></mask><mask id="km3" maskUnits="userSpaceOnUse" x="300" y="100" width="1530" height="775"><g filter="url(#wm)"><path fill="#fff" d="M330.4 192.2H351.4V213.1H330.4zM351.4 192.2H372.3V213.1H351.4zM644.6 192.2H665.6V213.1H644.6zM812.2 192.2H833.1V213.1H812.2zM1000.7 192.2H1021.6V213.1H1000.7zM1168.2 192.2H1189.2V213.1H1168.2zM1252 192.2H1272.9V213.1H1252zM1356.7 192.2H1377.7V213.1H1356.7zM351.4 213.1H372.3V234.1H351.4zM477.1 213.1H498V234.1H477.1zM498 213.1H518.9V234.1H498zM644.6 213.1H665.6V234.1H644.6zM665.6 213.1H686.5V234.1H665.6zM770.3 213.1H791.2V234.1H770.3zM1105.4 213.1H1126.3V234.1H1105.4zM1252 213.1H1272.9V234.1H1252zM1356.7 213.1H1377.7V234.1H1356.7zM1461.4 213.1H1482.4V234.1H1461.4zM1566.2 213.1H1587.1V234.1H1566.2zM1629 213.1H1649.9V234.1H1629zM372.3 234.1H393.3V255H372.3zM456.1 234.1H477.1V255H456.1zM791.2 234.1H812.2V255H791.2zM1000.7 234.1H1021.6V255H1000.7zM1629 234.1H1649.9V255H1629zM1398.6 255H1419.6V276H1398.6zM1524.3 255H1545.2V276H1524.3zM1566.2 255H1587.1V276H1566.2zM1084.4 317.8H1105.4V338.8H1084.4zM414.2 338.8H435.2V359.7H414.2zM623.7 338.8H644.6V359.7H623.7zM979.7 338.8H1000.7V359.7H979.7zM1063.5 338.8H1084.4V359.7H1063.5zM1587.1 338.8H1608.1V359.7H1587.1zM602.7 359.7H623.7V380.7H602.7zM623.7 359.7H644.6V380.7H623.7zM644.6 359.7H665.6V380.7H644.6zM1084.4 359.7H1105.4V380.7H1084.4zM1105.4 359.7H1126.3V380.7H1105.4zM1168.2 359.7H1189.2V380.7H1168.2zM1189.2 359.7H1210.1V380.7H1189.2zM1272.9 359.7H1293.9V380.7H1272.9zM1503.3 359.7H1524.3V380.7H1503.3zM1524.3 359.7H1545.2V380.7H1524.3zM1566.2 359.7H1587.1V380.7H1566.2zM1084.4 380.7H1105.4V401.6H1084.4zM1105.4 380.7H1126.3V401.6H1105.4zM1168.2 380.7H1189.2V401.6H1168.2zM1189.2 380.7H1210.1V401.6H1189.2zM1210.1 380.7H1231.1V401.6H1210.1zM1252 380.7H1272.9V401.6H1252zM1293.9 380.7H1314.8V401.6H1293.9zM707.4 401.6H728.4V422.6H707.4zM1210.1 401.6H1231.1V422.6H1210.1zM518.9 422.6H539.9V443.5H518.9zM686.5 422.6H707.4V443.5H686.5zM707.4 422.6H728.4V443.5H707.4zM1210.1 422.6H1231.1V443.5H1210.1zM1252 422.6H1272.9V443.5H1252zM1126.3 443.5H1147.3V464.5H1126.3zM1147.3 443.5H1168.2V464.5H1147.3zM1168.2 443.5H1189.2V464.5H1168.2zM1210.1 443.5H1231.1V464.5H1210.1zM1231.1 443.5H1252V464.5H1231.1zM1252 443.5H1272.9V464.5H1252zM833.1 464.5H854.1V485.4H833.1zM1147.3 464.5H1168.2V485.4H1147.3zM1168.2 464.5H1189.2V485.4H1168.2zM1189.2 464.5H1210.1V485.4H1189.2zM1210.1 464.5H1231.1V485.4H1210.1zM1231.1 464.5H1252V485.4H1231.1zM749.3 485.4H770.3V506.3H749.3zM791.2 485.4H812.2V506.3H791.2zM1105.4 485.4H1126.3V506.3H1105.4zM1168.2 485.4H1189.2V506.3H1168.2zM812.2 527.3H833.1V548.2H812.2zM812.2 548.2H833.1V569.2H812.2zM833.1 548.2H854.1V569.2H833.1zM1210.1 548.2H1231.1V569.2H1210.1zM1587.1 548.2H1608.1V569.2H1587.1zM812.2 569.2H833.1V590.1H812.2zM833.1 569.2H854.1V590.1H833.1zM1105.4 569.2H1126.3V590.1H1105.4zM1649.9 569.2H1670.9V590.1H1649.9zM372.3 632H393.3V653H372.3zM602.7 632H623.7V653H602.7zM1503.3 632H1524.3V653H1503.3zM539.9 653H560.8V673.9H539.9zM1503.3 653H1524.3V673.9H1503.3zM1754.7 653H1775.6V673.9H1754.7zM539.9 673.9H560.8V694.8H539.9zM1084.4 673.9H1105.4V694.8H1084.4zM1189.2 673.9H1210.1V694.8H1189.2zM309.5 715.8H330.4V736.7H309.5z"/></g></mask><mask id="km10" maskUnits="userSpaceOnUse" x="300" y="100" width="1530" height="775"><g filter="url(#wm)"><path fill="#fff" d="M393.3 192.2H414.2V213.1H393.3zM414.2 192.2H435.2V213.1H414.2zM518.9 192.2H539.9V213.1H518.9zM623.7 192.2H644.6V213.1H623.7zM1105.4 192.2H1126.3V213.1H1105.4zM518.9 213.1H539.9V234.1H518.9zM581.8 213.1H602.7V234.1H581.8zM602.7 213.1H623.7V234.1H602.7zM623.7 213.1H644.6V234.1H623.7zM979.7 213.1H1000.7V234.1H979.7zM1419.6 213.1H1440.5V234.1H1419.6zM1105.4 234.1H1126.3V255H1105.4zM1398.6 234.1H1419.6V255H1398.6zM1754.7 234.1H1775.6V255H1754.7zM1461.4 255H1482.4V276H1461.4zM1482.4 255H1503.3V276H1482.4zM1503.3 255H1524.3V276H1503.3zM518.9 296.9H539.9V317.8H518.9zM1377.7 296.9H1398.6V317.8H1377.7zM1461.4 296.9H1482.4V317.8H1461.4zM1482.4 296.9H1503.3V317.8H1482.4zM1524.3 296.9H1545.2V317.8H1524.3zM1587.1 296.9H1608.1V317.8H1587.1zM498 317.8H518.9V338.8H498zM518.9 317.8H539.9V338.8H518.9zM1419.6 317.8H1440.5V338.8H1419.6zM1461.4 317.8H1482.4V338.8H1461.4zM602.7 338.8H623.7V359.7H602.7zM1482.4 338.8H1503.3V359.7H1482.4zM1482.4 359.7H1503.3V380.7H1482.4zM854.1 380.7H875V401.6H854.1zM1566.2 380.7H1587.1V401.6H1566.2zM1796.6 380.7H1817.5V401.6H1796.6zM1796.6 401.6H1817.5V422.6H1796.6zM937.8 422.6H958.8V443.5H937.8zM1293.9 422.6H1314.8V443.5H1293.9zM1796.6 422.6H1817.5V443.5H1796.6zM791.2 443.5H812.2V464.5H791.2zM979.7 443.5H1000.7V464.5H979.7zM1105.4 443.5H1126.3V464.5H1105.4zM1377.7 443.5H1398.6V464.5H1377.7zM728.4 464.5H749.3V485.4H728.4zM770.3 464.5H791.2V485.4H770.3zM791.2 464.5H812.2V485.4H791.2zM1105.4 464.5H1126.3V485.4H1105.4zM1482.4 464.5H1503.3V485.4H1482.4zM770.3 485.4H791.2V506.3H770.3zM812.2 485.4H833.1V506.3H812.2zM833.1 485.4H854.1V506.3H833.1zM1084.4 485.4H1105.4V506.3H1084.4zM1147.3 485.4H1168.2V506.3H1147.3zM1189.2 485.4H1210.1V506.3H1189.2zM1210.1 485.4H1231.1V506.3H1210.1zM812.2 506.3H833.1V527.3H812.2zM833.1 506.3H854.1V527.3H833.1zM1105.4 506.3H1126.3V527.3H1105.4zM1147.3 506.3H1168.2V527.3H1147.3zM1168.2 506.3H1189.2V527.3H1168.2zM1210.1 506.3H1231.1V527.3H1210.1zM1293.9 506.3H1314.8V527.3H1293.9zM1105.4 527.3H1126.3V548.2H1105.4zM1210.1 527.3H1231.1V548.2H1210.1zM1147.3 548.2H1168.2V569.2H1147.3zM1147.3 569.2H1168.2V590.1H1147.3zM435.2 694.8H456.1V715.8H435.2zM456.1 694.8H477.1V715.8H456.1zM770.3 694.8H791.2V715.8H770.3zM791.2 715.8H812.2V736.7H791.2zM749.3 736.7H770.3V757.7H749.3z"/></g></mask><mask id="km7" maskUnits="userSpaceOnUse" x="300" y="100" width="1530" height="775"><g filter="url(#wm)"><path fill="#fff" d="M435.2 192.2H456.1V213.1H435.2zM456.1 192.2H477.1V213.1H456.1zM477.1 192.2H498V213.1H477.1zM498 192.2H518.9V213.1H498zM539.9 192.2H560.8V213.1H539.9zM560.8 192.2H581.8V213.1H560.8zM581.8 192.2H602.7V213.1H581.8zM602.7 192.2H623.7V213.1H602.7zM791.2 192.2H812.2V213.1H791.2zM979.7 192.2H1000.7V213.1H979.7zM1042.6 192.2H1063.5V213.1H1042.6zM1210.1 192.2H1231.1V213.1H1210.1zM560.8 213.1H581.8V234.1H560.8zM791.2 213.1H812.2V234.1H791.2zM1189.2 213.1H1210.1V234.1H1189.2zM1210.1 213.1H1231.1V234.1H1210.1zM1293.9 213.1H1314.8V234.1H1293.9zM1733.7 213.1H1754.7V234.1H1733.7zM330.4 234.1H351.4V255H330.4zM351.4 234.1H372.3V255H351.4zM393.3 234.1H414.2V255H393.3zM498 234.1H518.9V255H498zM812.2 234.1H833.1V255H812.2zM1021.6 234.1H1042.6V255H1021.6zM1147.3 234.1H1168.2V255H1147.3zM1210.1 234.1H1231.1V255H1210.1zM1335.8 234.1H1356.7V255H1335.8zM1649.9 234.1H1670.9V255H1649.9zM1670.9 234.1H1691.8V255H1670.9zM1733.7 234.1H1754.7V255H1733.7zM1775.6 234.1H1796.6V255H1775.6zM518.9 255H539.9V276H518.9zM686.5 255H707.4V276H686.5zM812.2 255H833.1V276H812.2zM1231.1 255H1252V276H1231.1zM1587.1 255H1608.1V276H1587.1zM1608.1 255H1629V276H1608.1zM1649.9 255H1670.9V276H1649.9zM498 276H518.9V296.9H498zM518.9 276H539.9V296.9H518.9zM665.6 276H686.5V296.9H665.6zM686.5 276H707.4V296.9H686.5zM833.1 276H854.1V296.9H833.1zM854.1 276H875V296.9H854.1zM916.9 276H937.8V296.9H916.9zM1000.7 276H1021.6V296.9H1000.7zM1649.9 276H1670.9V296.9H1649.9zM372.3 296.9H393.3V317.8H372.3zM498 296.9H518.9V317.8H498zM854.1 296.9H875V317.8H854.1zM895.9 296.9H916.9V317.8H895.9zM916.9 296.9H937.8V317.8H916.9zM937.8 296.9H958.8V317.8H937.8zM1084.4 296.9H1105.4V317.8H1084.4zM1126.3 296.9H1147.3V317.8H1126.3zM1608.1 296.9H1629V317.8H1608.1zM456.1 317.8H477.1V338.8H456.1zM937.8 317.8H958.8V338.8H937.8zM979.7 317.8H1000.7V338.8H979.7zM1063.5 317.8H1084.4V338.8H1063.5zM372.3 338.8H393.3V359.7H372.3zM498 338.8H518.9V359.7H498zM518.9 338.8H539.9V359.7H518.9zM770.3 338.8H791.2V359.7H770.3zM791.2 338.8H812.2V359.7H791.2zM875 338.8H895.9V359.7H875zM958.8 338.8H979.7V359.7H958.8zM1084.4 338.8H1105.4V359.7H1084.4zM1105.4 338.8H1126.3V359.7H1105.4zM1126.3 338.8H1147.3V359.7H1126.3zM728.4 359.7H749.3V380.7H728.4zM770.3 359.7H791.2V380.7H770.3zM791.2 359.7H812.2V380.7H791.2zM895.9 359.7H916.9V380.7H895.9zM1587.1 359.7H1608.1V380.7H1587.1zM1775.6 359.7H1796.6V380.7H1775.6zM518.9 380.7H539.9V401.6H518.9zM665.6 380.7H686.5V401.6H665.6zM875 380.7H895.9V401.6H875zM1461.4 380.7H1482.4V401.6H1461.4zM435.2 401.6H456.1V422.6H435.2zM539.9 401.6H560.8V422.6H539.9zM686.5 401.6H707.4V422.6H686.5zM937.8 401.6H958.8V422.6H937.8zM1000.7 401.6H1021.6V422.6H1000.7zM1021.6 401.6H1042.6V422.6H1021.6zM1042.6 401.6H1063.5V422.6H1042.6zM1461.4 401.6H1482.4V422.6H1461.4zM1503.3 401.6H1524.3V422.6H1503.3zM1649.9 401.6H1670.9V422.6H1649.9zM665.6 422.6H686.5V443.5H665.6zM791.2 422.6H812.2V443.5H791.2zM854.1 422.6H875V443.5H854.1zM1021.6 422.6H1042.6V443.5H1021.6zM1084.4 422.6H1105.4V443.5H1084.4zM1105.4 422.6H1126.3V443.5H1105.4zM1231.1 422.6H1252V443.5H1231.1zM1272.9 422.6H1293.9V443.5H1272.9zM1398.6 422.6H1419.6V443.5H1398.6zM1419.6 422.6H1440.5V443.5H1419.6zM435.2 443.5H456.1V464.5H435.2zM1000.7 443.5H1021.6V464.5H1000.7zM1084.4 443.5H1105.4V464.5H1084.4zM1398.6 443.5H1419.6V464.5H1398.6zM1419.6 443.5H1440.5V464.5H1419.6zM351.4 464.5H372.3V485.4H351.4zM958.8 464.5H979.7V485.4H958.8zM979.7 464.5H1000.7V485.4H979.7zM1084.4 464.5H1105.4V485.4H1084.4zM1398.6 464.5H1419.6V485.4H1398.6zM1419.6 464.5H1440.5V485.4H1419.6zM351.4 485.4H372.3V506.3H351.4zM456.1 485.4H477.1V506.3H456.1zM581.8 485.4H602.7V506.3H581.8zM665.6 485.4H686.5V506.3H665.6zM875 485.4H895.9V506.3H875zM1293.9 485.4H1314.8V506.3H1293.9zM1503.3 485.4H1524.3V506.3H1503.3zM1524.3 485.4H1545.2V506.3H1524.3zM1545.2 485.4H1566.2V506.3H1545.2zM1733.7 485.4H1754.7V506.3H1733.7zM1754.7 485.4H1775.6V506.3H1754.7zM456.1 506.3H477.1V527.3H456.1zM875 506.3H895.9V527.3H875zM916.9 506.3H937.8V527.3H916.9zM1503.3 506.3H1524.3V527.3H1503.3zM1712.8 506.3H1733.7V527.3H1712.8zM1754.7 506.3H1775.6V527.3H1754.7zM435.2 527.3H456.1V548.2H435.2zM1754.7 527.3H1775.6V548.2H1754.7zM1775.6 527.3H1796.6V548.2H1775.6zM665.6 548.2H686.5V569.2H665.6zM1231.1 548.2H1252V569.2H1231.1zM1608.1 548.2H1629V569.2H1608.1zM1649.9 548.2H1670.9V569.2H1649.9zM1775.6 548.2H1796.6V569.2H1775.6zM330.4 569.2H351.4V590.1H330.4zM665.6 569.2H686.5V590.1H665.6zM937.8 569.2H958.8V590.1H937.8zM1440.5 569.2H1461.4V590.1H1440.5zM1775.6 569.2H1796.6V590.1H1775.6zM665.6 590.1H686.5V611.1H665.6zM875 590.1H895.9V611.1H875zM895.9 590.1H916.9V611.1H895.9zM916.9 590.1H937.8V611.1H916.9zM937.8 590.1H958.8V611.1H937.8zM979.7 590.1H1000.7V611.1H979.7zM1021.6 590.1H1042.6V611.1H1021.6zM1440.5 590.1H1461.4V611.1H1440.5zM1775.6 590.1H1796.6V611.1H1775.6zM1796.6 590.1H1817.5V611.1H1796.6zM602.7 611.1H623.7V632H602.7zM1000.7 611.1H1021.6V632H1000.7zM1021.6 611.1H1042.6V632H1021.6zM1063.5 611.1H1084.4V632H1063.5zM1398.6 611.1H1419.6V632H1398.6zM1419.6 611.1H1440.5V632H1419.6zM1461.4 611.1H1482.4V632H1461.4zM1775.6 611.1H1796.6V632H1775.6zM477.1 632H498V653H477.1zM854.1 632H875V653H854.1zM875 632H895.9V653H875zM1084.4 632H1105.4V653H1084.4zM1440.5 632H1461.4V653H1440.5zM1482.4 632H1503.3V653H1482.4zM1712.8 632H1733.7V653H1712.8zM372.3 653H393.3V673.9H372.3zM393.3 653H414.2V673.9H393.3zM770.3 653H791.2V673.9H770.3zM1021.6 653H1042.6V673.9H1021.6zM1042.6 653H1063.5V673.9H1042.6zM1063.5 653H1084.4V673.9H1063.5zM1084.4 653H1105.4V673.9H1084.4zM1712.8 653H1733.7V673.9H1712.8zM309.5 673.9H330.4V694.8H309.5zM518.9 673.9H539.9V694.8H518.9zM1021.6 673.9H1042.6V694.8H1021.6zM1629 673.9H1649.9V694.8H1629zM1649.9 673.9H1670.9V694.8H1649.9zM1712.8 673.9H1733.7V694.8H1712.8zM581.8 694.8H602.7V715.8H581.8zM1042.6 694.8H1063.5V715.8H1042.6zM1461.4 694.8H1482.4V715.8H1461.4zM1482.4 694.8H1503.3V715.8H1482.4zM1775.6 694.8H1796.6V715.8H1775.6zM581.8 715.8H602.7V736.7H581.8zM833.1 715.8H854.1V736.7H833.1zM623.7 736.7H644.6V757.7H623.7zM728.4 736.7H749.3V757.7H728.4zM791.2 736.7H812.2V757.7H791.2zM1775.6 736.7H1796.6V757.7H1775.6zM1796.6 736.7H1817.5V757.7H1796.6z"/></g></mask><mask id="km5" maskUnits="userSpaceOnUse" x="300" y="100" width="1530" height="775"><g filter="url(#wm)"><path fill="#fff" d="M833.1 192.2H854.1V213.1H833.1zM414.2 213.1H435.2V234.1H414.2zM372.3 611.1H393.3V632H372.3z"/></g></mask><mask id="km14" maskUnits="userSpaceOnUse" x="300" y="100" width="1530" height="775"><g filter="url(#wm)"><path fill="#fff" d="M937.8 192.2H958.8V213.1H937.8zM1147.3 192.2H1168.2V213.1H1147.3zM1272.9 192.2H1293.9V213.1H1272.9zM749.3 213.1H770.3V234.1H749.3zM958.8 213.1H979.7V234.1H958.8zM895.9 234.1H916.9V255H895.9zM1314.8 234.1H1335.8V255H1314.8zM979.7 296.9H1000.7V317.8H979.7zM1105.4 296.9H1126.3V317.8H1105.4zM1566.2 296.9H1587.1V317.8H1566.2zM1356.7 317.8H1377.7V338.8H1356.7zM393.3 338.8H414.2V359.7H393.3zM1398.6 338.8H1419.6V359.7H1398.6zM330.4 443.5H351.4V464.5H330.4zM456.1 443.5H477.1V464.5H456.1zM330.4 464.5H351.4V485.4H330.4zM686.5 653H707.4V673.9H686.5zM330.4 673.9H351.4V694.8H330.4zM1670.9 673.9H1691.8V694.8H1670.9zM1335.8 715.8H1356.7V736.7H1335.8z"/></g></mask><mask id="km4" maskUnits="userSpaceOnUse" x="300" y="100" width="1530" height="775"><g filter="url(#wm)"><path fill="#fff" d="M1021.6 192.2H1042.6V213.1H1021.6zM393.3 213.1H414.2V234.1H393.3zM477.1 234.1H498V255H477.1zM581.8 255H602.7V276H581.8zM1545.2 255H1566.2V276H1545.2zM623.7 276H644.6V296.9H623.7zM728.4 276H749.3V296.9H728.4zM749.3 276H770.3V296.9H749.3zM1356.7 276H1377.7V296.9H1356.7zM1419.6 276H1440.5V296.9H1419.6zM623.7 296.9H644.6V317.8H623.7zM728.4 296.9H749.3V317.8H728.4zM1147.3 296.9H1168.2V317.8H1147.3zM1670.9 296.9H1691.8V317.8H1670.9zM707.4 317.8H728.4V338.8H707.4zM1210.1 338.8H1231.1V359.7H1210.1zM1231.1 338.8H1252V359.7H1231.1zM749.3 359.7H770.3V380.7H749.3zM895.9 380.7H916.9V401.6H895.9zM1084.4 401.6H1105.4V422.6H1084.4zM1126.3 401.6H1147.3V422.6H1126.3zM1189.2 401.6H1210.1V422.6H1189.2zM1272.9 401.6H1293.9V422.6H1272.9zM1377.7 401.6H1398.6V422.6H1377.7zM1126.3 422.6H1147.3V443.5H1126.3zM1147.3 422.6H1168.2V443.5H1147.3zM1168.2 422.6H1189.2V443.5H1168.2zM895.9 485.4H916.9V506.3H895.9zM979.7 485.4H1000.7V506.3H979.7zM770.3 527.3H791.2V548.2H770.3zM875 527.3H895.9V548.2H875zM1084.4 527.3H1105.4V548.2H1084.4zM854.1 548.2H875V569.2H854.1zM875 548.2H895.9V569.2H875zM1649.9 590.1H1670.9V611.1H1649.9zM351.4 611.1H372.3V632H351.4zM1629 611.1H1649.9V632H1629z"/></g></mask><mask id="km9" maskUnits="userSpaceOnUse" x="300" y="100" width="1530" height="775"><g filter="url(#wm)"><path fill="#fff" d="M1063.5 192.2H1084.4V213.1H1063.5zM1084.4 192.2H1105.4V213.1H1084.4zM539.9 213.1H560.8V234.1H539.9zM1084.4 213.1H1105.4V234.1H1084.4zM1272.9 213.1H1293.9V234.1H1272.9zM1398.6 213.1H1419.6V234.1H1398.6zM1482.4 213.1H1503.3V234.1H1482.4zM1503.3 213.1H1524.3V234.1H1503.3zM1419.6 234.1H1440.5V255H1419.6zM560.8 276H581.8V296.9H560.8zM1461.4 276H1482.4V296.9H1461.4zM1482.4 276H1503.3V296.9H1482.4zM581.8 296.9H602.7V317.8H581.8zM1398.6 296.9H1419.6V317.8H1398.6zM581.8 317.8H602.7V338.8H581.8zM602.7 317.8H623.7V338.8H602.7zM833.1 317.8H854.1V338.8H833.1zM1126.3 317.8H1147.3V338.8H1126.3zM1147.3 317.8H1168.2V338.8H1147.3zM1398.6 317.8H1419.6V338.8H1398.6zM1440.5 317.8H1461.4V338.8H1440.5zM1335.8 338.8H1356.7V359.7H1335.8zM518.9 359.7H539.9V380.7H518.9zM414.2 401.6H435.2V422.6H414.2zM539.9 422.6H560.8V443.5H539.9zM539.9 443.5H560.8V464.5H539.9zM728.4 443.5H749.3V464.5H728.4zM854.1 443.5H875V464.5H854.1zM958.8 443.5H979.7V464.5H958.8zM1189.2 443.5H1210.1V464.5H1189.2zM539.9 464.5H560.8V485.4H539.9zM749.3 464.5H770.3V485.4H749.3zM854.1 485.4H875V506.3H854.1zM309.5 506.3H330.4V527.3H309.5zM1189.2 506.3H1210.1V527.3H1189.2zM1314.8 506.3H1335.8V527.3H1314.8zM1147.3 527.3H1168.2V548.2H1147.3zM1168.2 527.3H1189.2V548.2H1168.2zM1189.2 527.3H1210.1V548.2H1189.2zM1524.3 527.3H1545.2V548.2H1524.3zM749.3 548.2H770.3V569.2H749.3zM770.3 548.2H791.2V569.2H770.3zM1168.2 548.2H1189.2V569.2H1168.2zM749.3 569.2H770.3V590.1H749.3zM770.3 569.2H791.2V590.1H770.3zM1314.8 569.2H1335.8V590.1H1314.8zM1419.6 569.2H1440.5V590.1H1419.6zM1587.1 569.2H1608.1V590.1H1587.1zM770.3 590.1H791.2V611.1H770.3zM1126.3 590.1H1147.3V611.1H1126.3zM1189.2 590.1H1210.1V611.1H1189.2zM330.4 632H351.4V653H330.4zM812.2 715.8H833.1V736.7H812.2z"/></g></mask><mask id="km2" maskUnits="userSpaceOnUse" x="300" y="100" width="1530" height="775"><g filter="url(#wm)"><path fill="#fff" d="M1377.7 192.2H1398.6V213.1H1377.7zM330.4 213.1H351.4V234.1H330.4zM1168.2 213.1H1189.2V234.1H1168.2zM1524.3 213.1H1545.2V234.1H1524.3zM518.9 234.1H539.9V255H518.9zM539.9 234.1H560.8V255H539.9zM539.9 255H560.8V276H539.9zM581.8 276H602.7V296.9H581.8zM602.7 276H623.7V296.9H602.7zM1377.7 276H1398.6V296.9H1377.7zM1398.6 276H1419.6V296.9H1398.6zM1440.5 276H1461.4V296.9H1440.5zM1545.2 276H1566.2V296.9H1545.2zM1566.2 276H1587.1V296.9H1566.2zM560.8 296.9H581.8V317.8H560.8zM602.7 296.9H623.7V317.8H602.7zM1231.1 296.9H1252V317.8H1231.1zM1419.6 296.9H1440.5V317.8H1419.6zM1440.5 296.9H1461.4V317.8H1440.5zM560.8 317.8H581.8V338.8H560.8zM623.7 317.8H644.6V338.8H623.7zM1231.1 317.8H1252V338.8H1231.1zM1377.7 317.8H1398.6V338.8H1377.7zM833.1 338.8H854.1V359.7H833.1zM1021.6 338.8H1042.6V359.7H1021.6zM1042.6 338.8H1063.5V359.7H1042.6zM1252 338.8H1272.9V359.7H1252zM1272.9 338.8H1293.9V359.7H1272.9zM1293.9 338.8H1314.8V359.7H1293.9zM1314.8 338.8H1335.8V359.7H1314.8zM1000.7 359.7H1021.6V380.7H1000.7zM1021.6 359.7H1042.6V380.7H1021.6zM1042.6 359.7H1063.5V380.7H1042.6zM1063.5 359.7H1084.4V380.7H1063.5zM1126.3 359.7H1147.3V380.7H1126.3zM1147.3 359.7H1168.2V380.7H1147.3zM1210.1 359.7H1231.1V380.7H1210.1zM1231.1 359.7H1252V380.7H1231.1zM1252 359.7H1272.9V380.7H1252zM1293.9 359.7H1314.8V380.7H1293.9zM1335.8 359.7H1356.7V380.7H1335.8zM1000.7 380.7H1021.6V401.6H1000.7zM1021.6 380.7H1042.6V401.6H1021.6zM1042.6 380.7H1063.5V401.6H1042.6zM1063.5 380.7H1084.4V401.6H1063.5zM1126.3 380.7H1147.3V401.6H1126.3zM1147.3 380.7H1168.2V401.6H1147.3zM1231.1 380.7H1252V401.6H1231.1zM1272.9 380.7H1293.9V401.6H1272.9zM1482.4 380.7H1503.3V401.6H1482.4zM1503.3 380.7H1524.3V401.6H1503.3zM1063.5 401.6H1084.4V422.6H1063.5zM1147.3 401.6H1168.2V422.6H1147.3zM1168.2 401.6H1189.2V422.6H1168.2zM1231.1 401.6H1252V422.6H1231.1zM1252 401.6H1272.9V422.6H1252zM1377.7 422.6H1398.6V443.5H1377.7zM770.3 443.5H791.2V464.5H770.3zM812.2 464.5H833.1V485.4H812.2zM895.9 506.3H916.9V527.3H895.9zM833.1 527.3H854.1V548.2H833.1zM854.1 527.3H875V548.2H854.1zM1105.4 548.2H1126.3V569.2H1105.4zM1189.2 548.2H1210.1V569.2H1189.2zM1252 548.2H1272.9V569.2H1252zM1168.2 569.2H1189.2V590.1H1168.2zM1189.2 569.2H1210.1V590.1H1189.2zM1252 569.2H1272.9V590.1H1252zM1545.2 569.2H1566.2V590.1H1545.2zM1566.2 569.2H1587.1V590.1H1566.2zM1608.1 569.2H1629V590.1H1608.1zM1629 569.2H1649.9V590.1H1629zM749.3 590.1H770.3V611.1H749.3zM1147.3 590.1H1168.2V611.1H1147.3zM1168.2 590.1H1189.2V611.1H1168.2zM1545.2 590.1H1566.2V611.1H1545.2zM1566.2 590.1H1587.1V611.1H1566.2zM1587.1 590.1H1608.1V611.1H1587.1zM1608.1 590.1H1629V611.1H1608.1zM1629 590.1H1649.9V611.1H1629zM1147.3 611.1H1168.2V632H1147.3zM1189.2 653H1210.1V673.9H1189.2zM770.3 673.9H791.2V694.8H770.3z"/></g></mask><mask id="km1" maskUnits="userSpaceOnUse" x="300" y="100" width="1530" height="775"><g filter="url(#wm)"><path fill="#fff" d="M1398.6 192.2H1419.6V213.1H1398.6zM1775.6 192.2H1796.6V213.1H1775.6zM1796.6 192.2H1817.5V213.1H1796.6zM812.2 213.1H833.1V234.1H812.2zM854.1 213.1H875V234.1H854.1zM1147.3 213.1H1168.2V234.1H1147.3zM1587.1 213.1H1608.1V234.1H1587.1zM1608.1 213.1H1629V234.1H1608.1zM1712.8 213.1H1733.7V234.1H1712.8zM1754.7 213.1H1775.6V234.1H1754.7zM1796.6 213.1H1817.5V234.1H1796.6zM435.2 234.1H456.1V255H435.2zM623.7 234.1H644.6V255H623.7zM749.3 234.1H770.3V255H749.3zM770.3 234.1H791.2V255H770.3zM1168.2 234.1H1189.2V255H1168.2zM1461.4 234.1H1482.4V255H1461.4zM477.1 255H498V276H477.1zM623.7 255H644.6V276H623.7zM707.4 255H728.4V276H707.4zM728.4 255H749.3V276H728.4zM749.3 255H770.3V276H749.3zM791.2 255H812.2V276H791.2zM875 255H895.9V276H875zM895.9 255H916.9V276H895.9zM1629 255H1649.9V276H1629zM1670.9 255H1691.8V276H1670.9zM330.4 276H351.4V296.9H330.4zM477.1 276H498V296.9H477.1zM644.6 276H665.6V296.9H644.6zM937.8 276H958.8V296.9H937.8zM1021.6 276H1042.6V296.9H1021.6zM1147.3 276H1168.2V296.9H1147.3zM1231.1 276H1252V296.9H1231.1zM1670.9 276H1691.8V296.9H1670.9zM1712.8 276H1733.7V296.9H1712.8zM309.5 296.9H330.4V317.8H309.5zM351.4 296.9H372.3V317.8H351.4zM477.1 296.9H498V317.8H477.1zM749.3 296.9H770.3V317.8H749.3zM1000.7 296.9H1021.6V317.8H1000.7zM1168.2 296.9H1189.2V317.8H1168.2zM1629 296.9H1649.9V317.8H1629zM477.1 317.8H498V338.8H477.1zM539.9 317.8H560.8V338.8H539.9zM351.4 338.8H372.3V359.7H351.4zM456.1 338.8H477.1V359.7H456.1zM560.8 338.8H581.8V359.7H560.8zM1377.7 338.8H1398.6V359.7H1377.7zM1608.1 338.8H1629V359.7H1608.1zM1629 338.8H1649.9V359.7H1629zM1733.7 338.8H1754.7V359.7H1733.7zM393.3 359.7H414.2V380.7H393.3zM665.6 359.7H686.5V380.7H665.6zM686.5 359.7H707.4V380.7H686.5zM916.9 359.7H937.8V380.7H916.9zM958.8 359.7H979.7V380.7H958.8zM979.7 359.7H1000.7V380.7H979.7zM1419.6 359.7H1440.5V380.7H1419.6zM1461.4 359.7H1482.4V380.7H1461.4zM498 380.7H518.9V401.6H498zM581.8 380.7H602.7V401.6H581.8zM686.5 380.7H707.4V401.6H686.5zM707.4 380.7H728.4V401.6H707.4zM937.8 380.7H958.8V401.6H937.8zM1314.8 380.7H1335.8V401.6H1314.8zM1335.8 380.7H1356.7V401.6H1335.8zM1440.5 380.7H1461.4V401.6H1440.5zM1524.3 380.7H1545.2V401.6H1524.3zM1545.2 380.7H1566.2V401.6H1545.2zM1629 380.7H1649.9V401.6H1629zM1670.9 380.7H1691.8V401.6H1670.9zM372.3 401.6H393.3V422.6H372.3zM477.1 401.6H498V422.6H477.1zM560.8 401.6H581.8V422.6H560.8zM916.9 401.6H937.8V422.6H916.9zM1105.4 401.6H1126.3V422.6H1105.4zM1293.9 401.6H1314.8V422.6H1293.9zM1335.8 401.6H1356.7V422.6H1335.8zM1419.6 401.6H1440.5V422.6H1419.6zM1524.3 401.6H1545.2V422.6H1524.3zM1754.7 401.6H1775.6V422.6H1754.7zM456.1 422.6H477.1V443.5H456.1zM560.8 422.6H581.8V443.5H560.8zM1754.7 422.6H1775.6V443.5H1754.7zM477.1 443.5H498V464.5H477.1zM581.8 443.5H602.7V464.5H581.8zM895.9 443.5H916.9V464.5H895.9zM916.9 443.5H937.8V464.5H916.9zM1063.5 443.5H1084.4V464.5H1063.5zM1691.8 443.5H1712.8V464.5H1691.8zM1754.7 443.5H1775.6V464.5H1754.7zM1775.6 443.5H1796.6V464.5H1775.6zM1796.6 443.5H1817.5V464.5H1796.6zM477.1 464.5H498V485.4H477.1zM498 464.5H518.9V485.4H498zM560.8 464.5H581.8V485.4H560.8zM1314.8 464.5H1335.8V485.4H1314.8zM1335.8 464.5H1356.7V485.4H1335.8zM1691.8 464.5H1712.8V485.4H1691.8zM1796.6 464.5H1817.5V485.4H1796.6zM477.1 485.4H498V506.3H477.1zM602.7 485.4H623.7V506.3H602.7zM916.9 485.4H937.8V506.3H916.9zM1000.7 485.4H1021.6V506.3H1000.7zM1021.6 485.4H1042.6V506.3H1021.6zM1042.6 485.4H1063.5V506.3H1042.6zM1063.5 485.4H1084.4V506.3H1063.5zM1252 485.4H1272.9V506.3H1252zM1314.8 485.4H1335.8V506.3H1314.8zM1335.8 485.4H1356.7V506.3H1335.8zM1796.6 485.4H1817.5V506.3H1796.6zM477.1 506.3H498V527.3H477.1zM581.8 506.3H602.7V527.3H581.8zM602.7 506.3H623.7V527.3H602.7zM665.6 506.3H686.5V527.3H665.6zM1084.4 506.3H1105.4V527.3H1084.4zM1252 506.3H1272.9V527.3H1252zM1335.8 506.3H1356.7V527.3H1335.8zM1691.8 506.3H1712.8V527.3H1691.8zM1775.6 506.3H1796.6V527.3H1775.6zM477.1 527.3H498V548.2H477.1zM498 527.3H518.9V548.2H498zM623.7 527.3H644.6V548.2H623.7zM665.6 527.3H686.5V548.2H665.6zM895.9 527.3H916.9V548.2H895.9zM979.7 527.3H1000.7V548.2H979.7zM1000.7 527.3H1021.6V548.2H1000.7zM1293.9 527.3H1314.8V548.2H1293.9zM1482.4 527.3H1503.3V548.2H1482.4zM1712.8 527.3H1733.7V548.2H1712.8zM1796.6 527.3H1817.5V548.2H1796.6zM393.3 548.2H414.2V569.2H393.3zM518.9 548.2H539.9V569.2H518.9zM623.7 548.2H644.6V569.2H623.7zM707.4 548.2H728.4V569.2H707.4zM895.9 548.2H916.9V569.2H895.9zM937.8 548.2H958.8V569.2H937.8zM1021.6 548.2H1042.6V569.2H1021.6zM1272.9 548.2H1293.9V569.2H1272.9zM1293.9 548.2H1314.8V569.2H1293.9zM1356.7 548.2H1377.7V569.2H1356.7zM1377.7 548.2H1398.6V569.2H1377.7zM1461.4 548.2H1482.4V569.2H1461.4zM1670.9 548.2H1691.8V569.2H1670.9zM1691.8 548.2H1712.8V569.2H1691.8zM1796.6 548.2H1817.5V569.2H1796.6zM351.4 569.2H372.3V590.1H351.4zM498 569.2H518.9V590.1H498zM518.9 569.2H539.9V590.1H518.9zM560.8 569.2H581.8V590.1H560.8zM602.7 569.2H623.7V590.1H602.7zM686.5 569.2H707.4V590.1H686.5zM707.4 569.2H728.4V590.1H707.4zM895.9 569.2H916.9V590.1H895.9zM1042.6 569.2H1063.5V590.1H1042.6zM1293.9 569.2H1314.8V590.1H1293.9zM1398.6 569.2H1419.6V590.1H1398.6zM1670.9 569.2H1691.8V590.1H1670.9zM1796.6 569.2H1817.5V590.1H1796.6zM309.5 590.1H330.4V611.1H309.5zM393.3 590.1H414.2V611.1H393.3zM414.2 590.1H435.2V611.1H414.2zM518.9 590.1H539.9V611.1H518.9zM581.8 590.1H602.7V611.1H581.8zM602.7 590.1H623.7V611.1H602.7zM644.6 590.1H665.6V611.1H644.6zM686.5 590.1H707.4V611.1H686.5zM812.2 590.1H833.1V611.1H812.2zM854.1 590.1H875V611.1H854.1zM1042.6 590.1H1063.5V611.1H1042.6zM1063.5 590.1H1084.4V611.1H1063.5zM1398.6 590.1H1419.6V611.1H1398.6zM1482.4 590.1H1503.3V611.1H1482.4zM1503.3 590.1H1524.3V611.1H1503.3zM1670.9 590.1H1691.8V611.1H1670.9zM414.2 611.1H435.2V632H414.2zM518.9 611.1H539.9V632H518.9zM665.6 611.1H686.5V632H665.6zM812.2 611.1H833.1V632H812.2zM1042.6 611.1H1063.5V632H1042.6zM1356.7 611.1H1377.7V632H1356.7zM1377.7 611.1H1398.6V632H1377.7zM1482.4 611.1H1503.3V632H1482.4zM1649.9 611.1H1670.9V632H1649.9zM518.9 632H539.9V653H518.9zM539.9 632H560.8V653H539.9zM665.6 632H686.5V653H665.6zM958.8 632H979.7V653H958.8zM1126.3 632H1147.3V653H1126.3zM1147.3 632H1168.2V653H1147.3zM1252 632H1272.9V653H1252zM1398.6 632H1419.6V653H1398.6zM1566.2 632H1587.1V653H1566.2zM1587.1 632H1608.1V653H1587.1zM1670.9 632H1691.8V653H1670.9zM1691.8 632H1712.8V653H1691.8zM518.9 653H539.9V673.9H518.9zM623.7 653H644.6V673.9H623.7zM1105.4 653H1126.3V673.9H1105.4zM1272.9 653H1293.9V673.9H1272.9zM1377.7 653H1398.6V673.9H1377.7zM1545.2 653H1566.2V673.9H1545.2zM1566.2 653H1587.1V673.9H1566.2zM1587.1 653H1608.1V673.9H1587.1zM1649.9 653H1670.9V673.9H1649.9zM1670.9 653H1691.8V673.9H1670.9zM393.3 673.9H414.2V694.8H393.3zM456.1 673.9H477.1V694.8H456.1zM498 673.9H518.9V694.8H498zM623.7 673.9H644.6V694.8H623.7zM728.4 673.9H749.3V694.8H728.4zM1314.8 673.9H1335.8V694.8H1314.8zM1545.2 673.9H1566.2V694.8H1545.2zM477.1 694.8H498V715.8H477.1zM498 694.8H518.9V715.8H498zM518.9 694.8H539.9V715.8H518.9zM602.7 694.8H623.7V715.8H602.7zM644.6 694.8H665.6V715.8H644.6zM686.5 694.8H707.4V715.8H686.5zM895.9 694.8H916.9V715.8H895.9zM1210.1 694.8H1231.1V715.8H1210.1zM1272.9 694.8H1293.9V715.8H1272.9zM1712.8 694.8H1733.7V715.8H1712.8zM351.4 715.8H372.3V736.7H351.4zM372.3 715.8H393.3V736.7H372.3zM728.4 715.8H749.3V736.7H728.4zM1189.2 715.8H1210.1V736.7H1189.2zM1210.1 715.8H1231.1V736.7H1210.1zM1231.1 715.8H1252V736.7H1231.1zM1252 715.8H1272.9V736.7H1252zM1482.4 715.8H1503.3V736.7H1482.4zM1545.2 715.8H1566.2V736.7H1545.2zM1608.1 715.8H1629V736.7H1608.1zM1629 715.8H1649.9V736.7H1629zM1649.9 715.8H1670.9V736.7H1649.9zM1712.8 715.8H1733.7V736.7H1712.8zM1796.6 715.8H1817.5V736.7H1796.6z"/></g></mask><mask id="km6" maskUnits="userSpaceOnUse" x="300" y="100" width="1530" height="775"><g filter="url(#wm)"><path fill="#fff" d="M309.5 213.1H330.4V234.1H309.5zM1063.5 213.1H1084.4V234.1H1063.5zM1377.7 213.1H1398.6V234.1H1377.7zM1126.3 234.1H1147.3V255H1126.3zM1440.5 234.1H1461.4V255H1440.5zM560.8 255H581.8V276H560.8zM1356.7 255H1377.7V276H1356.7zM1629 276H1649.9V296.9H1629zM1042.6 296.9H1063.5V317.8H1042.6zM1356.7 296.9H1377.7V317.8H1356.7zM1649.9 296.9H1670.9V317.8H1649.9zM812.2 317.8H833.1V338.8H812.2zM916.9 317.8H937.8V338.8H916.9zM1042.6 317.8H1063.5V338.8H1042.6zM1168.2 317.8H1189.2V338.8H1168.2zM1252 317.8H1272.9V338.8H1252zM1293.9 317.8H1314.8V338.8H1293.9zM1335.8 317.8H1356.7V338.8H1335.8zM812.2 338.8H833.1V359.7H812.2zM854.1 338.8H875V359.7H854.1zM916.9 338.8H937.8V359.7H916.9zM1147.3 338.8H1168.2V359.7H1147.3zM1566.2 338.8H1587.1V359.7H1566.2zM309.5 359.7H330.4V380.7H309.5zM414.2 359.7H435.2V380.7H414.2zM539.9 359.7H560.8V380.7H539.9zM937.8 359.7H958.8V380.7H937.8zM1314.8 359.7H1335.8V380.7H1314.8zM309.5 380.7H330.4V401.6H309.5zM414.2 380.7H435.2V401.6H414.2zM435.2 380.7H456.1V401.6H435.2zM330.4 401.6H351.4V422.6H330.4zM958.8 401.6H979.7V422.6H958.8zM1398.6 401.6H1419.6V422.6H1398.6zM875 422.6H895.9V443.5H875zM1733.7 422.6H1754.7V443.5H1733.7zM560.8 443.5H581.8V464.5H560.8zM749.3 443.5H770.3V464.5H749.3zM875 443.5H895.9V464.5H875zM1733.7 443.5H1754.7V464.5H1733.7zM309.5 464.5H330.4V485.4H309.5zM435.2 464.5H456.1V485.4H435.2zM1733.7 464.5H1754.7V485.4H1733.7zM330.4 485.4H351.4V506.3H330.4zM435.2 485.4H456.1V506.3H435.2zM330.4 506.3H351.4V527.3H330.4zM435.2 506.3H456.1V527.3H435.2zM770.3 506.3H791.2V527.3H770.3zM791.2 506.3H812.2V527.3H791.2zM1733.7 506.3H1754.7V527.3H1733.7zM456.1 527.3H477.1V548.2H456.1zM581.8 527.3H602.7V548.2H581.8zM916.9 527.3H937.8V548.2H916.9zM560.8 548.2H581.8V569.2H560.8zM1314.8 548.2H1335.8V569.2H1314.8zM1733.7 548.2H1754.7V569.2H1733.7zM456.1 569.2H477.1V590.1H456.1zM477.1 569.2H498V590.1H477.1zM979.7 569.2H1000.7V590.1H979.7zM1000.7 569.2H1021.6V590.1H1000.7zM1021.6 569.2H1042.6V590.1H1021.6zM1210.1 569.2H1231.1V590.1H1210.1zM1231.1 569.2H1252V590.1H1231.1zM1733.7 569.2H1754.7V590.1H1733.7zM351.4 590.1H372.3V611.1H351.4zM456.1 590.1H477.1V611.1H456.1zM477.1 590.1H498V611.1H477.1zM1231.1 590.1H1252V611.1H1231.1zM1314.8 590.1H1335.8V611.1H1314.8zM1733.7 590.1H1754.7V611.1H1733.7zM1754.7 590.1H1775.6V611.1H1754.7zM309.5 611.1H330.4V632H309.5zM330.4 611.1H351.4V632H330.4zM770.3 611.1H791.2V632H770.3zM791.2 611.1H812.2V632H791.2zM833.1 611.1H854.1V632H833.1zM875 611.1H895.9V632H875zM1084.4 611.1H1105.4V632H1084.4zM1126.3 611.1H1147.3V632H1126.3zM1210.1 611.1H1231.1V632H1210.1zM1314.8 611.1H1335.8V632H1314.8zM1335.8 611.1H1356.7V632H1335.8zM1440.5 611.1H1461.4V632H1440.5zM1733.7 611.1H1754.7V632H1733.7zM1210.1 632H1231.1V653H1210.1zM1231.1 632H1252V653H1231.1zM1419.6 632H1440.5V653H1419.6zM309.5 653H330.4V673.9H309.5zM330.4 653H351.4V673.9H330.4zM414.2 653H435.2V673.9H414.2zM644.6 653H665.6V673.9H644.6zM665.6 653H686.5V673.9H665.6zM1252 653H1272.9V673.9H1252zM1398.6 653H1419.6V673.9H1398.6zM644.6 673.9H665.6V694.8H644.6zM665.6 673.9H686.5V694.8H665.6zM686.5 673.9H707.4V694.8H686.5zM707.4 673.9H728.4V694.8H707.4zM1231.1 673.9H1252V694.8H1231.1zM1252 673.9H1272.9V694.8H1252zM1272.9 673.9H1293.9V694.8H1272.9zM1335.8 673.9H1356.7V694.8H1335.8zM1566.2 673.9H1587.1V694.8H1566.2zM1587.1 673.9H1608.1V694.8H1587.1zM1608.1 673.9H1629V694.8H1608.1zM854.1 694.8H875V715.8H854.1zM1231.1 694.8H1252V715.8H1231.1zM1252 694.8H1272.9V715.8H1252zM1545.2 694.8H1566.2V715.8H1545.2zM1566.2 694.8H1587.1V715.8H1566.2zM1587.1 694.8H1608.1V715.8H1587.1zM1608.1 694.8H1629V715.8H1608.1zM1629 694.8H1649.9V715.8H1629zM1461.4 715.8H1482.4V736.7H1461.4zM1566.2 715.8H1587.1V736.7H1566.2zM1587.1 715.8H1608.1V736.7H1587.1zM1775.6 715.8H1796.6V736.7H1775.6zM770.3 736.7H791.2V757.7H770.3z"/></g></mask><mask id="km0" maskUnits="userSpaceOnUse" x="300" y="100" width="1530" height="775"><g filter="url(#wm)"><path fill="#fff" d="M372.3 213.1H393.3V234.1H372.3zM833.1 213.1H854.1V234.1H833.1zM414.2 234.1H435.2V255H414.2zM560.8 234.1H581.8V255H560.8zM581.8 234.1H602.7V255H581.8zM602.7 234.1H623.7V255H602.7zM1796.6 234.1H1817.5V255H1796.6zM309.5 255H330.4V276H309.5zM602.7 255H623.7V276H602.7zM916.9 255H937.8V276H916.9zM1252 255H1272.9V276H1252zM1272.9 255H1293.9V276H1272.9zM1293.9 255H1314.8V276H1293.9zM1314.8 255H1335.8V276H1314.8zM1335.8 255H1356.7V276H1335.8zM309.5 276H330.4V296.9H309.5zM707.4 276H728.4V296.9H707.4zM1252 276H1272.9V296.9H1252zM1272.9 276H1293.9V296.9H1272.9zM1293.9 276H1314.8V296.9H1293.9zM1314.8 276H1335.8V296.9H1314.8zM1335.8 276H1356.7V296.9H1335.8zM1587.1 276H1608.1V296.9H1587.1zM1608.1 276H1629V296.9H1608.1zM644.6 296.9H665.6V317.8H644.6zM665.6 296.9H686.5V317.8H665.6zM686.5 296.9H707.4V317.8H686.5zM707.4 296.9H728.4V317.8H707.4zM875 296.9H895.9V317.8H875zM1021.6 296.9H1042.6V317.8H1021.6zM1252 296.9H1272.9V317.8H1252zM1272.9 296.9H1293.9V317.8H1272.9zM1293.9 296.9H1314.8V317.8H1293.9zM1314.8 296.9H1335.8V317.8H1314.8zM1335.8 296.9H1356.7V317.8H1335.8zM644.6 317.8H665.6V338.8H644.6zM665.6 317.8H686.5V338.8H665.6zM686.5 317.8H707.4V338.8H686.5zM728.4 317.8H749.3V338.8H728.4zM854.1 317.8H875V338.8H854.1zM875 317.8H895.9V338.8H875zM895.9 317.8H916.9V338.8H895.9zM1021.6 317.8H1042.6V338.8H1021.6zM1272.9 317.8H1293.9V338.8H1272.9zM1314.8 317.8H1335.8V338.8H1314.8zM477.1 338.8H498V359.7H477.1zM539.9 338.8H560.8V359.7H539.9zM644.6 338.8H665.6V359.7H644.6zM665.6 338.8H686.5V359.7H665.6zM686.5 338.8H707.4V359.7H686.5zM895.9 338.8H916.9V359.7H895.9zM1168.2 338.8H1189.2V359.7H1168.2zM1189.2 338.8H1210.1V359.7H1189.2zM1356.7 338.8H1377.7V359.7H1356.7zM1545.2 338.8H1566.2V359.7H1545.2zM330.4 359.7H351.4V380.7H330.4zM372.3 359.7H393.3V380.7H372.3zM435.2 359.7H456.1V380.7H435.2zM456.1 359.7H477.1V380.7H456.1zM477.1 359.7H498V380.7H477.1zM498 359.7H518.9V380.7H498zM1356.7 359.7H1377.7V380.7H1356.7zM1377.7 359.7H1398.6V380.7H1377.7zM1398.6 359.7H1419.6V380.7H1398.6zM1545.2 359.7H1566.2V380.7H1545.2zM1733.7 359.7H1754.7V380.7H1733.7zM1754.7 359.7H1775.6V380.7H1754.7zM330.4 380.7H351.4V401.6H330.4zM372.3 380.7H393.3V401.6H372.3zM456.1 380.7H477.1V401.6H456.1zM477.1 380.7H498V401.6H477.1zM916.9 380.7H937.8V401.6H916.9zM1356.7 380.7H1377.7V401.6H1356.7zM1377.7 380.7H1398.6V401.6H1377.7zM1398.6 380.7H1419.6V401.6H1398.6zM1649.9 380.7H1670.9V401.6H1649.9zM1733.7 380.7H1754.7V401.6H1733.7zM1754.7 380.7H1775.6V401.6H1754.7zM456.1 401.6H477.1V422.6H456.1zM875 401.6H895.9V422.6H875zM895.9 401.6H916.9V422.6H895.9zM979.7 401.6H1000.7V422.6H979.7zM1733.7 401.6H1754.7V422.6H1733.7zM330.4 422.6H351.4V443.5H330.4zM1042.6 422.6H1063.5V443.5H1042.6zM1063.5 422.6H1084.4V443.5H1063.5zM1189.2 422.6H1210.1V443.5H1189.2zM895.9 464.5H916.9V485.4H895.9zM1754.7 464.5H1775.6V485.4H1754.7zM1775.6 464.5H1796.6V485.4H1775.6zM623.7 485.4H644.6V506.3H623.7zM1231.1 485.4H1252V506.3H1231.1zM1775.6 485.4H1796.6V506.3H1775.6zM351.4 506.3H372.3V527.3H351.4zM623.7 506.3H644.6V527.3H623.7zM1231.1 506.3H1252V527.3H1231.1zM602.7 527.3H623.7V548.2H602.7zM791.2 527.3H812.2V548.2H791.2zM1231.1 527.3H1252V548.2H1231.1zM1252 527.3H1272.9V548.2H1252zM1314.8 527.3H1335.8V548.2H1314.8zM1335.8 527.3H1356.7V548.2H1335.8zM1733.7 527.3H1754.7V548.2H1733.7zM414.2 548.2H435.2V569.2H414.2zM456.1 548.2H477.1V569.2H456.1zM477.1 548.2H498V569.2H477.1zM498 548.2H518.9V569.2H498zM581.8 548.2H602.7V569.2H581.8zM602.7 548.2H623.7V569.2H602.7zM791.2 548.2H812.2V569.2H791.2zM916.9 548.2H937.8V569.2H916.9zM958.8 548.2H979.7V569.2H958.8zM1335.8 548.2H1356.7V569.2H1335.8zM1482.4 548.2H1503.3V569.2H1482.4zM1754.7 548.2H1775.6V569.2H1754.7zM581.8 569.2H602.7V590.1H581.8zM623.7 569.2H644.6V590.1H623.7zM791.2 569.2H812.2V590.1H791.2zM916.9 569.2H937.8V590.1H916.9zM958.8 569.2H979.7V590.1H958.8zM1272.9 569.2H1293.9V590.1H1272.9zM1335.8 569.2H1356.7V590.1H1335.8zM1356.7 569.2H1377.7V590.1H1356.7zM1377.7 569.2H1398.6V590.1H1377.7zM1461.4 569.2H1482.4V590.1H1461.4zM1482.4 569.2H1503.3V590.1H1482.4zM1691.8 569.2H1712.8V590.1H1691.8zM1754.7 569.2H1775.6V590.1H1754.7zM330.4 590.1H351.4V611.1H330.4zM539.9 590.1H560.8V611.1H539.9zM623.7 590.1H644.6V611.1H623.7zM791.2 590.1H812.2V611.1H791.2zM958.8 590.1H979.7V611.1H958.8zM1252 590.1H1272.9V611.1H1252zM1272.9 590.1H1293.9V611.1H1272.9zM1293.9 590.1H1314.8V611.1H1293.9zM1335.8 590.1H1356.7V611.1H1335.8zM1356.7 590.1H1377.7V611.1H1356.7zM1377.7 590.1H1398.6V611.1H1377.7zM1461.4 590.1H1482.4V611.1H1461.4zM1524.3 590.1H1545.2V611.1H1524.3zM1691.8 590.1H1712.8V611.1H1691.8zM539.9 611.1H560.8V632H539.9zM623.7 611.1H644.6V632H623.7zM644.6 611.1H665.6V632H644.6zM854.1 611.1H875V632H854.1zM937.8 611.1H958.8V632H937.8zM958.8 611.1H979.7V632H958.8zM1168.2 611.1H1189.2V632H1168.2zM1189.2 611.1H1210.1V632H1189.2zM1252 611.1H1272.9V632H1252zM1272.9 611.1H1293.9V632H1272.9zM1293.9 611.1H1314.8V632H1293.9zM1545.2 611.1H1566.2V632H1545.2zM1566.2 611.1H1587.1V632H1566.2zM1587.1 611.1H1608.1V632H1587.1zM1608.1 611.1H1629V632H1608.1zM623.7 632H644.6V653H623.7zM644.6 632H665.6V653H644.6zM937.8 632H958.8V653H937.8zM1168.2 632H1189.2V653H1168.2zM1189.2 632H1210.1V653H1189.2zM435.2 653H456.1V673.9H435.2zM456.1 653H477.1V673.9H456.1zM498 653H518.9V673.9H498zM1691.8 653H1712.8V673.9H1691.8zM372.3 673.9H393.3V694.8H372.3zM477.1 673.9H498V694.8H477.1zM351.4 694.8H372.3V715.8H351.4zM372.3 694.8H393.3V715.8H372.3zM665.6 694.8H686.5V715.8H665.6zM875 694.8H895.9V715.8H875zM1733.7 694.8H1754.7V715.8H1733.7zM1796.6 694.8H1817.5V715.8H1796.6zM1733.7 715.8H1754.7V736.7H1733.7zM1754.7 715.8H1775.6V736.7H1754.7z"/></g></mask><mask id="km12" maskUnits="userSpaceOnUse" x="300" y="100" width="1530" height="775"><g filter="url(#wm)"><path fill="#fff" d="M875 213.1H895.9V234.1H875zM895.9 213.1H916.9V234.1H895.9zM1272.9 234.1H1293.9V255H1272.9zM330.4 255H351.4V276H330.4zM1775.6 255H1796.6V276H1775.6zM1105.4 317.8H1126.3V338.8H1105.4zM1733.7 317.8H1754.7V338.8H1733.7zM937.8 338.8H958.8V359.7H937.8zM875 359.7H895.9V380.7H875zM1670.9 359.7H1691.8V380.7H1670.9zM539.9 380.7H560.8V401.6H539.9zM728.4 380.7H749.3V401.6H728.4zM791.2 380.7H812.2V401.6H791.2zM1587.1 380.7H1608.1V401.6H1587.1zM1482.4 401.6H1503.3V422.6H1482.4zM1608.1 401.6H1629V422.6H1608.1zM414.2 422.6H435.2V443.5H414.2zM644.6 422.6H665.6V443.5H644.6zM979.7 422.6H1000.7V443.5H979.7zM1000.7 422.6H1021.6V443.5H1000.7zM1482.4 422.6H1503.3V443.5H1482.4zM1503.3 422.6H1524.3V443.5H1503.3zM1524.3 422.6H1545.2V443.5H1524.3zM1649.9 422.6H1670.9V443.5H1649.9zM351.4 443.5H372.3V464.5H351.4zM623.7 443.5H644.6V464.5H623.7zM644.6 443.5H665.6V464.5H644.6zM1293.9 464.5H1314.8V485.4H1293.9zM1503.3 464.5H1524.3V485.4H1503.3zM1524.3 464.5H1545.2V485.4H1524.3zM1545.2 464.5H1566.2V485.4H1545.2zM1398.6 485.4H1419.6V506.3H1398.6zM1419.6 485.4H1440.5V506.3H1419.6zM1712.8 485.4H1733.7V506.3H1712.8zM1419.6 506.3H1440.5V527.3H1419.6zM1440.5 506.3H1461.4V527.3H1440.5zM1608.1 506.3H1629V527.3H1608.1zM1629 506.3H1649.9V527.3H1629zM1398.6 527.3H1419.6V548.2H1398.6zM1566.2 527.3H1587.1V548.2H1566.2zM1608.1 527.3H1629V548.2H1608.1zM1629 527.3H1649.9V548.2H1629zM1649.9 527.3H1670.9V548.2H1649.9zM1629 548.2H1649.9V569.2H1629zM1084.4 590.1H1105.4V611.1H1084.4zM1105.4 590.1H1126.3V611.1H1105.4zM749.3 611.1H770.3V632H749.3zM1063.5 632H1084.4V653H1063.5zM707.4 653H728.4V673.9H707.4zM791.2 653H812.2V673.9H791.2zM895.9 653H916.9V673.9H895.9zM916.9 653H937.8V673.9H916.9zM1335.8 653H1356.7V673.9H1335.8zM1775.6 653H1796.6V673.9H1775.6zM1796.6 653H1817.5V673.9H1796.6zM1356.7 673.9H1377.7V694.8H1356.7zM1796.6 673.9H1817.5V694.8H1796.6zM791.2 694.8H812.2V715.8H791.2z"/></g></mask><mask id="km11" maskUnits="userSpaceOnUse" x="300" y="100" width="1530" height="775"><g filter="url(#wm)"><path fill="#fff" d="M1293.9 234.1H1314.8V255H1293.9zM498 255H518.9V276H498zM1796.6 255H1817.5V276H1796.6zM1775.6 276H1796.6V296.9H1775.6zM1796.6 276H1817.5V296.9H1796.6zM833.1 296.9H854.1V317.8H833.1zM1691.8 359.7H1712.8V380.7H1691.8zM1712.8 359.7H1733.7V380.7H1712.8zM1796.6 359.7H1817.5V380.7H1796.6zM749.3 380.7H770.3V401.6H749.3zM1691.8 380.7H1712.8V401.6H1691.8zM518.9 401.6H539.9V422.6H518.9zM749.3 401.6H770.3V422.6H749.3zM1587.1 401.6H1608.1V422.6H1587.1zM1691.8 401.6H1712.8V422.6H1691.8zM958.8 422.6H979.7V443.5H958.8zM1712.8 422.6H1733.7V443.5H1712.8zM309.5 443.5H330.4V464.5H309.5zM1293.9 443.5H1314.8V464.5H1293.9zM854.1 464.5H875V485.4H854.1zM875 464.5H895.9V485.4H875zM539.9 485.4H560.8V506.3H539.9zM560.8 485.4H581.8V506.3H560.8zM539.9 506.3H560.8V527.3H539.9zM560.8 506.3H581.8V527.3H560.8zM1398.6 506.3H1419.6V527.3H1398.6zM1524.3 506.3H1545.2V527.3H1524.3zM1545.2 506.3H1566.2V527.3H1545.2zM1545.2 527.3H1566.2V548.2H1545.2zM1000.7 590.1H1021.6V611.1H1000.7zM686.5 611.1H707.4V632H686.5zM707.4 611.1H728.4V632H707.4zM895.9 611.1H916.9V632H895.9zM895.9 632H916.9V653H895.9zM916.9 632H937.8V653H916.9zM351.4 653H372.3V673.9H351.4zM477.1 653H498V673.9H477.1zM1356.7 653H1377.7V673.9H1356.7zM351.4 673.9H372.3V694.8H351.4zM791.2 673.9H812.2V694.8H791.2zM812.2 673.9H833.1V694.8H812.2zM1754.7 694.8H1775.6V715.8H1754.7z"/></g></mask><mask id="km16" maskUnits="userSpaceOnUse" x="300" y="100" width="1530" height="775"><g filter="url(#wm)"><path fill="#fff" d="M351.4 255H372.3V276H351.4zM1670.9 338.8H1691.8V359.7H1670.9zM1691.8 338.8H1712.8V359.7H1691.8zM1649.9 359.7H1670.9V380.7H1649.9zM770.3 380.7H791.2V401.6H770.3zM791.2 401.6H812.2V422.6H791.2zM477.1 422.6H498V443.5H477.1zM1608.1 422.6H1629V443.5H1608.1zM1629 422.6H1649.9V443.5H1629zM456.1 464.5H477.1V485.4H456.1zM498 485.4H518.9V506.3H498zM1440.5 485.4H1461.4V506.3H1440.5zM1356.7 527.3H1377.7V548.2H1356.7zM833.1 632H854.1V653H833.1zM854.1 653H875V673.9H854.1z"/></g></mask><mask id="km13" maskUnits="userSpaceOnUse" x="300" y="100" width="1530" height="775"><g filter="url(#wm)"><path fill="#fff" d="M1503.3 276H1524.3V296.9H1503.3zM1524.3 276H1545.2V296.9H1524.3zM1419.6 338.8H1440.5V359.7H1419.6zM1440.5 338.8H1461.4V359.7H1440.5zM1461.4 338.8H1482.4V359.7H1461.4zM1712.8 380.7H1733.7V401.6H1712.8zM309.5 401.6H330.4V422.6H309.5zM1712.8 401.6H1733.7V422.6H1712.8zM309.5 422.6H330.4V443.5H309.5zM1712.8 443.5H1733.7V464.5H1712.8zM1712.8 464.5H1733.7V485.4H1712.8zM309.5 485.4H330.4V506.3H309.5zM958.8 485.4H979.7V506.3H958.8zM560.8 527.3H581.8V548.2H560.8zM1524.3 548.2H1545.2V569.2H1524.3zM1524.3 569.2H1545.2V590.1H1524.3zM1210.1 590.1H1231.1V611.1H1210.1zM1419.6 590.1H1440.5V611.1H1419.6zM916.9 611.1H937.8V632H916.9zM1105.4 611.1H1126.3V632H1105.4zM1231.1 611.1H1252V632H1231.1zM1754.7 611.1H1775.6V632H1754.7zM309.5 632H330.4V653H309.5zM351.4 632H372.3V653H351.4zM1231.1 653H1252V673.9H1231.1zM833.1 673.9H854.1V694.8H833.1zM812.2 694.8H833.1V715.8H812.2zM833.1 694.8H854.1V715.8H833.1zM1649.9 694.8H1670.9V715.8H1649.9zM1670.9 694.8H1691.8V715.8H1670.9z"/></g></mask><mask id="km15" maskUnits="userSpaceOnUse" x="300" y="100" width="1530" height="775"><g filter="url(#wm)"><path fill="#fff" d="M770.3 401.6H791.2V422.6H770.3zM749.3 422.6H770.3V443.5H749.3zM770.3 422.6H791.2V443.5H770.3zM1545.2 548.2H1566.2V569.2H1545.2zM1566.2 548.2H1587.1V569.2H1566.2z"/></g></mask><mask id="kn8" maskUnits="userSpaceOnUse" x="70" y="1305" width="950" height="950"><g filter="url(#wn)"><path fill="#fff" d="M543 1607.7L535.6 1607.9L528.2 1608.4L524.4 1564.8L533.7 1564.2L543 1564zM499 1613.5L491.9 1615.6L484.9 1618L469.9 1576.9L478.7 1573.9L487.7 1571.3zM373.7 1792.5L374.5 1799.9L375.6 1807.2L332.5 1814.8L331.1 1805.6L330.1 1796.3zM375.6 1807.2L377 1814.5L378.8 1821.7L336.6 1833L334.4 1824L332.5 1814.8zM378.8 1821.7L380.9 1828.8L383.3 1835.8L342.2 1850.8L339.2 1842L336.6 1833zM433.7 1907.9L439.5 1912.6L445.5 1916.9L420.4 1952.8L412.9 1947.3L405.6 1941.4zM445.5 1916.9L451.7 1921.1L458 1924.9L436.1 1962.8L428.2 1957.9L420.4 1952.8zM471.2 1931.8L478 1934.7L484.9 1937.4L469.9 1978.5L461.2 1975.1L452.7 1971.4zM587 1941.9L594.1 1939.8L601.1 1937.4L616.1 1978.5L607.3 1981.5L598.3 1984.1zM628 1924.9L634.3 1921.1L640.5 1916.9L665.6 1952.8L657.8 1957.9L649.9 1962.8zM682.2 1875.2L686.4 1869L690.2 1862.7L728.1 1884.6L723.2 1892.5L718.1 1900.3zM697.1 1849.5L700 1842.7L702.7 1835.8L743.8 1850.8L740.4 1859.5L736.7 1868zM712.3 1762.9L711.5 1755.5L710.4 1748.2L753.5 1740.6L754.9 1749.8L755.9 1759.1zM697.1 1705.9L693.8 1699.2L690.2 1692.7L728.1 1670.8L732.6 1679L736.7 1687.4zM690.2 1692.7L686.4 1686.4L682.2 1680.2L718.1 1655.1L723.2 1662.9L728.1 1670.8zM436.1 1592.6L428.2 1597.5L420.4 1602.6L394.8 1566.1L404.2 1559.8L413.8 1554zM420.4 1602.6L412.9 1608.1L405.6 1614L377 1579.8L385.8 1572.8L394.8 1566.1zM329.3 1777.7L329.5 1787L330.1 1796.3L285.7 1800.2L284.9 1789L284.7 1777.7zM330.1 1796.3L331.1 1805.6L332.5 1814.8L288.6 1822.6L286.9 1811.4L285.7 1800.2zM420.4 1952.8L428.2 1957.9L436.1 1962.8L413.8 2001.4L404.2 1995.6L394.8 1989.3zM436.1 1962.8L444.3 1967.3L452.7 1971.4L433.8 2011.8L423.7 2006.8L413.8 2001.4zM487.7 1984.1L496.7 1986.3L505.9 1988.2L498.1 2032.1L487.1 2029.9L476.1 2027.2zM505.9 1988.2L515.1 1989.6L524.4 1990.6L520.5 2035L509.3 2033.8L498.1 2032.1zM524.4 1990.6L533.7 1991.2L543 1991.4L543 2036L531.7 2035.8L520.5 2035zM598.3 1984.1L607.3 1981.5L616.1 1978.5L631.3 2020.4L620.7 2024L609.9 2027.2zM680.4 1941.4L687.4 1935.3L694.1 1928.8L725.6 1960.3L717.5 1968.1L709 1975.6zM728.1 1884.6L732.6 1876.4L736.7 1868L777.1 1886.9L772.1 1897L766.7 1906.9zM736.7 1868L740.4 1859.5L743.8 1850.8L785.7 1866L781.6 1876.5L777.1 1886.9zM756.7 1777.7L756.5 1768.4L755.9 1759.1L800.3 1755.2L801.1 1766.4L801.3 1777.7zM736.7 1687.4L732.6 1679L728.1 1670.8L766.7 1648.5L772.1 1658.4L777.1 1668.5zM680.4 1614L673.1 1608.1L665.6 1602.6L691.2 1566.1L700.2 1572.8L709 1579.8zM665.6 1602.6L657.8 1597.5L649.9 1592.6L672.2 1554L681.8 1559.8L691.2 1566.1zM649.9 1592.6L641.7 1588.1L633.3 1584L652.2 1543.6L662.3 1548.6L672.2 1554zM580.1 1567.2L570.9 1565.8L561.6 1564.8L565.5 1520.4L576.7 1521.6L587.9 1523.3zM543 1519.4L531.7 1519.6L520.5 1520.4L516.5 1474.9L529.7 1474L543 1473.8zM288.6 1732.8L286.9 1744L285.7 1755.2L240.2 1751.2L241.7 1738L243.7 1724.9zM285.7 1755.2L284.9 1766.4L284.7 1777.7L239.1 1777.7L239.3 1764.4L240.2 1751.2zM284.7 1777.7L284.9 1789L285.7 1800.2L240.2 1804.2L239.3 1791L239.1 1777.7zM288.6 1822.6L290.8 1833.6L293.5 1844.6L249.4 1856.4L246.3 1843.5L243.7 1830.5zM331.4 1925.9L338.1 1934.9L345.1 1943.7L310.2 1973.1L301.9 1962.7L294 1952zM360.4 1960.3L368.5 1968.1L377 1975.6L347.6 2010.5L337.7 2001.8L328.1 1992.6zM394.8 1989.3L404.2 1995.6L413.8 2001.4L391 2040.9L379.7 2034L368.7 2026.7zM413.8 2001.4L423.7 2006.8L433.8 2011.8L414.5 2053.2L402.7 2047.3L391 2040.9zM454.7 2020.4L465.3 2024L476.1 2027.2L464.3 2071.3L451.6 2067.6L439 2063.3zM520.5 2035L531.7 2035.8L543 2036L543 2081.6L529.7 2081.4L516.5 2080.5zM543 2036L554.3 2035.8L565.5 2035L569.5 2080.5L556.3 2081.4L543 2081.6zM565.5 2035L576.7 2033.8L587.9 2032.1L595.8 2077L582.7 2079L569.5 2080.5zM672.2 2001.4L681.8 1995.6L691.2 1989.3L717.3 2026.7L706.3 2034L695 2040.9zM709 1975.6L717.5 1968.1L725.6 1960.3L757.9 1992.6L748.3 2001.8L738.4 2010.5zM725.6 1960.3L733.4 1952.2L740.9 1943.7L775.8 1973.1L767.1 1983L757.9 1992.6zM792.5 1844.6L795.2 1833.6L797.4 1822.6L842.3 1830.5L839.7 1843.5L836.6 1856.4zM797.4 1732.8L795.2 1721.8L792.5 1710.8L836.6 1699L839.7 1711.9L842.3 1724.9zM792.5 1710.8L789.3 1700L785.7 1689.4L828.6 1673.7L832.9 1686.3L836.6 1699zM785.7 1689.4L781.6 1678.9L777.1 1668.5L818.5 1649.2L823.8 1661.4L828.6 1673.7zM754.6 1629.5L747.9 1620.5L740.9 1611.7L775.8 1582.3L784.1 1592.7L792 1603.4zM740.9 1611.7L733.4 1603.2L725.6 1595.1L757.9 1562.8L767.1 1572.4L775.8 1582.3zM672.2 1554L662.3 1548.6L652.2 1543.6L671.5 1502.2L683.3 1508.1L695 1514.5zM652.2 1543.6L641.8 1539.1L631.3 1535L647 1492.1L659.3 1496.9L671.5 1502.2zM464.3 1484.1L451.6 1487.8L439 1492.1L423 1448L437.5 1443.1L452.2 1438.8zM439 1492.1L426.7 1496.9L414.5 1502.2L394.7 1459.7L408.7 1453.5L423 1448zM414.5 1502.2L402.7 1508.1L391 1514.5L367.6 1473.8L381 1466.5L394.7 1459.7zM391 1514.5L379.7 1521.4L368.7 1528.7L341.8 1490.3L354.5 1481.8L367.6 1473.8zM243.7 1724.9L241.7 1738L240.2 1751.2L193.5 1747.1L195.1 1731.9L197.5 1716.8zM240.2 1751.2L239.3 1764.4L239.1 1777.7L192.1 1777.7L192.5 1762.4L193.5 1747.1zM257.4 1881.7L262.2 1894L267.5 1906.2L225 1926L218.8 1912L213.3 1897.7zM391 2040.9L402.7 2047.3L414.5 2053.2L394.7 2095.7L381 2088.9L367.6 2081.6zM490.2 2077L503.3 2079L516.5 2080.5L512.4 2127.2L497.2 2125.6L482.1 2123.2zM516.5 2080.5L529.7 2081.4L543 2081.6L543 2128.6L527.7 2128.2L512.4 2127.2zM543 2081.6L556.3 2081.4L569.5 2080.5L573.6 2127.2L558.3 2128.2L543 2128.6zM569.5 2080.5L582.7 2079L595.8 2077L603.9 2123.2L588.8 2125.6L573.6 2127.2zM595.8 2077L608.8 2074.4L621.7 2071.3L633.8 2116.6L618.9 2120.3L603.9 2123.2zM621.7 2071.3L634.4 2067.6L647 2063.3L663 2107.4L648.5 2112.3L633.8 2116.6zM647 2063.3L659.3 2058.5L671.5 2053.2L691.3 2095.7L677.3 2101.9L663 2107.4zM671.5 2053.2L683.3 2047.3L695 2040.9L718.4 2081.6L705 2088.9L691.3 2095.7zM717.3 2026.7L728 2018.8L738.4 2010.5L768.5 2046.5L756.6 2056.1L744.2 2065.1zM836.6 1856.4L839.7 1843.5L842.3 1830.5L888.5 1838.6L885.6 1853.6L881.9 1868.5zM845.8 1804.2L846.7 1791L846.9 1777.7L893.9 1777.7L893.5 1793L892.5 1808.3zM846.9 1777.7L846.7 1764.4L845.8 1751.2L892.5 1747.1L893.5 1762.4L893.9 1777.7zM452.2 1438.8L437.5 1443.1L423 1448L406.4 1402.5L422.9 1396.9L439.7 1392zM423 1448L408.7 1453.5L394.7 1459.7L374.2 1415.8L390.2 1408.8L406.4 1402.5zM255.6 1576.5L247.1 1589.2L239.1 1602.3L197.2 1578L206.2 1563.2L215.9 1548.7zM213.3 1897.7L218.8 1912L225 1926L181.1 1946.5L174.1 1930.5L167.8 1914.3zM225 1926L231.8 1939.7L239.1 1953.1L197.2 1977.4L188.8 1962.1L181.1 1946.5zM239.1 1953.1L247.1 1966.2L255.6 1978.9L215.9 2006.7L206.2 1992.2L197.2 1977.4zM294.9 2025.8L306 2036.4L317.5 2046.5L286.3 2083.6L273.2 2072.1L260.7 2060zM317.5 2046.5L329.4 2056.1L341.8 2065.1L314 2104.8L299.9 2094.5L286.3 2083.6zM423 2107.4L437.5 2112.3L452.2 2116.6L439.7 2163.4L422.9 2158.5L406.4 2152.9zM512.4 2127.2L527.7 2128.2L543 2128.6L543 2177L525.6 2176.6L508.2 2175.5zM573.6 2127.2L588.8 2125.6L603.9 2123.2L612.3 2170.9L595.1 2173.6L577.8 2175.5zM603.9 2123.2L618.9 2120.3L633.8 2116.6L646.3 2163.4L629.4 2167.5L612.3 2170.9zM633.8 2116.6L648.5 2112.3L663 2107.4L679.6 2152.9L663.1 2158.5L646.3 2163.4zM691.3 2095.7L705 2088.9L718.4 2081.6L742.7 2123.5L727.4 2131.9L711.8 2139.6zM744.2 2065.1L756.6 2056.1L768.5 2046.5L799.7 2083.6L786.1 2094.5L772 2104.8zM718.4 1473.8L705 1466.5L691.3 1459.7L711.8 1415.8L727.4 1423.5L742.7 1431.9zM663 1448L648.5 1443.1L633.8 1438.8L646.3 1392L663.1 1396.9L679.6 1402.5zM406.4 1402.5L390.2 1408.8L374.2 1415.8L353 1370.3L371 1362.4L389.3 1355.3zM374.2 1415.8L358.6 1423.5L343.3 1431.9L318.2 1388.4L335.4 1379L353 1370.3zM343.3 1431.9L328.5 1440.9L314 1450.6L285.2 1409.5L301.5 1398.6L318.2 1388.4zM167.8 1914.3L174.1 1930.5L181.1 1946.5L135.6 1967.7L127.7 1949.7L120.6 1931.4zM181.1 1946.5L188.8 1962.1L197.2 1977.4L153.7 2002.5L144.3 1985.3L135.6 1967.7zM197.2 1977.4L206.2 1992.2L215.9 2006.7L174.8 2035.5L163.9 2019.2L153.7 2002.5zM374.2 2139.6L390.2 2146.6L406.4 2152.9L389.3 2200.1L371 2193L353 2185.1zM543 2177L560.4 2176.6L577.8 2175.5L582.2 2225.5L562.6 2226.8L543 2227.2zM772 2104.8L786.1 2094.5L799.7 2083.6L831.9 2122.1L816.7 2134.3L800.8 2145.9zM928.7 1674.4L923.8 1657.6L918.2 1641.1L965.4 1624L971.7 1642.5L977.2 1661.4zM904.9 1608.9L897.2 1593.3L888.8 1578L932.3 1552.9L941.7 1570.1L950.4 1587.7zM742.7 1431.9L727.4 1423.5L711.8 1415.8L733 1370.3L750.6 1379L767.8 1388.4zM679.6 1402.5L663.1 1396.9L646.3 1392L659.3 1343.5L678.2 1349L696.7 1355.3zM577.8 1379.9L560.4 1378.8L543 1378.4L543 1328.2L562.6 1328.6L582.2 1329.9zM543 1328.2L523.4 1328.6L503.8 1329.9L499.3 1277.8L521.1 1276.4L543 1275.9zM503.8 1329.9L484.3 1332L464.9 1335L455.9 1283.5L477.5 1280.2L499.3 1277.8zM464.9 1335L445.7 1338.8L426.7 1343.5L413.1 1293L434.4 1287.8L455.9 1283.5zM426.7 1343.5L407.8 1349L389.3 1355.3L371.4 1306.1L392.1 1299.1L413.1 1293zM318.2 1388.4L301.5 1398.6L285.2 1409.5L255.2 1366.6L273.4 1354.5L292.1 1343.1zM108.8 1894L114.3 1912.9L120.6 1931.4L71.4 1949.3L64.4 1928.6L58.3 1907.6zM120.6 1931.4L127.7 1949.7L135.6 1967.7L88.2 1989.8L79.4 1969.7L71.4 1949.3zM353 2185.1L371 2193L389.3 2200.1L371.4 2249.3L351 2241.3L330.9 2232.5zM426.7 2211.9L445.7 2216.6L464.9 2220.4L455.9 2271.9L434.4 2267.6L413.1 2262.4zM767.8 2167L784.5 2156.8L800.8 2145.9L830.8 2188.8L812.6 2200.9L793.9 2212.3zM800.8 2145.9L816.7 2134.3L831.9 2122.1L865.6 2162.1L848.5 2175.8L830.8 2188.8zM911.2 1519.9L899.6 1504L887.4 1488.8L927.4 1455.1L941.1 1472.2L954.1 1489.9zM887.4 1488.8L874.4 1474L860.9 1459.8L897.8 1422.9L913 1438.7L927.4 1455.1zM860.9 1459.8L846.7 1446.3L831.9 1433.3L865.6 1393.3L882 1407.7L897.8 1422.9zM831.9 1433.3L816.7 1421.1L800.8 1409.5L830.8 1366.6L848.5 1379.6L865.6 1393.3zM733 1370.3L715 1362.4L696.7 1355.3L714.6 1306.1L735 1314.1L755.1 1322.9z"/></g></mask><mask id="kn3" maskUnits="userSpaceOnUse" x="70" y="1305" width="950" height="950"><g filter="url(#wn)"><path fill="#fff" d="M528.2 1608.4L520.8 1609.2L513.5 1610.3L505.9 1567.2L515.1 1565.8L524.4 1564.8zM513.5 1610.3L506.2 1611.7L499 1613.5L487.7 1571.3L496.7 1569.1L505.9 1567.2zM375.6 1748.2L374.5 1755.5L373.7 1762.9L330.1 1759.1L331.1 1749.8L332.5 1740.6zM395.8 1862.7L399.6 1869L403.8 1875.2L367.9 1900.3L362.8 1892.5L357.9 1884.6zM499 1941.9L506.2 1943.7L513.5 1945.1L505.9 1988.2L496.7 1986.3L487.7 1984.1zM614.8 1931.8L621.5 1928.5L628 1924.9L649.9 1962.8L641.7 1967.3L633.3 1971.4zM663.2 1897.9L668.3 1892.5L673.2 1887L706.7 1915.1L700.6 1922.1L694.1 1928.8zM702.7 1835.8L705.1 1828.8L707.2 1821.7L749.4 1833L746.8 1842L743.8 1850.8zM505.9 1567.2L496.7 1569.1L487.7 1571.3L476.1 1528.2L487.1 1525.5L498.1 1523.3zM405.6 1614L398.6 1620.1L391.9 1626.6L360.4 1595.1L368.5 1587.3L377 1579.8zM391.9 1626.6L385.4 1633.3L379.3 1640.3L345.1 1611.7L352.6 1603.2L360.4 1595.1zM332.5 1740.6L331.1 1749.8L330.1 1759.1L285.7 1755.2L286.9 1744L288.6 1732.8zM330.1 1759.1L329.5 1768.4L329.3 1777.7L284.7 1777.7L284.9 1766.4L285.7 1755.2zM342.2 1850.8L345.6 1859.5L349.3 1868L308.9 1886.9L304.4 1876.5L300.3 1866zM580.1 1988.2L589.3 1986.3L598.3 1984.1L609.9 2027.2L598.9 2029.9L587.9 2032.1zM694.1 1928.8L700.6 1922.1L706.7 1915.1L740.9 1943.7L733.4 1952.2L725.6 1960.3zM743.8 1850.8L746.8 1842L749.4 1833L792.5 1844.6L789.3 1855.4L785.7 1866zM755.9 1759.1L754.9 1749.8L753.5 1740.6L797.4 1732.8L799.1 1744L800.3 1755.2zM728.1 1670.8L723.2 1662.9L718.1 1655.1L754.6 1629.5L760.9 1638.9L766.7 1648.5zM694.1 1626.6L687.4 1620.1L680.4 1614L709 1579.8L717.5 1587.3L725.6 1595.1zM476.1 1528.2L465.3 1531.4L454.7 1535L439 1492.1L451.6 1487.8L464.3 1484.1zM394.8 1566.1L385.8 1572.8L377 1579.8L347.6 1544.9L358 1536.6L368.7 1528.7zM308.9 1886.9L313.9 1897L319.3 1906.9L279.8 1929.7L273.4 1918L267.5 1906.2zM476.1 2027.2L487.1 2029.9L498.1 2032.1L490.2 2077L477.2 2074.4L464.3 2071.3zM725.6 1595.1L717.5 1587.3L709 1579.8L738.4 1544.9L748.3 1553.6L757.9 1562.8zM842.3 1830.5L844.3 1817.4L845.8 1804.2L892.5 1808.3L890.9 1823.5L888.5 1838.6zM828.6 1673.7L823.8 1661.4L818.5 1649.2L861 1629.4L867.2 1643.4L872.7 1657.7zM806.2 1625.7L799.3 1614.4L792 1603.4L830.4 1576.5L838.9 1589.2L846.9 1602.3zM582.2 2225.5L601.7 2223.4L621.1 2220.4L630.1 2271.9L608.5 2275.2L586.7 2277.6z"/></g></mask><mask id="kn10" maskUnits="userSpaceOnUse" x="70" y="1305" width="950" height="950"><g filter="url(#wn)"><path fill="#fff" d="M484.9 1618L478 1620.7L471.2 1623.6L452.7 1584L461.2 1580.3L469.9 1576.9zM471.2 1623.6L464.5 1626.9L458 1630.5L436.1 1592.6L444.3 1588.1L452.7 1584zM412.8 1668.4L408.1 1674.2L403.8 1680.2L367.9 1655.1L373.4 1647.6L379.3 1640.3zM378.8 1733.7L377 1740.9L375.6 1748.2L332.5 1740.6L334.4 1731.4L336.6 1722.4zM572.5 1945.1L579.8 1943.7L587 1941.9L598.3 1984.1L589.3 1986.3L580.1 1988.2zM379.3 1640.3L373.4 1647.6L367.9 1655.1L331.4 1629.5L338.1 1620.5L345.1 1611.7zM349.3 1687.4L345.6 1695.9L342.2 1704.6L300.3 1689.4L304.4 1678.9L308.9 1668.5zM342.2 1704.6L339.2 1713.4L336.6 1722.4L293.5 1710.8L296.7 1700L300.3 1689.4zM336.6 1722.4L334.4 1731.4L332.5 1740.6L288.6 1732.8L290.8 1721.8L293.5 1710.8zM469.9 1978.5L478.7 1981.5L487.7 1984.1L476.1 2027.2L465.3 2024L454.7 2020.4zM755.9 1796.3L756.5 1787L756.7 1777.7L801.3 1777.7L801.1 1789L800.3 1800.2zM587.9 2032.1L598.9 2029.9L609.9 2027.2L621.7 2071.3L608.8 2074.4L595.8 2077zM797.4 1822.6L799.1 1811.4L800.3 1800.2L845.8 1804.2L844.3 1817.4L842.3 1830.5zM609.9 1528.2L598.9 1525.5L587.9 1523.3L595.8 1478.4L608.8 1481L621.7 1484.1zM845.8 1751.2L844.3 1738L842.3 1724.9L888.5 1716.8L890.9 1731.9L892.5 1747.1zM842.3 1724.9L839.7 1711.9L836.6 1699L881.9 1686.9L885.6 1701.8L888.5 1716.8zM836.6 1699L832.9 1686.3L828.6 1673.7L872.7 1657.7L877.6 1672.2L881.9 1686.9zM237.1 1521L226.2 1534.6L215.9 1548.7L174.8 1519.9L186.4 1504L198.6 1488.8zM928.7 1881L932.8 1864.1L936.2 1847L985.7 1855.8L981.9 1875L977.2 1894zM940.8 1742.9L938.9 1725.6L936.2 1708.4L985.7 1699.6L988.7 1719L990.8 1738.5zM936.2 1708.4L932.8 1691.3L928.7 1674.4L977.2 1661.4L981.9 1680.4L985.7 1699.6zM918.2 1641.1L911.9 1624.9L904.9 1608.9L950.4 1587.7L958.3 1605.7L965.4 1624zM870.1 1548.7L859.8 1534.6L848.9 1521L887.4 1488.8L899.6 1504L911.2 1519.9zM225.1 1459.8L211.6 1474L198.6 1488.8L158.6 1455.1L173 1438.7L188.2 1422.9zM198.6 1488.8L186.4 1504L174.8 1519.9L131.9 1489.9L144.9 1472.2L158.6 1455.1zM990.8 1816.9L992.1 1797.3L992.5 1777.7L1044.8 1777.7L1044.3 1799.6L1042.9 1821.4zM990.8 1738.5L988.7 1719L985.7 1699.6L1037.2 1690.6L1040.5 1712.2L1042.9 1734z"/></g></mask><mask id="kn7" maskUnits="userSpaceOnUse" x="70" y="1305" width="950" height="950"><g filter="url(#wn)"><path fill="#fff" d="M458 1630.5L451.7 1634.3L445.5 1638.5L420.4 1602.6L428.2 1597.5L436.1 1592.6zM445.5 1638.5L439.5 1642.8L433.7 1647.5L405.6 1614L412.9 1608.1L420.4 1602.6zM433.7 1647.5L428.2 1652.4L422.8 1657.5L391.9 1626.6L398.6 1620.1L405.6 1614zM422.8 1657.5L417.7 1662.9L412.8 1668.4L379.3 1640.3L385.4 1633.3L391.9 1626.6zM403.8 1680.2L399.6 1686.4L395.8 1692.7L357.9 1670.8L362.8 1662.9L367.9 1655.1zM395.8 1692.7L392.2 1699.2L388.9 1705.9L349.3 1687.4L353.4 1679L357.9 1670.8zM388.9 1705.9L386 1712.7L383.3 1719.6L342.2 1704.6L345.6 1695.9L349.3 1687.4zM383.3 1719.6L380.9 1726.6L378.8 1733.7L336.6 1722.4L339.2 1713.4L342.2 1704.6zM388.9 1849.5L392.2 1856.2L395.8 1862.7L357.9 1884.6L353.4 1876.4L349.3 1868zM484.9 1937.4L491.9 1939.8L499 1941.9L487.7 1984.1L478.7 1981.5L469.9 1978.5zM528.2 1947L535.6 1947.5L543 1947.7L543 1991.4L533.7 1991.2L524.4 1990.6zM640.5 1916.9L646.5 1912.6L652.3 1907.9L680.4 1941.4L673.1 1947.3L665.6 1952.8zM357.9 1670.8L353.4 1679L349.3 1687.4L308.9 1668.5L313.9 1658.4L319.3 1648.5zM349.3 1868L353.4 1876.4L357.9 1884.6L319.3 1906.9L313.9 1897L308.9 1886.9zM649.9 1962.8L657.8 1957.9L665.6 1952.8L691.2 1989.3L681.8 1995.6L672.2 2001.4zM665.6 1952.8L673.1 1947.3L680.4 1941.4L709 1975.6L700.2 1982.6L691.2 1989.3zM718.1 1900.3L723.2 1892.5L728.1 1884.6L766.7 1906.9L760.9 1916.5L754.6 1925.9zM616.1 1576.9L607.3 1573.9L598.3 1571.3L609.9 1528.2L620.7 1531.4L631.3 1535zM520.5 1520.4L509.3 1521.6L498.1 1523.3L490.2 1478.4L503.3 1476.4L516.5 1474.9zM498.1 1523.3L487.1 1525.5L476.1 1528.2L464.3 1484.1L477.2 1481L490.2 1478.4zM454.7 1535L444.2 1539.1L433.8 1543.6L414.5 1502.2L426.7 1496.9L439 1492.1zM360.4 1595.1L352.6 1603.2L345.1 1611.7L310.2 1582.3L318.9 1572.4L328.1 1562.8zM319.3 1906.9L325.1 1916.5L331.4 1925.9L294 1952L286.7 1941L279.8 1929.7zM498.1 2032.1L509.3 2033.8L520.5 2035L516.5 2080.5L503.3 2079L490.2 2077zM631.3 2020.4L641.8 2016.3L652.2 2011.8L671.5 2053.2L659.3 2058.5L647 2063.3zM691.2 1989.3L700.2 1982.6L709 1975.6L738.4 2010.5L728 2018.8L717.3 2026.7zM777.1 1886.9L781.6 1876.5L785.7 1866L828.6 1881.7L823.8 1894L818.5 1906.2zM709 1579.8L700.2 1572.8L691.2 1566.1L717.3 1528.7L728 1536.6L738.4 1544.9zM691.2 1566.1L681.8 1559.8L672.2 1554L695 1514.5L706.3 1521.4L717.3 1528.7zM631.3 1535L620.7 1531.4L609.9 1528.2L621.7 1484.1L634.4 1487.8L647 1492.1zM587.9 1523.3L576.7 1521.6L565.5 1520.4L569.5 1474.9L582.7 1476.4L595.8 1478.4zM310.2 1582.3L301.9 1592.7L294 1603.4L255.6 1576.5L264.6 1564.1L274.2 1552.2zM239.1 1777.7L239.3 1791L240.2 1804.2L193.5 1808.3L192.5 1793L192.1 1777.7zM279.8 1929.7L286.7 1941L294 1952L255.6 1978.9L247.1 1966.2L239.1 1953.1zM738.4 2010.5L748.3 2001.8L757.9 1992.6L791.1 2025.8L780 2036.4L768.5 2046.5zM792 1603.4L784.1 1592.7L775.8 1582.3L811.8 1552.2L821.4 1564.1L830.4 1576.5zM775.8 1582.3L767.1 1572.4L757.9 1562.8L791.1 1529.6L801.7 1540.7L811.8 1552.2zM738.4 1544.9L728 1536.6L717.3 1528.7L744.2 1490.3L756.6 1499.3L768.5 1508.9zM294.9 1529.6L284.3 1540.7L274.2 1552.2L237.1 1521L248.6 1507.9L260.7 1495.4zM274.2 1552.2L264.6 1564.1L255.6 1576.5L215.9 1548.7L226.2 1534.6L237.1 1521zM193.5 1747.1L192.5 1762.4L192.1 1777.7L143.7 1777.7L144.1 1760.3L145.2 1742.9zM192.1 1777.7L192.5 1793L193.5 1808.3L145.2 1812.5L144.1 1795.1L143.7 1777.7zM255.6 1978.9L264.6 1991.3L274.2 2003.2L237.1 2034.4L226.2 2020.8L215.9 2006.7zM274.2 2003.2L284.3 2014.7L294.9 2025.8L260.7 2060L248.6 2047.5L237.1 2034.4zM341.8 2065.1L354.5 2073.6L367.6 2081.6L343.3 2123.5L328.5 2114.5L314 2104.8zM452.2 2116.6L467.1 2120.3L482.1 2123.2L473.7 2170.9L456.6 2167.5L439.7 2163.4zM768.5 1508.9L756.6 1499.3L744.2 1490.3L772 1450.6L786.1 1460.9L799.7 1471.8zM439.7 1392L422.9 1396.9L406.4 1402.5L389.3 1355.3L407.8 1349L426.7 1343.5zM260.7 1495.4L248.6 1507.9L237.1 1521L198.6 1488.8L211.6 1474L225.1 1459.8zM237.1 2034.4L248.6 2047.5L260.7 2060L225.1 2095.6L211.6 2081.4L198.6 2066.6zM286.3 2083.6L299.9 2094.5L314 2104.8L285.2 2145.9L269.3 2134.3L254.1 2122.1zM314 2104.8L328.5 2114.5L343.3 2123.5L318.2 2167L301.5 2156.8L285.2 2145.9zM343.3 2123.5L358.6 2131.9L374.2 2139.6L353 2185.1L335.4 2176.4L318.2 2167zM577.8 2175.5L595.1 2173.6L612.3 2170.9L621.1 2220.4L601.7 2223.4L582.2 2225.5zM646.3 2163.4L663.1 2158.5L679.6 2152.9L696.7 2200.1L678.2 2206.4L659.3 2211.9zM848.9 1521L837.4 1507.9L825.3 1495.4L860.9 1459.8L874.4 1474L887.4 1488.8zM285.2 1409.5L269.3 1421.1L254.1 1433.3L220.4 1393.3L237.5 1379.6L255.2 1366.6zM318.2 2167L335.4 2176.4L353 2185.1L330.9 2232.5L311.3 2222.8L292.1 2212.3zM389.3 2200.1L407.8 2206.4L426.7 2211.9L413.1 2262.4L392.1 2256.3L371.4 2249.3zM543 2227.2L562.6 2226.8L582.2 2225.5L586.7 2277.6L564.9 2279L543 2279.5z"/></g></mask><mask id="kn5" maskUnits="userSpaceOnUse" x="70" y="1305" width="950" height="950"><g filter="url(#wn)"><path fill="#fff" d="M403.8 1875.2L408.1 1881.2L412.8 1887L379.3 1915.1L373.4 1907.8L367.9 1900.3zM452.7 1584L444.3 1588.1L436.1 1592.6L413.8 1554L423.7 1548.6L433.8 1543.6z"/></g></mask><mask id="kn14" maskUnits="userSpaceOnUse" x="70" y="1305" width="950" height="950"><g filter="url(#wn)"><path fill="#fff" d="M458 1924.9L464.5 1928.5L471.2 1931.8L452.7 1971.4L444.3 1967.3L436.1 1962.8zM601.1 1937.4L608 1934.7L614.8 1931.8L633.3 1971.4L624.8 1975.1L616.1 1978.5zM673.2 1887L677.9 1881.2L682.2 1875.2L718.1 1900.3L712.6 1907.8L706.7 1915.1zM336.6 1833L339.2 1842L342.2 1850.8L300.3 1866L296.7 1855.4L293.5 1844.6zM452.7 1971.4L461.2 1975.1L469.9 1978.5L454.7 2020.4L444.2 2016.3L433.8 2011.8zM377 1975.6L385.8 1982.6L394.8 1989.3L368.7 2026.7L358 2018.8L347.6 2010.5zM766.7 1906.9L772.1 1897L777.1 1886.9L818.5 1906.2L812.6 1918L806.2 1929.7zM406.4 2152.9L422.9 2158.5L439.7 2163.4L426.7 2211.9L407.8 2206.4L389.3 2200.1zM612.3 2170.9L629.4 2167.5L646.3 2163.4L659.3 2211.9L640.3 2216.6L621.1 2220.4zM888.8 1578L879.8 1563.2L870.1 1548.7L911.2 1519.9L922.1 1536.2L932.3 1552.9zM965.4 1931.4L971.7 1912.9L977.2 1894L1027.7 1907.6L1021.6 1928.6L1014.6 1949.3z"/></g></mask><mask id="kn4" maskUnits="userSpaceOnUse" x="70" y="1305" width="950" height="950"><g filter="url(#wn)"><path fill="#fff" d="M513.5 1945.1L520.8 1946.2L528.2 1947L524.4 1990.6L515.1 1989.6L505.9 1988.2zM469.9 1576.9L461.2 1580.3L452.7 1584L433.8 1543.6L444.2 1539.1L454.7 1535zM377 1579.8L368.5 1587.3L360.4 1595.1L328.1 1562.8L337.7 1553.6L347.6 1544.9zM267.5 1649.2L262.2 1661.4L257.4 1673.7L213.3 1657.7L218.8 1643.4L225 1629.4zM818.5 1649.2L812.6 1637.4L806.2 1625.7L846.9 1602.3L854.2 1615.7L861 1629.4zM204.1 1686.9L200.4 1701.8L197.5 1716.8L149.8 1708.4L153.2 1691.3L157.3 1674.4zM197.5 1838.6L200.4 1853.6L204.1 1868.5L157.3 1881L153.2 1864.1L149.8 1847zM204.1 1868.5L208.4 1883.2L213.3 1897.7L167.8 1914.3L162.2 1897.8L157.3 1881zM872.7 1897.7L877.6 1883.2L881.9 1868.5L928.7 1881L923.8 1897.8L918.2 1914.3zM892.5 1808.3L893.5 1793L893.9 1777.7L942.3 1777.7L941.9 1795.1L940.8 1812.5zM157.3 1674.4L153.2 1691.3L149.8 1708.4L100.3 1699.6L104.1 1680.4L108.8 1661.4zM149.8 1847L153.2 1864.1L157.3 1881L108.8 1894L104.1 1875L100.3 1855.8zM679.6 2152.9L695.8 2146.6L711.8 2139.6L733 2185.1L715 2193L696.7 2200.1zM772 1450.6L757.5 1440.9L742.7 1431.9L767.8 1388.4L784.5 1398.6L800.8 1409.5zM95.2 1816.9L97.3 1836.4L100.3 1855.8L48.8 1864.8L45.5 1843.2L43.1 1821.4z"/></g></mask><mask id="kn9" maskUnits="userSpaceOnUse" x="70" y="1305" width="950" height="950"><g filter="url(#wn)"><path fill="#fff" d="M543 1947.7L550.4 1947.5L557.8 1947L561.6 1990.6L552.3 1991.2L543 1991.4zM557.8 1947L565.2 1946.2L572.5 1945.1L580.1 1988.2L570.9 1989.6L561.6 1990.6zM367.9 1655.1L362.8 1662.9L357.9 1670.8L319.3 1648.5L325.1 1638.9L331.4 1629.5zM561.6 1990.6L570.9 1989.6L580.1 1988.2L587.9 2032.1L576.7 2033.8L565.5 2035zM706.7 1915.1L712.6 1907.8L718.1 1900.3L754.6 1925.9L747.9 1934.9L740.9 1943.7zM753.5 1814.8L754.9 1805.6L755.9 1796.3L800.3 1800.2L799.1 1811.4L797.4 1822.6zM753.5 1740.6L751.6 1731.4L749.4 1722.4L792.5 1710.8L795.2 1721.8L797.4 1732.8zM749.4 1722.4L746.8 1713.4L743.8 1704.6L785.7 1689.4L789.3 1700L792.5 1710.8zM800.3 1800.2L801.1 1789L801.3 1777.7L846.9 1777.7L846.7 1791L845.8 1804.2zM239.1 1602.3L231.8 1615.7L225 1629.4L181.1 1608.9L188.8 1593.3L197.2 1578zM892.5 1747.1L890.9 1731.9L888.5 1716.8L936.2 1708.4L938.9 1725.6L940.8 1742.9zM888.5 1716.8L885.6 1701.8L881.9 1686.9L928.7 1674.4L932.8 1691.3L936.2 1708.4zM181.1 1608.9L174.1 1624.9L167.8 1641.1L120.6 1624L127.7 1605.7L135.6 1587.7zM936.2 1847L938.9 1829.8L940.8 1812.5L990.8 1816.9L988.7 1836.4L985.7 1855.8zM135.6 1587.7L127.7 1605.7L120.6 1624L71.4 1606.1L79.4 1585.7L88.2 1565.6zM120.6 1624L114.3 1642.5L108.8 1661.4L58.3 1647.8L64.4 1626.8L71.4 1606.1zM174.8 2035.5L186.4 2051.4L198.6 2066.6L158.6 2100.3L144.9 2083.2L131.9 2065.5zM659.3 2211.9L678.2 2206.4L696.7 2200.1L714.6 2249.3L693.9 2256.3L672.9 2262.4zM696.7 2200.1L715 2193L733 2185.1L755.1 2232.5L735 2241.3L714.6 2249.3zM985.7 1855.8L988.7 1836.4L990.8 1816.9L1042.9 1821.4L1040.5 1843.2L1037.2 1864.8zM992.5 1777.7L992.1 1758.1L990.8 1738.5L1042.9 1734L1044.3 1755.8L1044.8 1777.7z"/></g></mask><mask id="kn2" maskUnits="userSpaceOnUse" x="70" y="1305" width="950" height="950"><g filter="url(#wn)"><path fill="#fff" d="M707.2 1821.7L709 1814.5L710.4 1807.2L753.5 1814.8L751.6 1824L749.4 1833zM524.4 1564.8L515.1 1565.8L505.9 1567.2L498.1 1523.3L509.3 1521.6L520.5 1520.4zM633.3 1971.4L641.7 1967.3L649.9 1962.8L672.2 2001.4L662.3 2006.8L652.2 2011.8zM743.8 1704.6L740.4 1695.9L736.7 1687.4L777.1 1668.5L781.6 1678.9L785.7 1689.4zM345.1 1611.7L338.1 1620.5L331.4 1629.5L294 1603.4L301.9 1592.7L310.2 1582.3zM331.4 1629.5L325.1 1638.9L319.3 1648.5L279.8 1625.7L286.7 1614.4L294 1603.4zM294 1603.4L286.7 1614.4L279.8 1625.7L239.1 1602.3L247.1 1589.2L255.6 1576.5zM225 1629.4L218.8 1643.4L213.3 1657.7L167.8 1641.1L174.1 1624.9L181.1 1608.9zM213.3 1657.7L208.4 1672.2L204.1 1686.9L157.3 1674.4L162.2 1657.6L167.8 1641.1zM881.9 1868.5L885.6 1853.6L888.5 1838.6L936.2 1847L932.8 1864.1L928.7 1881zM888.5 1838.6L890.9 1823.5L892.5 1808.3L940.8 1812.5L938.9 1829.8L936.2 1847zM893.9 1777.7L893.5 1762.4L892.5 1747.1L940.8 1742.9L941.9 1760.3L942.3 1777.7zM861 1629.4L854.2 1615.7L846.9 1602.3L888.8 1578L897.2 1593.3L904.9 1608.9zM846.9 1602.3L838.9 1589.2L830.4 1576.5L870.1 1548.7L879.8 1563.2L888.8 1578zM197.2 1578L188.8 1593.3L181.1 1608.9L135.6 1587.7L144.3 1570.1L153.7 1552.9zM167.8 1641.1L162.2 1657.6L157.3 1674.4L108.8 1661.4L114.3 1642.5L120.6 1624zM799.7 2083.6L812.8 2072.1L825.3 2060L860.9 2095.6L846.7 2109.1L831.9 2122.1zM940.8 1812.5L941.9 1795.1L942.3 1777.7L992.5 1777.7L992.1 1797.3L990.8 1816.9zM942.3 1777.7L941.9 1760.3L940.8 1742.9L990.8 1738.5L992.1 1758.1L992.5 1777.7zM153.7 1552.9L144.3 1570.1L135.6 1587.7L88.2 1565.6L97.9 1546L108.4 1526.8zM108.8 1661.4L104.1 1680.4L100.3 1699.6L48.8 1690.6L53.1 1669.1L58.3 1647.8zM831.9 2122.1L846.7 2109.1L860.9 2095.6L897.8 2132.5L882 2147.7L865.6 2162.1zM977.2 1894L981.9 1875L985.7 1855.8L1037.2 1864.8L1032.9 1886.3L1027.7 1907.6z"/></g></mask><mask id="kn1" maskUnits="userSpaceOnUse" x="70" y="1305" width="950" height="950"><g filter="url(#wn)"><path fill="#fff" d="M710.4 1807.2L711.5 1799.9L712.3 1792.5L755.9 1796.3L754.9 1805.6L753.5 1814.8zM572.5 1610.3L565.2 1609.2L557.8 1608.4L561.6 1564.8L570.9 1565.8L580.1 1567.2zM557.8 1608.4L550.4 1607.9L543 1607.7L543 1564L552.3 1564.2L561.6 1564.8zM357.9 1884.6L362.8 1892.5L367.9 1900.3L331.4 1925.9L325.1 1916.5L319.3 1906.9zM379.3 1915.1L385.4 1922.1L391.9 1928.8L360.4 1960.3L352.6 1952.2L345.1 1943.7zM616.1 1978.5L624.8 1975.1L633.3 1971.4L652.2 2011.8L641.8 2016.3L631.3 2020.4zM718.1 1655.1L712.6 1647.6L706.7 1640.3L740.9 1611.7L747.9 1620.5L754.6 1629.5zM706.7 1640.3L700.6 1633.3L694.1 1626.6L725.6 1595.1L733.4 1603.2L740.9 1611.7zM633.3 1584L624.8 1580.3L616.1 1576.9L631.3 1535L641.8 1539.1L652.2 1543.6zM598.3 1571.3L589.3 1569.1L580.1 1567.2L587.9 1523.3L598.9 1525.5L609.9 1528.2zM561.6 1564.8L552.3 1564.2L543 1564L543 1519.4L554.3 1519.6L565.5 1520.4zM413.8 1554L404.2 1559.8L394.8 1566.1L368.7 1528.7L379.7 1521.4L391 1514.5zM293.5 1710.8L290.8 1721.8L288.6 1732.8L243.7 1724.9L246.3 1711.9L249.4 1699zM293.5 1844.6L296.7 1855.4L300.3 1866L257.4 1881.7L253.1 1869.1L249.4 1856.4zM300.3 1866L304.4 1876.5L308.9 1886.9L267.5 1906.2L262.2 1894L257.4 1881.7zM652.2 2011.8L662.3 2006.8L672.2 2001.4L695 2040.9L683.3 2047.3L671.5 2053.2zM800.3 1755.2L799.1 1744L797.4 1732.8L842.3 1724.9L844.3 1738L845.8 1751.2zM347.6 1544.9L337.7 1553.6L328.1 1562.8L294.9 1529.6L306 1519L317.5 1508.9zM249.4 1699L246.3 1711.9L243.7 1724.9L197.5 1716.8L200.4 1701.8L204.1 1686.9zM240.2 1804.2L241.7 1817.4L243.7 1830.5L197.5 1838.6L195.1 1823.5L193.5 1808.3zM243.7 1830.5L246.3 1843.5L249.4 1856.4L204.1 1868.5L200.4 1853.6L197.5 1838.6zM249.4 1856.4L253.1 1869.1L257.4 1881.7L213.3 1897.7L208.4 1883.2L204.1 1868.5zM267.5 1906.2L273.4 1918L279.8 1929.7L239.1 1953.1L231.8 1939.7L225 1926zM328.1 1992.6L337.7 2001.8L347.6 2010.5L317.5 2046.5L306 2036.4L294.9 2025.8zM347.6 2010.5L358 2018.8L368.7 2026.7L341.8 2065.1L329.4 2056.1L317.5 2046.5zM757.9 1562.8L748.3 1553.6L738.4 1544.9L768.5 1508.9L780 1519L791.1 1529.6zM717.3 1528.7L706.3 1521.4L695 1514.5L718.4 1473.8L731.5 1481.8L744.2 1490.3zM512.4 1428.2L497.2 1429.8L482.1 1432.2L473.7 1384.5L490.9 1381.8L508.2 1379.9zM317.5 1508.9L306 1519L294.9 1529.6L260.7 1495.4L273.2 1483.3L286.3 1471.8zM197.5 1716.8L195.1 1731.9L193.5 1747.1L145.2 1742.9L147.1 1725.6L149.8 1708.4zM367.6 2081.6L381 2088.9L394.7 2095.7L374.2 2139.6L358.6 2131.9L343.3 2123.5zM482.1 2123.2L497.2 2125.6L512.4 2127.2L508.2 2175.5L490.9 2173.6L473.7 2170.9zM663 2107.4L677.3 2101.9L691.3 2095.7L711.8 2139.6L695.8 2146.6L679.6 2152.9zM768.5 2046.5L780 2036.4L791.1 2025.8L825.3 2060L812.8 2072.1L799.7 2083.6zM744.2 1490.3L731.5 1481.8L718.4 1473.8L742.7 1431.9L757.5 1440.9L772 1450.6zM691.3 1459.7L677.3 1453.5L663 1448L679.6 1402.5L695.8 1408.8L711.8 1415.8zM543 1378.4L525.6 1378.8L508.2 1379.9L503.8 1329.9L523.4 1328.6L543 1328.2zM473.7 1384.5L456.6 1387.9L439.7 1392L426.7 1343.5L445.7 1338.8L464.9 1335zM286.3 1471.8L273.2 1483.3L260.7 1495.4L225.1 1459.8L239.3 1446.3L254.1 1433.3zM157.3 1881L162.2 1897.8L167.8 1914.3L120.6 1931.4L114.3 1912.9L108.8 1894zM439.7 2163.4L456.6 2167.5L473.7 2170.9L464.9 2220.4L445.7 2216.6L426.7 2211.9zM711.8 2139.6L727.4 2131.9L742.7 2123.5L767.8 2167L750.6 2176.4L733 2185.1zM825.3 1495.4L812.8 1483.3L799.7 1471.8L831.9 1433.3L846.7 1446.3L860.9 1459.8zM254.1 1433.3L239.3 1446.3L225.1 1459.8L188.2 1422.9L204 1407.7L220.4 1393.3zM174.8 1519.9L163.9 1536.2L153.7 1552.9L108.4 1526.8L119.8 1508.1L131.9 1489.9z"/></g></mask><mask id="kn6" maskUnits="userSpaceOnUse" x="70" y="1305" width="950" height="950"><g filter="url(#wn)"><path fill="#fff" d="M543 1564L533.7 1564.2L524.4 1564.8L520.5 1520.4L531.7 1519.6L543 1519.4zM543 1991.4L552.3 1991.2L561.6 1990.6L565.5 2035L554.3 2035.8L543 2036zM749.4 1833L751.6 1824L753.5 1814.8L797.4 1822.6L795.2 1833.6L792.5 1844.6zM609.9 2027.2L620.7 2024L631.3 2020.4L647 2063.3L634.4 2067.6L621.7 2071.3zM801.3 1777.7L801.1 1766.4L800.3 1755.2L845.8 1751.2L846.7 1764.4L846.9 1777.7zM279.8 1625.7L273.4 1637.4L267.5 1649.2L225 1629.4L231.8 1615.7L239.1 1602.3zM828.6 1881.7L832.9 1869.1L836.6 1856.4L881.9 1868.5L877.6 1883.2L872.7 1897.7zM791.1 1529.6L780 1519L768.5 1508.9L799.7 1471.8L812.8 1483.3L825.3 1495.4zM508.2 2175.5L525.6 2176.6L543 2177L543 2227.2L523.4 2226.8L503.8 2225.5zM918.2 1914.3L923.8 1897.8L928.7 1881L977.2 1894L971.7 1912.9L965.4 1931.4zM799.7 1471.8L786.1 1460.9L772 1450.6L800.8 1409.5L816.7 1421.1L831.9 1433.3zM153.7 2002.5L163.9 2019.2L174.8 2035.5L131.9 2065.5L119.8 2047.3L108.4 2028.6zM285.2 2145.9L301.5 2156.8L318.2 2167L292.1 2212.3L273.4 2200.9L255.2 2188.8zM503.8 2225.5L523.4 2226.8L543 2227.2L543 2279.5L521.1 2279L499.3 2277.6zM733 2185.1L750.6 2176.4L767.8 2167L793.9 2212.3L774.7 2222.8L755.1 2232.5zM860.9 2095.6L874.4 2081.4L887.4 2066.6L927.4 2100.3L913 2116.7L897.8 2132.5zM911.2 2035.5L922.1 2019.2L932.3 2002.5L977.6 2028.6L966.2 2047.3L954.1 2065.5zM950.4 1967.7L958.3 1949.7L965.4 1931.4L1014.6 1949.3L1006.6 1969.7L997.8 1989.8z"/></g></mask><mask id="kn0" maskUnits="userSpaceOnUse" x="70" y="1305" width="950" height="950"><g filter="url(#wn)"><path fill="#fff" d="M487.7 1571.3L478.7 1573.9L469.9 1576.9L454.7 1535L465.3 1531.4L476.1 1528.2zM367.9 1900.3L373.4 1907.8L379.3 1915.1L345.1 1943.7L338.1 1934.9L331.4 1925.9zM433.8 1543.6L423.7 1548.6L413.8 1554L391 1514.5L402.7 1508.1L414.5 1502.2zM319.3 1648.5L313.9 1658.4L308.9 1668.5L267.5 1649.2L273.4 1637.4L279.8 1625.7zM308.9 1668.5L304.4 1678.9L300.3 1689.4L257.4 1673.7L262.2 1661.4L267.5 1649.2zM300.3 1689.4L296.7 1700L293.5 1710.8L249.4 1699L253.1 1686.3L257.4 1673.7zM565.5 1520.4L554.3 1519.6L543 1519.4L543 1473.8L556.3 1474L569.5 1474.9zM543 1473.8L529.7 1474L516.5 1474.9L512.4 1428.2L527.7 1427.2L543 1426.8zM257.4 1673.7L253.1 1686.3L249.4 1699L204.1 1686.9L208.4 1672.2L213.3 1657.7zM368.7 2026.7L379.7 2034L391 2040.9L367.6 2081.6L354.5 2073.6L341.8 2065.1zM757.9 1992.6L767.1 1983L775.8 1973.1L811.8 2003.2L801.7 2014.7L791.1 2025.8zM775.8 1973.1L784.1 1962.7L792 1952L830.4 1978.9L821.4 1991.3L811.8 2003.2zM792 1952L799.3 1941L806.2 1929.7L846.9 1953.1L838.9 1966.2L830.4 1978.9zM806.2 1929.7L812.6 1918L818.5 1906.2L861 1926L854.2 1939.7L846.9 1953.1zM818.5 1906.2L823.8 1894L828.6 1881.7L872.7 1897.7L867.2 1912L861 1926zM543 1426.8L527.7 1427.2L512.4 1428.2L508.2 1379.9L525.6 1378.8L543 1378.4zM193.5 1808.3L195.1 1823.5L197.5 1838.6L149.8 1847L147.1 1829.8L145.2 1812.5zM791.1 2025.8L801.7 2014.7L811.8 2003.2L848.9 2034.4L837.4 2047.5L825.3 2060zM811.8 2003.2L821.4 1991.3L830.4 1978.9L870.1 2006.7L859.8 2020.8L848.9 2034.4zM830.4 1978.9L838.9 1966.2L846.9 1953.1L888.8 1977.4L879.8 1992.2L870.1 2006.7zM846.9 1953.1L854.2 1939.7L861 1926L904.9 1946.5L897.2 1962.1L888.8 1977.4zM861 1926L867.2 1912L872.7 1897.7L918.2 1914.3L911.9 1930.5L904.9 1946.5zM830.4 1576.5L821.4 1564.1L811.8 1552.2L848.9 1521L859.8 1534.6L870.1 1548.7zM811.8 1552.2L801.7 1540.7L791.1 1529.6L825.3 1495.4L837.4 1507.9L848.9 1521zM149.8 1708.4L147.1 1725.6L145.2 1742.9L95.2 1738.5L97.3 1719L100.3 1699.6zM145.2 1742.9L144.1 1760.3L143.7 1777.7L93.5 1777.7L93.9 1758.1L95.2 1738.5zM143.7 1777.7L144.1 1795.1L145.2 1812.5L95.2 1816.9L93.9 1797.3L93.5 1777.7zM145.2 1812.5L147.1 1829.8L149.8 1847L100.3 1855.8L97.3 1836.4L95.2 1816.9zM260.7 2060L273.2 2072.1L286.3 2083.6L254.1 2122.1L239.3 2109.1L225.1 2095.6zM473.7 2170.9L490.9 2173.6L508.2 2175.5L503.8 2225.5L484.3 2223.4L464.9 2220.4zM825.3 2060L837.4 2047.5L848.9 2034.4L887.4 2066.6L874.4 2081.4L860.9 2095.6zM848.9 2034.4L859.8 2020.8L870.1 2006.7L911.2 2035.5L899.6 2051.4L887.4 2066.6zM870.1 2006.7L879.8 1992.2L888.8 1977.4L932.3 2002.5L922.1 2019.2L911.2 2035.5zM888.8 1977.4L897.2 1962.1L904.9 1946.5L950.4 1967.7L941.7 1985.3L932.3 2002.5zM904.9 1946.5L911.9 1930.5L918.2 1914.3L965.4 1931.4L958.3 1949.7L950.4 1967.7zM100.3 1699.6L97.3 1719L95.2 1738.5L43.1 1734L45.5 1712.2L48.8 1690.6zM95.2 1738.5L93.9 1758.1L93.5 1777.7L41.2 1777.7L41.7 1755.8L43.1 1734zM93.5 1777.7L93.9 1797.3L95.2 1816.9L43.1 1821.4L41.7 1799.6L41.2 1777.7zM100.3 1855.8L104.1 1875L108.8 1894L58.3 1907.6L53.1 1886.3L48.8 1864.8zM198.6 2066.6L211.6 2081.4L225.1 2095.6L188.2 2132.5L173 2116.7L158.6 2100.3zM225.1 2095.6L239.3 2109.1L254.1 2122.1L220.4 2162.1L204 2147.7L188.2 2132.5zM254.1 2122.1L269.3 2134.3L285.2 2145.9L255.2 2188.8L237.5 2175.8L220.4 2162.1zM464.9 2220.4L484.3 2223.4L503.8 2225.5L499.3 2277.6L477.5 2275.2L455.9 2271.9zM887.4 2066.6L899.6 2051.4L911.2 2035.5L954.1 2065.5L941.1 2083.2L927.4 2100.3zM932.3 2002.5L941.7 1985.3L950.4 1967.7L997.8 1989.8L988.1 2009.4L977.6 2028.6z"/></g></mask><mask id="kn12" maskUnits="userSpaceOnUse" x="70" y="1305" width="950" height="950"><g filter="url(#wn)"><path fill="#fff" d="M391.9 1928.8L398.6 1935.3L405.6 1941.4L377 1975.6L368.5 1968.1L360.4 1960.3zM405.6 1941.4L412.9 1947.3L420.4 1952.8L394.8 1989.3L385.8 1982.6L377 1975.6zM740.9 1943.7L747.9 1934.9L754.6 1925.9L792 1952L784.1 1962.7L775.8 1973.1zM516.5 1474.9L503.3 1476.4L490.2 1478.4L482.1 1432.2L497.2 1429.8L512.4 1428.2zM595.8 1478.4L582.7 1476.4L569.5 1474.9L573.6 1428.2L588.8 1429.8L603.9 1432.2zM621.1 2220.4L640.3 2216.6L659.3 2211.9L672.9 2262.4L651.6 2267.6L630.1 2271.9zM696.7 1355.3L678.2 1349L659.3 1343.5L672.9 1293L693.9 1299.1L714.6 1306.1z"/></g></mask><mask id="kn11" maskUnits="userSpaceOnUse" x="70" y="1305" width="950" height="950"><g filter="url(#wn)"><path fill="#fff" d="M754.6 1925.9L760.9 1916.5L766.7 1906.9L806.2 1929.7L799.3 1941L792 1952zM328.1 1562.8L318.9 1572.4L310.2 1582.3L274.2 1552.2L284.3 1540.7L294.9 1529.6zM569.5 1474.9L556.3 1474L543 1473.8L543 1426.8L558.3 1427.2L573.6 1428.2zM603.9 1432.2L588.8 1429.8L573.6 1428.2L577.8 1379.9L595.1 1381.8L612.3 1384.5zM573.6 1428.2L558.3 1427.2L543 1426.8L543 1378.4L560.4 1378.8L577.8 1379.9zM215.9 2006.7L226.2 2020.8L237.1 2034.4L198.6 2066.6L186.4 2051.4L174.8 2035.5z"/></g></mask><mask id="kn16" maskUnits="userSpaceOnUse" x="70" y="1305" width="950" height="950"><g filter="url(#wn)"><path fill="#fff" d="M490.2 1478.4L477.2 1481L464.3 1484.1L452.2 1438.8L467.1 1435.1L482.1 1432.2z"/></g></mask><mask id="kn13" maskUnits="userSpaceOnUse" x="70" y="1305" width="950" height="950"><g filter="url(#wn)"><path fill="#fff" d="M881.9 1686.9L877.6 1672.2L872.7 1657.7L918.2 1641.1L923.8 1657.6L928.7 1674.4zM872.7 1657.7L867.2 1643.4L861 1629.4L904.9 1608.9L911.9 1624.9L918.2 1641.1z"/></g></mask><mask id="ks13" maskUnits="userSpaceOnUse" x="1110" y="1305" width="950" height="950"><g filter="url(#ws)"><path fill="#fff" d="M1582.5 2279.3L1560.6 2278.8L1538.8 2277.4L1543.3 2225.3L1562.9 2226.6L1582.5 2227zM1495.4 2271.7L1473.9 2267.4L1452.6 2262.2L1466.2 2211.7L1485.2 2216.4L1504.4 2220.2zM1871.4 1433.1L1886.2 1446.1L1900.4 1459.6L1864.8 1495.2L1852.3 1483.1L1839.2 1471.6zM1255.4 1548.5L1265.7 1534.4L1276.6 1520.8L1313.7 1552L1304.1 1563.9L1295.1 1576.3zM1278.6 1602.1L1286.6 1589L1295.1 1576.3L1333.5 1603.2L1326.2 1614.2L1319.3 1625.5zM1295.1 1576.3L1304.1 1563.9L1313.7 1552L1349.7 1582.1L1341.4 1592.5L1333.5 1603.2zM1808 2046.3L1796.1 2055.9L1783.7 2064.9L1756.8 2026.5L1767.5 2018.6L1777.9 2010.3zM1783.7 2064.9L1771 2073.4L1757.9 2081.4L1734.5 2040.7L1745.8 2033.8L1756.8 2026.5z"/></g></mask><mask id="ks9" maskUnits="userSpaceOnUse" x="1110" y="1305" width="950" height="950"><g filter="url(#ws)"><path fill="#fff" d="M1538.8 2277.4L1517 2275L1495.4 2271.7L1504.4 2220.2L1523.8 2223.2L1543.3 2225.3zM1319.3 1625.5L1326.2 1614.2L1333.5 1603.2L1370.9 1629.3L1364.6 1638.7L1358.8 1648.3z"/></g></mask><mask id="ks3" maskUnits="userSpaceOnUse" x="1110" y="1305" width="950" height="950"><g filter="url(#ws)"><path fill="#fff" d="M1452.6 2262.2L1431.6 2256.1L1410.9 2249.1L1428.8 2199.9L1447.3 2206.2L1466.2 2211.7zM1110.9 1949.1L1103.9 1928.4L1097.8 1907.4L1148.3 1893.8L1153.8 1912.7L1160.1 1931.2zM2067.2 1907.4L2061.1 1928.4L2054.1 1949.1L2004.9 1931.2L2011.2 1912.7L2016.7 1893.8zM1214.3 2035.3L1203.4 2019L1193.2 2002.3L1236.7 1977.2L1245.7 1992L1255.4 2006.5zM2016.7 1893.8L2011.2 1912.7L2004.9 1931.2L1957.7 1914.1L1963.3 1897.6L1968.2 1880.8zM1698.8 2211.7L1679.8 2216.4L1660.6 2220.2L1651.8 2170.7L1668.9 2167.3L1685.8 2163.2zM1255.4 2006.5L1245.7 1992L1236.7 1977.2L1278.6 1952.9L1286.6 1966L1295.1 1978.7zM1617.3 1379.7L1634.6 1381.6L1651.8 1384.3L1643.4 1432L1628.3 1429.6L1613.1 1428zM1782.2 1431.7L1797 1440.7L1811.5 1450.4L1783.7 1490.1L1771 1481.6L1757.9 1473.6zM1582.5 2081.4L1569.2 2081.2L1556 2080.3L1560 2034.8L1571.2 2035.6L1582.5 2035.8z"/></g></mask><mask id="ks8" maskUnits="userSpaceOnUse" x="1110" y="1305" width="950" height="950"><g filter="url(#ws)"><path fill="#fff" d="M1410.9 2249.1L1390.5 2241.1L1370.4 2232.3L1392.5 2184.9L1410.5 2192.8L1428.8 2199.9zM1294.7 2188.6L1277 2175.6L1259.9 2161.9L1293.6 2121.9L1308.8 2134.1L1324.7 2145.7zM1227.7 2132.3L1212.5 2116.5L1198.1 2100.1L1238.1 2066.4L1251.1 2081.2L1264.6 2095.4zM1147.9 2028.4L1137.4 2009.2L1127.7 1989.6L1175.1 1967.5L1183.8 1985.1L1193.2 2002.3zM1127.7 1989.6L1118.9 1969.5L1110.9 1949.1L1160.1 1931.2L1167.2 1949.5L1175.1 1967.5zM1097.8 1647.6L1103.9 1626.6L1110.9 1605.9L1160.1 1623.8L1153.8 1642.3L1148.3 1661.2zM1110.9 1605.9L1118.9 1585.5L1127.7 1565.4L1175.1 1587.5L1167.2 1605.5L1160.1 1623.8zM1127.7 1565.4L1137.4 1545.8L1147.9 1526.6L1193.2 1552.7L1183.8 1569.9L1175.1 1587.5zM1147.9 1526.6L1159.3 1507.9L1171.4 1489.7L1214.3 1519.7L1203.4 1536L1193.2 1552.7zM1410.9 1305.9L1431.6 1298.9L1452.6 1292.8L1466.2 1343.3L1447.3 1348.8L1428.8 1355.1zM1538.8 1277.6L1560.6 1276.2L1582.5 1275.7L1582.5 1328L1562.9 1328.4L1543.3 1329.7zM1669.6 1283.3L1691.1 1287.6L1712.4 1292.8L1698.8 1343.3L1679.8 1338.6L1660.6 1334.8zM1966.9 1454.9L1980.6 1472L1993.6 1489.7L1950.7 1519.7L1939.1 1503.8L1926.9 1488.6zM1993.6 1489.7L2005.7 1507.9L2017.1 1526.6L1971.8 1552.7L1961.6 1536L1950.7 1519.7zM2037.3 1565.4L2046.1 1585.5L2054.1 1605.9L2004.9 1623.8L1997.8 1605.5L1989.9 1587.5zM2067.2 1647.6L2072.4 1668.9L2076.7 1690.4L2025.2 1699.4L2021.4 1680.2L2016.7 1661.2zM2082.4 1821.2L2080 1843L2076.7 1864.6L2025.2 1855.6L2028.2 1836.2L2030.3 1816.7zM2037.3 1989.6L2027.6 2009.2L2017.1 2028.4L1971.8 2002.3L1981.2 1985.1L1989.9 1967.5zM1966.9 2100.1L1952.5 2116.5L1937.3 2132.3L1900.4 2095.4L1913.9 2081.2L1926.9 2066.4zM1937.3 2132.3L1921.5 2147.5L1905.1 2161.9L1871.4 2121.9L1886.2 2108.9L1900.4 2095.4zM1905.1 2161.9L1888 2175.6L1870.3 2188.6L1840.3 2145.7L1856.2 2134.1L1871.4 2121.9zM1754.1 2249.1L1733.4 2256.1L1712.4 2262.2L1698.8 2211.7L1717.7 2206.2L1736.2 2199.9zM1712.4 2262.2L1691.1 2267.4L1669.6 2271.7L1660.6 2220.2L1679.8 2216.4L1698.8 2211.7zM1139.8 1699.4L1143.6 1680.2L1148.3 1661.2L1196.8 1674.2L1192.7 1691.1L1189.3 1708.2zM1214.3 1519.7L1225.9 1503.8L1238.1 1488.6L1276.6 1520.8L1265.7 1534.4L1255.4 1548.5zM1264.6 1459.6L1278.8 1446.1L1293.6 1433.1L1325.8 1471.6L1312.7 1483.1L1300.2 1495.2zM1392.5 1370.1L1410.5 1362.2L1428.8 1355.1L1445.9 1402.3L1429.7 1408.6L1413.7 1415.6zM1428.8 1355.1L1447.3 1348.8L1466.2 1343.3L1479.2 1391.8L1462.4 1396.7L1445.9 1402.3zM1466.2 1343.3L1485.2 1338.6L1504.4 1334.8L1513.2 1384.3L1496.1 1387.7L1479.2 1391.8zM1698.8 1343.3L1717.7 1348.8L1736.2 1355.1L1719.1 1402.3L1702.6 1396.7L1685.8 1391.8zM1736.2 1355.1L1754.5 1362.2L1772.5 1370.1L1751.3 1415.6L1735.3 1408.6L1719.1 1402.3zM1772.5 1370.1L1790.1 1378.8L1807.3 1388.2L1782.2 1431.7L1766.9 1423.3L1751.3 1415.6zM1840.3 1409.3L1856.2 1420.9L1871.4 1433.1L1839.2 1471.6L1825.6 1460.7L1811.5 1450.4zM1950.7 1519.7L1961.6 1536L1971.8 1552.7L1928.3 1577.8L1919.3 1563L1909.6 1548.5zM1971.8 1552.7L1981.2 1569.9L1989.9 1587.5L1944.4 1608.7L1936.7 1593.1L1928.3 1577.8zM2030.3 1738.3L2031.6 1757.9L2032 1777.5L1981.8 1777.5L1981.4 1760.1L1980.3 1742.7zM2025.2 1855.6L2021.4 1874.8L2016.7 1893.8L1968.2 1880.8L1972.3 1863.9L1975.7 1846.8zM2004.9 1931.2L1997.8 1949.5L1989.9 1967.5L1944.4 1946.3L1951.4 1930.3L1957.7 1914.1zM1926.9 2066.4L1913.9 2081.2L1900.4 2095.4L1864.8 2059.8L1876.9 2047.3L1888.4 2034.2zM1900.4 2095.4L1886.2 2108.9L1871.4 2121.9L1839.2 2083.4L1852.3 2071.9L1864.8 2059.8zM1413.7 2139.4L1398.1 2131.7L1382.8 2123.3L1407.1 2081.4L1420.5 2088.7L1434.2 2095.5zM1382.8 2123.3L1368 2114.3L1353.5 2104.6L1381.3 2064.9L1394 2073.4L1407.1 2081.4zM1445.9 1402.3L1462.4 1396.7L1479.2 1391.8L1491.7 1438.6L1477 1442.9L1462.5 1447.8zM1479.2 1391.8L1496.1 1387.7L1513.2 1384.3L1521.6 1432L1506.6 1434.9L1491.7 1438.6zM1547.7 1379.7L1565.1 1378.6L1582.5 1378.2L1582.5 1426.6L1567.2 1427L1551.9 1428zM1582.5 1378.2L1599.9 1378.6L1617.3 1379.7L1613.1 1428L1597.8 1427L1582.5 1426.6zM1651.8 1384.3L1668.9 1387.7L1685.8 1391.8L1673.3 1438.6L1658.4 1434.9L1643.4 1432zM1685.8 1391.8L1702.6 1396.7L1719.1 1402.3L1702.5 1447.8L1688 1442.9L1673.3 1438.6zM1751.3 1415.6L1766.9 1423.3L1782.2 1431.7L1757.9 1473.6L1744.5 1466.3L1730.8 1459.5zM1811.5 1450.4L1825.6 1460.7L1839.2 1471.6L1808 1508.7L1796.1 1499.1L1783.7 1490.1zM1909.6 1548.5L1919.3 1563L1928.3 1577.8L1886.4 1602.1L1878.4 1589L1869.9 1576.3zM1968.2 1674.2L1972.3 1691.1L1975.7 1708.2L1928 1716.6L1925.1 1701.6L1921.4 1686.7zM1975.7 1708.2L1978.4 1725.4L1980.3 1742.7L1932 1746.9L1930.4 1731.7L1928 1716.6zM1980.3 1742.7L1981.4 1760.1L1981.8 1777.5L1933.4 1777.5L1933 1762.2L1932 1746.9zM1980.3 1812.3L1978.4 1829.6L1975.7 1846.8L1928 1838.4L1930.4 1823.3L1932 1808.1zM1975.7 1846.8L1972.3 1863.9L1968.2 1880.8L1921.4 1868.3L1925.1 1853.4L1928 1838.4zM1651.8 2170.7L1634.6 2173.4L1617.3 2175.3L1613.1 2127L1628.3 2125.4L1643.4 2123zM1551.9 2127L1536.7 2125.4L1521.6 2123L1529.7 2076.8L1542.8 2078.8L1556 2080.3zM1462.5 2107.2L1448.2 2101.7L1434.2 2095.5L1454 2053L1466.2 2058.3L1478.5 2063.1zM1278.6 1952.9L1271.3 1939.5L1264.5 1925.8L1307 1906L1312.9 1917.8L1319.3 1929.5zM1243.6 1868.3L1239.9 1853.4L1237 1838.4L1283.2 1830.3L1285.8 1843.3L1288.9 1856.2zM1233 1746.9L1234.6 1731.7L1237 1716.6L1283.2 1724.7L1281.2 1737.8L1279.7 1751zM1381.3 1490.1L1394 1481.6L1407.1 1473.6L1430.5 1514.3L1419.2 1521.2L1408.2 1528.5zM1582.5 1426.6L1597.8 1427L1613.1 1428L1609 1474.7L1595.8 1473.8L1582.5 1473.6zM1613.1 1428L1628.3 1429.6L1643.4 1432L1635.3 1478.2L1622.2 1476.2L1609 1474.7zM1673.3 1438.6L1688 1442.9L1702.5 1447.8L1686.5 1491.9L1673.9 1487.6L1661.2 1483.9zM1730.8 1459.5L1744.5 1466.3L1757.9 1473.6L1734.5 1514.3L1722.8 1507.9L1711 1502zM1757.9 1473.6L1771 1481.6L1783.7 1490.1L1756.8 1528.5L1745.8 1521.2L1734.5 1514.3zM1912.2 1657.5L1917.1 1672L1921.4 1686.7L1876.1 1698.8L1872.4 1686.1L1868.1 1673.5zM1921.4 1686.7L1925.1 1701.6L1928 1716.6L1881.8 1724.7L1879.2 1711.7L1876.1 1698.8zM1933.4 1777.5L1933 1792.8L1932 1808.1L1885.3 1804L1886.2 1790.8L1886.4 1777.5zM1921.4 1868.3L1917.1 1883L1912.2 1897.5L1868.1 1881.5L1872.4 1868.9L1876.1 1856.2zM1757.9 2081.4L1744.5 2088.7L1730.8 2095.5L1711 2053L1722.8 2047.1L1734.5 2040.7zM1556 2080.3L1542.8 2078.8L1529.7 2076.8L1537.6 2031.9L1548.8 2033.6L1560 2034.8zM1478.5 2063.1L1466.2 2058.3L1454 2053L1473.3 2011.6L1483.7 2016.1L1494.2 2020.2zM1430.5 2040.7L1419.2 2033.8L1408.2 2026.5L1434.3 1989.1L1443.7 1995.4L1453.3 2001.2zM1387.1 2010.3L1377.2 2001.6L1367.6 1992.4L1399.9 1960.1L1408 1967.9L1416.5 1975.4zM1367.6 1992.4L1358.4 1982.8L1349.7 1972.9L1384.6 1943.5L1392.1 1952L1399.9 1960.1zM1319.3 1929.5L1312.9 1917.8L1307 1906L1348.4 1886.7L1353.4 1896.8L1358.8 1906.7zM1296.9 1881.5L1292.6 1868.9L1288.9 1856.2L1333 1844.4L1336.2 1855.2L1339.8 1865.8zM1278.6 1777.5L1278.8 1764.2L1279.7 1751L1325.2 1755L1324.4 1766.2L1324.2 1777.5zM1279.7 1751L1281.2 1737.8L1283.2 1724.7L1328.1 1732.6L1326.4 1743.8L1325.2 1755zM1288.9 1698.8L1292.6 1686.1L1296.9 1673.5L1339.8 1689.2L1336.2 1699.8L1333 1710.6zM1349.7 1582.1L1358.4 1572.2L1367.6 1562.6L1399.9 1594.9L1392.1 1603L1384.6 1611.5zM1367.6 1562.6L1377.2 1553.4L1387.1 1544.7L1416.5 1579.6L1408 1587.1L1399.9 1594.9zM1686.5 1491.9L1698.8 1496.7L1711 1502L1691.7 1543.4L1681.3 1538.9L1670.8 1534.8zM1711 1502L1722.8 1507.9L1734.5 1514.3L1711.7 1553.8L1701.8 1548.4L1691.7 1543.4zM1815.3 1582.1L1823.6 1592.5L1831.5 1603.2L1794.1 1629.3L1787.4 1620.3L1780.4 1611.5zM1845.7 1625.5L1852.1 1637.2L1858 1649L1816.6 1668.3L1811.6 1658.2L1806.2 1648.3zM1868.1 1673.5L1872.4 1686.1L1876.1 1698.8L1832 1710.6L1828.8 1699.8L1825.2 1689.2zM1886.4 1777.5L1886.2 1790.8L1885.3 1804L1839.8 1800L1840.6 1788.8L1840.8 1777.5zM1756.8 2026.5L1745.8 2033.8L1734.5 2040.7L1711.7 2001.2L1721.3 1995.4L1730.7 1989.1zM1734.5 2040.7L1722.8 2047.1L1711 2053L1691.7 2011.6L1701.8 2006.6L1711.7 2001.2zM1582.5 2035.8L1571.2 2035.6L1560 2034.8L1563.9 1990.4L1573.2 1991L1582.5 1991.2zM1537.6 2031.9L1526.6 2029.7L1515.6 2027L1527.2 1983.9L1536.2 1986.1L1545.4 1988zM1515.6 2027L1504.8 2023.8L1494.2 2020.2L1509.4 1978.3L1518.2 1981.3L1527.2 1983.9zM1494.2 2020.2L1483.7 2016.1L1473.3 2011.6L1492.2 1971.2L1500.7 1974.9L1509.4 1978.3zM1416.5 1975.4L1408 1967.9L1399.9 1960.1L1431.4 1928.6L1438.1 1935.1L1445.1 1941.2zM1370.9 1925.7L1364.6 1916.3L1358.8 1906.7L1397.4 1884.4L1402.3 1892.3L1407.4 1900.1zM1339.8 1865.8L1336.2 1855.2L1333 1844.4L1376.1 1832.8L1378.7 1841.8L1381.7 1850.6zM1328.1 1822.4L1326.4 1811.2L1325.2 1800L1369.6 1796.1L1370.6 1805.4L1372 1814.6zM1358.8 1648.3L1364.6 1638.7L1370.9 1629.3L1407.4 1654.9L1402.3 1662.7L1397.4 1670.6zM1748.5 1579.6L1757 1587.1L1765.1 1594.9L1733.6 1626.4L1726.9 1619.9L1719.9 1613.8zM1765.1 1594.9L1772.9 1603L1780.4 1611.5L1746.2 1640.1L1740.1 1633.1L1733.6 1626.4zM1806.2 1648.3L1811.6 1658.2L1816.6 1668.3L1776.2 1687.2L1772.1 1678.8L1767.6 1670.6zM1816.6 1668.3L1821.1 1678.7L1825.2 1689.2L1783.3 1704.4L1779.9 1695.7L1776.2 1687.2zM1816.6 1886.7L1811.6 1896.8L1806.2 1906.7L1767.6 1884.4L1772.1 1876.2L1776.2 1867.8zM1794.1 1925.7L1787.4 1934.7L1780.4 1943.5L1746.2 1914.9L1752.1 1907.6L1757.6 1900.1zM1372 1740.4L1373.9 1731.2L1376.1 1722.2L1418.3 1733.5L1416.5 1740.7L1415.1 1748z"/></g></mask><mask id="ks7" maskUnits="userSpaceOnUse" x="1110" y="1305" width="950" height="950"><g filter="url(#ws)"><path fill="#fff" d="M1259.9 2161.9L1243.5 2147.5L1227.7 2132.3L1264.6 2095.4L1278.8 2108.9L1293.6 2121.9zM1198.1 1454.9L1212.5 1438.5L1227.7 1422.7L1264.6 1459.6L1251.1 1473.8L1238.1 1488.6zM1227.7 1422.7L1243.5 1407.5L1259.9 1393.1L1293.6 1433.1L1278.8 1446.1L1264.6 1459.6zM1626.2 1277.6L1648 1280L1669.6 1283.3L1660.6 1334.8L1641.2 1331.8L1621.7 1329.7zM2084.3 1777.5L2083.8 1799.4L2082.4 1821.2L2030.3 1816.7L2031.6 1797.1L2032 1777.5zM2076.7 1864.6L2072.4 1886.1L2067.2 1907.4L2016.7 1893.8L2021.4 1874.8L2025.2 1855.6zM1794.6 2232.3L1774.5 2241.1L1754.1 2249.1L1736.2 2199.9L1754.5 2192.8L1772.5 2184.9zM1466.2 2211.7L1447.3 2206.2L1428.8 2199.9L1445.9 2152.7L1462.4 2158.3L1479.2 2163.2zM1428.8 2199.9L1410.5 2192.8L1392.5 2184.9L1413.7 2139.4L1429.7 2146.4L1445.9 2152.7zM1160.1 1623.8L1167.2 1605.5L1175.1 1587.5L1220.6 1608.7L1213.6 1624.7L1207.3 1640.9zM1504.4 1334.8L1523.8 1331.8L1543.3 1329.7L1547.7 1379.7L1530.4 1381.6L1513.2 1384.3zM1543.3 1329.7L1562.9 1328.4L1582.5 1328L1582.5 1378.2L1565.1 1378.6L1547.7 1379.7zM1582.5 1328L1602.1 1328.4L1621.7 1329.7L1617.3 1379.7L1599.9 1378.6L1582.5 1378.2zM1621.7 1329.7L1641.2 1331.8L1660.6 1334.8L1651.8 1384.3L1634.6 1381.6L1617.3 1379.7zM1772.5 2184.9L1754.5 2192.8L1736.2 2199.9L1719.1 2152.7L1735.3 2146.4L1751.3 2139.4zM1582.5 2176.8L1565.1 2176.4L1547.7 2175.3L1551.9 2127L1567.2 2128L1582.5 2128.4zM1276.6 2034.2L1265.7 2020.6L1255.4 2006.5L1295.1 1978.7L1304.1 1991.1L1313.7 2003zM1513.2 1384.3L1530.4 1381.6L1547.7 1379.7L1551.9 1428L1536.7 1429.6L1521.6 1432zM1864.8 2059.8L1852.3 2071.9L1839.2 2083.4L1808 2046.3L1819.5 2036.2L1830.6 2025.6zM1839.2 2083.4L1825.6 2094.3L1811.5 2104.6L1783.7 2064.9L1796.1 2055.9L1808 2046.3zM1751.3 2139.4L1735.3 2146.4L1719.1 2152.7L1702.5 2107.2L1716.8 2101.7L1730.8 2095.5zM1264.5 1925.8L1258.3 1911.8L1252.8 1897.5L1296.9 1881.5L1301.7 1893.8L1307 1906zM1551.9 1428L1567.2 1427L1582.5 1426.6L1582.5 1473.6L1569.2 1473.8L1556 1474.7zM1932 1808.1L1930.4 1823.3L1928 1838.4L1881.8 1830.3L1883.8 1817.2L1885.3 1804zM1928 1838.4L1925.1 1853.4L1921.4 1868.3L1876.1 1856.2L1879.2 1843.3L1881.8 1830.3zM1643.4 2123L1628.3 2125.4L1613.1 2127L1609 2080.3L1622.2 2078.8L1635.3 2076.8zM1307 1906L1301.7 1893.8L1296.9 1881.5L1339.8 1865.8L1343.9 1876.3L1348.4 1886.7zM1333.5 1603.2L1341.4 1592.5L1349.7 1582.1L1384.6 1611.5L1377.6 1620.3L1370.9 1629.3zM1333 1844.4L1330.3 1833.4L1328.1 1822.4L1372 1814.6L1373.9 1823.8L1376.1 1832.8zM1328.1 1732.6L1330.3 1721.6L1333 1710.6L1376.1 1722.2L1373.9 1731.2L1372 1740.4zM1348.4 1668.3L1353.4 1658.2L1358.8 1648.3L1397.4 1670.6L1392.9 1678.8L1388.8 1687.2zM1627.4 2031.9L1616.2 2033.6L1605 2034.8L1601.1 1990.4L1610.4 1989.4L1619.6 1988zM1605 2034.8L1593.8 2035.6L1582.5 2035.8L1582.5 1991.2L1591.8 1991L1601.1 1990.4z"/></g></mask><mask id="ks1" maskUnits="userSpaceOnUse" x="1110" y="1305" width="950" height="950"><g filter="url(#ws)"><path fill="#fff" d="M1198.1 2100.1L1184.4 2083L1171.4 2065.3L1214.3 2035.3L1225.9 2051.2L1238.1 2066.4zM1171.4 2065.3L1159.3 2047.1L1147.9 2028.4L1193.2 2002.3L1203.4 2019L1214.3 2035.3zM1082.6 1821.2L1081.2 1799.4L1080.7 1777.5L1133 1777.5L1133.4 1797.1L1134.7 1816.7zM1370.4 1322.7L1390.5 1313.9L1410.9 1305.9L1428.8 1355.1L1410.5 1362.2L1392.5 1370.1zM1712.4 1292.8L1733.4 1298.9L1754.1 1305.9L1736.2 1355.1L1717.7 1348.8L1698.8 1343.3zM1754.1 1305.9L1774.5 1313.9L1794.6 1322.7L1772.5 1370.1L1754.5 1362.2L1736.2 1355.1zM1937.3 1422.7L1952.5 1438.5L1966.9 1454.9L1926.9 1488.6L1913.9 1473.8L1900.4 1459.6zM2076.7 1690.4L2080 1712L2082.4 1733.8L2030.3 1738.3L2028.2 1718.8L2025.2 1699.4zM2017.1 2028.4L2005.7 2047.1L1993.6 2065.3L1950.7 2035.3L1961.6 2019L1971.8 2002.3zM1993.6 2065.3L1980.6 2083L1966.9 2100.1L1926.9 2066.4L1939.1 2051.2L1950.7 2035.3zM1870.3 2188.6L1852.1 2200.7L1833.4 2212.1L1807.3 2166.8L1824 2156.6L1840.3 2145.7zM1833.4 2212.1L1814.2 2222.6L1794.6 2232.3L1772.5 2184.9L1790.1 2176.2L1807.3 2166.8zM1238.1 2066.4L1225.9 2051.2L1214.3 2035.3L1255.4 2006.5L1265.7 2020.6L1276.6 2034.2zM1148.3 1893.8L1143.6 1874.8L1139.8 1855.6L1189.3 1846.8L1192.7 1863.9L1196.8 1880.8zM1660.6 1334.8L1679.8 1338.6L1698.8 1343.3L1685.8 1391.8L1668.9 1387.7L1651.8 1384.3zM1926.9 1488.6L1939.1 1503.8L1950.7 1519.7L1909.6 1548.5L1899.3 1534.4L1888.4 1520.8zM2016.7 1661.2L2021.4 1680.2L2025.2 1699.4L1975.7 1708.2L1972.3 1691.1L1968.2 1674.2zM1989.9 1967.5L1981.2 1985.1L1971.8 2002.3L1928.3 1977.2L1936.7 1961.9L1944.4 1946.3zM1971.8 2002.3L1961.6 2019L1950.7 2035.3L1909.6 2006.5L1919.3 1992L1928.3 1977.2zM1950.7 2035.3L1939.1 2051.2L1926.9 2066.4L1888.4 2034.2L1899.3 2020.6L1909.6 2006.5zM1871.4 2121.9L1856.2 2134.1L1840.3 2145.7L1811.5 2104.6L1825.6 2094.3L1839.2 2083.4zM1840.3 2145.7L1824 2156.6L1807.3 2166.8L1782.2 2123.3L1797 2114.3L1811.5 2104.6zM1445.9 2152.7L1429.7 2146.4L1413.7 2139.4L1434.2 2095.5L1448.2 2101.7L1462.5 2107.2zM1353.5 2104.6L1339.4 2094.3L1325.8 2083.4L1357 2046.3L1368.9 2055.9L1381.3 2064.9zM1300.2 2059.8L1288.1 2047.3L1276.6 2034.2L1313.7 2003L1323.8 2014.5L1334.4 2025.6zM1196.8 1880.8L1192.7 1863.9L1189.3 1846.8L1237 1838.4L1239.9 1853.4L1243.6 1868.3zM1189.3 1708.2L1192.7 1691.1L1196.8 1674.2L1243.6 1686.7L1239.9 1701.6L1237 1716.6zM1928.3 1577.8L1936.7 1593.1L1944.4 1608.7L1900.5 1629.2L1893.7 1615.5L1886.4 1602.1zM1944.4 1946.3L1936.7 1961.9L1928.3 1977.2L1886.4 1952.9L1893.7 1939.5L1900.5 1925.8zM1357 2046.3L1345.5 2036.2L1334.4 2025.6L1367.6 1992.4L1377.2 2001.6L1387.1 2010.3zM1334.4 2025.6L1323.8 2014.5L1313.7 2003L1349.7 1972.9L1358.4 1982.8L1367.6 1992.4zM1313.7 2003L1304.1 1991.1L1295.1 1978.7L1333.5 1951.8L1341.4 1962.5L1349.7 1972.9zM1252.8 1897.5L1247.9 1883L1243.6 1868.3L1288.9 1856.2L1292.6 1868.9L1296.9 1881.5zM1237 1838.4L1234.6 1823.3L1233 1808.1L1279.7 1804L1281.2 1817.2L1283.2 1830.3zM1231.6 1777.5L1232 1762.2L1233 1746.9L1279.7 1751L1278.8 1764.2L1278.6 1777.5zM1357 1508.7L1368.9 1499.1L1381.3 1490.1L1408.2 1528.5L1397.5 1536.4L1387.1 1544.7zM1783.7 1490.1L1796.1 1499.1L1808 1508.7L1777.9 1544.7L1767.5 1536.4L1756.8 1528.5zM1851.3 1552L1860.9 1563.9L1869.9 1576.3L1831.5 1603.2L1823.6 1592.5L1815.3 1582.1zM1730.8 2095.5L1716.8 2101.7L1702.5 2107.2L1686.5 2063.1L1698.8 2058.3L1711 2053zM1529.7 2076.8L1516.7 2074.2L1503.8 2071.1L1515.6 2027L1526.6 2029.7L1537.6 2031.9zM1503.8 2071.1L1491.1 2067.4L1478.5 2063.1L1494.2 2020.2L1504.8 2023.8L1515.6 2027zM1283.2 1724.7L1285.8 1711.7L1288.9 1698.8L1333 1710.6L1330.3 1721.6L1328.1 1732.6zM1734.5 1514.3L1745.8 1521.2L1756.8 1528.5L1730.7 1565.9L1721.3 1559.6L1711.7 1553.8zM1756.8 1528.5L1767.5 1536.4L1777.9 1544.7L1748.5 1579.6L1739.7 1572.6L1730.7 1565.9zM1777.9 1544.7L1787.8 1553.4L1797.4 1562.6L1765.1 1594.9L1757 1587.1L1748.5 1579.6zM1797.4 1562.6L1806.6 1572.2L1815.3 1582.1L1780.4 1611.5L1772.9 1603L1765.1 1594.9zM1881.8 1830.3L1879.2 1843.3L1876.1 1856.2L1832 1844.4L1834.7 1833.4L1836.9 1822.4zM1858 1906L1852.1 1917.8L1845.7 1929.5L1806.2 1906.7L1811.6 1896.8L1816.6 1886.7zM1815.3 1972.9L1806.6 1982.8L1797.4 1992.4L1765.1 1960.1L1772.9 1952L1780.4 1943.5zM1797.4 1992.4L1787.8 2001.6L1777.9 2010.3L1748.5 1975.4L1757 1967.9L1765.1 1960.1zM1777.9 2010.3L1767.5 2018.6L1756.8 2026.5L1730.7 1989.1L1739.7 1982.4L1748.5 1975.4zM1711 2053L1698.8 2058.3L1686.5 2063.1L1670.8 2020.2L1681.3 2016.1L1691.7 2011.6zM1609 2080.3L1595.8 2081.2L1582.5 2081.4L1582.5 2035.8L1593.8 2035.6L1605 2034.8z"/></g></mask><mask id="ks0" maskUnits="userSpaceOnUse" x="1110" y="1305" width="950" height="950"><g filter="url(#ws)"><path fill="#fff" d="M1097.8 1907.4L1092.6 1886.1L1088.3 1864.6L1139.8 1855.6L1143.6 1874.8L1148.3 1893.8zM1088.3 1864.6L1085 1843L1082.6 1821.2L1134.7 1816.7L1136.8 1836.2L1139.8 1855.6zM1331.6 1342.9L1350.8 1332.4L1370.4 1322.7L1392.5 1370.1L1374.9 1378.8L1357.7 1388.2zM1794.6 1322.7L1814.2 1332.4L1833.4 1342.9L1807.3 1388.2L1790.1 1378.8L1772.5 1370.1zM1833.4 1342.9L1852.1 1354.3L1870.3 1366.4L1840.3 1409.3L1824 1398.4L1807.3 1388.2zM1357.7 2166.8L1341 2156.6L1324.7 2145.7L1353.5 2104.6L1368 2114.3L1382.8 2123.3zM1324.7 2145.7L1308.8 2134.1L1293.6 2121.9L1325.8 2083.4L1339.4 2094.3L1353.5 2104.6zM1264.6 2095.4L1251.1 2081.2L1238.1 2066.4L1276.6 2034.2L1288.1 2047.3L1300.2 2059.8zM1807.3 2166.8L1790.1 2176.2L1772.5 2184.9L1751.3 2139.4L1766.9 2131.7L1782.2 2123.3zM1479.2 2163.2L1462.4 2158.3L1445.9 2152.7L1462.5 2107.2L1477 2112.1L1491.7 2116.4zM1325.8 2083.4L1312.7 2071.9L1300.2 2059.8L1334.4 2025.6L1345.5 2036.2L1357 2046.3zM1521.6 2123L1506.6 2120.1L1491.7 2116.4L1503.8 2071.1L1516.7 2074.2L1529.7 2076.8zM1491.7 2116.4L1477 2112.1L1462.5 2107.2L1478.5 2063.1L1491.1 2067.4L1503.8 2071.1zM1233 1808.1L1232 1792.8L1231.6 1777.5L1278.6 1777.5L1278.8 1790.8L1279.7 1804zM1334.4 1529.4L1345.5 1518.8L1357 1508.7L1387.1 1544.7L1377.2 1553.4L1367.6 1562.6zM1702.5 2107.2L1688 2112.1L1673.3 2116.4L1661.2 2071.1L1673.9 2067.4L1686.5 2063.1zM1613.1 2127L1597.8 2128L1582.5 2128.4L1582.5 2081.4L1595.8 2081.2L1609 2080.3zM1686.5 2063.1L1673.9 2067.4L1661.2 2071.1L1649.4 2027L1660.2 2023.8L1670.8 2020.2zM1661.2 2071.1L1648.3 2074.2L1635.3 2076.8L1627.4 2031.9L1638.4 2029.7L1649.4 2027z"/></g></mask><mask id="ks16" maskUnits="userSpaceOnUse" x="1110" y="1305" width="950" height="950"><g filter="url(#ws)"><path fill="#fff" d="M1171.4 1489.7L1184.4 1472L1198.1 1454.9L1238.1 1488.6L1225.9 1503.8L1214.3 1519.7zM1238.1 1488.6L1251.1 1473.8L1264.6 1459.6L1300.2 1495.2L1288.1 1507.7L1276.6 1520.8z"/></g></mask><mask id="ks11" maskUnits="userSpaceOnUse" x="1110" y="1305" width="950" height="950"><g filter="url(#ws)"><path fill="#fff" d="M1259.9 1393.1L1277 1379.4L1294.7 1366.4L1324.7 1409.3L1308.8 1420.9L1293.6 1433.1zM1294.7 1366.4L1312.9 1354.3L1331.6 1342.9L1357.7 1388.2L1341 1398.4L1324.7 1409.3zM1504.4 2220.2L1485.2 2216.4L1466.2 2211.7L1479.2 2163.2L1496.1 2167.3L1513.2 2170.7zM1293.6 2121.9L1278.8 2108.9L1264.6 2095.4L1300.2 2059.8L1312.7 2071.9L1325.8 2083.4zM2004.9 1623.8L2011.2 1642.3L2016.7 1661.2L1968.2 1674.2L1963.3 1657.4L1957.7 1640.9zM1513.2 2170.7L1496.1 2167.3L1479.2 2163.2L1491.7 2116.4L1506.6 2120.1L1521.6 2123zM1220.6 1608.7L1228.3 1593.1L1236.7 1577.8L1278.6 1602.1L1271.3 1615.5L1264.5 1629.2zM1236.7 1577.8L1245.7 1563L1255.4 1548.5L1295.1 1576.3L1286.6 1589L1278.6 1602.1zM1673.3 2116.4L1658.4 2120.1L1643.4 2123L1635.3 2076.8L1648.3 2074.2L1661.2 2071.1z"/></g></mask><mask id="ks12" maskUnits="userSpaceOnUse" x="1110" y="1305" width="950" height="950"><g filter="url(#ws)"><path fill="#fff" d="M1582.5 1275.7L1604.4 1276.2L1626.2 1277.6L1621.7 1329.7L1602.1 1328.4L1582.5 1328zM1134.7 1738.3L1136.8 1718.8L1139.8 1699.4L1189.3 1708.2L1186.6 1725.4L1184.7 1742.7zM1175.1 1587.5L1183.8 1569.9L1193.2 1552.7L1236.7 1577.8L1228.3 1593.1L1220.6 1608.7zM1293.6 1433.1L1308.8 1420.9L1324.7 1409.3L1353.5 1450.4L1339.4 1460.7L1325.8 1471.6zM1324.7 1409.3L1341 1398.4L1357.7 1388.2L1382.8 1431.7L1368 1440.7L1353.5 1450.4zM1989.9 1587.5L1997.8 1605.5L2004.9 1623.8L1957.7 1640.9L1951.4 1624.7L1944.4 1608.7zM1660.6 2220.2L1641.2 2223.2L1621.7 2225.3L1617.3 2175.3L1634.6 2173.4L1651.8 2170.7zM1621.7 2225.3L1602.1 2226.6L1582.5 2227L1582.5 2176.8L1599.9 2176.4L1617.3 2175.3zM1957.7 1640.9L1963.3 1657.4L1968.2 1674.2L1921.4 1686.7L1917.1 1672L1912.2 1657.5zM1617.3 2175.3L1599.9 2176.4L1582.5 2176.8L1582.5 2128.4L1597.8 2128L1613.1 2127zM1264.5 1629.2L1271.3 1615.5L1278.6 1602.1L1319.3 1625.5L1312.9 1637.2L1307 1649z"/></g></mask><mask id="ks6" maskUnits="userSpaceOnUse" x="1110" y="1305" width="950" height="950"><g filter="url(#ws)"><path fill="#fff" d="M1870.3 1366.4L1888 1379.4L1905.1 1393.1L1871.4 1433.1L1856.2 1420.9L1840.3 1409.3zM1905.1 1393.1L1921.5 1407.5L1937.3 1422.7L1900.4 1459.6L1886.2 1446.1L1871.4 1433.1zM2082.4 1733.8L2083.8 1755.6L2084.3 1777.5L2032 1777.5L2031.6 1757.9L2030.3 1738.3zM1582.5 2227L1562.9 2226.6L1543.3 2225.3L1547.7 2175.3L1565.1 2176.4L1582.5 2176.8zM1543.3 2225.3L1523.8 2223.2L1504.4 2220.2L1513.2 2170.7L1530.4 2173.4L1547.7 2175.3zM1392.5 2184.9L1374.9 2176.2L1357.7 2166.8L1382.8 2123.3L1398.1 2131.7L1413.7 2139.4zM1139.8 1855.6L1136.8 1836.2L1134.7 1816.7L1184.7 1812.3L1186.6 1829.6L1189.3 1846.8zM1134.7 1816.7L1133.4 1797.1L1133 1777.5L1183.2 1777.5L1183.6 1794.9L1184.7 1812.3zM1900.4 1459.6L1913.9 1473.8L1926.9 1488.6L1888.4 1520.8L1876.9 1507.7L1864.8 1495.2zM2025.2 1699.4L2028.2 1718.8L2030.3 1738.3L1980.3 1742.7L1978.4 1725.4L1975.7 1708.2zM1189.3 1846.8L1186.6 1829.6L1184.7 1812.3L1233 1808.1L1234.6 1823.3L1237 1838.4zM1184.7 1812.3L1183.6 1794.9L1183.2 1777.5L1231.6 1777.5L1232 1792.8L1233 1808.1zM1183.2 1777.5L1183.6 1760.1L1184.7 1742.7L1233 1746.9L1232 1762.2L1231.6 1777.5zM1184.7 1742.7L1186.6 1725.4L1189.3 1708.2L1237 1716.6L1234.6 1731.7L1233 1746.9zM1839.2 1471.6L1852.3 1483.1L1864.8 1495.2L1830.6 1529.4L1819.5 1518.8L1808 1508.7zM1864.8 1495.2L1876.9 1507.7L1888.4 1520.8L1851.3 1552L1841.2 1540.5L1830.6 1529.4zM1888.4 1520.8L1899.3 1534.4L1909.6 1548.5L1869.9 1576.3L1860.9 1563.9L1851.3 1552zM1944.4 1608.7L1951.4 1624.7L1957.7 1640.9L1912.2 1657.5L1906.7 1643.2L1900.5 1629.2zM1928.3 1977.2L1919.3 1992L1909.6 2006.5L1869.9 1978.7L1878.4 1966L1886.4 1952.9zM1909.6 2006.5L1899.3 2020.6L1888.4 2034.2L1851.3 2003L1860.9 1991.1L1869.9 1978.7zM1888.4 2034.2L1876.9 2047.3L1864.8 2059.8L1830.6 2025.6L1841.2 2014.5L1851.3 2003zM1313.7 1552L1323.8 1540.5L1334.4 1529.4L1367.6 1562.6L1358.4 1572.2L1349.7 1582.1zM1808 1508.7L1819.5 1518.8L1830.6 1529.4L1797.4 1562.6L1787.8 1553.4L1777.9 1544.7zM1830.6 1529.4L1841.2 1540.5L1851.3 1552L1815.3 1582.1L1806.6 1572.2L1797.4 1562.6zM1900.5 1925.8L1893.7 1939.5L1886.4 1952.9L1845.7 1929.5L1852.1 1917.8L1858 1906zM1886.4 1952.9L1878.4 1966L1869.9 1978.7L1831.5 1951.8L1838.8 1940.8L1845.7 1929.5zM1869.9 1978.7L1860.9 1991.1L1851.3 2003L1815.3 1972.9L1823.6 1962.5L1831.5 1951.8zM1851.3 2003L1841.2 2014.5L1830.6 2025.6L1797.4 1992.4L1806.6 1982.8L1815.3 1972.9zM1830.6 2025.6L1819.5 2036.2L1808 2046.3L1777.9 2010.3L1787.8 2001.6L1797.4 1992.4zM1885.3 1804L1883.8 1817.2L1881.8 1830.3L1836.9 1822.4L1838.6 1811.2L1839.8 1800zM1845.7 1929.5L1838.8 1940.8L1831.5 1951.8L1794.1 1925.7L1800.4 1916.3L1806.2 1906.7zM1831.5 1951.8L1823.6 1962.5L1815.3 1972.9L1780.4 1943.5L1787.4 1934.7L1794.1 1925.7zM1635.3 2076.8L1622.2 2078.8L1609 2080.3L1605 2034.8L1616.2 2033.6L1627.4 2031.9zM1339.8 1689.2L1343.9 1678.7L1348.4 1668.3L1388.8 1687.2L1385.1 1695.7L1381.7 1704.4z"/></g></mask><mask id="ks14" maskUnits="userSpaceOnUse" x="1110" y="1305" width="950" height="950"><g filter="url(#ws)"><path fill="#fff" d="M1133 1777.5L1133.4 1757.9L1134.7 1738.3L1184.7 1742.7L1183.6 1760.1L1183.2 1777.5zM1547.7 2175.3L1530.4 2173.4L1513.2 2170.7L1521.6 2123L1536.7 2125.4L1551.9 2127zM1811.5 2104.6L1797 2114.3L1782.2 2123.3L1757.9 2081.4L1771 2073.4L1783.7 2064.9zM1858 1649L1863.3 1661.2L1868.1 1673.5L1825.2 1689.2L1821.1 1678.7L1816.6 1668.3z"/></g></mask><mask id="ks2" maskUnits="userSpaceOnUse" x="1110" y="1305" width="950" height="950"><g filter="url(#ws)"><path fill="#fff" d="M1807.3 1388.2L1824 1398.4L1840.3 1409.3L1811.5 1450.4L1797 1440.7L1782.2 1431.7zM1207.3 1640.9L1213.6 1624.7L1220.6 1608.7L1264.5 1629.2L1258.3 1643.2L1252.8 1657.5z"/></g></mask><mask id="ks10" maskUnits="userSpaceOnUse" x="1110" y="1305" width="950" height="950"><g filter="url(#ws)"><path fill="#fff" d="M1407.1 2081.4L1394 2073.4L1381.3 2064.9L1408.2 2026.5L1419.2 2033.8L1430.5 2040.7zM1381.3 2064.9L1368.9 2055.9L1357 2046.3L1387.1 2010.3L1397.5 2018.6L1408.2 2026.5zM1252.8 1657.5L1258.3 1643.2L1264.5 1629.2L1307 1649L1301.7 1661.2L1296.9 1673.5zM1307 1649L1312.9 1637.2L1319.3 1625.5L1358.8 1648.3L1353.4 1658.2L1348.4 1668.3zM1333 1710.6L1336.2 1699.8L1339.8 1689.2L1381.7 1704.4L1378.7 1713.2L1376.1 1722.2z"/></g></mask></defs>
<text x="1063" y="82.6" font-size="53" text-anchor="middle" textLength="289" lengthAdjust="spacingAndGlyphs">2025-10-09</text>
<rect x="309.5" y="108.4" width="1508" height="754" fill="#808080"/>
<g clip-path="url(#cm)"><rect x="300" y="100" width="1530" height="775" fill="url(#p8)" mask="url(#km8)"/><rect x="300" y="100" width="1530" height="775" fill="url(#p3)" mask="url(#km3)"/><rect x="300" y="100" width="1530" height="775" fill="url(#p10)" mask="url(#km10)"/><rect x="300" y="100" width="1530" height="775" fill="url(#p7)" mask="url(#km7)"/><rect x="300" y="100" width="1530" height="775" fill="url(#p5)" mask="url(#km5)"/><rect x="300" y="100" width="1530" height="775" fill="url(#p14)" mask="url(#km14)"/><rect x="300" y="100" width="1530" height="775" fill="url(#p4)" mask="url(#km4)"/><rect x="300" y="100" width="1530" height="775" fill="url(#p9)" mask="url(#km9)"/><rect x="300" y="100" width="1530" height="775" fill="url(#p2)" mask="url(#km2)"/><rect x="300" y="100" width="1530" height="775" fill="url(#p1)" mask="url(#km1)"/><rect x="300" y="100" width="1530" height="775" fill="url(#p6)" mask="url(#km6)"/><rect x="300" y="100" width="1530" height="775" fill="url(#p0)" mask="url(#km0)"/><rect x="300" y="100" width="1530" height="775" fill="url(#p12)" mask="url(#km12)"/><rect x="300" y="100" width="1530" height="775" fill="url(#p11)" mask="url(#km11)"/><rect x="300" y="100" width="1530" height="775" fill="url(#p16)" mask="url(#km16)"/><rect x="300" y="100" width="1530" height="775" fill="url(#p13)" mask="url(#km13)"/><rect x="300" y="100" width="1530" height="775" fill="url(#p15)" mask="url(#km15)"/></g>
<g clip-path="url(#cm)" fill="none" stroke="#000" stroke-width="1.9" stroke-linejoin="round"><path d="M1260.4 296.9L1270.8 290.6L1279.2 288.5L1285.5 289.8L1286.3 295.6L1278.4 299L1277.1 305.3L1284.3 310.3L1285.5 317.8L1287.6 320.8L1287.6 328.3L1277.1 331.2L1270 328.3L1268.3 324.1L1269.6 317.8L1272.1 315.3L1266.7 310.3L1262.5 305.3L1262.1 301.1L1260.4 296.9M1574.5 436L1578.7 441.4L1582.9 437.2L1589.2 435.1L1587.1 440.2L1582.9 443.5L1576.6 445.6L1574.5 436M1554.4 450.2L1564.1 441.4L1565.3 440.2L1555.7 450.6L1554.4 450.2M640.4 184.2L653 185.9L659.3 181.7L657.2 176.3L644.6 176.3L634.1 180.4L640.4 184.2M663.5 183.8L673.9 182.5L684.4 177.1L676 175L665.6 175.8L663.5 183.8M728.4 173.3L707.4 173.7L678.1 172.1L661.4 168.3L678.1 164.9L694.9 164.5L711.6 166.2L728.4 166.2L728.4 173.3M653 170.8L642.5 169.1L640.4 165.8L653 164.5L653 170.8M621.6 169.1L602.7 171.7L575.5 171.2L573.4 166.2L594.3 164.9L611.1 164.1L621.6 169.1M579.7 162L565 166.6L548.3 164.1L565 159.9L579.7 162M701.2 152.4L682.3 157L665.6 152.4L661.4 148.2L678.1 145.3L694.9 148.2L701.2 152.4M736.8 165.8L715.8 165.8L694.9 163.3L688.6 157.4L703.3 152L694.9 148.2L720 144L761.9 139L803.8 139.8L795.4 144L770.3 148.2L757.7 152.4L745.1 156.2L749.3 160.8L736.8 165.8M650.9 198.5L661.4 197.2L659.3 193.4L651.7 193.9L650.9 198.5M703.3 218.1L715.8 217.3L726.3 218.1L722.1 214.8L711.6 210.2L701.2 208.9L697 214L703.3 218.1M556.6 185.9L539.9 184.2L542 175.4L556.6 173.3L577.6 177.9L569.2 181.7L556.6 185.9M1260.4 148.2L1272.9 146.5L1293.9 145.3L1319 147.4L1306.5 150.7L1272.9 150.7L1260.4 148.2M728.4 180.9L745.1 181.7L741 177.1L726.3 176.7L728.4 180.9M359.8 210.6L382.8 205.2L364.8 199.3L380.7 193.4L407.9 186.7L426.8 188.8L441.4 190.9L472.9 193.9L493.8 196.4L506.4 193.9L523.1 192.2L544.1 194.7L560.8 195.5L581.8 199.7L602.7 200.6L619.5 198L640.4 201.4L657.2 200.1L665.6 199.7L668.9 185.9L673.9 193.9L686.5 198.5L697 202.7L707.4 194.3L720 195.5L722.9 201.4L713.7 207.7L704.1 206.4L699.1 215.2L684.4 219.8L669.7 228.6L666.8 238.3L673.9 244.5L686.5 247.1L705.4 253.8L718.8 254.6L720 263.4L726.3 270.5L732.6 269.3L730.1 256.7L742.6 248.7L735.5 240.3L738.4 231.6L736.3 224.4L753.5 224.4L766.1 229.5L772.4 237.4L780.3 241.2L791.2 233.2L794.2 236.2L803.8 244.5L808 251.7L822.6 256.7L829.8 266.3L823.9 270.1L812.2 275.1L795.4 275.1L784.9 275.5L776.1 280.1L765.3 289.4L774.5 284.3L789.1 279.3L794.2 281.8L791.2 287.3L793.3 291.5L805.9 294L811.7 293.1L797.5 299L787.9 302.8L786.6 297.7L793.3 295.2L782.8 296.5L778.7 299.4L769.4 302.8L766.9 307.4L770.3 310.3L764 312L753.9 315.3L753.5 319.9L749.3 322.9L746.8 328.3L744.7 330.8L747.2 337.5L741 340.9L732.6 345.9L724.2 352.2L722.5 358.5L726.3 366.9L728.4 374.4L726.7 379.8L723.4 379.4L720.8 374.4L717.5 368.1L715.8 363.1L710.4 359.7L701.2 358.1L694.9 357.6L688.2 358.9L689.4 363.5L684 363.5L678.1 361.4L669.7 361L664.7 363.9L657.2 368.9L655.5 376.5L654.2 384.9L654.7 393.2L656.3 399.1L661.4 405.8L667.6 409.2L678.1 407.5L683.6 403.7L685.2 397.4L694.9 395.3L699.9 396.2L697 402.9L694.9 407.9L692.8 418L703.3 418.8L714.6 422.6L713.7 433L712.9 439.3L717.9 445.6L728.4 446.4L732.6 445.6L739.3 449L739.7 451.1L737.2 455.2L735.1 451.5L730.5 448.1L726.3 454.8L721.3 451.5L713.7 450.2L704.5 443.9L704.1 438.5L697 430.9L688.6 428.9L680.2 426.8L673.9 420.5L666.4 417.5L659.3 419.6L650.9 417.1L640.4 412.9L630 408.7L621.6 401.6L622.8 395.3L620.7 389.9L615.3 384.9L606.9 378.6L602.7 372.3L598.5 367.3L592.2 361.8L588.1 354.7L582.6 352.2L584.7 357.6L590.2 366L594.3 372.3L598.5 378.6L602.7 384L604.8 388.2L601.5 387L594.3 381.5L593.5 376.5L586 370.2L583.9 366L577.6 357.6L573 349.3L567.1 343L558.3 340.5L552.9 332.1L550.4 327.1L545.3 322L542.4 316.2L543.2 309.5L544.1 299L544.1 291.5L541.1 282.7L548.3 281L547.4 279.7L539.9 276L529.4 271.8L527.3 266.7L516.9 257.1L510.6 250.8L500.1 241.6L491.7 240.3L479.1 234.9L462.4 234.1L449.8 231.1L441.4 234.1L428.9 237.4L428.9 231.1L422.6 236.2L418.4 240.3L407.9 246.6L397.5 251.7L380.7 256.3L393.3 248.7L403.8 240.3L387 239.5L384.9 234.9L372.3 232L374.4 221.5L389.1 219.4L389.9 214.4L366.1 214.8L359.8 210.6M739.7 451.1L745.1 445.6L747.2 441L753.5 438.1L761.9 435.1L764 439.3L762.3 441.8L764 446.9L766.9 437.6L772.4 437.2L777.8 441L787 441L799.6 441L803.8 440.6L808 447.7L812.2 450.2L820.5 456.9L833.1 460.7L845.7 465.3L849.9 470.7L854.1 478.3L854.1 485.4L860.3 489.6L870.8 489.6L877.9 495.9L887.6 497.1L898 498L907.7 505.5L915.6 507.6L917.7 516.8L916.1 524.4L908.5 531.5L902.2 539.9L900.1 548.2L899.3 558.7L896.8 567.1L892.6 575.5L887.6 581.7L877.1 582.6L868.7 585.9L860.3 594.3L859.9 604.8L852 615.3L844.8 620.3L839.4 627L833.5 631.6L826 629.9L818.9 629.1L823.9 634.1L826 637.9L822.2 645.4L816.4 647.5L803.8 647.9L802.5 655L793.3 657.1L790.8 661.3L796.7 663.8L792.1 665.5L790.4 673.9L780.8 679.3L787.9 685.2L779.5 692.8L775.3 701.1L777 704.9L772.4 705.3L766.1 709.5L759.8 707.4L751.4 703.2L748.1 694.8L747.2 684.4L752.7 677.3L755.6 669.7L754.4 661.3L754.8 653L756.9 641.2L759.4 634.1L763.6 623.6L764.4 611.1L764.8 600.6L768.2 585.9L769 573.4L769 562.5L764 557.9L749.3 549.5L743.5 542L740.1 535.7L734.3 525.6L728.8 515.6L723.4 510.5L724.6 504.7L727.1 499.6L729.2 494.6L724.6 489.6L728.4 481.2L733.4 479.1L738.9 469.1L739.7 460.3L737.2 455.2L739.7 451.1M776.1 705.7L777 715.4L782.8 716.6L791.2 715L784.9 711.6L776.1 705.7M757.7 157.4L782.8 148.2L803.8 143.2L854.1 139.8L895.9 136.5L937.8 135.6L971.3 139.8L979.7 143.6L1009 143.6L988.1 152.4L981.8 160.8L986 167L972.6 173.3L969.2 181.7L958.8 186.7L971.3 190.1L958.8 195.5L937.8 199.7L923.2 205.2L904.3 210.2L895.9 215.2L891.8 221.5L883.4 233.2L877.1 233.6L860.3 227.8L854.1 219.4L847.8 214L839.4 207.7L837.3 200.6L849.9 197.2L845.7 192.2L835.2 190.1L847.8 185.9L833.1 181.7L828.9 175.4L818.5 169.1L803.8 166.6L787 166.6L772.4 164.9L766.1 162L757.7 157.4M969.2 217.7L979.7 219.4L988.1 219.8L1000.7 216.1L1006.5 212.7L1002.8 208.1L996.5 206.8L986 208.1L979.7 208.5L969.7 207.3L963 211L971.3 214L969.2 217.7M1023.7 305.3L1030 302.3L1046.7 303.6L1056 303.6L1058.1 299L1058.5 291.9L1052.6 286.4L1044.2 283.1L1056 281.4L1058.1 277.6L1064.3 277.2L1070.2 272.2L1078.2 270.1L1082.3 265.5L1084.4 262.1L1092.8 260.9L1099.1 260L1099.9 252.9L1097.4 248.3L1107.5 243.7L1106.2 250L1109.2 252.5L1107.1 257.1L1115.9 257.1L1123.4 259.6L1132.6 257.1L1141.8 256.3L1145.6 257.5L1152.7 254.2L1151.5 248.3L1154 245L1158.6 244.1L1165.3 245.8L1162.8 238.7L1172.4 236.2L1182 235.3L1188.7 234.1L1182.9 232L1174.5 232.4L1159.8 234.5L1153.6 231.1L1153.1 222.8L1168.2 214L1170.3 211L1156.5 210.2L1152.3 215.6L1143.1 220.2L1138.1 223.6L1135.1 229.9L1141.8 233.6L1141.4 236.6L1133 244.1L1130.1 250.4L1123.4 252.9L1117.5 253.3L1116.3 249.6L1109.6 239.1L1106.6 237.8L1098.7 241.2L1091.1 242L1087.4 238.7L1084.4 233.2L1084.4 225.7L1090.7 222.3L1099.1 219.4L1107.5 215.2L1115.4 209.4L1122.1 202.7L1130.5 198.5L1143.1 193L1155.7 191.3L1168.2 188L1181.6 188L1193.4 190.9L1185 195.5L1201.7 195.1L1216.4 196.4L1232.3 201.4L1235.2 206.8L1223.5 208.9L1209.3 208.9L1201.7 206.4L1199.6 212.7L1209.3 215.6L1215.1 216.9L1220.6 214.4L1231.1 215.2L1233.2 211.9L1243.6 207.3L1247.8 201L1245.7 198L1256.2 199.3L1258.3 201.4L1268.8 201.8L1288.4 196.8L1293.9 199.3L1309.8 196.8L1314.8 199.3L1319 194.3L1335.8 195.1L1350.4 200.1L1352.5 197.6L1344.2 193.9L1343.3 188.4L1350.4 184.2L1353.8 180L1367.2 180.4L1368.5 183L1364.3 186.3L1368.5 190.5L1367.2 196.4L1371.8 198.9L1371.8 201.8L1365.1 208.1L1373.5 206.8L1376.8 201.4L1375.6 198L1384 197.2L1390.2 200.6L1388.1 197.2L1381.9 194.7L1386 186.7L1392.3 182.1L1400.7 181.3L1400.7 177.1L1427.1 175.8L1423.7 173.3L1427.9 170.8L1444.7 168.3L1474 166.6L1486.6 163.7L1500.4 159.9L1507.5 161.2L1512.5 164.9L1528.5 164.1L1538.1 166.2L1540.6 170L1536 171.2L1524.3 173.7L1533.1 176.3L1538.9 178.4L1561.1 177.1L1579.6 179.6L1595.1 177.1L1601.8 180.4L1606.8 187.2L1613.5 188.8L1617.7 184.6L1624.4 186.3L1649.5 185.9L1646.2 182.1L1652 180.4L1689.7 183L1704 188.8L1721.2 188L1729.5 188.4L1732.9 190.1L1732.5 193.4L1737.9 194.7L1743.4 193.9L1750.5 193.4L1766.4 193.9L1773.9 197.6L1779 196.4L1777.7 191.8L1790.7 193L1800.7 192.6L1811.6 194.7L1817.5 196.4M1658.3 292.7L1664.6 290.6L1663.3 278.9L1669.2 280.1L1663.8 265.1L1662.5 257.9L1660.8 260.5L1659.2 271.8L1657.5 281.4L1658.3 292.7M1207.2 354.7L1198.4 354.3L1189.2 353.5L1180.8 355.5L1168.2 352.6L1159.8 349.3L1147.3 355.5L1147.3 350.5L1128.4 351.4L1113.8 347.6L1109.6 345.9L1105.4 340.9L1109.6 336.3L1109.6 330L1103.3 329.2L1092.8 330.4L1076.1 331.2L1063.5 335L1055.1 338.4L1040.5 335.4L1036.3 340.9L1027.9 346.3L1022.9 357.6L1021.6 363.9L1013.2 368.1L1009 370.2L1002.8 375.7L996.5 385.7L992.3 395.8L995.2 403.7L994.4 416.3L990.2 423.8L993.5 433.5L998.6 438.5L1004.9 444.3L1008.2 448.1L1015.3 456.5L1023.7 463.2L1032.1 467L1041.7 464L1050.9 464.5L1059.3 464.5L1068.1 459.8L1074.8 459L1082.3 459L1087.4 467.4L1092.8 467L1099.1 466.5L1103.3 469.5L1104.1 475.8L1102.5 481.2L1103.3 487.5L1106.6 493.8L1111.7 500.1L1114.6 508.4L1118.8 521L1120.9 530.6L1115.9 542L1112.9 554.5L1112.5 560.8L1119.2 572.9L1124.2 580.9L1127.2 598.5L1131.8 605.2L1139.7 618.2L1139.7 627.4L1145.6 631.2L1150.2 629.5L1158.2 627.4L1171.6 627.4L1178.7 624.5L1186.2 616.5L1194.6 608.6L1199.2 604.8L1201.3 595.1L1200.1 593.1L1212.2 586.4L1212.2 576.7L1209.3 568.3L1215.6 563.7L1224.8 557L1233.2 549.9L1233.2 530.6L1227.7 521L1227.7 513.5L1226 510.1L1228.5 504.7L1232.3 496.3L1238.6 491.3L1244 484.1L1258.7 473.3L1271.7 456.1L1277.6 441L1277.1 435.6L1268.3 437.6L1258.7 440.2L1250.3 441.8L1244.9 435.6L1242.4 431.4L1236.1 424.7L1228.1 418.8L1224.8 410.4L1220.6 407.5L1218.9 397L1215.6 390.7L1212.2 384.9L1210.1 379.4L1205.5 369.8L1200.1 360.2L1198.8 354.3L1204.7 355.5L1207.2 354.7M1541.9 577.6L1538.9 585.9L1540.6 596.4L1544.8 609L1545.2 617.4L1548.2 624.9L1545.2 629.1L1553.6 632L1559.9 630.8L1566.2 627.4L1580.8 627.4L1585 623.6L1591.7 620.3L1603.9 618.2L1613.5 617.4L1620.6 619.9L1626.1 622L1629.8 629.9L1633.2 631.6L1639.9 623.6L1640.7 623.2L1639.9 632.4L1643.7 634.9L1643.7 629.5L1649.9 640.4L1655 646.3L1664.6 647.9L1670.9 645.4L1676.3 648.8L1682.2 644.2L1691.4 642.5L1692.3 634.9L1697.7 624.5L1704.4 615.7L1706.9 603.1L1705.2 591L1698.5 586.4L1692.7 579.2L1688.1 573.8L1679.3 567.1L1674.7 557.9L1672.1 547.8L1665 544L1664.6 538.2L1660.4 530.2L1657.1 539.4L1656.2 548.2L1653.3 558.3L1647 558.3L1637.8 552L1630.7 547.4L1632.8 541.1L1636.5 536.5L1635.3 535.2L1630.3 536.9L1618.9 534L1618.1 537.3L1612.2 536.5L1608.9 540.3L1606 547.8L1598.8 545.3L1590 544.9L1584.6 553.7L1580.8 557.4L1575.4 561.6L1571.6 567.1L1562 569.2L1554.4 572.1L1543.5 576.7L1541.9 577.6M1669.6 655.9L1676.8 657.6L1684.7 656.7L1684.3 661.8L1680.5 666.8L1675.1 667.6L1672.6 662.2L1669.6 655.9M1786.5 629.9L1794 637.5L1797.8 641.2L1800.3 642.9L1806.6 644.2L1811.2 643.3L1808.7 649.6L1804.9 652.5L1800.7 658.4L1797.4 659.7L1795.3 658.4L1797.4 655L1795.3 652.5L1791.5 649.6L1794.9 644.6L1793.6 641.6L1786.5 629.9M1787.3 655L1793.2 658.4L1792.4 661.8L1789 665.5L1786.9 667.2L1781.9 670.5L1780.6 673.5L1778.1 677.7L1772.7 680.6L1768.9 680.6L1761.8 678.9L1761 677.7L1763 674.3L1768.5 670.1L1777.7 665.5L1781.9 660.5L1784 657.1L1787.3 655M1042.6 239.9L1050.9 239.9L1046.7 244.1L1056 244.1L1053.9 247.1L1050.1 250.8L1056.8 252.5L1063.5 259.2L1065.2 262.6L1070.6 264.6L1069.8 269.7L1069.4 270.5L1066 272.6L1059.3 273L1051.4 273L1041.7 276L1039.2 275.1L1045.5 270.9L1049.3 270.1L1042.6 269.3L1045.9 266.3L1043.4 264.2L1044.2 261.3L1050.5 261.7L1050.9 259.2L1048.4 256.7L1043.4 255.8L1042.1 252.9L1040 253.8L1037.5 247.5L1039.2 243.3L1042.6 239.9M1037.5 259.6L1038.4 262.6L1035 266.3L1027.5 268.8L1021.6 268.4L1025 263.8L1022 259.6L1028.7 256.3L1031.7 254.6L1035.4 254.2L1039.6 256.7L1037.5 259.6M1657.9 321.2L1658.7 315.8L1655.8 312L1651.2 312.8L1649.1 315.3L1649.9 320.4L1647.4 325.4L1644.9 327.1L1639.1 331.2L1636.1 329.2L1633.2 335.9L1620.6 336.7L1612.2 341.3L1616.4 346.3L1611 355.5L1608.1 350.1L1605.5 345.9L1609.7 344.7L1612.2 343.4L1618.9 341.3L1621.9 341.3L1629.4 340.5L1632.4 345.1L1637 340.9L1642.4 340L1645.8 338.8L1649.1 338.4L1651.2 338.4L1652.5 333.3L1653.3 325.4L1657.9 321.2M1655.8 312L1662.5 309.5L1666.7 305.3L1673 304L1668.8 301.1L1660.4 295.6L1656.6 296.1L1655.8 303.6L1649.9 307.4L1655.8 312M1398.2 456.9L1399.9 460.3L1406.2 454L1403.6 449.4L1399.4 444.3L1397.4 451.1L1398.2 456.9M1270.8 535.7L1274.6 551.2L1272.1 556.2L1269.6 562.9L1267.1 571.3L1260.8 589.7L1253.7 592.6L1247.8 589.7L1244.9 578L1249.5 569.6L1249.1 556.2L1257.4 551.6L1263.3 546.6L1270.8 535.7M1462.7 462.4L1471.9 463.6L1484.9 476.6L1498.3 490L1507.1 510.1L1502.1 510.1L1493.3 503L1482.8 488.3L1476.5 477.9L1462.7 462.4M1505 514.3L1507.9 510.1L1518 512.2L1531.4 513.5L1543.5 517.7L1535.2 520.6L1518.8 517.2L1505 514.3M1520.5 487.5L1526 490.8L1529.3 498L1538.1 498.4L1549.8 502.2L1551.9 496.3L1557.4 482L1562 481.6L1557 477.9L1560.3 466.5L1562.8 462.8L1556.1 458.6L1550.2 459.8L1545.2 464.9L1539.8 469.1L1529.3 474.1L1523 477L1520.1 483.7L1520.5 487.5M1567.4 508.4L1569.9 497.5L1575.4 505.5L1578.3 503.4L1571.6 493.4L1579.6 490L1572.5 489.2L1567 484.6L1567.8 482.9L1585 480.8L1569.9 480L1564.9 485.8L1561.1 498L1563.7 508L1567.4 508.4M1625.2 490.4L1626.9 497.1L1634.4 495L1639.1 492.5L1654.1 496.3L1669.2 501.7L1674.2 505.9L1681.8 511L1680.1 516.4L1686.4 523.5L1695.2 528.5L1683 527.7L1675.1 519.3L1666.3 518.5L1663.3 523.1L1654.1 523.5L1646.2 519.3L1644.5 516L1641.6 508L1629.8 504.2L1623.1 500.1L1617.3 494.6L1615.6 492.1L1625.2 490.4M1568.7 407.9L1575.8 409.2L1575.4 417.1L1572.9 418.8L1574.5 426.8L1582.9 427.6L1582.5 434.3L1574.5 427.6L1568.7 425.5L1566.2 418.4L1568.7 407.9M1593 450.2L1593.4 455.2L1591.3 459L1588.8 461.9L1583.8 459.4L1582.9 454.4L1575.4 456.1L1580.8 449.4L1588.8 447.7L1593 450.2M1573.7 383.2L1570.4 392.8L1566.6 386.5L1572.5 379.4L1573.7 383.2M1525.5 407.1L1522.2 409.2L1518.8 407.9L1518.4 404.1L1524.7 401.2L1528.5 402.9L1525.5 407.1M718.8 388.2L725.9 388.6L740.5 394.5L746.8 397.4L752.7 400.4L737.6 402L738.4 398.7L734.7 394.9L720.8 392.4L709.5 394.1L707.9 393.7L718.8 388.2M763.2 402.9L777.4 407.5L775.7 409.2L763.2 410.8L760.2 409.2L751.4 408.7L758.5 405.4L756 403.3L763.2 402.9M829.3 269.3L831.4 278.5L839.4 279.3L841.1 281.4L839.4 290.2L828.9 287.3L828.1 286L815.1 286L817.2 283.1L823.1 273L829.3 269.3M791.2 223.6L804.6 205.2L791.2 203.5L778.7 198.5L774.5 192.2L759.8 187.2L745.1 182.5L728.4 178.4L686.5 177.5L697 183.8L711.6 191.3L720 193.4L736.8 194.3L753.5 197.6L759.8 204.7L749.3 213.5L766.1 221.9L778.7 219.8L791.2 223.6M573.4 190.1L594.3 190.5L623.7 190.5L638.3 193.9L627.9 199.7L609 199.3L583.9 195.1L573.4 193.9L565 188L569.2 180.9L586 179.6L606.9 180.4L619.5 178.8L634.1 181.3L627.9 187.6L573.4 190.1M1109.2 154.9L1122.1 151.5L1139.7 149.5L1157.8 148.6L1176.6 149.9L1157.8 155.7L1164 159.5L1147.3 161.6L1134.7 164.1L1125.1 161.6L1118 158.7L1109.2 154.9M1279.2 185.9L1287.6 176.3L1293.9 169.6L1306.5 166.2L1323.2 164.9L1352.1 164.5L1340 169.1L1319 175.4L1301.4 178.8L1304.4 182.5L1296 188L1288.4 188.8L1279.2 185.9M1469.8 155.3L1482.4 152L1499.1 150.7L1505 155.7L1480.3 159.1L1469.8 155.3M1641.6 168.7L1658.3 168.3L1670.9 169.6L1654.1 175.8L1641.6 174.6L1641.6 168.7M1162.8 335.9L1173.7 337.5L1164.9 339.2L1161.9 337.5L1162.8 335.9M1198.8 339.2L1208.4 335.9L1205.5 339.2L1200.9 340.5L1198.8 339.2M1102 312.8L1104.6 315.8L1103.7 321.2L1098.7 322L1097.8 314.1L1102 312.8M1102.9 305.3L1103.3 308.6L1102 312L1099.9 309.9L1102.9 305.3M1128.4 325.4L1126.8 332.1L1115.4 327.9L1121.3 325.4L1128.4 325.4M1584.6 522.7L1596.7 520.6L1587.5 524.8L1582.9 528.1L1584.6 522.7M1692.7 508.9L1700.6 503L1701.5 508.9L1698.1 510.5L1692.7 508.9M309.5 839.8L351.4 838.9L393.3 840.2L435.2 842.3L460.3 841.5L435.2 835.2L410 826.8L426.8 820.5L405.8 814.2L399.6 807.1L426.8 807.1L449.8 801.7L477.1 799.6L493.8 797.5L518.9 796.6L539.9 794.5L560.8 795.4L581.8 796.2L594.3 798.3L619.5 796.6L640.4 792.4L644.6 786.2L661.4 791.2L686.5 792L707.4 793.3L728.4 792.4L749.3 791.2L761.9 790.4L770.3 789.1L778.7 782.8L780.8 774.4L784.9 766.1L795.4 757.7L820.5 750.6L824.7 751.4L814.3 755.6L808 761.9L799.6 772.3L803.8 782.8L808 791.2L799.6 799.6L795.4 801.7L808 805.9L845.7 810L879.2 813.4L912.7 813.4L925.3 808.8L946.2 805.9L958.8 803.8L988.1 795.4L1000.7 791.2L1017.4 786.2L1034.2 782L1063.5 780.7L1084.4 779.5L1105.4 778.6L1122.1 779.5L1147.3 779L1172.4 779.5L1189.2 776.5L1201.7 774.4L1222.7 777.4L1231.1 773.6L1256.2 767.7L1272.9 766.1L1285.5 761.9L1306.5 767.3L1323.2 768.1L1340 769L1354.6 770.2L1363 776.5L1350.4 778.6L1352.5 782.8L1367.2 780.7L1381.9 776.5L1390.2 773.6L1407 768.1L1423.7 766.1L1432.1 762.7L1448.9 764L1469.8 763.1L1482.4 764L1499.1 761L1515.9 764L1532.7 762.7L1549.4 766.1L1566.2 766.1L1587.1 764L1608.1 763.1L1629 761.9L1649.9 764.8L1666.7 766.9L1679.3 770.2L1691.8 772.3L1708.6 772.3L1717 775.3L1733.7 776.5L1746.3 780.7L1758.9 782.8L1775.6 784.9L1781.1 786.2L1761 795.8L1748 802.9L1750.9 813L1762.6 814.6L1737.9 817.2L1732 823.9L1771.8 834.8L1789.4 838.1L1817.5 839.8M854.1 816.3L879.2 822.6L895.9 818.4L866.6 813L854.1 816.3M770.3 776.5L764 778.6L759.8 787L749.3 784.9L757.7 778.6L770.3 776.5M1352.5 689.8L1358.8 691.1L1355 693.2L1352.5 689.8M806.7 702.4L814.3 700.3L821.8 701.5L818.5 704.1L806.7 702.4M904.3 711.6L912.7 712.4L910.6 713.7L904.3 711.6M309.5 196.8L320 199.7L330.9 203.9L343.4 205.2L351.8 208.9L343 210.6L339.2 211.4L337.6 216.1L329.2 214.8L314.9 215.2L309.5 213.1M1817.5 213.1L1811.2 216.1L1805.8 223.6L1794.9 226.5L1784 230.7L1776.9 234.1L1760.1 234.9L1754.2 235.3L1748.4 234.5L1742.1 241.6L1744.6 246.6L1747.1 250L1742.5 250.4L1740.8 253.8L1735.4 257.9L1726.2 263.8L1720.3 271.8L1717 262.6L1714.9 254.2L1716.5 247.5L1720.3 245L1727 242L1733.7 237L1741.7 232.8L1749.2 229.5L1752.6 223.2L1742.9 227.4L1734.1 227.4L1730.8 226.5L1719.9 228.2L1709.4 234.9L1697.3 239.1L1687.6 236.2L1673 237L1659.2 238.3L1645.3 246.2L1638.2 250L1629.4 256.3L1636.1 256.7L1640.3 259.2L1649.5 258.4L1655.4 263L1655.8 266.7L1652.5 270.9L1650.8 282.7L1644.1 288.5L1642.4 291.5L1631.1 301.5L1622.7 306.1L1616 305.3L1611.4 308.6L1606.8 313.7L1606.8 314.1L1599.7 317.8L1597.6 318.7L1597.2 320.8L1600.9 323.7L1604.7 328.7L1606 331.2L1606 336.3L1603.9 338.4L1597.2 340.9L1593.4 341.3L1592.1 338L1594.7 330.8L1591.7 327.5L1585.9 325.8L1587.9 323.3L1587.5 319.5L1584.2 318.3L1578.3 319.5L1572 322L1572.9 317.8L1575.8 315.8L1572.9 314.1L1570.4 314.1L1564.5 318.3L1557.8 321.2L1555.7 323.3L1558.2 325.8L1561.6 328.3L1564.9 329.6L1569.5 326.6L1576.2 328.3L1576.6 330.8L1570.8 331.7L1568.7 334.2L1562.8 339.2L1567 341.3L1568.7 345.5L1571.2 349.3L1574.1 352.6L1574.1 356L1571.6 356.8L1572.5 359.3L1575 360.6L1573.3 367.3L1570.8 367.7L1567.8 371.9L1564.5 377.7L1560.7 382.8L1554.9 386.5L1549 389.9L1544.4 390.3L1540.2 391.1L1537.7 392.8L1531.8 394.9L1527.6 395.8L1526 400.4L1523.9 400.4L1522.6 397.4L1518 394.5L1511.7 394.1L1510 397.4L1506.3 405.4L1507.1 407.9L1513.4 415.4L1517.2 418L1519.7 421.3L1521.3 429.3L1520.9 436.4L1517.6 439.3L1512.5 441.8L1509.2 445.6L1504.2 449.4L1503.8 443.9L1500.4 441.4L1497 441L1495 438.5L1493.3 434.3L1489.5 432.6L1485.7 432.6L1486.2 429.3L1482.8 429.3L1482.4 433.9L1479 439.7L1479 446.9L1482 446.9L1483.6 450.6L1484.5 454.4L1486.6 456.5L1489.1 457.3L1491.2 459.4L1495 462.4L1496.6 464.9L1496.6 467.8L1496.2 469.9L1497 473.7L1498.7 474.9L1500 478.7L1497 480.4L1493.3 477L1488.3 473.7L1487.8 471.6L1485.3 469.1L1484.9 465.3L1483.2 463.2L1483.6 460.3L1482.8 458.2L1481.1 456.9L1480.3 454.8L1476.1 450.2L1475.3 452.7L1474.8 450.2L1475.3 446.9L1476.5 443.5L1477.4 437.6L1475.7 435.1L1476.1 430.5L1474.4 428.4L1473.2 423.4L1472.3 418L1470.7 414.6L1467.7 416.7L1463.1 419.6L1460.6 419.2L1458.1 418.4L1459.3 412.9L1458.5 409.2L1455.2 404.1L1456 402.9L1453.5 402L1450.6 398.7L1449.3 396.6L1446.4 389.9L1442.6 389.9L1441.8 394.1L1439.7 393.2L1436.3 394.1L1435.9 394.5L1433 394.5L1425.8 400.8L1420 403.7L1414.9 408.7L1407.8 414.2L1407.8 415.9L1405.7 417.1L1402 418.8L1399.9 418.8L1398.6 422.1L1399.4 427.6L1399.9 430.9L1398.2 434.7L1398.2 441.8L1395.7 442.3L1394 445.6L1395.3 446.9L1391.5 448.1L1388.1 451.9L1384.4 448.1L1382.3 442.3L1380.6 438.1L1379.3 436L1377.2 432.2L1376 426.8L1375.2 424.2L1371.4 418.4L1369.7 410.4L1368.5 405L1368.5 399.9L1367.6 395.8L1361.7 398.3L1358.8 397.9L1353.4 392.8L1355 391.1L1353.8 389.9L1349.2 386.1L1345.8 385.3L1344.6 381.9L1341.6 379L1333.7 379.8L1327 379.8L1321.1 380.3L1313.2 379L1308.5 378.2L1303.9 377.7L1300.2 371.9L1296.8 372.3L1292.6 374.4L1287.6 373.1L1283.4 369.8L1279.2 368.5L1276.7 364.8L1273.4 359.3L1271.3 359.8L1268.3 358.5L1267.1 360.2L1264.4 359.8L1265.4 364.3L1267.9 369.4L1270 370.2L1270.8 371.9L1273.8 373.6L1273.4 376.9L1273.8 378.2L1275 379.4L1275.9 381.1L1276.3 381.5L1277.6 376.5L1279.6 377.3L1279.6 379.8L1278.8 382.4L1281.3 389.1L1287.2 384L1289.7 384.4L1295.6 379L1298.5 376.1L1299.8 374.8L1299.3 377.7L1299.8 381.1L1301.4 384L1303.9 385.3L1306.9 386.1L1309.4 386.5L1312.7 390.7L1314 392L1311.9 395.8L1310.2 397L1308.5 399.9L1306.5 399.5L1305.6 400.8L1305.2 402.9L1305.6 405.4L1305.2 406.2L1303.1 406.2L1300.6 407.5L1300.2 409.6L1296.8 410.4L1295.1 411.7L1295.1 413.4L1293.1 414.6L1290.5 414.2L1288 415.4L1285.9 415.4L1283 416.7L1282.2 418.8L1271.3 423.8L1267.5 426.8L1264.6 426.8L1262.1 428.4L1259.1 429.3L1255.8 429.7L1253.7 430.9L1252 432.2L1249.9 432.2L1248.6 432.6L1245.7 432.6L1244.5 430.1L1244.9 427.6L1243.2 423.4L1241.9 421.7L1242.8 421.3L1242.4 417.1L1241.9 415L1240.7 413.8L1240.7 412.1L1238.6 410.8L1236.1 407.1L1234.8 403.7L1231.9 400.8L1230.2 400.4L1227.3 396.2L1226.9 390.7L1224.8 386.1L1222.7 384.4L1220.6 383.6L1219.3 381.1L1219.3 380.3L1218.1 378.2L1216.8 377.3L1215.1 374L1212.6 370.6L1210.5 367.7L1208.4 367.7L1209.3 365.6L1209.7 361.8L1207.2 354.7L1208.4 353.5L1210.1 348L1212.2 343.4L1213.9 337.1L1214.7 335.4L1213.5 333.3L1215.1 331.7L1212.6 332.1L1208.9 331.2L1205.9 333.8L1199.6 334.2L1196.3 332.1L1191.7 331.7L1190.8 333.3L1187.9 334.2L1183.7 331.7L1179.1 331.7L1176.6 327.5L1173.7 325.4L1175.8 322L1173.2 319.9L1177.9 316.2L1184.1 315.8L1185.8 312.8L1193.8 313.2L1198.8 310.7L1203.8 309.5L1210.9 309.5L1218.1 312.4L1223.9 314.1L1229 313.2L1232.7 313.7L1237.8 311.6L1237.3 307L1232.3 304.9L1225.6 299.8L1220.6 298.2L1217.2 296.1L1220.2 295.2L1223.5 291.9L1221.4 290.2L1227.3 287.3L1223.5 288.1L1220.2 288.5L1210.5 291.5L1210.1 294L1212.2 294.8L1216.4 294.8L1215.6 296.5L1210.9 297.3L1205.5 299.4L1203 298.6L1203.8 296.9L1199.6 295.6L1200.1 294.8L1204.2 293.1L1203 292.3L1196.3 291.5L1196.3 289.8L1192.1 290.2L1190.8 292.7L1187.5 295.6L1185.4 297.7L1184.1 297.3L1183.3 302.3L1180.8 304L1179.5 307L1180.8 309.5L1181.2 311.1L1185 312.4L1184.1 313.2L1179.1 313.7L1177.4 314.9L1174.1 317L1172.4 315.3L1172.8 314.5L1169.9 314.1L1167.8 314.1L1162.8 314.9L1165.7 317.4L1163.6 318L1161.1 318L1159 315.8L1158.2 316.6L1159 319.1L1161.1 321.2L1159.7 322.2L1161.9 324.1L1164 325.4L1164 327.5L1160.3 326.6L1161.5 328.7L1159 329.2L1160.7 332.9L1157.8 332.9L1154.4 331.2L1152.7 327.9L1151.9 325L1150.2 322.9L1148.1 320.8L1148.1 319.5L1147.2 319.1L1147.1 317.8L1144.8 316.6L1144.3 314.9L1144.8 312L1145.2 310.7L1144.8 309.9L1142.7 308.2L1136.8 305.7L1134.3 304.4L1130.5 303.2L1127.2 300.3L1128 299.8L1125.9 298.2L1125.9 296.5L1123.4 296.1L1121.9 297.7L1120.9 296.5L1120.9 294.4L1121.7 294.4L1118.4 294L1115.4 295.2L1115 298.6L1116.3 300.7L1120 302.8L1122.1 306.1L1126.8 309.5L1130.1 309.6L1131.4 310.7L1130.1 311.6L1133.9 312.8L1136.8 314.1L1140.6 316.2L1141 317L1140.2 318.7L1137.6 316.6L1134.3 316.2L1132.2 318.7L1135.5 320.4L1135.1 322.5L1133 322.9L1130.9 326.2L1129.3 326.6L1129.3 325.4L1130.1 322.9L1130.9 322L1128 317.8L1126.3 317L1125.1 315.3L1122.6 314.5L1120.5 312.8L1117.5 312.4L1114.2 310.7L1110.4 307.8L1107.5 305.7L1106.2 301.5L1104.1 301.1L1100.8 299.4L1098.7 300.3L1096.6 301.9L1094.5 302.3L1090.7 304.9L1082.8 303.6L1076.5 304.9L1076 307.4L1076.2 309.9L1072.3 312.8L1066.9 313.7L1066.4 314.9L1063.9 317.4L1062.2 320.8L1063.9 323.3L1061.4 325L1060.6 327.9L1057.6 328.7L1054.7 331.7L1045.1 331.7L1042.6 333.3L1040.9 335L1038.8 333.3L1037.5 332.9L1036.3 330.8L1032.1 330L1030.4 331.2L1028.3 330.4L1026.2 330.8L1027.1 327.5L1026.6 325L1024.5 324.5L1023.7 323.3L1024.1 320.4L1025.4 318.7L1026.6 314.5L1026.6 312.8L1025.8 309.9L1024.1 305.3L1023.7 305.3"/></g>
<path d="M435.2 108.4V862.4M560.8 108.4V862.4M686.5 108.4V862.4M812.2 108.4V862.4M937.8 108.4V862.4M1063.5 108.4V862.4M1189.2 108.4V862.4M1314.8 108.4V862.4M1440.5 108.4V862.4M1566.2 108.4V862.4M1691.8 108.4V862.4M309.5 736.7H1817.5M309.5 611.1H1817.5M309.5 485.4H1817.5M309.5 359.7H1817.5M309.5 234.1H1817.5" stroke="#000" stroke-width="1.9" fill="none"/>
<rect x="309.5" y="108.4" width="1508" height="754" fill="none" stroke="#000" stroke-width="2.9"/>
<rect x="558" y="1024" width="1010" height="37" fill="url(#cbg)"/>
<path d="M558 1024L507 1042.5L558 1061Z" fill="#bfbfbf"/>
<path d="M1568 1024L1617 1042.5L1568 1061Z" fill="#404040"/>
<path d="M558 1024L1568 1024L1568 1024L1617 1042.5L1568 1061L558 1061L507 1042.5Z" fill="none" stroke="#000" stroke-width="3.3" stroke-linejoin="miter" stroke-miterlimit="20"/>
<path d="M659 1062.5V1085.8M861 1062.5V1085.8M1063 1062.5V1085.8M1265 1062.5V1085.8M1467 1062.5V1085.8" stroke="#000" stroke-width="4" fill="none"/>
<text x="659" y="1134.6" font-size="46" text-anchor="middle" textLength="63" lengthAdjust="spacingAndGlyphs">0.2</text>
<text x="861" y="1134.6" font-size="46" text-anchor="middle" textLength="63" lengthAdjust="spacingAndGlyphs">0.4</text>
<text x="1063" y="1134.6" font-size="46" text-anchor="middle" textLength="63" lengthAdjust="spacingAndGlyphs">0.6</text>
<text x="1265" y="1134.6" font-size="46" text-anchor="middle" textLength="63" lengthAdjust="spacingAndGlyphs">0.8</text>
<text x="1467" y="1134.6" font-size="46" text-anchor="middle" textLength="63" lengthAdjust="spacingAndGlyphs">1.0</text>
<text x="1063" y="1192.8" font-size="46" text-anchor="middle" textLength="560" lengthAdjust="spacingAndGlyphs">Aerosol mid pressure [hPa]</text>
<text x="1464.4" y="1192" font-size="51.6">×</text><text x="1497" y="1188" font-size="46">10</text>
<text x="1551" y="1171.3" font-size="29">3</text>
<circle cx="543" cy="1777.7" r="463" fill="#808080"/>
<g clip-path="url(#cn)"><rect x="70" y="1305" width="950" height="950" fill="url(#p8)" mask="url(#kn8)"/><rect x="70" y="1305" width="950" height="950" fill="url(#p3)" mask="url(#kn3)"/><rect x="70" y="1305" width="950" height="950" fill="url(#p10)" mask="url(#kn10)"/><rect x="70" y="1305" width="950" height="950" fill="url(#p7)" mask="url(#kn7)"/><rect x="70" y="1305" width="950" height="950" fill="url(#p5)" mask="url(#kn5)"/><rect x="70" y="1305" width="950" height="950" fill="url(#p14)" mask="url(#kn14)"/><rect x="70" y="1305" width="950" height="950" fill="url(#p4)" mask="url(#kn4)"/><rect x="70" y="1305" width="950" height="950" fill="url(#p9)" mask="url(#kn9)"/><rect x="70" y="1305" width="950" height="950" fill="url(#p2)" mask="url(#kn2)"/><rect x="70" y="1305" width="950" height="950" fill="url(#p1)" mask="url(#kn1)"/><rect x="70" y="1305" width="950" height="950" fill="url(#p6)" mask="url(#kn6)"/><rect x="70" y="1305" width="950" height="950" fill="url(#p0)" mask="url(#kn0)"/><rect x="70" y="1305" width="950" height="950" fill="url(#p12)" mask="url(#kn12)"/><rect x="70" y="1305" width="950" height="950" fill="url(#p11)" mask="url(#kn11)"/><rect x="70" y="1305" width="950" height="950" fill="url(#p16)" mask="url(#kn16)"/><rect x="70" y="1305" width="950" height="950" fill="url(#p13)" mask="url(#kn13)"/></g>
<g clip-path="url(#cn)" fill="none" stroke="#000" stroke-width="1.9" stroke-linejoin="round"><path d="M835 2050L835.3 2042.4L835.5 2034.9L835.4 2027.5L837.9 2020.8L840.2 2014.1L844.4 2011.1L848.6 2008L854.5 2011.6L860.4 2015.1L859.5 2022.8L858.5 2030.4L863.6 2035.9L868.7 2041.5L877.4 2040.3L886 2039L894 2043.6L902 2048.2L910.1 2049.4L917.6 2054.9L925.1 2060.5L922.9 2067.5L920.6 2074.5L918.2 2081.5L910.8 2084.7L903.4 2087.7L893.4 2083.4L888.3 2077.4L883.3 2071.4L881.7 2063.9L873.8 2063.7L866 2063.4L859 2062.2L852 2060.9L844.2 2054.7L835 2050M392.3 1748.4L390.7 1750.8L389.1 1753.3L387.5 1755.9L391.5 1758.4L395.6 1760.9L401.2 1760.9L406.8 1761L407.1 1758.6L407.5 1756.2L407.9 1753.9L405.4 1751.4L403 1748.8L400.7 1746.1L396.5 1747.2L392.3 1748.4M391 1763.1L391.7 1765.3L392.4 1767.6L393.1 1769.8L396.7 1772.2L400.4 1774.4L404.1 1776.5L406.3 1774.1L408.5 1771.8L408 1769.8L407.6 1767.8L407.2 1765.8L399.1 1764.5L391 1763.1M413.8 1800.5L413.3 1798.3L412.7 1796L412.3 1793.8L411.8 1791.5L411.5 1789.2L411.8 1786.9L412.1 1784.6L412.5 1782.3L412.9 1780L413.4 1777.7L413.9 1775.4L414.5 1773.2L416.5 1771.1L418.5 1769L420.6 1767L422.7 1765.1L424.2 1767.3L425.8 1769.5L427.4 1771.6L429 1773.7L429.1 1775.7L429.3 1777.7L429.6 1779.7L429.8 1781.7L429.1 1783.7L428.3 1785.7L427.6 1787.8L427 1789.9L427.2 1791.9L427.5 1793.9L427.8 1795.9L428.1 1798L421 1799.2L413.8 1800.5M418.2 1760.2L419.6 1758.5L421 1756.9L422.4 1755.4L429.3 1755.6L429.8 1757.7L430.3 1759.9L430.9 1761.9L424.5 1761L418.2 1760.2M424.8 1744.9L424.4 1742.8L424 1740.6L423.6 1738.4L423.2 1736.2L422.9 1734L423.8 1732.1L424.6 1730.2L425.5 1728.4L426.5 1726.5L427.4 1724.7L428.4 1722.9L429.4 1721.1L434.3 1722.9L439.1 1724.7L438.6 1726.8L438.2 1728.8L437.8 1730.9L437.5 1732.9L437.2 1735L436.9 1737L436.6 1739L436.3 1741L436.1 1743L432.4 1743.5L428.6 1744.2L424.8 1744.9M445.4 1731.1L444 1728.6L442.7 1726L441.4 1723.4L440.2 1720.7L442.3 1719.6L444.5 1718.5L446.6 1717.5L448.7 1716.5L449.5 1719.3L450.3 1722L451.2 1724.7L452.2 1727.3L450.5 1728.2L448.8 1729.2L447.1 1730.1L445.4 1731.1M454.6 1783.1L452.6 1781.8L450.7 1780.4L448.8 1779L447 1777.5L445.1 1776L447.5 1774.4L449.9 1772.8L452.3 1771.4L454.8 1770L463.3 1769.3L464.7 1770.8L466 1772.3L467.4 1773.7L468.9 1775.1L467.4 1776.4L465.9 1777.7L464.4 1779.1L462.9 1780.5L458.8 1781.7L454.6 1783.1M429.7 1801.8L429.3 1799.8L429 1797.8L428.6 1795.8L428.3 1793.8L428.1 1791.8L428.8 1789.7L429.7 1787.6L430.5 1785.6L431.4 1783.5L432.4 1781.6L438.3 1780L444.2 1778.6L447 1780L449.8 1781.4L452.6 1782.6L455.5 1783.8L459.2 1782.1L462.9 1780.5L464.4 1781.8L465.9 1783.1L467.4 1784.3L469 1785.5L470.5 1786.6L472.1 1787.7L473.2 1788.7L474.4 1789.8L475.7 1790.8L476.9 1791.8L478.1 1792.7L479.4 1793.6L480.7 1794.4L481.9 1795.2L483.2 1796L484.5 1796.7L484.7 1797.8L484.9 1798.8L485.1 1799.9L485.4 1801L485.6 1802.1L485.9 1803.1L486.2 1804.2L486.5 1805.2L486.9 1806.3L487.2 1807.4L482.9 1808.3L478.6 1809.1L476.8 1808.6L475 1808L473.2 1807.3L471.3 1806.6L469.5 1805.9L467.7 1805.1L464.6 1804.7L461.4 1804.2L458.3 1803.6L455.4 1802.8L452.5 1801.9L449.6 1801L445.3 1803L441 1805L437.3 1804.1L433.5 1803L429.7 1801.8M362 1750.6L362.5 1753.4L363 1756.1L363.6 1758.8L371.5 1758.2L371.4 1755.4L371.4 1752.7L366.7 1751.7L362 1750.6M319.2 1793.3L320.1 1797.2L321.1 1801L322.1 1804.8L321.9 1808.1L321.8 1811.4L321.7 1814.7L328.1 1809.8L330.9 1806.3L333.7 1802.8L336.6 1799.4L337.2 1796.3L337.8 1793.2L338.5 1790.2L333.1 1788.7L327.7 1787.1L323.5 1790.2L319.2 1793.3M408.4 1696.8L410.6 1695L412.8 1693.1L415 1691.4L417.2 1689.6L421.9 1693.4L426.6 1697.2L431.3 1701L431.1 1703.3L430.9 1705.6L430.7 1707.9L430.5 1710.1L427.7 1711.2L425 1712.3L422.2 1713.5L419.4 1714.7L416.6 1716.1L414.2 1712.1L412 1708L410.7 1704.4L409.5 1700.6L408.4 1696.8M601.6 1832.3L601.7 1830.5L601.7 1828.8L601.8 1827L602.2 1825.7L602.7 1824.3L603.1 1823L603.4 1821.6L603.8 1820.2L605.1 1819.6L606.4 1818.9L607.7 1818.1L609 1817.4L610.3 1816.6L611.6 1815.7L612.9 1818L614.1 1820.4L615.2 1822.8L614.4 1824.1L613.6 1825.3L612.8 1826.6L611.9 1827.8L611 1829L610.1 1830.1L609.2 1831.3L608.3 1832.5L606 1832.5L603.8 1832.4L601.6 1832.3M398.6 1803.2L398.6 1805.8L398.7 1808.4L398.8 1811L399 1813.6L403.3 1811.2L407.6 1808.9L407.4 1806.8L407.2 1804.7L407 1802.6L406.8 1800.5L398.6 1803.2M499.7 1573.8L496.8 1576.4L494.1 1579L491.4 1581.7L488.8 1584.4L486.2 1587.1L483.8 1589.8L487.3 1591.3L490.8 1592.8L494.2 1594.4L497.5 1596.1L500.8 1597.8L498.6 1601.5L496.5 1605.2L494.4 1608.9L492.5 1612.7L490.5 1615.4L488.5 1618.1L486.6 1620.9L484.8 1623.7L483 1626.5L481.3 1629.3L479.7 1632.1L477.1 1632.4L474.4 1632.6L471.8 1633L469.1 1633.3L466.5 1633.7L463.7 1634L461 1634.3L458.3 1634.6L455.5 1635L452.8 1635.8L450.1 1636.7L447.4 1637.6L444.6 1638.5L441.9 1639.5L439.2 1640.6L436.5 1641.7L433.8 1642.9L430.8 1644L427.8 1645.2L424.8 1646.5L421.9 1647.8L418.9 1649.2L417.9 1652.6L417 1656L416.1 1659.4L414.7 1662.2L413.4 1665L412.1 1667.9L410.9 1670.7L408.2 1672.4L405.6 1674.2L403 1676L400.3 1677.8L397.8 1679.7L395.7 1682L393.7 1684.4L391.7 1686.8L389.8 1689.2L386.7 1691.1L383.7 1693L380.7 1695L377.7 1697.1L374.8 1699.2L373.1 1702.1L371.5 1704.9L369.9 1707.8L368.4 1710.7L366.9 1713.6L367.1 1717.1L367.3 1720.6L367.6 1724.1L367.9 1727.5L365.7 1730.2L363.6 1733L361.4 1735.8L359.4 1738.7L357.3 1741.6L357.4 1745L357.5 1748.3L357.7 1751.7L357.9 1755L357.9 1758.3L358.1 1761.5L365.2 1762.8L372.3 1764L379.4 1765.1L386.4 1766.2L378.1 1767.3L369.8 1768.6L366.5 1771.5L363.2 1774.6L360 1777.7L357.1 1780.4L354.2 1783.2L351.4 1786.1L357.4 1788.5L363.4 1790.8L369.3 1792.9L368.8 1796L368.3 1799.2L367.8 1802.3L361.9 1804.3L356 1806.3L351.4 1804.5L346.7 1802.6L342 1800.6L342.6 1797.8L343.2 1795.1L343.9 1792.3L337.7 1791.3L331.4 1790.3L325.2 1789.1L322.6 1785.9L320.1 1782.6L317.6 1779.2L315.1 1775.7L310.5 1772.1L306 1768.4L301.4 1764.5L297 1760.5L290.2 1759L283.4 1757.4L276.6 1755.8L269.5 1759.3L262.4 1763L260.4 1767.8L258.4 1772.7L256.5 1777.7L253.6 1782.2L250.8 1786.9L248.1 1791.6L245.4 1796.4L242.8 1801.3L242.7 1805.6L242.6 1809.8L242.6 1814L242.7 1818.3L236.4 1819.7L230 1821.1L223.6 1822.6L216.3 1828L209.1 1833.6L211.3 1837.7L213.5 1841.8L222.5 1838.8L231.5 1836L240.4 1833.2L247.2 1837.4L254 1841.3L260.8 1844.9L268.7 1838.8L276.8 1832.8L283.2 1832.6L289.6 1832.3L296 1832L303.2 1829.3L310.4 1826.7L311.2 1830L311.9 1833.3L312.8 1836.6L313.6 1839.9L314.5 1843.2L312.3 1848.2L310.2 1853.4L308.1 1858.6L301.2 1864.5L294.3 1870.7L292.1 1876.3L290 1882L296.8 1883.5L303.7 1884.9L310.5 1886.1L306.2 1891.7L302.3 1897.5L298.6 1903.5L294.9 1909.6L289.2 1915.5L283.6 1921.5L283.4 1926.8L283.4 1932.2L283.4 1937.6L283.5 1943L279.2 1949.4L275 1956L270.8 1962.7L265 1961.7L259.2 1960.6L253.1 1957.9L246.9 1955.1L240.8 1952.2L237.8 1946.9L234.9 1941.5L232.1 1936.1L229.4 1930.7L226.9 1926.2L224.5 1921.7L222.1 1917.2L217.2 1914.7L212.3 1912L207.4 1909.2L198.9 1906.6L190.3 1903.8L181.7 1900.7L187 1904L192.2 1907.2L197.5 1910.3L202.3 1914.5L207.1 1918.6L211.9 1922.5L216.8 1926.4L215.7 1931L214.8 1935.7L208.2 1936.3L201.5 1936.9L194.1 1944.1L195.3 1951L196.7 1958L198.1 1964.9L201.3 1968.7L204.5 1972.3L198.7 1969L192.8 1965.5L187 1961.8L181.2 1958.1L176.2 1954.5L171.1 1950.8L166.1 1947.1L171.1 1943.7L176.1 1940.3L181.1 1944.1L186.1 1947.9L182.8 1943.1L179.6 1938.3L176.3 1933.3L167.3 1929.5L162.9 1925.6L158.6 1921.7L154.3 1917.7L148.4 1917.5L142.4 1917.2L137.8 1925.2L134 1920.5L130.2 1915.8L125.8 1910.9L121.4 1905.8L117 1900.7L111.5 1901.8L106 1903L96.9 1897.2L89.7 1896.6L82.5 1895.9L75.4 1893.4L67.9 1897.9L60.3 1902.5L54.5 1897.2L48.8 1891.8L40.6 1884.5L32.4 1876.9L22.7 1869.4L13.1 1861.6L4.6 1861.1L-4 1860.4M-10 1825.8L-9.1 1818.6L-8.1 1811.4L-7.9 1804.2L-7.6 1796.9L-9.5 1789.3L-11.3 1781.6M34.3 1561.8L44.9 1561.1L50.4 1556.8L55.9 1552.6L48.4 1551.8L40.8 1551M47.8 1536.2L60.1 1536.4L72.2 1536.8L82.4 1534.9L92.5 1533.1L97.5 1528.7L102.4 1524.3L107.4 1520.1L119.5 1520.7L131.4 1521.5L138.1 1522.7L144.7 1524L152.6 1523.2L160.5 1522.6L168 1524.3L175.5 1526L181.8 1531.3L188 1536.5L194.7 1541.6L201.3 1546.6L207.9 1551.7L215.2 1556.6L222.5 1561.5L229.1 1564.1L235.5 1566.6L241.9 1569.2L240.5 1574.8L239.1 1580.4L242.2 1580.9L248.9 1578.6L255.6 1576.5L261.1 1574.1L266.6 1572L272.2 1569.9L277.6 1572.2L282.9 1574.5L291.5 1575.2L300 1576.2L308.4 1577.3L316.2 1578.8L324 1580.5L331.8 1581.9L339.5 1583.5L347.1 1585.2L351.5 1582.8L355.9 1580.5L362 1580.2L368.1 1580L374.1 1579.9L377.8 1577.3L381.6 1574.8L385.5 1572.4L389.4 1570.1L394.2 1569.1L399.1 1568.3L403.9 1567.6L405.9 1562.5L408 1557.5L410.7 1553.1L413.4 1548.7L416.3 1544.3L419.5 1550.3L422.8 1556.2L423.2 1549.9L423.7 1543.5L423.8 1533.3L425.5 1527.5L427.2 1521.7L429.1 1515.8L431.5 1510.8L434.1 1505.8L436.7 1500.8L440.7 1496.6L444.8 1492.5L449 1488.4L453.3 1484.4L449.9 1491.3L446.7 1498.2L443.8 1505.1L442 1512.2L440.4 1519.4L439 1526.5L443.5 1525.2L448.1 1523.9L452.7 1522.7L457.3 1521.6L460 1526L462.6 1530.3L467.6 1531L472.5 1531.7L477.3 1532.5L478.6 1540L479.8 1547.3L481.2 1554.7L478.1 1556.7L475 1558.8L472 1560.9L469.1 1563.1L470.5 1568.2L471.8 1573.4L475.2 1572.1L478.6 1570.8L482 1569.7L485.4 1568.5L488.8 1567.5L492.3 1566.5L496 1570.1L499.7 1573.8M448.5 1806.6L452 1807.3L455.5 1807.8L459 1808.3L462.4 1808.6L465.9 1808.9L469.3 1809L471.7 1809.5L474.1 1809.8L476.5 1810.1L478.9 1810.4L481.2 1810.5L482.3 1811.3L483.4 1812.1L484.5 1812.9L485.6 1813.6L486.7 1814.3L487.8 1814.9L488.9 1815.6L490.1 1816.2L491.2 1816.7L492.3 1817.3L493.5 1817.8L494.6 1818.3L495.8 1818.7L497 1819.1L498.3 1819.4L499.5 1819.7L500.7 1820L501.9 1820.2L503.1 1820.5L504.3 1820.6L505.5 1820.8L506.7 1820.9L507.6 1821.4L508.5 1821.9L509.3 1822.4L510.2 1822.8L511.1 1823.2L512 1823.6L512.9 1824L513.8 1824.4L514.7 1824.8L515.6 1825.1L516 1826.5L516.3 1827.9L516.7 1829.3L517.2 1830.7L517.6 1832.1L518.2 1833.5L518.7 1834.9L519.3 1836.3L519 1840.2L518.8 1844.2L520 1844.6L521.1 1845L522.3 1845.4L523.5 1845.7L524.7 1846.1L525.9 1846.4L527.1 1846.7L525 1849.8L522.8 1852.9L520.5 1856L518.1 1859L515.6 1861.9L511.8 1869.6L507.8 1877.2L506.5 1883.6L505.4 1889.9L502.8 1892.4L500.1 1894.9L497.3 1897.3L494.5 1899.6L490.4 1907.2L486.2 1914.8L482.9 1917.1L479.4 1919.4L475.9 1921.6L477.5 1924.8L479.2 1928.1L480.9 1931.3L476.8 1933.6L472.6 1935.9L468.2 1938.1L464.7 1938.3L461.1 1938.4L457.5 1938.5L453.8 1938.5L450.2 1938.5L446.3 1939.5L442.3 1940.4L438.3 1941.2L434.3 1942L430.5 1942L426.7 1941.9L422.9 1941.8L419.1 1941.5L415.2 1941.2L409.1 1943.1L402.8 1944.8L397 1948.6L391.2 1952.4L383.6 1956.8L375.9 1961.1L368.1 1965.3L365.3 1963.3L362.6 1961.3L361.7 1955.9L360.9 1950.5L360.2 1945.2L359.6 1939.9L364.3 1931.7L369.1 1923.6L371.7 1917.7L374.4 1911.8L377.3 1904.8L380.4 1898L385.9 1892.9L391.4 1887.8L395.2 1889.1L399 1890.2L402.8 1891.2L405.9 1886.8L409.1 1882.3L408.7 1879.5L408.4 1876.7L408.1 1873.9L412.2 1874.5L416.2 1875L420.1 1875.4L420.4 1872.2L420.7 1869.1L421 1865.9L421.5 1862.8L426 1858.1L430.7 1853.5L433.2 1849.5L435.8 1845.6L438.4 1841.8L438.6 1839.5L438.8 1837.3L439 1835.1L439.2 1832.9L438.3 1831L437.4 1829.2L436.5 1827.4L435.6 1825.5L435.7 1823.5L435.8 1821.5L436 1819.6L436.1 1817.7L438.4 1815.2L440.8 1812.9L444.6 1809.7L448.5 1806.6M457.5 1984.1L460.1 1986.5L462.7 1988.7L465.4 1991L469 1992.7L472.6 1994.4L477.2 1993.1L481.7 1991.6L486.1 1990.1L489.6 1987.4L493 1984.6L492.5 1979.5L492.1 1974.4L489.9 1972.4L487.7 1970.4L484.7 1970.5L481.6 1970.4L478.5 1970.3L475.9 1969.9L473.2 1969.4L470.9 1967.6L468.5 1965.8L466.3 1963.9L462.1 1966.4L457.9 1968.9L460 1973.2L462.3 1977.5L457.5 1984.1M473.8 2191.1L479.8 2188.5L485.6 2185.9L492.7 2187.5L499.8 2189.1L506.9 2190.5L514 2191.9L519.3 2192.2L524.6 2192.5L530 2192.7L531.9 2187.2L533.8 2181.8L534.4 2173.5L534.9 2165.1L530.4 2158.7L526 2152.2L519.7 2148L513.6 2143.7L519.6 2142.8L525.6 2141.9L531.6 2140.8L535 2132.3L539.6 2131.9L544.2 2131.4L548.5 2125.7L552.6 2119.9L558.1 2117.3L563.6 2114.7L566.2 2109.3L568.7 2103.9L570.9 2096.2L576.3 2094.3L581.6 2092.3L585.6 2090.8L589.6 2089.3L588.9 2081.4L588.3 2073.6L586 2068.8L583.8 2064L587.2 2060.1L590.6 2056.2L593.9 2052.2L594.4 2059.1L594.9 2066L599.4 2070.7L599.1 2076L598.7 2081.2L602.4 2080.5L606.1 2079.8L609.8 2079L615.2 2080.6L620.6 2082.1L624 2079.3L627.4 2076.5L630.6 2073.6L634.2 2071.8L637.8 2070.1L641.3 2068.2L646.8 2069.3L649.8 2064.2L652.7 2059.2L649.7 2053.4L646.6 2047.7L646.8 2039.8L648.9 2037.9L651.1 2036.1L655.4 2036.2L659.8 2036.3L655.2 2029.8L650.8 2023.3L653.3 2020.2L655.8 2017.1L658.2 2013.9L661.1 2011.8L663.9 2009.7L666.7 2007.5L669.3 2004.6L671.8 2001.6L667.9 2001.2L664.1 2000.7L660.4 2003.2L656.6 2005.6L653.6 2008.4L650.6 2011L647.5 2013.7L644.3 2016.3L639.8 2014.3L635.4 2012.2L631.9 2003.9L628.4 1995.7L630.1 1990L631.5 1984.3L632.9 1978.6L634.1 1973L633.1 1966.6L630.2 1967.5L627.3 1968.3L624.3 1969.1L621.4 1969.9L621.9 1975.9L622.2 1981.9L620.7 1985.9L619.1 1990L617.5 1994L616.3 1998.1L615.1 2002.3L615.7 2009.1L616.3 2016L620.9 2018.8L625.5 2021.5L627.1 2027.6L625.2 2036.8L623 2046.1L623.3 2053.2L623.5 2060.3L620.3 2064L616.9 2067.8L613.5 2069.1L610 2070.4L606.7 2062.6L602.4 2055.7L598.3 2048.8L594.4 2041.9L590.6 2039.8L586.9 2044.2L583 2048.5L578.8 2050L574.7 2051.4L569.6 2044.6L567.5 2038.9L565.4 2033.2L564.7 2025.2L563.9 2017.1L566.7 2013.3L569.4 2009.4L573 2005.8L576.6 2002.2L579.7 1997.2L582.8 1992.2L585.1 1985.4L587.2 1978.7L588.4 1971.2L589.4 1963.8L591.5 1958.7L593.4 1953.6L595.4 1949.1L597.2 1944.6L598.9 1940.1L601.3 1938L603.7 1935.8L606 1933.7L607.8 1930.4L609.6 1927.2L611.2 1923.9L613.2 1922.9L615.2 1921.9L617.2 1920.9L619.2 1919.9L622.5 1920.4L625.8 1920.8L629.2 1921.2L629.1 1926.8L628.8 1932.4L631.4 1930.7L633.9 1929L636.4 1927.2L638.9 1925.4L641.5 1924.4L644.1 1923.4L646.7 1922.4L649.3 1921.3L653.2 1921.6L657.2 1921.8L661.3 1921.9L665.3 1921.9L669.9 1925.5L674.5 1929L673 1932.3L671.4 1935.5L669.7 1938.7L667.3 1940.6L664.9 1942.4L662.4 1944.2L659.9 1946L655.8 1945.6L651.7 1945.1L654.6 1951.1L657.4 1957.2L660.9 1957.4L664.4 1957.5L668 1957.5L671 1957.1L673.9 1956.6L674.3 1953L674.7 1949.4L677.6 1947.9L680.4 1946.4L683.2 1944.8L680.1 1938.2L680.3 1933.8L680.4 1929.4L680.3 1925L677.1 1919L673.8 1913.1L668.4 1909.8L670.9 1908.6L673.4 1907.4L675.9 1906L680.2 1907.9L682.3 1906.1L684.4 1904.2L686.4 1902.4L686.8 1898.6L687.2 1894.9L687.4 1891.3L687.6 1887.6L687.7 1884L691 1883.9L694.4 1883.7L695 1880.4L695.6 1877.2L696.1 1873.9L696.6 1870.7L699.8 1870.4L703 1870.1L699.3 1866.1L695.5 1862.2L697.3 1859.7L699.1 1857.2L700.8 1854.7L702.6 1852.1L706.1 1850.7L709.6 1849.3L713 1847.7L716.5 1846.1L712.2 1842.7L707.4 1844.1L702.7 1845.5L697.4 1843.5L692.1 1841.6L689 1837.7L685.9 1834L678.6 1828.9L679.5 1827.1L680.4 1825.3L681.2 1823.4L682 1821.5L687.2 1822.3L693 1827L702.1 1826.9L707.7 1829.2L713.4 1831.4L716.4 1830.5L719.4 1829.6L725.3 1831.3L730.8 1835.8L736.2 1840.5L736 1836.7L735.7 1833L730.6 1830.1L725.5 1827.3L718.5 1826.4L718.5 1823.1L718.4 1819.8L722.4 1818.3L726.3 1816.7L719.1 1816.7L716.1 1818.5L713 1820.1L705.3 1816.7L697.7 1813.4L693.5 1810.4L689.2 1807.5L688.9 1804.7L688.5 1802L680 1800.6L680 1798.4L679.9 1796.2L679.8 1794L679.7 1791.8L679.6 1789.6L679.4 1787.5L679.1 1785.3L673.9 1786.9L668.9 1784.3L667.7 1782.1L666.5 1779.9L665.2 1777.7L663.9 1775.6L663.4 1773.5L662.8 1771.4L662.2 1769.4L661.5 1767.3L660.8 1765.3L660.1 1763.3L659.4 1761.3L657.1 1759.6L654.8 1758L652.5 1756.4L650.3 1755.2L648.1 1754.1L645.9 1753L643.7 1752L644.5 1750.2L645.3 1748.4L648.7 1746.2L652 1744L651 1742.3L650 1740.6L649 1739L647.9 1737.4L648.7 1735.5L649.4 1733.5L650.1 1731.6L656.7 1727.3L658.3 1727.9L660 1728.5L662.4 1729.8L664.7 1731.1L667.1 1732.5L668.1 1730.4L669.1 1728.3L670.1 1726.1L671.5 1723.7L672.8 1721.3L671.5 1719.5L670.2 1717.7L668.9 1715.9L667.5 1714.2L666.1 1712.5L664.7 1710.8L664.6 1708.4L664.4 1706L664.2 1703.6L663.9 1701.2L663.6 1698.8L661.2 1697.6L658.8 1696.4L656.5 1695.3L654.1 1694.3L655.6 1690.6L657.1 1686.9L661.5 1681.4L665.8 1675.8L665.7 1672.9L665.5 1670.1L657.2 1673.8L657 1671L656.7 1668.2L654.7 1666.4L652.7 1664.5L650.6 1662.8L648.4 1661L646.3 1659.3L644.1 1657.6L640.7 1664.9L638.2 1665L635.7 1665.2L634.1 1663.2L632.5 1661.1L630.7 1659.1L629 1657.1L627.2 1655.2L625.4 1653.3L623.5 1651.4L621.6 1649.5L619.6 1647.6L619.2 1643.9L618.6 1640.1L618 1636.3L617.3 1632.6L615 1631.8L612.8 1631.1L610.5 1630.4L608.3 1629.8L606 1629.2L603.6 1627.7L601.1 1626.3L600.2 1622.2L602.9 1615.8L601.5 1613.9L600 1612.1L597.9 1612.2L595.7 1612.5L593.2 1612.1L590.6 1611.8L587.9 1610.8L585.1 1609.9L582.4 1609L579.7 1608.2L577.8 1603.8L575.7 1599.4L573.6 1600.4L571.6 1601.3L571.3 1606.1L570.9 1610.9L568.8 1609.9L566.6 1608.9L564.4 1608L562.1 1607.1L559.7 1607.1L557.3 1607.2L554.9 1607.3L552.4 1605.7L549.9 1604.1L547.3 1602.6L545.2 1600.8L543 1599M782.8 1470.8L777.3 1469.6L771.8 1468.5L766.9 1476.2L762 1483.8L757.2 1491.4L754.5 1487.6L751.8 1483.9L748.4 1492.1L745 1500.2L741.5 1508.2L738 1516.1L733.9 1523L729.8 1529.8L734.9 1526.7L740.6 1520.4L746.4 1514.2L752.2 1508L757.3 1502.7L762.5 1497.5L767.7 1492.2L772.7 1485.1L777.7 1478L782.8 1470.8M849.1 2226.4L843.4 2229.8L837.6 2233.1L831.9 2236.4L825.6 2239.4L819.3 2242.4L812.9 2245.2L806.1 2252.3L799.1 2259.3L789.4 2261.4L779.8 2263.3L770.2 2265L759.9 2264.9L749.6 2264.5L743.2 2273.1L736.5 2281.7L729.5 2290.2L727.3 2284L725 2277.8L717.3 2281L709.5 2284.1L701.6 2287L693.7 2289.9L685.8 2292.6L677.3 2292.3L668.8 2291.9L660.4 2291.4L652 2290.7L642.2 2288.3L636.6 2282.7L631.1 2277.2L634.4 2270.6L637.5 2264L636 2256.2L634.5 2248.5L628.2 2248.6L621.8 2248.6L615.1 2250.8L608.4 2252.8L601.6 2254.8L593.3 2256.2L585 2257.6L576.6 2258.7L568.3 2259.8L560 2263.3L551.5 2266.7L543 2269.9L534.3 2274.1L525.5 2278.2L518 2276L510.5 2273.7L503.1 2271.3L495.7 2268.7L490.7 2275.2L485.6 2281.6L475.9 2287.5L466 2293.2L460.8 2302.4L455.6 2311.6L450.2 2320.8M838 2241.7L832.7 2235.9L839.1 2233.7L845.6 2231.5L849.1 2226.4M519.4 2047.6L524.1 2048L528.8 2048.3L523.5 2057.1L527 2057.3L530.6 2057.5L534.2 2057.6L531.5 2063.9L526.5 2072L530.6 2074L534.7 2076L538.7 2083.5L543 2090.9L545.2 2098.4L548.9 2100.7L552.7 2102.9L552.2 2108.6L551.8 2114.2L551.3 2116.1L546.6 2120.9L541.8 2121.4L537 2121.9L531.3 2121.7L525.6 2121.5L520.8 2123.4L516 2125.3L511.2 2127.1L507.7 2124.9L512.7 2120.6L517.5 2116.2L523 2114.7L518.3 2113.4L513.7 2112.1L518.9 2105.9L515.9 2101L517.5 2094.6L521.6 2095.3L525.8 2096L526.6 2090.5L523.7 2084.7L520.5 2083.6L517.4 2082.4L516.4 2075.8L513.6 2077.4L512.8 2070.4L512 2063.4L514.9 2054.5L519.4 2047.6M509.1 2090L509.5 2096.6L504 2104.5L498.5 2106.6L492.9 2108.7L489 2107.6L485 2106.4L488.2 2101.7L491.3 2097L489 2087.2L493.9 2084.2L498.7 2081.2L502.9 2078.1L507.8 2077.7L512.4 2083.8L509.1 2090M825.4 1417.5L820.7 1422.3L816 1427L814.6 1437.5L818.4 1439.4L822.3 1441.2L829.2 1439L832.5 1433.9L835.9 1428.6L841.7 1425.4L847.6 1422.3L854.1 1422.4L861.9 1422.3L869.8 1422.4L870.5 1430.2L878.4 1426.1L886.4 1422.1L893.1 1427.6L899.6 1433.3L906.1 1439.1L916.3 1441.6L926.6 1444.3L928.5 1436.6L930.4 1428.9L939 1426.6L947.7 1424.3L956.5 1422L953.2 1429.2L949.8 1436.3L944.9 1447.5L936.6 1442.7L930.7 1440.7L923.9 1437.1L917.1 1433.7L912.9 1429.1L906.6 1424.1L900.2 1419.2L902.2 1412.8L904.1 1406.4L896.8 1406.8L889.5 1407.4L884.6 1404.3L879.6 1401.2L872.2 1399L866.2 1395.2L862.9 1392.4L857.8 1396.5L852.8 1400.6L845.8 1407.8L838.8 1415L832.1 1416.2L825.4 1417.5M814.6 1437.5L807.9 1436.2L801.3 1434.9L789.4 1438.6L784.1 1436.6L778.7 1434.7L780.6 1444.6L782.6 1453.9L784.3 1463.3L789.8 1466.3L795.9 1459.8L802 1453.2L808.8 1453L815.7 1452.8L815.2 1445.2L814.6 1437.5M265 1965.9L259.8 1970.6L254.7 1975.4L249.5 1980.2L252.1 1985.6L254.8 1990.9L252.5 1995.8L246.6 1999.2L240.6 2002.5L234.6 2005.9L233.2 2000.1L231.8 1994.2L230.6 1988.4L232.3 1985.7L229.5 1981.5L226.8 1977.2L224.1 1972.9L221.5 1968.6L229 1967.9L237.1 1966.4L245.1 1964.8L253 1963.2L259 1964.6L265 1965.9M329.2 1877.4L337.4 1876.4L345.5 1875.2L353.5 1873.9L361.5 1872.4L369.4 1870.8L368.9 1868L368.4 1865.1L368 1862.3L367.6 1859.5L369.4 1855L371.3 1850.6L373.3 1846.3L378.8 1842.4L384.3 1838.6L385.8 1835.3L387.4 1832L389.1 1828.8L390.8 1825.7L392.4 1822.7L394 1819.7L395.6 1816.8L397.4 1814L398.8 1811L400.4 1808L402 1805.1L403.7 1802.3L403.4 1799.8L403.2 1797.3L403.1 1794.9L403 1792.4L402.9 1790L402.9 1787.5L402.9 1785L403 1782.6L403.1 1780.1L403.2 1777.7L398.9 1779.8L394.7 1782L390.5 1784.4L386.7 1786.9L383 1789.6L379.3 1792.4L375.7 1795.3L373.9 1798.5L372.1 1801.7L372.1 1804.8L372.2 1807.8L372.3 1810.9L372.5 1813.9L371.5 1817.3L370.5 1820.7L369.6 1824.2L368.7 1827.7L362.3 1832.1L355.9 1836.7L349.2 1835.7L342.5 1834.6L335.7 1833.2L332.5 1838.1L329.3 1843L326.3 1848.1L323.3 1853.3L326.1 1856.7L328.9 1859.9L331.7 1863.1L330.8 1867.8L329.9 1872.6L329.2 1877.4M395.4 1702.5L394 1705L392.6 1707.5L391.2 1710.1L389.9 1712.7L388.6 1715.3L387.5 1718L386.5 1720.7L385.6 1723.5L384.6 1726.2L383.8 1729L382.9 1731.8L382.2 1734.6L379.8 1736.6L377.5 1738.7L375.3 1740.9L373 1743.1L369.6 1739.8L366.2 1736.3L362.9 1732.8L363.8 1730L364.7 1727.2L365.7 1724.5L366.7 1721.8L367.8 1719.1L370.2 1716.5L372.7 1714L375.1 1711.6L377.7 1709.2L380.2 1706.9L382.8 1704.7L384.7 1702.7L386.5 1700.8L388.5 1699L395.2 1699.1L401.9 1699.5L407.7 1704.2L413.5 1708.9L412.9 1711.4L412.4 1714L411.8 1716.5L411.4 1719.1L410.1 1721.3L408.8 1723.5L407.5 1725.7L406.3 1728L405.2 1730.2L405.4 1733L405.8 1735.7L406.2 1738.5L404.3 1740.2L402.5 1742L400.7 1743.9L399 1745.8L393.1 1742.4L387.3 1738.9L387.6 1736.1L388 1733.3L388.4 1730.4L388.9 1727.6L389.4 1724.8L390 1722L390.6 1719.2L391.3 1716.4L392 1713.6L392.8 1710.8L393.6 1708L394.5 1705.3L395.4 1702.5M560.7 1869.7L561.6 1867.8L562.5 1865.9L563.3 1863.9L564 1862L565 1860.9L566 1859.7L567 1858.6L567.9 1857.4L568.8 1856.2L569.9 1855.5L570.9 1854.8L572 1854L573 1853.3L574 1852.5L575.4 1852.5L576.7 1852.4L578.1 1852.3L579.5 1852.2L580.9 1852.1L580.8 1854.8L580.6 1857.5L580.3 1860.3L579.9 1863L579.5 1865.8L582.2 1868.8L584.9 1871.8L583.7 1873.5L582.4 1875.2L581.1 1876.9L579.7 1878.5L578.5 1880.7L577.2 1883L575.9 1885.2L573.9 1884L572.1 1882.7L570.2 1881.5L568 1879L565.8 1876.4L564 1874.2L562.3 1872L560.7 1869.7M665.9 1875.4L661.8 1869.9L657.6 1864.6L653.3 1859.3L648.8 1853.8L644.2 1848.5L643.5 1845.5L642.7 1842.5L641.9 1839.5L642.4 1837.5L642.9 1835.4L643.4 1833.3L643.7 1831.3L644.5 1829.5L645.3 1827.7L646 1825.8L646.7 1824L647.4 1822.2L648 1820.3L648.7 1818.5L650.8 1821.4L653 1824.5L655 1827.6L656.5 1830.6L657.8 1833.7L659.1 1836.9L660.4 1840.1L661.5 1843.4L661.7 1845.8L661.9 1848.2L662 1850.7L662.1 1853.2L662.1 1855.6L669.6 1858.3L672.8 1863.6L675.9 1869.1L675.2 1871.6L674.4 1874.2L671.5 1874.7L668.7 1875.1L665.9 1875.4M636.8 1766.2L634.4 1764.9L631.9 1763.6L629.4 1762.5L628.5 1761.1L627.6 1759.7L626.6 1758.4L625.7 1757.1L630.3 1754.8L634.9 1752.4L636.5 1753.7L638 1755L639.4 1756.4L640.9 1757.8L642.4 1759.3L643.8 1760.8L641.5 1762.7L639.2 1764.5L636.8 1766.2M624.5 1687.2L622.8 1686L621 1684.7L619.2 1683.6L617.5 1682.4L616.3 1680.4L615.1 1678.5L613.8 1676.5L617.5 1675.2L621.2 1673.9L625 1672.8L628.8 1671.7L630.1 1673.9L631.3 1676.1L632.5 1678.3L628.5 1682.7L624.5 1687.2M741.7 2230.4L749.1 2228.6L756.5 2226.7L763.9 2224.7L759.1 2228.7L754.1 2232.6L749.1 2236.4L741.8 2235L741.7 2230.4M811.7 2202.8L815.8 2196.8L819.8 2190.7L823.7 2184.6L823.5 2195.1L820.4 2199.1L817.2 2203.1L811.7 2202.8M612.9 2209.4L618.6 2215.6L619 2222.3L619.3 2229L614.8 2230.8L610.2 2232.6L608 2223L605.8 2213.5L612.9 2209.4M611.5 2191.2L613.5 2199L612.6 2207.4L608.1 2203L609.8 2197.1L611.5 2191.2M668.1 2228.8L668.7 2237.3L669.3 2245.8L661.1 2244.3L652.9 2242.7L644.9 2241L649.8 2236.7L654.7 2232.3L661.4 2230.6L668.1 2228.8M543 1598.2L540.4 1596.2L537.7 1594.2L534.9 1592.2L531.9 1589.5L528.9 1586.8L525.7 1584.1L522.3 1583.6L518.8 1583.1L515.2 1582.7L511.2 1579.3L507.1 1576L509.3 1574.4L511.7 1572.8L514 1571.3L517 1569.1L517.2 1564.2L517.3 1559.3L521.3 1560.2L525.2 1561.2L528.4 1560.7L531.6 1560.3L534.8 1559.9L538.1 1559.6L540.6 1561.8L543 1564M543 1564L545.8 1560.9L548.8 1557.9L551.5 1550L554.5 1542.1L558.2 1540.2L562 1538.4L565.8 1536.6L569.8 1534L573.8 1531.5L577.9 1529L582.2 1526L586.5 1523.1L591 1523.4L595.6 1523.9L600.1 1524.4L604.6 1525L607.8 1525.3L611 1525.7L613.8 1527.4L616.6 1529.2L622.1 1522.8L627.9 1516.5L628.1 1510.9L628.4 1505.2L627.7 1497.3L630.5 1497.7L633.3 1498.1L637.6 1491.8L642.3 1488.5L647.1 1485.3L652.4 1482.5L657.7 1479.9L663.1 1477.3L670.2 1470.6L677.5 1463.9L676.2 1470.9L674.8 1477.9L673.4 1484.7L670.9 1493.8L668.3 1502.8L664.3 1509.1L660.3 1515.4L654 1518.6L649.2 1520L644.4 1521.5L638.9 1525.2L633.5 1529L627.9 1531.8L622.4 1534.7L617.5 1537L612.7 1539.3L609.2 1545.3L605.8 1551.2L609.7 1549.3L613.6 1547.3L617.6 1545.4L620.4 1546.4L623.2 1547.3L626 1548.3L628.6 1551.2L632.4 1551.4L636.3 1551.7L640.2 1552L645.4 1549.1L650.8 1546.3L656.2 1543.5L661.5 1542.8L666.8 1542.1L672.3 1541.6L674.4 1545.2L676.4 1548.8L678.4 1552.4L682 1554.1L685.7 1555.9L689.3 1557.7L692.9 1559.6L696.4 1561.2L699.9 1562.9L703.4 1564.7L706.9 1566.5L712.6 1565.5L718.4 1564.6L724.2 1563.8L730.1 1563.2L736 1562.9L742 1562.8L747.8 1561.9L753.6 1561.1L759.5 1560.4L756.8 1557.1L754 1553.8L753.8 1546L750.4 1543.8L747 1541.6L743.6 1539.5L743.9 1533.1L744.1 1526.7L748.9 1519.8L758.5 1515.4L764.7 1509L771 1502.7L777.4 1496.4L785.7 1494.5L794.1 1492.9L800.6 1489.5L810.5 1487.9L820.4 1486.4L830.5 1485.1L839.5 1486.4L848.5 1487.8L851.8 1492.8L855 1497.8L860.7 1498.1L866.4 1498.6L873.7 1497.8L881 1497.1L881.8 1496.4L889.5 1498.6L897.2 1500.9L901.3 1502.8L905.8 1500.3L907.1 1490.2L909.7 1483.4L912.2 1476.6L915.5 1470.6L920.4 1466.6L925.3 1462.6L932.2 1462.6L939 1466L945.9 1469.6L951.6 1475.4L946.2 1482.6L937.4 1485.8L928.7 1489.2L925.4 1498.8L927.1 1504.7L928.7 1510.6L921.3 1510.9L914.1 1516.9L915.2 1523.8L919.6 1527.5L923.9 1531.3L929.7 1534.7L935.5 1538.1L925.9 1542.2L918.6 1540.2L918 1547L920.4 1550.9L927.6 1553L934.7 1555.2L941 1558.9L947.2 1562.8L953.6 1564L956.8 1556.7L959.2 1548L958.7 1540.6L953.2 1538.5L947.8 1536.4L946.1 1529.7L944.4 1523L949.2 1518.9L953.3 1523.3L957.3 1527.8L964.9 1528.2L973.4 1530.2L982 1532.4L982.3 1522L989.8 1513.5L995.4 1503.7L999.5 1493.6L1007 1488.9L1011.9 1492.6L1016.6 1487.5M856.8 2232.6L849.1 2226.4L849.6 2222.1L847 2215.1L844.5 2208.2L842.9 2202L841.3 2195.9L838 2188.3L834.8 2180.7L833.7 2176.3L828.5 2173.5L828.7 2168.1L825.2 2171.9L817.8 2174.6L816.5 2183.2L811.4 2187.1L806.3 2191.1L797.8 2190.2L793.5 2192.2L789.3 2194.1L789.9 2198.6L785.8 2203.4L775.3 2202.1L771.2 2204.3L767.1 2206.4L757.9 2199.4L750.4 2197.3L750.3 2188.1L743.7 2185.6L745.6 2179.6L747.3 2173.5L752.2 2170.4L757.1 2167.1L756.3 2159.4L762.9 2156.3L769.4 2153L771.7 2148L774 2143L777 2139.3L779.9 2135.6L785.2 2132.1L790.4 2128.4L797.7 2127.6L804.9 2126.6L810.4 2125L815.9 2123.3L818.9 2119.6L821.8 2115.9L827.7 2112.3L829.6 2107.3L831.3 2102.4L827.3 2098.5L823.4 2094.6L818.4 2095.7L813.5 2096.6L805.2 2095.7L797 2094.7L792.4 2095.8L787.9 2096.8L780.5 2096.3L783.1 2091.8L782.6 2082.2L777.6 2081.2L779.2 2075.7L780.6 2070.1L777.2 2075.3L773.6 2079.4L770.9 2084.2L768.1 2089.1L765.3 2094L768.1 2099.2L772 2098.8L777.6 2094.7L778.8 2098.7L776.3 2101.8L773.7 2104.8L771.4 2109.4L769 2114L764.4 2114.7L763.4 2110.7L756 2112L755.5 2109.9L759.1 2102.9L756.3 2102.4L751.2 2104.5L746.1 2106.6L744.1 2103.3L738.9 2107.6L740.1 2113.6L738.8 2122.3L738.2 2128.3L735.8 2128.5L738.1 2134L740.3 2139.6L738.4 2145.1L739.7 2152.4L744.5 2156.7L747.1 2159.9L754.5 2159.3L754.2 2161.8L750.4 2164.4L746.5 2167L745.2 2171.2L742 2178.5L737.4 2176.2L737.2 2174L731.9 2175.5L728.4 2177.1L724.6 2180L720.8 2182.8L728.3 2186.1L725.3 2189.1L721 2190.9L715.2 2187.4L714.6 2189.9L718.4 2194.9L724.1 2198.1L722.6 2201.3L728.4 2204.1L733.4 2205.3L735.5 2210.1L727.9 2211.1L732.2 2215L728 2217.9L734.8 2225.3L729.3 2227.6L721.5 2226.2L715.3 2219.6L711.1 2213.4L706.3 2209.8L700.7 2206.3L699.6 2203.4L697.6 2203.1L696.5 2200.2L691.3 2198.8L689.2 2195.2L687.6 2188.2L687.3 2185.1L685.9 2183.5L681 2180.9L675.2 2179.7L669.3 2178.4L664.3 2176.8L657.2 2175.8L649.8 2170.7L650.9 2169.3L646.4 2166.4L645.4 2162.6L641.1 2162.7L639.7 2167.1L637.3 2164.7L636.2 2159.9L637.5 2159.6L631.9 2159.9L627.9 2163.8L628.9 2171.7L632 2176.1L639.5 2179.5L644.9 2186.4L649.8 2189.2L654.8 2192.1L660.7 2190.9L663.6 2192.8L662 2195.3L669.4 2196.3L675.4 2197.7L683.6 2200.4L685 2202.1L684.8 2206.4L678.7 2203L672.5 2203.9L670.5 2210.9L677.7 2213L678.5 2218.2L675 2220.3L673.4 2229.4L670.5 2231.3L669.7 2228.3L669.5 2221.9L670.5 2219.5L662.4 2211.1L658.8 2209.9L655.5 2206.6L650.5 2205.8L645.8 2202.7L640.4 2203L633.6 2200.3L625.6 2194.8L619.6 2190.8L615.6 2181.4L611.9 2181L605.7 2178L602.5 2180.5L599.5 2185L596.1 2186.4L590.3 2193.2L583.3 2192.4L576.3 2191.5L571 2193.4L565.6 2195.2L565.1 2201.3L565.8 2207.3L559 2214.7L554.1 2215.9L549.1 2217L548.4 2220L543.8 2226.2L540.6 2234.4L543.8 2240.6L538.9 2244.7L537.2 2252L531.4 2254L525.3 2261.2L518.8 2260.9L512.3 2260.5L505.9 2260.1L500.5 2263.9L496.7 2267.8L492.8 2263.1L490.4 2261.8L488.5 2256.3L480.4 2253.2L476.7 2255.9L472.8 2253.2L468.5 2253.6L471.4 2245.6L471.5 2239.3L467.7 2237.6L466.6 2234.3L468.6 2227.3L471.6 2223.6L475.5 2213.9L476.1 2209.8L475.7 2202.6L475.1 2196.9L474.5 2191.2L473.8 2191.1"/></g>
<g fill="none" stroke="#000" stroke-width="1.9"><circle cx="543" cy="1777.7" r="126.9"/><circle cx="543" cy="1777.7" r="258.3"/><circle cx="543" cy="1777.7" r="399.3"/><path d="M543 1770.7L543 1314.7M543 1784.7L543 2240.7M549.1 1774.2L944 1546.2M536.9 1781.2L142 2009.2M549.1 1781.2L944 2009.2M536.9 1774.2L142 1546.2"/></g>
<rect x="540.8" y="1775.5" width="4.4" height="4.4" fill="#fff"/>
<circle cx="543" cy="1777.7" r="463" fill="none" stroke="#000" stroke-width="3.3"/>
<circle cx="1582.5" cy="1777.5" r="463" fill="#808080"/>
<g clip-path="url(#cs)"><rect x="1110" y="1305" width="950" height="950" fill="url(#p13)" mask="url(#ks13)"/><rect x="1110" y="1305" width="950" height="950" fill="url(#p9)" mask="url(#ks9)"/><rect x="1110" y="1305" width="950" height="950" fill="url(#p3)" mask="url(#ks3)"/><rect x="1110" y="1305" width="950" height="950" fill="url(#p8)" mask="url(#ks8)"/><rect x="1110" y="1305" width="950" height="950" fill="url(#p7)" mask="url(#ks7)"/><rect x="1110" y="1305" width="950" height="950" fill="url(#p1)" mask="url(#ks1)"/><rect x="1110" y="1305" width="950" height="950" fill="url(#p0)" mask="url(#ks0)"/><rect x="1110" y="1305" width="950" height="950" fill="url(#p16)" mask="url(#ks16)"/><rect x="1110" y="1305" width="950" height="950" fill="url(#p11)" mask="url(#ks11)"/><rect x="1110" y="1305" width="950" height="950" fill="url(#p12)" mask="url(#ks12)"/><rect x="1110" y="1305" width="950" height="950" fill="url(#p6)" mask="url(#ks6)"/><rect x="1110" y="1305" width="950" height="950" fill="url(#p14)" mask="url(#ks14)"/><rect x="1110" y="1305" width="950" height="950" fill="url(#p2)" mask="url(#ks2)"/><rect x="1110" y="1305" width="950" height="950" fill="url(#p10)" mask="url(#ks10)"/></g>
<g clip-path="url(#cs)" fill="none" stroke="#000" stroke-width="1.9" stroke-linejoin="round"><path d="M1158.4 1420L1161.7 1430.6L1161.7 1441L1162 1451.3L1165.3 1461.4L1168.7 1471.3L1169.8 1479.9L1171.1 1488.3L1164.8 1493.6L1158.6 1499L1153.6 1504.8L1148.7 1510.6L1157 1509.5L1165.2 1508.5L1175.5 1510.2L1181.4 1518.5L1187.3 1526.7L1186.4 1532.9L1185.7 1539.1L1181.9 1546.2L1178.2 1553.4L1174.7 1560.7L1181.9 1565.8L1189 1570.9L1187.9 1576.7L1186.9 1582.6L1186 1588.4L1193.2 1596.8L1198.2 1593.4L1203.1 1590L1203.2 1594.5L1203.2 1599L1211.6 1604.6L1220 1610L1221.7 1616.6L1223.5 1623.1L1225.4 1629.6L1233.9 1627L1242.3 1624.6L1247.7 1634L1253.2 1643.1L1260.9 1649.5L1268.6 1655.8L1277.4 1656.7L1276.7 1659.8L1276 1662.9L1278.9 1668.5L1281.9 1674L1278.4 1677.2L1274.9 1680.5L1268.7 1684.6L1262.6 1688.8L1252.9 1688.6L1243.1 1688.5L1235.3 1686.8L1227.5 1685.2L1219.6 1683.6L1212.7 1677.4L1205.8 1670.9L1198 1666.2L1190.2 1661.3L1180.3 1659.5L1170.3 1657.8L1160.7 1654.6L1151 1651.3L1142.2 1647.4L1133.3 1643.3L1124.4 1639.2L1116.6 1634.2L1108.7 1629L1101.1 1623.6L1093.5 1618L1085.8 1612.3L1075.7 1608.2L1065.4 1604.1M1278.7 1658.4L1285.5 1660.7L1292.3 1663L1299 1665.3L1301.7 1662.3L1304.4 1659.5L1304.8 1653.9L1305.4 1648.3L1300.3 1650.4L1295.3 1652.6L1289.7 1654.4L1284.2 1656.4L1278.7 1658.4M1747 1247.6L1748.8 1257.2L1750.4 1266.7L1747.9 1274.4L1745.4 1282L1742.9 1289.5L1747.3 1296.1L1751.6 1302.7L1756.8 1302.4L1762.2 1302.1L1771 1302.6L1779.9 1303.3L1786.5 1306.1L1793.1 1309L1799.6 1312L1806.1 1315.1L1814.6 1315L1823.2 1315.2L1835.3 1309.9L1847.8 1304.8L1861.3 1300.3M2082.1 2009.9L2071.8 2005.7L2061.4 2004.4L2051.2 2003.1L2044.1 1992.8L2036.9 1999.1L2029.6 2005.3L2028 2011.9L2026.3 2018.5L2026.9 2026.4L2027.3 2034.3L2023.4 2041.1L2019.3 2047.8L2015.1 2054.4L2010.8 2061L2013.9 2074L2013.2 2082.5L2012.5 2091L2008.6 2099.4L2004.5 2107.6L2000.3 2115.9L1996.3 2121.9L1992.3 2127.9L1988.1 2133.8L1980.3 2137.6L1972.5 2141.2L1966.4 2143.7L1960.2 2146.1L1950 2141.8L1939.9 2137.4L1931.8 2139.3L1933.7 2151.5L1935.4 2164L1934.8 2166.1L1929.9 2159.7L1925 2153.5L1920.2 2147.3L1910.1 2147.8L1914.7 2152.9L1919.3 2158.2L1909.9 2154.1L1900.6 2149.9L1891.4 2145.7L1882.9 2143.2L1874.5 2140.7L1868.8 2143.5L1863 2146.2L1857.2 2148.8L1854.2 2154.9L1851 2160.9L1844.3 2160.5L1837.6 2160L1836 2167.9L1834.3 2175.8L1829.9 2180.2L1825.4 2184.5L1820.9 2188.8L1824.9 2197.4L1828.9 2206.1L1830.1 2215.7L1831.1 2225.3L1832 2235.1L1831.3 2244.2L1830.5 2253.3L1829.6 2262.5L1832.9 2273.3M1838.1 2138.5L1831.6 2140.6L1825.1 2142.6L1819.5 2147.4L1813.9 2152.1L1811 2146.8L1808.1 2141.4L1807.8 2134.5L1807.3 2127.7L1810.7 2124.3L1814.1 2120.9L1819.6 2125L1825.1 2129.1L1831.6 2133.8L1838.1 2138.5M1647.8 2280.5L1638.8 2271.9L1630.1 2263.2L1621.7 2254.4L1616.4 2250.6L1610.1 2249.5L1603.9 2248.2L1599.4 2249.5L1594.9 2250.6L1597.1 2242.8L1599.3 2234.9L1606.1 2227.4L1609.6 2220.1L1612.9 2212.7L1618.8 2209.2L1622.8 2211.9L1619.7 2220.4L1624.1 2226.1L1631.9 2232.6L1629.4 2239.1L1626.7 2245.6L1629.9 2252.6L1635.7 2261.9L1641.7 2271.2L1647.8 2280.5M1638.2 2218.4L1632.3 2215L1626.6 2211.5L1627.3 2203.3L1632.1 2193.7L1635.3 2189.3L1639 2184.8L1642.7 2180.2L1643.7 2173.1L1646.3 2162.7L1650 2158.6L1653.7 2154.5L1659.6 2153.3L1665.6 2154L1671.7 2154.6L1673.7 2157.2L1672.1 2165.6L1668.7 2171.4L1665.3 2177.2L1660.8 2181.8L1656.3 2186.4L1651.7 2190.9L1649 2197.4L1646.2 2204L1643.6 2212.5L1638.2 2218.4M1582.5 1823L1581.7 1823.1L1580.9 1823.3L1580.1 1823.4L1579.3 1823.5L1578.5 1823.6L1577.6 1823.7L1576.8 1823.8L1576 1823.9L1575.2 1823.9L1574.3 1823.9L1573.6 1823.5L1572.8 1823.1L1572.1 1822.7L1571.3 1822.3L1570.6 1821.8L1569.9 1821.4L1569.2 1820.9L1568.6 1820.4L1567.9 1819.9L1567.2 1819.4L1566.7 1818.8L1566.1 1818.1L1565.6 1817.4L1565 1816.7L1564.5 1816L1564 1815.3L1563.6 1814.6L1563.1 1813.9L1562.7 1813.2L1562.3 1812.5L1561.5 1812.4L1560.8 1812.2L1560 1812.1L1559.3 1811.9L1558.5 1811.7L1557.8 1811.6L1557.1 1813.7L1556.6 1815.9L1556.1 1818.1L1555.7 1820.3L1555.4 1822.6L1555.1 1824.9L1554.6 1827.8L1554.2 1830.8L1553.8 1833.8L1553.6 1836.8L1553.4 1839.9L1553.4 1842.9L1550.9 1845.3L1548.3 1847.6L1545.7 1849.8L1542.9 1852L1543.1 1854.9L1543.3 1857.9L1543.6 1860.9L1544.1 1863.8L1544.6 1866.9L1543 1874L1541.6 1881.3L1539.9 1880.6L1538.3 1879.9L1536.6 1879.2L1535 1878.4L1533.4 1877.6L1531.7 1876.8L1530.1 1876L1527.7 1876.7L1525.2 1877.5L1522.6 1878.1L1520.1 1878.7L1517.5 1879.3L1514.8 1879.8L1512.8 1879.2L1510.8 1878.5L1508.8 1877.8L1506.9 1877.1L1504.9 1876.4L1502.9 1875.6L1500.9 1874.7L1498.5 1874.1L1496.1 1873.4L1493.8 1872.7L1491.4 1871.9L1489.5 1870.5L1487.7 1869L1485.9 1867.6L1484.2 1866.1L1482.4 1864.5L1480.7 1862.9L1478.5 1861.7L1476.4 1860.4L1474.3 1859L1472.2 1857.6L1470.1 1856.2L1469 1854L1468 1851.8L1467 1849.7L1466.1 1847.5L1465.2 1845.2L1464.3 1843L1463.5 1840.8L1462.7 1838.5L1462 1836.3L1461.3 1834L1461.6 1831.3L1462 1828.7L1462.4 1826L1461.1 1824.1L1459.8 1822.2L1458.5 1820.2L1457.2 1818.2L1455.9 1816.2L1454.7 1814.1L1452.5 1812.3L1450.2 1810.5L1448 1808.6L1445.8 1806.6L1443.6 1804.5L1437 1804.5L1430.4 1804.3L1432.5 1801.2L1434.7 1798.3L1436.9 1795.4L1439.2 1792.6L1439.3 1790L1439.4 1787.5L1439.5 1785L1439.7 1782.5L1439.9 1780L1440.1 1777.5L1440.7 1775L1441.3 1772.6L1441.9 1770.1L1442.6 1767.7L1443.3 1765.3L1443.2 1762.9L1443.1 1760.4L1443.1 1757.9L1443.1 1755.4L1443.2 1752.9L1443.1 1750.4L1443.1 1747.9L1443.1 1745.3L1443.2 1742.8L1443.3 1740.2L1443.5 1737.6L1443.6 1735L1443.8 1732.4L1443.4 1729.6L1443.1 1726.8L1437.9 1722L1432.9 1717.1L1425.2 1713.1L1417.4 1709.1L1410 1704.3L1402.6 1699.3L1398.5 1694.3L1394.4 1689.1L1390.4 1683.8L1389.9 1679.3L1389.4 1674.8L1389 1670.2L1388.7 1665.6L1388.6 1661L1388.5 1656.3L1392.1 1653.9L1392.9 1658.2L1393.7 1662.5L1394.6 1666.8L1398.9 1672.5L1403.3 1678.2L1408.6 1683.7L1414 1689.1L1419.4 1694.4L1426.4 1696.8L1433.2 1699.2L1440.1 1701.8L1448.3 1704.6L1456.5 1707.7L1462.9 1713.9L1469.4 1719.9L1472.3 1723.7L1475.8 1723.1L1479.2 1722.6L1482.7 1722.2L1484.5 1720.9L1486.3 1719.7L1488.2 1718.5L1490 1717.4L1491.8 1716.3L1493.7 1715.3L1495.6 1714.3L1497.4 1713.4L1499.3 1712.5L1501.1 1711.6L1502.9 1710.7L1504.7 1709.9L1506.6 1709.1L1508.4 1708.4L1510.2 1707.7L1512.1 1707.1L1513.9 1706.5L1515.1 1705.3L1516.4 1704.1L1517.7 1703L1519 1701.8L1520.3 1700.7L1521.7 1699.7L1523.1 1698.6L1524.4 1697.6L1524.1 1694L1523.8 1690.4L1523.6 1686.8L1524.6 1684.8L1525.6 1682.8L1526.6 1680.8L1527.8 1678.8L1528.9 1676.8L1530.1 1674.6L1531.2 1672.4L1532.5 1670.2L1533.4 1667.1L1534.3 1664.1L1535.4 1661L1536.6 1657.9L1537.8 1654.8L1539.2 1651.7L1540.6 1648.6L1542.1 1645.2L1543.6 1641.8L1545.2 1638.3L1547 1635.2L1548.9 1632.1L1550.9 1629L1553 1625.9L1555.3 1623.3L1557.7 1620.7L1560.1 1618.2L1562.6 1615.7L1565.4 1615L1568.2 1614.3L1571 1613.7L1573.9 1613.2L1576.7 1612.7L1579.6 1612.3L1582.5 1611.9L1585.4 1611.4L1588.3 1610.9L1591.3 1610.5L1594.2 1610.2L1597.2 1609.9L1600.1 1609.8L1603.1 1609.8L1606.1 1609.9L1609 1610L1612 1610.1L1614.9 1611.1L1617.7 1612.1L1620.4 1613.1L1623.2 1614.3L1626.1 1614.8L1629 1615.5L1631.8 1616.2L1634.7 1616.9L1637.5 1617.7L1640.3 1618.6L1643.1 1619.8L1645.7 1621L1648.4 1622.2L1651 1623.5L1653.7 1624.9L1656.3 1626.3L1659.6 1626.2L1662.9 1626.3L1666.3 1626.4L1669.7 1626.5L1673 1626.8L1676.4 1627.2L1679.8 1627.7L1681.7 1630.4L1683.6 1633.1L1685.4 1635.9L1687.1 1638.7L1688.8 1641.5L1693.6 1640.3L1698.5 1639.3L1702.2 1639.8L1705.9 1640.4L1709.7 1641.1L1713.5 1641.9L1717.3 1642.7L1721.1 1643.7L1724 1645.5L1726.9 1647.4L1729.9 1649.4L1732.7 1651.4L1737.2 1652.2L1741.7 1653.2L1746.1 1654.2L1746.4 1658.4L1746.6 1662.6L1746.7 1666.7L1746.7 1670.9L1746.6 1675L1748 1678.1L1749.3 1681.2L1750.6 1684.3L1751.8 1687.5L1753 1690.6L1754.1 1693.8L1755.1 1697L1756.1 1700.2L1756.6 1703.1L1757.1 1706.1L1757.6 1709L1758 1711.9L1753 1717.1L1747.8 1722.2L1745.5 1719.8L1743.1 1717.5L1740.7 1715.2L1733.1 1719.7L1735 1721.6L1736.8 1723.6L1738.7 1725.6L1740.5 1727.7L1743.3 1729.5L1746.1 1731.4L1748.9 1733.3L1751.6 1735.3L1755.3 1737.6L1759 1740L1762.4 1742.5L1765.7 1745.2L1769.1 1747.9L1772.4 1750.8L1773.9 1754L1775.4 1757.2L1776.8 1760.5L1778.2 1763.8L1781.9 1767.1L1785.5 1770.4L1785 1774L1784.3 1777.5L1783.6 1781L1782.9 1784.5L1783.1 1788L1783.2 1791.5L1783.3 1795.1L1783.3 1798.6L1783.3 1802.2L1782.2 1805.6L1781.1 1809L1780 1812.3L1780.8 1816.1L1781.6 1819.8L1782.4 1823.6L1783 1827.5L1780.6 1830.6L1778.2 1833.6L1775.7 1836.6L1773.2 1839.5L1772.7 1843L1772.2 1846.5L1771.5 1850.1L1770.9 1853.6L1767.9 1856.2L1764.9 1858.7L1761.8 1861.1L1758.8 1863.5L1757.3 1866.5L1755.7 1869.6L1754 1872.6L1752.4 1875.6L1751.4 1879L1750.3 1882.4L1749.2 1885.8L1748 1889.1L1746.8 1892.5L1745 1895.6L1743.2 1898.6L1741.3 1901.6L1739.4 1904.6L1737.4 1907.5L1735.6 1910.5L1733.6 1913.5L1731.6 1916.5L1729.5 1919.5L1727.4 1922.4L1724 1924L1720.6 1925.6L1717.1 1927L1713.7 1928.4L1710.3 1929.8L1706.9 1931.1L1703.5 1932.4L1700.1 1933.6L1696.8 1934.8L1692.7 1934.8L1688.6 1934.8L1684.6 1934.7L1681 1935.2L1677.5 1935.6L1674 1936L1671.2 1937.6L1668.4 1939.1L1665.6 1940.6L1662.7 1942L1658.6 1940.6L1654.5 1939.1L1651.4 1939.8L1648.3 1940.3L1645.2 1940.8L1642.1 1941.3L1638.3 1939.6L1634.6 1937.8L1630.9 1935.9L1627.8 1935.3L1624.6 1934.7L1621.5 1934L1618.5 1933.6L1615.6 1933.2L1612.7 1932.7L1609.8 1932.1L1607.8 1931.1L1605.9 1930.1L1607.7 1925.8L1609.5 1921.5L1611.1 1917.1L1612.6 1912.8L1613.9 1908.4L1614.8 1904.4L1615.6 1900.5L1616.2 1896.5L1616.8 1892.6L1614.4 1886.2L1612.1 1879.7L1609.8 1873.3L1607.9 1872.6L1606.1 1871.9L1604.3 1871.2L1605.7 1870L1607.1 1868.8L1608.4 1867.5L1609.7 1866.3L1610.9 1865L1612.2 1863.7L1610.9 1856.9L1609.5 1850.2L1607.6 1848.6L1605.7 1846.9L1603.9 1845.2L1602.1 1843.4L1600.5 1841.6L1598.8 1839.8L1597.3 1837.9L1595.8 1836L1594.4 1834L1593 1832.1L1592 1830.9L1591 1829.7L1590 1828.5L1589.1 1827.2L1588.2 1826L1587.3 1825.6L1586.5 1825.2L1585.7 1824.8L1584.8 1824.3L1584.1 1823.9L1583.3 1823.4L1582.5 1823M1511.4 1717.8L1514 1718L1516.7 1718.2L1519.3 1718.5L1521.8 1718.9L1524.4 1719.4L1526.9 1719.9L1526.4 1717.4L1526.1 1714.8L1525.8 1712.2L1525.6 1709.6L1523.4 1709.5L1521.1 1709.3L1518.9 1709.3L1516.6 1709.2L1514.3 1709.3L1512 1709.4L1509.6 1709.6L1510.2 1712.4L1510.7 1715.1L1511.4 1717.8M1418.7 1717.9L1420 1720.7L1421.3 1723.6L1429.1 1727.6L1436.9 1731.6L1434.9 1733.3L1432.8 1735.1L1430.9 1736.9L1425.4 1732.4L1419.9 1727.8L1419.5 1724.5L1419 1721.2L1418.7 1717.9M1920.8 1647.6L1921.1 1652.6L1921.3 1657.5L1914.9 1653.9L1920.8 1647.6M1289.7 1617.2L1290.2 1611.5L1290.8 1605.7L1294.8 1601.9L1298.7 1598.1L1301.1 1605L1297.2 1609L1293.4 1613.1L1289.7 1617.2M1389.7 1530.7L1394.6 1528.1L1399.5 1525.6L1399 1529.4L1394.3 1530L1389.7 1530.7"/></g>
<g fill="none" stroke="#000" stroke-width="1.9"><circle cx="1582.5" cy="1777.5" r="126.9"/><circle cx="1582.5" cy="1777.5" r="258.3"/><circle cx="1582.5" cy="1777.5" r="399.3"/><path d="M1582.5 1770.5L1582.5 1314.5M1582.5 1784.5L1582.5 2240.5M1588.6 1774L1983.5 1546M1576.4 1781L1181.5 2009M1588.6 1781L1983.5 2009M1576.4 1774L1181.5 1546"/></g>
<rect x="1580.3" y="1775.3" width="4.4" height="4.4" fill="#fff"/>
<circle cx="1582.5" cy="1777.5" r="463" fill="none" stroke="#000" stroke-width="3.3"/>
</svg></body></html>
